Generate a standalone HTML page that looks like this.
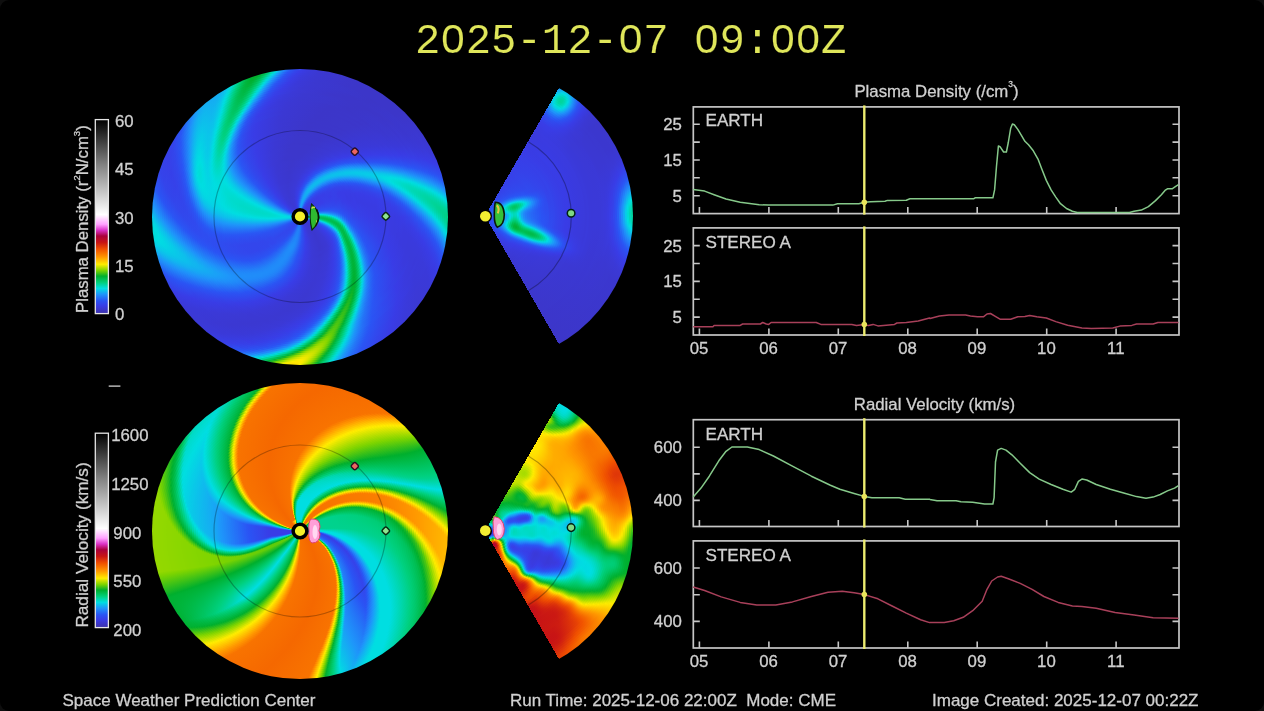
<!DOCTYPE html>
<html lang="en"><head><meta charset="utf-8"><title>WSA-Enlil Solar Wind Prediction</title>
<style>
html{margin:0;padding:0;background:#0e0e0e}
body{margin:0;padding:0;background:#000;border-radius:9px}
body{width:1264px;height:711px;overflow:hidden;position:relative;font-family:"Liberation Sans","DejaVu Sans",sans-serif}
.d{position:absolute;filter:blur(.7px)}
.d i{position:absolute;border-radius:50%;display:block}
.ov{position:absolute;left:0;top:0;filter:blur(.45px)}
.t{font-family:"Liberation Sans","DejaVu Sans",sans-serif;font-size:16.8px;fill:#d0d0d0;stroke:#d0d0d0;stroke-width:.3px}
</style></head><body>
<div class="d" style="left:151.5px;top:68.0px;width:297.0px;height:297.0px">
<i style="inset:0.5px;background:conic-gradient(from 90deg,#00d186 0deg,#00d288 1deg,#00d49b 3deg,#00d6ab 4deg,#00dcd6 6deg,#04d4e4 7deg,#1c9af9 10deg,#266cf6 13deg,#2a54f4 15deg,#3542ea 19deg,#393ce4 22deg,#3a39d8 28deg,#3b39d5 37deg,#3a3ada 45deg,#393ce6 53deg,#3345eb 59deg,#2a54f4 66deg,#2570f7 70deg,#1f8ff9 73deg,#13aff1 75deg,#03d7e3 77deg,#00dbcb 78deg,#00d186 80deg,#00b132 83deg,#28bb1f 84deg,#83d500 86deg,#cbe200 88deg,#e8e800 89deg,#feec00 90deg,#ffe400 91deg,#ffdf00 93deg,#ffec00 95deg,#e9e800 96deg,#cce300 97deg,#a9dc00 98deg,#80d500 99deg,#1fb822 101deg,#00b439 102deg,#00cd75 104deg,#00d49b 105deg,#00dac2 106deg,#02d9e3 107deg,#1f93fa 110deg,#2767f6 113deg,#2b52f3 115deg,#373fe8 121deg,#3a3ada 129deg,#3b39d6 136deg,#3a39d9 143deg,#393ce5 149deg,#3445eb 153deg,#2b53f3 157deg,#2764f5 159deg,#1d98f9 164deg,#0ac6e9 168deg,#00dde1 171deg,#00ddd7 174deg,#01dde1 177deg,#0ac6e9 180deg,#1d99f9 184deg,#2957f4 191deg,#3445eb 197deg,#373fe7 205deg,#3345eb 211deg,#2a54f4 216deg,#1e96fa 224deg,#16a9f4 227deg,#14aef2 229deg,#15abf3 235deg,#13b0f1 237deg,#0ebdec 239deg,#04d5e4 241deg,#00ddd8 242deg,#00d187 245deg,#00cb70 246deg,#00bb4b 248deg,#00b132 250deg,#02b02c 251deg,#03b02c 252deg,#00b030 253deg,#00b439 254deg,#00c25b 256deg,#00cc72 257deg,#00d392 258deg,#00dee0 260deg,#17a6f4 262deg,#208df9 263deg,#2a56f4 266deg,#3148ed 268deg,#393ce5 271deg,#3a3ada 274deg,#3b38d2 278deg,#3c36c9 293deg,#3c36c8 314deg,#3b38d3 331deg,#3a3ada 335deg,#393ce6 339deg,#2e4ef0 344deg,#2b53f3 345deg,#285ef5 346deg,#1d99f9 350deg,#04d4e5 353deg,#00dcd6 354deg,#00d7ac 356deg,#00d49c 357deg,#00d288 359deg,#00d186 360deg)"></i>
<i style="inset:2.5px;background:conic-gradient(from 90deg,#00d28b 0deg,#00d59e 2deg,#00d7ae 3deg,#00ddd8 5deg,#05d2e5 6deg,#1d98f9 9deg,#266bf6 12deg,#2b53f3 14deg,#3542ea 18deg,#393be3 21deg,#3a39d8 27deg,#3b39d5 36deg,#3a3ada 44deg,#393ce5 51deg,#3345eb 58deg,#2a54f4 65deg,#2570f7 69deg,#1f8ff9 72deg,#14aef2 74deg,#03d6e4 76deg,#00dbcc 77deg,#00d187 79deg,#00b132 82deg,#27bb1f 83deg,#82d500 85deg,#c8e200 87deg,#e3e700 88deg,#f7eb00 89deg,#ffe900 90deg,#ffe600 91deg,#fdec00 93deg,#ebe800 94deg,#d1e400 95deg,#b1de00 96deg,#8bd700 97deg,#5fcb0b 98deg,#00b030 100deg,#00c96c 102deg,#00d38f 103deg,#00dede 105deg,#1e97fa 108deg,#2477f7 110deg,#2a54f4 113deg,#3740e8 119deg,#3a3ada 127deg,#3b39d5 135deg,#3a39d9 142deg,#393ce5 148deg,#2b53f3 156deg,#1d97fa 163deg,#0fbaed 166deg,#04d5e4 169deg,#00dee0 171deg,#00dddb 173deg,#00dee1 175deg,#05d3e5 177deg,#0bc2eb 179deg,#1e96fa 183deg,#2a56f4 190deg,#3543ea 197deg,#373fe8 204deg,#3444eb 209deg,#2b52f3 214deg,#2957f4 215deg,#1f93fa 222deg,#15acf2 226deg,#13b1f1 228deg,#14aef2 234deg,#12b2f0 236deg,#0dbfec 238deg,#03d7e3 240deg,#00dcd4 241deg,#00d185 244deg,#00c35c 246deg,#00b63e 248deg,#00b030 250deg,#00b030 251deg,#00b336 252deg,#00bd50 254deg,#00cf7b 256deg,#00dac3 258deg,#03d7e3 259deg,#1a9ff7 261deg,#2475f7 263deg,#2a54f4 265deg,#3543ea 268deg,#393ce5 270deg,#3a3ada 273deg,#3b38d2 277deg,#3c36c9 292deg,#3c36c8 313deg,#3b38d2 329deg,#3a39d9 334deg,#393ce5 338deg,#2e4df0 343deg,#295cf5 345deg,#1e96fa 349deg,#05d1e6 352deg,#00ddda 353deg,#00d7af 355deg,#00d393 357deg,#00d289 359deg,#00d28b 360deg)"></i>
<i style="inset:4.5px;background:conic-gradient(from 90deg,#00d394 0deg,#00d7b0 2deg,#00ddda 4deg,#05d2e5 5deg,#1d97fa 8deg,#266bf6 11deg,#2b53f3 13deg,#3542e9 17deg,#393be3 20deg,#3a39d8 26deg,#3b39d5 35deg,#3a3adb 43deg,#393ce5 50deg,#3345eb 57deg,#2a54f4 64deg,#256ff6 68deg,#1f8ef9 71deg,#14adf2 73deg,#04d6e4 75deg,#00dbcd 76deg,#00d188 78deg,#00b132 81deg,#27ba1f 82deg,#80d500 84deg,#a5db00 85deg,#c4e100 86deg,#dde600 87deg,#f0e900 88deg,#faeb00 89deg,#fdec00 90deg,#f7eb00 91deg,#eae800 92deg,#d4e400 93deg,#b8df00 94deg,#95d800 95deg,#6ccf06 96deg,#0ab22a 98deg,#00b945 99deg,#00d184 101deg,#00dcd4 103deg,#07cde7 104deg,#1b9df8 106deg,#208af9 107deg,#266df6 109deg,#2a55f4 111deg,#3148ed 114deg,#383ee7 118deg,#3a39d9 126deg,#3b39d5 133deg,#3a39d9 141deg,#393ce5 147deg,#2a53f4 155deg,#1e97fa 162deg,#0fb9ee 165deg,#08cbe7 167deg,#01dce2 170deg,#00dee1 173deg,#03d6e4 175deg,#09c8e9 177deg,#1e94fa 182deg,#2a55f4 189deg,#3543ea 196deg,#373fe8 203deg,#3345eb 208deg,#2b53f3 213deg,#1e96fa 221deg,#17a6f4 223deg,#13b0f1 225deg,#11b5ef 228deg,#13b0f1 233deg,#11b4ef 235deg,#0cc2eb 237deg,#02d9e3 239deg,#00dcd2 240deg,#00d59f 242deg,#00d184 243deg,#00c35d 245deg,#00b741 247deg,#00b234 249deg,#00b235 250deg,#00b53c 251deg,#00c057 253deg,#00c86b 254deg,#00d184 255deg,#00dbcd 257deg,#06d0e6 258deg,#1d9af9 260deg,#2571f7 262deg,#2b53f3 264deg,#3542ea 267deg,#393ce4 269deg,#3a3ada 272deg,#3b38d2 277deg,#3c36c8 294deg,#3c36c9 315deg,#3b39d6 331deg,#383de7 338deg,#2c51f2 343deg,#2767f6 345deg,#1f93fa 348deg,#00dedf 352deg,#00d8b4 354deg,#00d497 356deg,#00d28c 358deg,#00d394 360deg)"></i>
<i style="inset:6.5px;background:conic-gradient(from 90deg,#00d5a1 0deg,#00d7b1 1deg,#00ddda 3deg,#05d1e5 4deg,#1d97fa 7deg,#266af6 10deg,#2b53f3 12deg,#3542e9 16deg,#393ce4 19deg,#3a39d8 25deg,#3b39d6 34deg,#3a3adb 42deg,#393ce6 49deg,#3149ee 58deg,#2a54f4 63deg,#2959f4 64deg,#2478f7 68deg,#1c9bf8 71deg,#04d4e4 74deg,#00dbce 75deg,#00d288 77deg,#00b133 80deg,#26ba1f 81deg,#7ed400 83deg,#a2db00 84deg,#c0e000 85deg,#d7e500 86deg,#e7e800 87deg,#efe900 88deg,#efe900 89deg,#e6e700 90deg,#d5e400 91deg,#bce000 92deg,#9dda00 93deg,#77d202 94deg,#18b624 96deg,#00b53d 97deg,#00ce79 99deg,#00dbc9 101deg,#04d4e5 102deg,#19a2f6 104deg,#1f8ef9 105deg,#2570f7 107deg,#2958f4 109deg,#3149ee 112deg,#373fe8 116deg,#3a39d9 124deg,#3b39d5 132deg,#3a39d9 140deg,#393ce6 146deg,#2a53f4 154deg,#1e96fa 161deg,#10b8ee 164deg,#09c9e8 166deg,#02d9e3 169deg,#01dce2 171deg,#03d7e3 173deg,#0ac5ea 176deg,#1f92fa 181deg,#2a54f4 188deg,#3443ea 195deg,#3740e8 202deg,#3346ec 207deg,#2a54f4 212deg,#1f92fa 219deg,#16aaf3 222deg,#12b4f0 224deg,#10b8ee 227deg,#12b2f0 232deg,#11b6ef 234deg,#0bc3ea 236deg,#01dbe2 238deg,#00dcd0 239deg,#00d185 242deg,#00c35f 244deg,#00b844 246deg,#00b439 248deg,#00b53b 249deg,#00b741 250deg,#00c35d 252deg,#00cb71 253deg,#00d28d 254deg,#00dcd6 256deg,#08cbe8 257deg,#1e95fa 259deg,#256ff6 261deg,#2b52f3 263deg,#3542e9 266deg,#393ce4 268deg,#3a3ada 271deg,#3b38d2 276deg,#3c36c9 292deg,#3c36c9 313deg,#3b38d4 329deg,#383de6 337deg,#304bef 341deg,#2957f4 343deg,#1f8ff9 347deg,#01dbe2 351deg,#00d6a8 354deg,#00d392 356deg,#00d28f 357deg,#00d390 358deg,#00d5a1 360deg)"></i>
<i style="inset:8.5px;background:conic-gradient(from 90deg,#00d7b2 0deg,#00ddda 2deg,#05d1e5 3deg,#1d97f9 6deg,#266bf6 9deg,#2b53f3 11deg,#3542e9 15deg,#393ce4 18deg,#3a39d9 24deg,#3b39d6 33deg,#3a3adb 40deg,#393ce6 48deg,#3149ee 57deg,#2a54f4 62deg,#2959f4 63deg,#2477f7 67deg,#1d99f9 70deg,#04d3e5 73deg,#00dcd0 74deg,#00d28a 76deg,#00b233 79deg,#25ba20 80deg,#7cd400 82deg,#9eda00 83deg,#badf00 84deg,#d0e300 85deg,#dde600 86deg,#e2e700 87deg,#dfe600 88deg,#d3e400 89deg,#bfe000 90deg,#a3db00 91deg,#81d500 92deg,#56c90e 93deg,#27ba1f 94deg,#00b234 95deg,#00cb71 97deg,#00d9be 99deg,#01dbe2 100deg,#17a8f4 102deg,#1f92fa 103deg,#2766f6 106deg,#2b52f3 108deg,#373fe8 114deg,#3a39d8 123deg,#3b38d4 131deg,#3a39d9 139deg,#393ce6 145deg,#2a54f4 153deg,#1e95fa 160deg,#11b6ef 163deg,#09c7e9 165deg,#03d7e4 168deg,#02d9e3 170deg,#04d4e4 172deg,#0cc2eb 175deg,#1f90f9 180deg,#2a54f4 187deg,#3445eb 193deg,#3740e8 200deg,#3346ec 206deg,#2a56f4 211deg,#1e95fa 218deg,#14adf2 221deg,#10b7ef 223deg,#0fbaed 226deg,#11b4f0 231deg,#10b8ee 233deg,#0bc5ea 235deg,#01dce2 237deg,#00dccf 238deg,#00d186 241deg,#00c461 243deg,#00ba47 245deg,#00b63e 247deg,#00ba47 249deg,#00c563 251deg,#00ce77 252deg,#00d395 253deg,#00dddd 255deg,#0ac6e9 256deg,#1f92fa 258deg,#285cf5 261deg,#2c51f2 262deg,#3542e9 265deg,#393ce4 267deg,#3a3ada 270deg,#3b38d2 275deg,#3c36c9 292deg,#3c36c9 312deg,#3b38d4 328deg,#3a3ada 332deg,#393ce6 336deg,#304aee 340deg,#2a54f4 342deg,#208bf9 346deg,#1b9df8 347deg,#03d6e4 350deg,#00dcd4 351deg,#00d7ad 353deg,#00d59f 354deg,#00d392 356deg,#00d393 357deg,#00d498 358deg,#00d7b2 360deg)"></i>
<i style="inset:10.5px;background:conic-gradient(from 90deg,#00dac4 0deg,#00ddda 1deg,#05d2e5 2deg,#1d98f9 5deg,#266bf6 8deg,#2b53f3 10deg,#3542ea 14deg,#393ce4 17deg,#3a39d9 23deg,#3b39d7 32deg,#3a3adb 39deg,#393ce6 47deg,#3149ee 56deg,#2a54f4 61deg,#2959f4 62deg,#2476f7 66deg,#1d98f9 69deg,#05d2e5 72deg,#00dcd2 73deg,#00d28b 75deg,#00b234 78deg,#23b920 79deg,#78d302 81deg,#9ad900 82deg,#b4de00 83deg,#c8e200 84deg,#d3e400 85deg,#d5e400 86deg,#cee300 87deg,#bfe000 88deg,#a8dc00 89deg,#89d600 90deg,#62cc0a 91deg,#03b02c 93deg,#00c767 95deg,#00d289 96deg,#00dddb 98deg,#09c8e9 99deg,#1e97fa 101deg,#2669f6 104deg,#2b53f3 106deg,#3740e8 112deg,#3a39d9 121deg,#3b38d4 129deg,#3a39d8 137deg,#393ce6 144deg,#2a54f4 152deg,#1e95fa 159deg,#11b4ef 162deg,#0ac5ea 164deg,#04d4e4 167deg,#03d6e4 169deg,#05d1e5 171deg,#0dbfec 174deg,#1d98f9 178deg,#266af6 183deg,#2a54f4 186deg,#3345eb 192deg,#3640e8 199deg,#3345eb 204deg,#2b52f3 209deg,#2861f5 211deg,#1d98f9 217deg,#13b1f1 220deg,#0fbaed 222deg,#0ebdec 225deg,#11b6ef 230deg,#0fbaee 232deg,#0ac6e9 234deg,#01dce2 236deg,#00dbcf 237deg,#00d187 240deg,#00c563 242deg,#00bb4b 244deg,#00b842 246deg,#00bc4c 248deg,#00c869 250deg,#00d07d 251deg,#01dce2 254deg,#17a7f4 256deg,#1f8ff9 257deg,#295bf5 260deg,#2c51f2 261deg,#393ce5 266deg,#3a39d9 270deg,#3b38d0 277deg,#3c36c7 302deg,#3b38d0 324deg,#3a39d8 330deg,#393ce5 335deg,#2e4df0 340deg,#2b52f3 341deg,#285df5 342deg,#1e97fa 346deg,#05d1e6 349deg,#00dddb 350deg,#00d8b3 352deg,#00d5a4 353deg,#00d395 355deg,#00d395 356deg,#00d49a 357deg,#00d5a4 358deg,#00dac4 360deg)"></i>
<i style="inset:12.5px;background:conic-gradient(from 90deg,#00ddd9 0deg,#05d2e5 1deg,#1d99f9 4deg,#266cf6 7deg,#2a53f4 9deg,#3542ea 13deg,#393ce4 16deg,#3a3ada 22deg,#3a39d7 31deg,#3a3adc 38deg,#393ce5 45deg,#304aee 55deg,#2a54f4 60deg,#2959f4 61deg,#2476f7 65deg,#1e97fa 68deg,#06d0e6 71deg,#00dcd4 72deg,#00d28d 74deg,#00c96d 75deg,#00b235 77deg,#20b921 78deg,#74d103 80deg,#95d800 81deg,#aedd00 82deg,#bee000 83deg,#c7e200 84deg,#c6e200 85deg,#bce000 86deg,#aadc00 87deg,#8fd700 88deg,#6ccf06 89deg,#42c215 90deg,#12b427 91deg,#00b740 92deg,#00d07d 94deg,#00dccf 96deg,#06cfe6 97deg,#1b9df8 99deg,#208af9 100deg,#266cf6 102deg,#2a54f4 104deg,#3345eb 108deg,#393ce6 112deg,#3a39d8 120deg,#3b38d3 128deg,#3a39d8 136deg,#393ce6 143deg,#2a54f4 151deg,#1e94fa 158deg,#12b3f0 161deg,#0bc3ea 163deg,#05d1e5 166deg,#05d3e5 168deg,#07cee7 170deg,#0ebced 173deg,#1e95fa 177deg,#2669f6 182deg,#2a53f4 185deg,#3345eb 191deg,#3640e9 198deg,#3346ec 203deg,#2a53f4 208deg,#1f92fa 215deg,#14aef2 218deg,#0dbeec 221deg,#0cc0eb 224deg,#10b8ee 229deg,#0ebced 231deg,#09c7e9 233deg,#00dde1 235deg,#00dbce 236deg,#00cc74 240deg,#00c158 242deg,#00bd4e 243deg,#00ba47 245deg,#00be52 247deg,#00ca6f 249deg,#00d186 250deg,#00dac7 252deg,#03d7e4 253deg,#19a3f6 255deg,#208cf9 256deg,#2959f4 259deg,#2d50f2 260deg,#393ce5 265deg,#3a39d9 269deg,#3b38d0 276deg,#3c36c8 301deg,#3b37cf 322deg,#3a39d7 329deg,#393ce4 334deg,#3247ed 338deg,#2959f4 341deg,#1f92fa 345deg,#00dde1 349deg,#00d8b9 351deg,#00d6a9 352deg,#00d499 354deg,#00d498 355deg,#00d6a5 357deg,#00d8b3 358deg,#00ddd9 360deg)"></i>
<i style="inset:14.5px;background:conic-gradient(from 90deg,#05d3e5 0deg,#1c9af9 3deg,#266df6 6deg,#2a54f4 8deg,#3346ec 11deg,#393ce5 15deg,#3a3ada 21deg,#3a39d8 30deg,#3a3adc 37deg,#393ce6 44deg,#304aee 54deg,#2a54f4 59deg,#285ff5 61deg,#2475f7 64deg,#1e95fa 67deg,#06cee6 70deg,#00ddd6 71deg,#00ca6f 74deg,#00b337 76deg,#1eb822 77deg,#49c513 78deg,#70d005 79deg,#8fd700 80deg,#a6dc00 81deg,#b5de00 82deg,#badf00 83deg,#b7df00 84deg,#aadc00 85deg,#94d800 86deg,#75d203 87deg,#4ec611 88deg,#21b921 89deg,#00b337 90deg,#00cc73 92deg,#00d49a 93deg,#00dac3 94deg,#03d7e3 95deg,#18a3f5 97deg,#1f8ef9 98deg,#256ff6 100deg,#2957f4 102deg,#3149ee 105deg,#383de6 110deg,#3a39d8 118deg,#3b38d3 127deg,#3a39d8 135deg,#393ce6 142deg,#2a54f4 150deg,#1f93fa 157deg,#13b1f1 160deg,#0cc1eb 162deg,#06cee6 165deg,#06d0e6 167deg,#08cbe8 169deg,#10b8ee 172deg,#1f93fa 176deg,#2668f6 181deg,#2b53f3 184deg,#3345eb 190deg,#3641e9 197deg,#3346ec 202deg,#2a55f4 207deg,#1e95fa 214deg,#13b2f0 217deg,#0dbeec 219deg,#0bc4ea 222deg,#0fbaed 228deg,#0ebdec 230deg,#09c9e8 232deg,#00dee1 234deg,#00cd76 239deg,#00c25b 241deg,#00be52 242deg,#00bc4c 244deg,#00c158 246deg,#00cd75 248deg,#00d28e 249deg,#00dcd0 251deg,#05d1e6 252deg,#1b9ef7 254deg,#2089f9 255deg,#2957f4 258deg,#3345eb 261deg,#393ce5 264deg,#3a39d9 268deg,#3b38d1 275deg,#3c36c8 300deg,#3b37cf 321deg,#3a39d7 328deg,#393be3 333deg,#3346ec 337deg,#2a55f4 340deg,#227ef8 343deg,#1a9ff7 345deg,#03d8e3 348deg,#00dcd3 349deg,#00d7af 351deg,#00d49c 353deg,#00d49a 354deg,#00d6a6 356deg,#00d8b3 357deg,#00ddd9 359deg,#05d3e5 360deg)"></i>
<i style="inset:16.5px;background:conic-gradient(from 90deg,#0cc2eb 0deg,#1c9cf8 2deg,#256ef6 5deg,#2a54f4 7deg,#3346ec 10deg,#393ce5 14deg,#3a3ada 20deg,#3a39d8 29deg,#393ce6 43deg,#304aee 53deg,#2a54f4 58deg,#285ff5 60deg,#2474f7 63deg,#1e94fa 66deg,#07cce7 69deg,#00ddda 70deg,#00cb71 73deg,#00b439 75deg,#1ab724 76deg,#45c314 77deg,#6bcf07 78deg,#88d600 79deg,#9eda00 80deg,#aadc00 81deg,#addd00 82deg,#a6dc00 83deg,#96d900 84deg,#7dd400 85deg,#5aca0d 86deg,#30bd1c 87deg,#00af2d 88deg,#00c869 90deg,#00d28c 91deg,#00dede 93deg,#0bc4ea 94deg,#1e94fa 96deg,#2766f6 99deg,#2b52f3 101deg,#373fe8 107deg,#3a39d8 116deg,#3b38d3 124deg,#3b39d7 133deg,#393ce4 140deg,#3443ea 144deg,#2a54f4 149deg,#1f93fa 156deg,#10b8ee 160deg,#09c9e8 163deg,#07cde7 166deg,#09c8e9 168deg,#0ebded 170deg,#1f91fa 175deg,#2767f6 180deg,#2b53f3 183deg,#3345eb 189deg,#3641e9 196deg,#3149ee 202deg,#2958f4 206deg,#1d99f9 213deg,#11b6ef 216deg,#0cc1eb 218deg,#0ac7e9 221deg,#0ebced 227deg,#0dbfec 229deg,#08cbe8 231deg,#00dedf 233deg,#00cd77 238deg,#00c35d 240deg,#00be51 242deg,#00c055 244deg,#00c96b 246deg,#00d07d 247deg,#00d498 248deg,#00ddd9 250deg,#08cbe8 251deg,#1d99f9 253deg,#2474f7 255deg,#2a55f4 257deg,#3445eb 260deg,#393ce5 263deg,#3a3ada 267deg,#3b38d2 273deg,#3c36c8 294deg,#3c37cb 314deg,#3b38d2 323deg,#3a3ada 329deg,#383ee7 334deg,#2b53f3 339deg,#266bf6 341deg,#1d99f9 344deg,#05d2e5 347deg,#00ddda 348deg,#00d8b5 350deg,#00d6a8 351deg,#00d5a0 352deg,#00d59d 353deg,#00d5a0 354deg,#00d6a7 355deg,#00d8b3 356deg,#00ddd8 358deg,#04d4e4 359deg,#0cc2eb 360deg)"></i>
<i style="inset:18.5px;background:conic-gradient(from 90deg,#13b0f1 0deg,#1b9df8 1deg,#208cf9 2deg,#2a55f4 6deg,#3543ea 10deg,#393be3 14deg,#3a3ada 20deg,#3a39d9 28deg,#393ce5 41deg,#304aee 52deg,#2a54f4 57deg,#285ef5 59deg,#2473f7 62deg,#1f92fa 65deg,#11b5ef 67deg,#00dddd 69deg,#00cc73 72deg,#00b53b 74deg,#16b525 75deg,#40c216 76deg,#65cd09 77deg,#81d500 78deg,#94d800 79deg,#9eda00 80deg,#9eda00 81deg,#95d800 82deg,#81d500 83deg,#64cc09 84deg,#3dc117 85deg,#11b427 86deg,#00b740 87deg,#00d07d 89deg,#00dcd1 91deg,#07cde7 92deg,#1c9af9 94deg,#2478f7 96deg,#2a53f4 99deg,#3640e8 105deg,#3a39d7 115deg,#3b38d2 123deg,#3b39d7 132deg,#393ce4 139deg,#3444ea 143deg,#2a54f4 148deg,#1f92fa 155deg,#11b6ef 159deg,#0ac6e9 162deg,#08cae8 165deg,#0bc4ea 167deg,#0fb9ee 169deg,#1d97fa 173deg,#2766f6 179deg,#2b52f3 182deg,#3345eb 188deg,#3641e9 194deg,#3346ec 199deg,#2a53f4 204deg,#1e94fa 211deg,#12b2f0 214deg,#0ac5ea 217deg,#08cae8 220deg,#0dbfec 225deg,#0cc1eb 228deg,#03d6e4 231deg,#00dddc 232deg,#00ce77 237deg,#00c45f 239deg,#00c055 241deg,#00c25b 243deg,#00cc73 245deg,#00d187 246deg,#01dce2 249deg,#1f93fa 252deg,#256ff6 254deg,#2b53f3 256deg,#3444eb 259deg,#393ce4 262deg,#3a3ada 266deg,#3b38d3 271deg,#3c36c9 290deg,#3c36c9 309deg,#3b39d5 325deg,#383ee7 333deg,#2c51f2 338deg,#2767f6 340deg,#1e94fa 343deg,#00dee1 347deg,#00d9bb 349deg,#00d7ad 350deg,#00d5a4 351deg,#00d5a0 352deg,#00d5a2 353deg,#00d6a8 354deg,#00d8b4 355deg,#00ddd7 357deg,#04d5e4 358deg,#13b0f1 360deg)"></i>
<i style="inset:20.5px;background:conic-gradient(from 90deg,#1b9ef7 0deg,#227ef8 2deg,#2a56f4 5deg,#3247ec 8deg,#393ce6 12deg,#3a3adc 17deg,#3a39d9 25deg,#3a3add 33deg,#393ce6 40deg,#2a54f4 56deg,#2572f7 61deg,#2184f8 63deg,#1a9ff7 65deg,#00dde1 68deg,#00cd76 71deg,#00b63e 73deg,#10b427 74deg,#3ac018 75deg,#5dcb0b 76deg,#79d301 77deg,#8bd600 78deg,#92d800 79deg,#8fd700 80deg,#83d500 81deg,#6bcf06 82deg,#4ac512 83deg,#21b921 84deg,#00b235 85deg,#00cb71 87deg,#00d497 88deg,#00dac1 89deg,#03d8e3 90deg,#19a2f6 92deg,#208df9 93deg,#256ef6 95deg,#2a56f4 97deg,#3149ee 100deg,#383de7 105deg,#3a39d8 113deg,#3b38d2 122deg,#3b39d7 131deg,#393ce4 138deg,#3444eb 142deg,#2a55f4 147deg,#1f91fa 154deg,#11b4f0 158deg,#0bc4ea 161deg,#0ac7e9 164deg,#0cc1eb 166deg,#11b6ef 168deg,#1e95fa 172deg,#2a56f4 180deg,#3345eb 187deg,#3542ea 194deg,#3149ee 199deg,#2a56f4 203deg,#1d99f9 210deg,#10b8ee 213deg,#08cae8 216deg,#07cde7 219deg,#0cc1eb 224deg,#0bc3ea 227deg,#02d9e3 230deg,#00ddd8 231deg,#00d188 235deg,#00cd77 236deg,#00c561 238deg,#00c15a 240deg,#00c562 242deg,#00d07c 244deg,#00d394 245deg,#00dcd1 247deg,#05d2e5 248deg,#19a2f6 250deg,#208df9 251deg,#295cf5 254deg,#2c51f2 255deg,#3543ea 258deg,#393ce4 261deg,#3b39d5 269deg,#3c36ca 285deg,#3c36c8 303deg,#3b37cf 319deg,#3a39d9 327deg,#393de6 332deg,#2d50f1 337deg,#2a56f4 338deg,#1f8ff9 342deg,#1aa1f6 343deg,#02d8e3 346deg,#00dcd3 347deg,#00d7b2 349deg,#00d6a8 350deg,#00d5a4 351deg,#00d5a4 352deg,#00d8b4 354deg,#00dcd6 356deg,#03d6e4 357deg,#1b9ef7 360deg)"></i>
<i style="inset:22.5px;background:conic-gradient(from 90deg,#1f8ef9 0deg,#2a57f4 4deg,#2f4bef 6deg,#3641e9 9deg,#393ce6 11deg,#3a3ade 15deg,#3a3ada 20deg,#3a3ade 33deg,#383ee7 41deg,#2a54f4 55deg,#2570f7 60deg,#2282f8 62deg,#1c9bf8 64deg,#02d9e3 67deg,#00dac5 68deg,#00cf7a 70deg,#00b842 72deg,#09b22a 73deg,#32be1b 74deg,#55c80e 75deg,#6fd005 76deg,#80d500 77deg,#85d600 78deg,#80d500 79deg,#70d005 80deg,#55c80e 81deg,#31bd1b 82deg,#05b12b 83deg,#00b946 84deg,#00d185 86deg,#00ddda 88deg,#0ac7e9 89deg,#1e94fa 91deg,#2766f6 94deg,#2b52f3 96deg,#3740e8 102deg,#3a39d7 112deg,#3b38d2 120deg,#3b39d6 129deg,#393ce5 137deg,#3247ec 142deg,#2a55f4 146deg,#1f91fa 153deg,#12b3f0 157deg,#0cc1eb 160deg,#0bc3ea 163deg,#0dbeec 165deg,#12b3f0 167deg,#1f92fa 171deg,#2a55f4 179deg,#3247ec 185deg,#3543ea 192deg,#3148ed 197deg,#2a53f4 201deg,#266df6 204deg,#1e94fa 208deg,#11b5ef 211deg,#08cae8 214deg,#06d0e6 217deg,#0cc2eb 223deg,#0ac5ea 226deg,#01dce2 229deg,#00dcd3 230deg,#00d185 234deg,#00cd76 235deg,#00c563 237deg,#00c35f 239deg,#00c562 240deg,#00cd77 242deg,#00d28a 243deg,#00d5a4 244deg,#00dee1 246deg,#1d97fa 249deg,#2474f7 251deg,#2a57f4 253deg,#304aee 255deg,#373fe8 258deg,#3b39d6 267deg,#3c37cb 282deg,#3c36c8 298deg,#3c37cc 313deg,#3b39d6 324deg,#373fe7 332deg,#2a53f4 337deg,#266cf6 339deg,#1c9bf8 342deg,#05d3e5 345deg,#00ddda 346deg,#00d8b8 348deg,#00d7ad 349deg,#00d6a7 350deg,#00d6a7 351deg,#00d6ab 352deg,#00d8b5 353deg,#00dcd5 355deg,#03d7e4 356deg,#1aa0f7 359deg,#1f8ef9 360deg)"></i>
<i style="inset:24.5px;background:conic-gradient(from 90deg,#2280f8 0deg,#2957f4 3deg,#2c50f2 4deg,#393ce6 10deg,#3a3add 15deg,#3a39d9 22deg,#3a3adc 30deg,#393ce6 38deg,#2a53f4 54deg,#256ef6 59deg,#2280f8 61deg,#1d98f9 63deg,#04d5e4 66deg,#00dbcb 67deg,#00d07f 69deg,#01af2d 72deg,#2abb1e 73deg,#4cc612 74deg,#65cd09 75deg,#74d103 76deg,#77d202 77deg,#6fd005 78deg,#5cca0c 79deg,#3ec117 80deg,#18b624 81deg,#00b43a 82deg,#00cd75 84deg,#00dbc8 86deg,#05d2e5 87deg,#1b9df7 89deg,#2089f9 90deg,#266bf6 92deg,#2a54f4 94deg,#3148ed 97deg,#383de7 102deg,#3a39d8 110deg,#3b38d2 119deg,#3b39d6 128deg,#393ce5 136deg,#3247ed 141deg,#2a56f4 145deg,#1f91fa 152deg,#13b1f1 156deg,#0dbfec 159deg,#0cc1eb 161deg,#0dbeec 163deg,#14aff1 166deg,#1d97fa 169deg,#2a54f4 178deg,#3247ec 184deg,#3443ea 191deg,#304aee 196deg,#2958f4 200deg,#1f91fa 206deg,#0ebced 210deg,#06cfe6 213deg,#05d3e5 216deg,#0ac5ea 221deg,#0bc4ea 224deg,#03d6e4 227deg,#00dede 228deg,#00d181 233deg,#00c96b 235deg,#00c563 237deg,#00c86a 239deg,#00cc74 240deg,#00d184 241deg,#00d49b 242deg,#00dcd4 244deg,#06d0e6 245deg,#19a2f6 247deg,#208df9 248deg,#266cf6 250deg,#2b52f3 252deg,#3444eb 255deg,#393ce5 258deg,#3a3ada 263deg,#3b38d0 272deg,#3c36c8 297deg,#3b38d0 318deg,#3a39d8 325deg,#393ce5 330deg,#3248ed 334deg,#2b52f3 336deg,#295bf5 337deg,#1e95fa 341deg,#00dee1 345deg,#00d9bd 347deg,#00d7b1 348deg,#00d6ab 349deg,#00d6a9 350deg,#00d7ad 351deg,#00d8b6 352deg,#00dcd5 354deg,#03d7e3 355deg,#1aa1f6 358deg,#2280f8 360deg)"></i>
<i style="inset:26.5px;background:conic-gradient(from 90deg,#2572f7 0deg,#2958f4 2deg,#2c50f2 3deg,#393ce6 9deg,#3a3add 14deg,#3a3ada 21deg,#3a3add 29deg,#393ce6 37deg,#3149ee 47deg,#2a57f4 54deg,#2474f7 59deg,#1e94fa 62deg,#18a5f5 63deg,#06d0e6 65deg,#00dcd2 66deg,#00d186 68deg,#00c767 69deg,#00b131 71deg,#43c315 73deg,#5aca0c 74deg,#67ce08 75deg,#69ce07 76deg,#5ecb0b 77deg,#48c413 78deg,#28bb1f 79deg,#00af2e 80deg,#00c767 82deg,#00d28a 83deg,#00dedf 85deg,#17a8f4 87deg,#1f91fa 88deg,#2570f7 90deg,#2958f4 92deg,#304aee 95deg,#383ee7 100deg,#3b39d7 109deg,#3b38d1 118deg,#3b39d6 127deg,#393ce6 135deg,#3248ed 140deg,#2957f4 144deg,#1f91fa 151deg,#13b0f1 155deg,#0ebded 158deg,#0dbeec 160deg,#0fbbed 162deg,#15abf3 165deg,#1e94fa 168deg,#2a54f4 177deg,#3247ec 183deg,#3444eb 189deg,#314aee 194deg,#2a56f4 198deg,#2571f7 201deg,#1c9af9 205deg,#0ebced 208deg,#05d1e6 211deg,#03d6e4 214deg,#0ac6e9 220deg,#0ac7e9 223deg,#01dbe2 226deg,#00dcd6 227deg,#00d07d 232deg,#00c96c 234deg,#00c768 235deg,#00c96c 237deg,#00d181 239deg,#00d496 240deg,#00dbcc 242deg,#03d7e3 243deg,#1e94fa 246deg,#2572f7 248deg,#2a56f4 250deg,#3346ec 253deg,#393ce4 257deg,#3a3ada 262deg,#3b38d1 271deg,#3c36c8 296deg,#3b38d0 317deg,#3a39d8 324deg,#393ce4 329deg,#3247ec 333deg,#2958f4 336deg,#1f91fa 340deg,#02d9e3 344deg,#00dcd3 345deg,#00d8b6 347deg,#00d7ae 348deg,#00d7ac 349deg,#00d7af 350deg,#00d8b7 351deg,#00dcd5 353deg,#03d8e3 354deg,#19a1f6 357deg,#1f90f9 358deg,#2572f7 360deg)"></i>
<i style="inset:28.5px;background:conic-gradient(from 90deg,#2764f5 0deg,#2958f4 1deg,#2c51f2 2deg,#393de6 8deg,#3a3add 13deg,#3a3ada 20deg,#3a3add 28deg,#393ce6 36deg,#3149ee 46deg,#2a56f4 53deg,#2474f7 58deg,#1f93fa 61deg,#18a4f5 62deg,#07cee6 64deg,#00dcd4 65deg,#00d288 67deg,#00c869 68deg,#00b233 70deg,#1db822 71deg,#3dc117 72deg,#54c80f 73deg,#5fcb0b 74deg,#5ecb0b 75deg,#51c710 76deg,#38c019 77deg,#15b525 78deg,#00b43a 79deg,#00cc74 81deg,#00dac7 83deg,#05d3e5 84deg,#1b9df8 86deg,#2089f9 87deg,#266af6 89deg,#2a53f4 91deg,#3148ed 94deg,#383de7 99deg,#3b39d6 108deg,#3b38d1 116deg,#3b39d5 125deg,#393ce4 133deg,#3543ea 137deg,#2b52f3 142deg,#1f91fa 150deg,#14aef2 154deg,#0fbaed 157deg,#0ebbed 159deg,#14aef2 163deg,#1f91fa 167deg,#2765f6 173deg,#2b53f3 176deg,#3247ec 182deg,#3345eb 188deg,#314aee 192deg,#2a55f4 196deg,#256ff6 199deg,#1d98f9 203deg,#0bc5ea 207deg,#03d6e4 210deg,#02d8e3 213deg,#09c8e9 218deg,#0ac6e9 221deg,#03d7e3 224deg,#00dedd 225deg,#00d187 230deg,#00cf7a 231deg,#00ca6d 233deg,#00c96c 234deg,#00cd75 236deg,#00d181 237deg,#00d6ab 239deg,#01dce2 241deg,#1d9af9 244deg,#2668f6 247deg,#2c51f2 249deg,#3444eb 252deg,#393ce6 255deg,#3a3adb 260deg,#3b38d1 269deg,#3c36c8 294deg,#3b37cf 315deg,#3a39d8 323deg,#393be3 328deg,#3542ea 331deg,#2a54f4 335deg,#227df8 338deg,#1b9ef7 340deg,#04d5e4 343deg,#00ddd9 344deg,#00d9ba 346deg,#00d7b2 347deg,#00d7af 348deg,#00d7b1 349deg,#00d8b9 350deg,#00dcd6 352deg,#03d8e3 353deg,#19a2f6 356deg,#1f90f9 357deg,#2764f5 360deg)"></i>
<i style="inset:30.5px;background:conic-gradient(from 90deg,#2958f4 0deg,#3248ed 3deg,#393ce4 8deg,#3a3add 13deg,#3a3ada 20deg,#383de7 36deg,#2a56f4 52deg,#2474f7 57deg,#1e94fa 60deg,#18a5f5 61deg,#06d0e6 63deg,#00dcd2 64deg,#00d185 66deg,#00c767 67deg,#00b132 69deg,#3dc117 71deg,#51c710 72deg,#5aca0d 73deg,#56c80e 74deg,#47c414 75deg,#2cbc1d 76deg,#07b12b 77deg,#00b843 78deg,#00d07e 80deg,#00dcd4 82deg,#09cae8 83deg,#1e95fa 85deg,#2765f6 88deg,#2b52f3 90deg,#3640e8 96deg,#3b39d7 106deg,#3b38d1 114deg,#3b39d5 123deg,#393be2 131deg,#3641e9 135deg,#2b53f3 141deg,#1f91fa 149deg,#17a7f4 152deg,#11b5ef 155deg,#10b8ee 158deg,#16aaf3 162deg,#1e95fa 165deg,#2a56f4 174deg,#3148ed 180deg,#3345eb 186deg,#304aee 190deg,#2a54f4 194deg,#256ef6 197deg,#1d97fa 201deg,#0ac5ea 205deg,#02d8e3 208deg,#01dce2 211deg,#0ac7e9 218deg,#09c9e8 220deg,#04d4e5 222deg,#01dce2 223deg,#00dcd5 224deg,#00d183 229deg,#00ce79 230deg,#00cb71 232deg,#00ce78 234deg,#00d182 235deg,#00d6a9 237deg,#00dede 239deg,#1a9ff7 242deg,#208cf9 243deg,#266cf6 245deg,#2b53f3 247deg,#3345eb 250deg,#393ce5 254deg,#3a39d9 260deg,#3b38d0 270deg,#3c36c8 295deg,#3b38d0 316deg,#3a39d9 323deg,#393ce6 328deg,#3345eb 331deg,#2b53f3 334deg,#266bf6 336deg,#1d99f9 339deg,#06d1e6 342deg,#00dede 343deg,#00d9bf 345deg,#00d8b6 346deg,#00d7b2 347deg,#00d8b4 348deg,#00d9ba 349deg,#00ddd7 351deg,#03d7e3 352deg,#1f90f9 356deg,#2958f4 360deg)"></i>
<i style="inset:32.5px;background:conic-gradient(from 90deg,#2c50f2 0deg,#393de6 6deg,#3a3ade 11deg,#3a3adb 16deg,#3a3add 25deg,#3641e9 38deg,#2a56f4 51deg,#2474f7 56deg,#1e94fa 59deg,#17a6f4 60deg,#05d2e5 62deg,#00dbcf 63deg,#00d182 65deg,#00c664 66deg,#00b030 68deg,#3cc117 70deg,#4ec611 71deg,#54c80f 72deg,#4ec611 73deg,#3cc117 74deg,#1fb822 75deg,#00b132 76deg,#00c869 78deg,#00d28c 79deg,#00dde1 81deg,#18a6f5 83deg,#1f8ff9 84deg,#256ef6 86deg,#2a56f4 88deg,#3149ee 91deg,#383de7 96deg,#3b39d6 105deg,#3b38d1 113deg,#3b39d5 122deg,#393be2 130deg,#3542e9 134deg,#2a54f4 140deg,#1f91fa 148deg,#17a6f4 151deg,#12b3f0 154deg,#11b6ef 156deg,#12b3f0 158deg,#17a6f4 161deg,#1f92fa 164deg,#2a55f4 173deg,#3149ed 179deg,#3246ec 185deg,#2a54f4 192deg,#256df6 195deg,#1e96fa 199deg,#0ac5ea 203deg,#04d5e4 205deg,#00dee1 207deg,#00dde1 210deg,#08cae8 215deg,#09c8e9 217deg,#08cce7 219deg,#02d9e3 221deg,#00dddb 222deg,#00d28b 227deg,#00d07f 228deg,#00cd76 230deg,#00cf7a 232deg,#00d184 233deg,#00d6a8 235deg,#00dddb 237deg,#07cee7 238deg,#1f8ff9 241deg,#2570f7 243deg,#2a55f4 245deg,#3247ec 248deg,#393ce6 252deg,#3a3adc 257deg,#3b38d4 264deg,#3c36c9 285deg,#3c36ca 305deg,#3a39d7 321deg,#383ee7 328deg,#2c52f3 333deg,#2668f6 335deg,#1e95fa 338deg,#01dce2 342deg,#00dac3 344deg,#00d8b9 345deg,#00d8b5 346deg,#00d8b6 347deg,#00d9bd 348deg,#00ddd8 350deg,#03d6e4 351deg,#1f90f9 355deg,#2764f5 358deg,#2958f4 359deg,#2c50f2 360deg)"></i>
<i style="inset:34.5px;background:conic-gradient(from 90deg,#2f4bef 0deg,#393de6 5deg,#3a3ade 10deg,#3a3adb 16deg,#3a3add 24deg,#393ce6 32deg,#3443ea 39deg,#2a56f4 50deg,#2766f6 53deg,#2475f7 55deg,#1e96fa 58deg,#17a8f4 59deg,#04d4e4 61deg,#00dbcb 62deg,#00d07e 64deg,#00b02f 67deg,#21b921 68deg,#3bc018 69deg,#4ac512 70deg,#4ec611 71deg,#45c314 72deg,#30bd1c 73deg,#10b427 74deg,#00b53b 75deg,#00cc74 77deg,#00dac6 79deg,#05d3e5 80deg,#1b9df8 82deg,#2088f9 83deg,#2669f6 85deg,#2b53f3 87deg,#3248ed 90deg,#393de6 95deg,#3b39d7 103deg,#3b38d1 112deg,#3b39d5 121deg,#393be3 129deg,#3345eb 134deg,#2a55f4 139deg,#1f91fa 147deg,#18a5f5 150deg,#13b1f1 153deg,#12b3f0 155deg,#13b0f1 157deg,#19a2f6 160deg,#1e95fa 162deg,#2a54f4 172deg,#3149ed 178deg,#3247ec 183deg,#2e4ef0 188deg,#2a54f4 190deg,#295bf5 191deg,#1e95fa 197deg,#0ac6e9 201deg,#01dce2 204deg,#00dddb 207deg,#00dee1 209deg,#07cde7 213deg,#09c9e8 215deg,#08cbe7 217deg,#00dee0 220deg,#00d394 225deg,#00d07f 227deg,#00cf7b 228deg,#00d07e 230deg,#00d187 231deg,#00d6a8 233deg,#00ddd9 235deg,#06d0e6 236deg,#1f92fa 239deg,#2958f4 243deg,#3248ed 246deg,#383de7 250deg,#3a3add 255deg,#3b38d4 263deg,#3c36c9 285deg,#3c37cb 305deg,#3a39d8 321deg,#383de7 327deg,#2f4bef 331deg,#2958f4 333deg,#1f92fa 337deg,#02d8e3 341deg,#00ddd7 342deg,#00dbc8 343deg,#00d9be 344deg,#00d8ba 345deg,#00d9ba 346deg,#00d9c0 347deg,#00dddb 349deg,#04d4e4 350deg,#1a9ff7 353deg,#1f8ef9 354deg,#2a57f4 358deg,#2f4bef 360deg)"></i>
<i style="inset:36.5px;background:conic-gradient(from 90deg,#3247ec 0deg,#393ce4 5deg,#3a3add 10deg,#3a3adb 16deg,#3a3ade 23deg,#393ce6 31deg,#3248ed 41deg,#2b53f3 48deg,#295bf5 50deg,#2475f7 54deg,#1d98f9 57deg,#16aaf3 58deg,#03d8e3 60deg,#00dac6 61deg,#00cf7a 63deg,#00b844 65deg,#01af2d 66deg,#22b921 67deg,#3ac018 68deg,#46c414 69deg,#47c414 70deg,#3bc018 71deg,#23b920 72deg,#00af2d 73deg,#00b945 74deg,#00d080 76deg,#00dcd6 78deg,#09c8e9 79deg,#1e94fa 81deg,#2572f7 83deg,#2958f4 85deg,#2e4df0 87deg,#373fe8 92deg,#3a39d7 101deg,#3b38d2 108deg,#3b38d3 117deg,#3a3add 125deg,#373fe8 130deg,#2b52f3 137deg,#1f92fa 146deg,#18a4f5 149deg,#14aff1 152deg,#13b0f1 154deg,#18a3f5 158deg,#1f91fa 161deg,#2763f5 168deg,#2b53f3 171deg,#304aee 176deg,#3248ed 181deg,#2e4ef0 186deg,#295af5 189deg,#2474f7 192deg,#1e94fa 195deg,#0ac5ea 199deg,#00dee1 202deg,#00ddd8 204deg,#00ddd7 205deg,#00dee1 208deg,#07cde7 212deg,#08cae8 214deg,#06cfe6 216deg,#01dce2 218deg,#00ddd8 219deg,#00d390 224deg,#00d181 226deg,#00d07f 227deg,#00d182 228deg,#00d497 230deg,#00d6a9 231deg,#00dcd6 233deg,#05d3e5 234deg,#1e95fa 237deg,#295cf5 241deg,#2e4df0 243deg,#383ee7 248deg,#3b38d4 262deg,#3c36c9 283deg,#3c36ca 303deg,#3b39d7 319deg,#393de6 326deg,#2d4ff1 331deg,#2a56f4 332deg,#1f8ef9 336deg,#1aa0f7 337deg,#04d4e5 340deg,#00dddc 341deg,#00dac3 343deg,#00d9be 344deg,#00d9bf 345deg,#00dac5 346deg,#00dedf 348deg,#0cc1eb 350deg,#1b9df8 352deg,#2862f5 356deg,#2a55f4 357deg,#3247ec 360deg)"></i>
<i style="inset:38.5px;background:conic-gradient(from 90deg,#3443ea 0deg,#393ce4 4deg,#3a3ade 9deg,#3a3adc 16deg,#393ce6 30deg,#304bef 42deg,#2b53f4 47deg,#2861f5 50deg,#2476f7 53deg,#1c9af9 56deg,#14aef2 57deg,#01dce2 59deg,#00cd75 62deg,#00b740 64deg,#06b12b 65deg,#24ba20 66deg,#39c018 67deg,#42c315 68deg,#3fc216 69deg,#2fbd1c 70deg,#14b526 71deg,#00b337 72deg,#00ca6d 74deg,#00d392 75deg,#00d9bd 76deg,#02dae3 77deg,#19a2f6 79deg,#208cf9 80deg,#266cf6 82deg,#2a54f4 84deg,#3148ed 87deg,#393de6 92deg,#3b39d7 100deg,#3b38d1 108deg,#3b38d4 117deg,#3a3be0 125deg,#373fe8 129deg,#2b53f3 136deg,#1f92fa 145deg,#1b9ef7 147deg,#15abf3 150deg,#15adf2 153deg,#1a9ff7 157deg,#1e93fa 159deg,#2a55f4 169deg,#304bef 174deg,#3148ed 180deg,#2e4ef0 184deg,#2959f4 187deg,#2572f7 190deg,#1f91fa 193deg,#0cc2eb 197deg,#01dce2 200deg,#00ddd6 203deg,#01dce2 207deg,#06d0e6 210deg,#08cce7 212deg,#06cfe6 214deg,#02dae2 216deg,#00dddc 217deg,#00d499 222deg,#00d289 224deg,#00d186 225deg,#00d288 226deg,#00d49a 228deg,#00d6aa 229deg,#00dcd4 231deg,#03d6e4 232deg,#1c9bf8 235deg,#237bf8 237deg,#2a55f4 240deg,#3248ed 243deg,#383de7 247deg,#3b38d3 262deg,#3c36c9 283deg,#3c37cb 303deg,#3a39d8 319deg,#393ce6 325deg,#3345eb 328deg,#2a54f4 331deg,#256df6 333deg,#1c9bf8 336deg,#0dc0ec 338deg,#00dee1 340deg,#00dbc8 342deg,#00dac3 343deg,#00dac3 344deg,#00dbc9 345deg,#01dde1 347deg,#0dbfec 349deg,#1c9bf8 351deg,#256ef6 354deg,#2a54f4 356deg,#3443ea 360deg)"></i>
<i style="inset:40.5px;background:conic-gradient(from 90deg,#3640e9 0deg,#3a3ade 8deg,#3a3adc 16deg,#393de6 29deg,#2e4ef0 43deg,#2a53f4 46deg,#2668f6 50deg,#2282f8 53deg,#1b9ef7 55deg,#09c9e8 57deg,#00dddc 58deg,#00d390 60deg,#00ca6f 61deg,#00b53b 63deg,#0bb229 64deg,#27ba1f 65deg,#38bf19 66deg,#3cc117 67deg,#35bf1a 68deg,#21b921 69deg,#02af2c 70deg,#00b843 71deg,#00cf7b 73deg,#00dcd0 75deg,#07cce7 76deg,#1e96fa 78deg,#2765f6 81deg,#2c52f3 83deg,#3444eb 87deg,#393ce5 91deg,#3b39d6 99deg,#3b38d1 108deg,#3b39d7 118deg,#393ce6 126deg,#2a54f4 135deg,#2186f9 142deg,#1b9ef7 146deg,#16a9f3 149deg,#16aaf3 151deg,#1aa0f7 155deg,#1e95fa 157deg,#2a54f4 168deg,#304bef 173deg,#3149ee 178deg,#2e4ef0 182deg,#2957f4 185deg,#2570f7 188deg,#1d99f9 192deg,#09c7e9 196deg,#00dde1 199deg,#00ddd9 202deg,#00dde1 205deg,#07cee6 210deg,#06d0e6 212deg,#02d9e3 214deg,#00dede 215deg,#00d5a1 220deg,#00d392 222deg,#00d38f 223deg,#00d396 225deg,#00d59f 226deg,#00d7ad 227deg,#00dcd3 229deg,#03d8e3 230deg,#1aa0f6 233deg,#2281f8 235deg,#295af5 238deg,#2e4ef0 240deg,#373fe8 245deg,#3b38d4 260deg,#3c36c9 281deg,#3c36ca 301deg,#3b39d6 317deg,#393ce6 324deg,#3445eb 327deg,#2b52f3 330deg,#266af6 332deg,#1d97f9 335deg,#0ebced 337deg,#02dae2 339deg,#00dbcd 341deg,#00dac8 342deg,#00dac8 343deg,#00dbcd 344deg,#00ddd7 345deg,#02dae2 346deg,#0ebced 348deg,#1d98f9 350deg,#266cf6 353deg,#2a53f4 355deg,#3640e9 360deg)"></i>
<i style="inset:42.5px;background:conic-gradient(from 90deg,#383ee7 0deg,#3a3ade 7deg,#3a3add 15deg,#393ce6 27deg,#2f4df0 41deg,#2a54f4 45deg,#2763f5 48deg,#237af7 51deg,#1f92fa 53deg,#19a3f6 54deg,#06cfe6 56deg,#00dcd2 57deg,#00d186 59deg,#00c768 60deg,#00b336 62deg,#11b427 63deg,#29bb1e 64deg,#35bf1a 65deg,#35bf1a 66deg,#28bb1e 67deg,#10b427 68deg,#00b338 69deg,#00c96d 71deg,#00d390 72deg,#00d9bb 73deg,#01dbe2 74deg,#19a3f6 76deg,#208df9 77deg,#266cf6 79deg,#2a54f4 81deg,#3248ed 84deg,#383ee7 88deg,#3a39d8 96deg,#3b38d1 103deg,#3b38d3 112deg,#3a3adc 120deg,#383de6 125deg,#2c51f2 133deg,#2a55f4 134deg,#1f92fa 143deg,#1b9df8 145deg,#17a7f4 148deg,#17a7f4 150deg,#1c9cf8 154deg,#2b53f3 167deg,#304bef 172deg,#304aee 177deg,#2b53f3 182deg,#285ef5 184deg,#1e95fa 190deg,#0bc3ea 194deg,#04d4e5 196deg,#00dee1 198deg,#00dddc 200deg,#00dde1 203deg,#06d0e6 208deg,#05d2e5 210deg,#02dae3 212deg,#00dedf 213deg,#00d5a0 219deg,#00d498 221deg,#00d49d 223deg,#00d6a5 224deg,#00d7b2 225deg,#00dcd4 227deg,#03d8e3 228deg,#1f93fa 232deg,#266af6 235deg,#2a54f4 237deg,#3148ed 240deg,#373fe8 244deg,#3b38d3 261deg,#3c36c9 282deg,#3c37cb 302deg,#3a39d9 318deg,#383ee7 324deg,#2c51f3 329deg,#2668f6 331deg,#1e94fa 334deg,#10b8ee 336deg,#03d6e4 338deg,#00dddc 339deg,#00dcd2 340deg,#00dbcc 341deg,#00dbcc 342deg,#00dcd1 343deg,#00dddc 344deg,#03d7e3 345deg,#09c9e8 346deg,#1e96fa 349deg,#266af6 352deg,#2b53f3 354deg,#3346ec 357deg,#383ee7 360deg)"></i>
<i style="inset:44.5px;background:conic-gradient(from 90deg,#393ce6 0deg,#3a3bdf 6deg,#3a3add 14deg,#393ce6 26deg,#2d4ff1 41deg,#2a54f4 44deg,#2764f5 47deg,#237df8 50deg,#1e96fa 52deg,#16a9f4 53deg,#03d7e4 55deg,#00dac7 56deg,#00cf7b 58deg,#00b946 60deg,#00b131 61deg,#17b625 62deg,#2abb1e 63deg,#31bd1b 64deg,#2bbc1d 65deg,#19b624 66deg,#00b02f 67deg,#00b946 68deg,#00d07d 70deg,#00dcd2 72deg,#08cbe8 73deg,#1e95fa 75deg,#2764f5 78deg,#2958f4 79deg,#2c51f2 80deg,#3443ea 84deg,#393ce5 88deg,#3b39d5 96deg,#3b38d1 105deg,#3b39d7 115deg,#383ee7 124deg,#2b52f3 132deg,#1f92fa 142deg,#1aa0f7 145deg,#18a5f5 148deg,#19a3f6 150deg,#1d98f9 153deg,#2a55f4 165deg,#2f4cf0 170deg,#304bef 175deg,#2b53f3 180deg,#285df5 182deg,#1f92fa 188deg,#09c8e9 193deg,#03d6e4 195deg,#00dee1 197deg,#01dde1 201deg,#05d2e5 206deg,#05d3e5 208deg,#02dae2 210deg,#00dedf 211deg,#00d6a8 217deg,#00d5a0 219deg,#00d6a5 221deg,#00d7ac 222deg,#00d8b7 223deg,#00ddd7 225deg,#03d7e3 226deg,#1e95fa 230deg,#2958f4 235deg,#304aee 238deg,#3740e8 242deg,#393ce5 245deg,#3b38d4 259deg,#3c36c9 280deg,#3c37cb 300deg,#3a39d8 316deg,#383de7 323deg,#2c51f2 328deg,#2959f4 329deg,#1f92fa 333deg,#0bc5ea 336deg,#00dee1 338deg,#00ddd6 339deg,#00dcd1 340deg,#00dcd0 341deg,#00dcd6 342deg,#00dee0 343deg,#0ac6e9 345deg,#1e93fa 348deg,#295bf5 352deg,#2b52f3 353deg,#3149ee 355deg,#393ce6 360deg)"></i>
<i style="inset:46.5px;background:conic-gradient(from 90deg,#393ce4 0deg,#3a3ade 11deg,#393ce6 24deg,#2c51f2 41deg,#2a55f4 43deg,#256df6 47deg,#2280f8 49deg,#1c9bf8 51deg,#00dedf 54deg,#00d393 56deg,#00cb71 57deg,#00b73f 59deg,#02b02c 60deg,#1bb723 61deg,#29bb1e 62deg,#2abb1e 63deg,#1eb822 64deg,#07b12b 65deg,#00b53d 66deg,#00bf55 67deg,#00cb71 68deg,#00d396 69deg,#00d9c1 70deg,#03d7e3 71deg,#1a9ff7 73deg,#208af9 74deg,#2669f6 76deg,#2b53f3 78deg,#3444eb 82deg,#393ce5 86deg,#3b39d6 94deg,#3b38d1 103deg,#3b39d6 113deg,#393ce6 122deg,#2b53f3 131deg,#208df9 140deg,#1c9bf8 143deg,#19a2f6 146deg,#1a9ff7 149deg,#1e94fa 152deg,#2a54f4 164deg,#2f4cf0 169deg,#2f4cef 173deg,#2b53f3 178deg,#285df5 180deg,#2474f7 183deg,#1c9af9 187deg,#0bc3ea 191deg,#05d2e5 193deg,#01dbe2 195deg,#00dee1 198deg,#05d3e5 205deg,#00dee0 209deg,#00d8b6 214deg,#00d6a8 217deg,#00d7ac 219deg,#00d8b3 220deg,#00d9bd 221deg,#00dddb 223deg,#04d6e4 224deg,#1d97fa 228deg,#295cf5 233deg,#2a53f4 234deg,#2f4cef 236deg,#3740e8 241deg,#393ce5 244deg,#3b38d3 259deg,#3c36c9 280deg,#3c37cb 300deg,#3a39d9 316deg,#383de7 322deg,#2d50f1 327deg,#2a57f4 328deg,#1f8ff9 332deg,#0cc2eb 335deg,#01dbe2 337deg,#00dcd5 339deg,#00dcd5 340deg,#00ddda 341deg,#01dbe2 342deg,#06d1e6 343deg,#1f91fa 347deg,#295af5 351deg,#2c51f2 352deg,#3345eb 355deg,#393ce4 360deg)"></i>
<i style="inset:48.5px;background:conic-gradient(from 90deg,#393be3 0deg,#3a3ade 11deg,#393ce6 23deg,#2d4ff1 39deg,#2a57f4 42deg,#2861f5 44deg,#2379f7 47deg,#1f91fa 49deg,#19a2f6 50deg,#06cfe6 52deg,#00dcd2 53deg,#00d185 55deg,#00bd4e 57deg,#00b438 58deg,#0ab229 59deg,#1db822 60deg,#25ba20 61deg,#20b822 62deg,#0eb328 63deg,#00b335 64deg,#00bc4c 65deg,#00c666 66deg,#00d185 67deg,#00ddda 69deg,#0ac5ea 70deg,#1f91fa 72deg,#256ff6 74deg,#2a55f4 76deg,#3148ed 79deg,#393ce6 84deg,#3b39d6 92deg,#3b38d1 101deg,#3b39d6 112deg,#383de7 121deg,#2a54f4 130deg,#208ef9 139deg,#1c9af9 142deg,#1aa0f7 145deg,#1c9cf8 148deg,#1f91fa 151deg,#2a53f4 163deg,#2f4df0 168deg,#2f4df0 172deg,#2b52f3 176deg,#2762f5 179deg,#1e95fa 185deg,#0dbeec 189deg,#07cee7 191deg,#03d8e3 193deg,#01dce2 196deg,#04d4e4 203deg,#00dee1 207deg,#00d9bd 212deg,#00d7b0 215deg,#00d8b4 217deg,#00d9ba 218deg,#00dac3 219deg,#00dddd 221deg,#0ac7e9 223deg,#1c9af8 226deg,#2475f7 229deg,#2957f4 232deg,#304aee 235deg,#3641e9 239deg,#393ce5 243deg,#3b38d3 258deg,#3c36c9 279deg,#3c37cb 298deg,#3a39d9 315deg,#393de6 321deg,#3346ec 324deg,#2a55f4 327deg,#1b9df8 332deg,#0dbfec 334deg,#03d8e3 336deg,#00dedf 337deg,#00ddda 338deg,#00ddd9 339deg,#00dedf 340deg,#03d8e3 341deg,#07cde7 342deg,#1b9ef7 345deg,#1f8ef9 346deg,#2958f4 350deg,#3445eb 354deg,#393be3 360deg)"></i>
<i style="inset:50.5px;background:conic-gradient(from 90deg,#393be2 0deg,#3a3bdf 10deg,#393ce6 21deg,#2b52f3 39deg,#2958f4 41deg,#266af6 44deg,#237df8 46deg,#1e96fa 48deg,#16aaf3 49deg,#02d9e3 51deg,#00dac3 52deg,#00ce78 54deg,#00b946 56deg,#00b133 57deg,#0fb427 58deg,#1db823 59deg,#1eb822 60deg,#13b526 61deg,#00b030 62deg,#00b843 63deg,#00ce78 65deg,#00dbca 67deg,#06d0e6 68deg,#1d99f9 70deg,#2185f8 71deg,#2766f6 73deg,#2c51f2 75deg,#3443ea 79deg,#393ce4 83deg,#3b39d5 91deg,#3b38d1 100deg,#3b39d7 111deg,#393ce6 119deg,#2b52f3 128deg,#208df9 138deg,#1d98f9 141deg,#1b9df8 144deg,#1c9af8 146deg,#208df9 150deg,#2a55f4 161deg,#2e4ef1 165deg,#2e4df0 170deg,#2a54f4 175deg,#285ff5 177deg,#2476f7 180deg,#1d9af9 184deg,#0cc1eb 188deg,#06cee6 190deg,#03d7e3 192deg,#01dbe2 195deg,#03d6e4 202deg,#01dde1 205deg,#00d9be 211deg,#00d8b8 213deg,#00d9bb 215deg,#00d9c0 216deg,#00dac8 217deg,#00dedf 219deg,#09c8e9 221deg,#1f91fa 225deg,#295cf5 230deg,#2d50f2 232deg,#3641e9 238deg,#393ce5 242deg,#3b38d4 257deg,#3c36ca 277deg,#3c36ca 296deg,#3a39d8 313deg,#393de6 320deg,#3345ec 323deg,#2a54f4 326deg,#1c9af8 331deg,#08cae8 334deg,#01dce2 336deg,#00dede 338deg,#01dce2 339deg,#09c9e8 341deg,#1c9af8 344deg,#2a55f4 349deg,#3641e9 354deg,#393be2 360deg)"></i>
<i style="inset:52.5px;background:conic-gradient(from 90deg,#393be1 0deg,#3a3bdf 9deg,#393ce6 20deg,#3346ec 30deg,#2b52f3 38deg,#2959f4 40deg,#256df6 43deg,#2280f8 45deg,#1b9df8 47deg,#09c9e8 49deg,#00ddda 50deg,#00d28e 52deg,#00ca6e 53deg,#00bf55 54deg,#00af2e 56deg,#12b427 57deg,#19b724 58deg,#14b526 59deg,#02b02c 60deg,#00b53d 61deg,#00bf53 62deg,#00ca6d 63deg,#00d390 64deg,#01dce2 66deg,#19a3f6 68deg,#208cf9 69deg,#266bf6 71deg,#2b53f3 73deg,#3444eb 77deg,#393ce5 81deg,#3b39d5 89deg,#3b38d0 98deg,#3b39d6 109deg,#393de6 118deg,#2b53f3 127deg,#2089f9 136deg,#1e94fa 139deg,#1c9af9 142deg,#1e97fa 145deg,#208ef9 148deg,#2a54f4 160deg,#2e4df0 165deg,#2e4df0 169deg,#2b53f3 173deg,#295bf5 175deg,#2570f7 178deg,#1f92fa 182deg,#0cc1eb 187deg,#03d6e4 191deg,#02dae2 194deg,#03d7e3 200deg,#01dce2 203deg,#00dee0 204deg,#00dac6 209deg,#00d9c0 212deg,#00dac5 214deg,#00dee0 217deg,#08cae8 219deg,#1e96fa 223deg,#2959f4 229deg,#2f4cef 232deg,#3641e9 237deg,#393ce6 241deg,#3b38d3 257deg,#3c36c9 277deg,#3c37cb 296deg,#3a39d9 313deg,#393ce6 319deg,#3345eb 322deg,#2b53f3 325deg,#266cf6 327deg,#1d98f9 330deg,#0ac7e9 333deg,#02d9e3 335deg,#00dde1 336deg,#02d9e3 338deg,#0ac5ea 340deg,#1e96fa 343deg,#266cf6 346deg,#2a54f4 348deg,#3247ec 351deg,#373fe8 354deg,#393be1 360deg)"></i>
<i style="inset:54.5px;background:conic-gradient(from 90deg,#3a3be1 0deg,#3a3be0 9deg,#393ce6 18deg,#3345eb 28deg,#2b53f3 37deg,#2668f6 41deg,#2379f7 43deg,#1f92fa 45deg,#18a4f5 46deg,#05d3e5 48deg,#00dbcc 49deg,#00d080 51deg,#00bc4d 53deg,#00b439 54deg,#04b02c 55deg,#12b427 56deg,#13b426 57deg,#07b12b 58deg,#00b337 59deg,#00c563 61deg,#00d080 62deg,#00dcd4 64deg,#09c9e8 65deg,#1e93fa 67deg,#2570f7 69deg,#2a56f4 71deg,#3148ed 74deg,#393ce6 79deg,#3b39d6 87deg,#3b38d0 96deg,#3b39d6 107deg,#393ce5 116deg,#2a53f4 126deg,#2088f9 135deg,#1f93fa 138deg,#1e97fa 141deg,#1e94fa 144deg,#208af9 147deg,#2a55f4 158deg,#2d4ff1 162deg,#2f4df0 167deg,#2b53f3 172deg,#285cf5 174deg,#1f92fa 181deg,#0dc0eb 186deg,#04d5e4 190deg,#00dde1 202deg,#00dbca 208deg,#00dac6 210deg,#00dcd0 213deg,#00dee0 215deg,#0cc2eb 218deg,#1f91fa 222deg,#2958f4 228deg,#2d4ff1 230deg,#3543ea 235deg,#393ce6 240deg,#3b38d4 256deg,#3c36ca 275deg,#3c36ca 294deg,#3a39d8 311deg,#393ce6 318deg,#3345eb 321deg,#2b53f3 324deg,#266bf6 326deg,#1e96fa 329deg,#0ac5ea 332deg,#03d7e4 334deg,#02dae2 335deg,#02d9e3 336deg,#07cde7 338deg,#12b3f0 340deg,#1f93fa 342deg,#2669f6 345deg,#2b52f3 347deg,#3346ec 350deg,#373fe8 353deg,#3a3be1 360deg)"></i>
<i style="inset:56.5px;background:conic-gradient(from 90deg,#3a3be1 0deg,#3a3be1 8deg,#383de7 18deg,#3247ec 28deg,#2b53f4 36deg,#266af6 40deg,#237df8 42deg,#1d97fa 44deg,#15acf2 45deg,#01dce2 47deg,#00cd75 50deg,#00c25c 51deg,#00b235 53deg,#06b12b 54deg,#0eb328 55deg,#08b12a 56deg,#00b132 57deg,#00b843 58deg,#00cc74 60deg,#00d49a 61deg,#00dac4 62deg,#04d5e4 63deg,#1b9df8 65deg,#2188f9 66deg,#2767f6 68deg,#2c52f3 70deg,#3543ea 74deg,#393ce4 78deg,#3b39d5 86deg,#3b38d0 95deg,#3b39d6 106deg,#393ce6 115deg,#2a54f4 125deg,#2188f9 134deg,#1f91fa 137deg,#1e94fa 140deg,#1f90f9 143deg,#2187f9 146deg,#2a54f4 157deg,#2e4df0 162deg,#2f4df0 166deg,#2a53f4 171deg,#285df5 173deg,#1f92fa 180deg,#0dbeec 185deg,#05d3e5 189deg,#02d9e3 192deg,#00dee1 201deg,#00dbcd 208deg,#00dcd4 211deg,#00dee1 213deg,#0ac5ea 216deg,#1e97fa 220deg,#2570f7 224deg,#2957f4 227deg,#2f4cef 230deg,#3443ea 234deg,#393ce5 240deg,#3b38d2 257deg,#3c36c9 276deg,#3c37cb 295deg,#3a3ada 312deg,#393ce6 317deg,#3445eb 320deg,#2b52f3 323deg,#266af6 325deg,#1e95fa 328deg,#0bc3ea 331deg,#04d4e4 333deg,#03d7e3 334deg,#03d6e4 335deg,#09c8e9 337deg,#14aef2 339deg,#1f8ff9 341deg,#2765f6 344deg,#2c51f2 346deg,#3345eb 349deg,#383ee7 352deg,#3a3be1 360deg)"></i>
<i style="inset:58.5px;background:conic-gradient(from 90deg,#3a3be1 0deg,#383ee7 17deg,#3247ec 27deg,#2a54f4 35deg,#2764f5 38deg,#2475f7 40deg,#208df9 42deg,#1b9ef7 43deg,#08cbe8 45deg,#00ddd7 46deg,#00d28b 48deg,#00c96d 49deg,#00bf54 50deg,#00b740 51deg,#00b132 52deg,#06b12b 53deg,#07b12a 54deg,#00b02f 55deg,#00b63d 56deg,#00c869 58deg,#00d288 59deg,#00dddc 61deg,#17a8f4 63deg,#1f8ff9 64deg,#266df6 66deg,#2a53f4 68deg,#3444eb 72deg,#393ce5 76deg,#3b39d5 84deg,#3b38d0 94deg,#3b39d7 105deg,#383de7 114deg,#2b52f3 123deg,#2183f8 132deg,#208df9 135deg,#1f92fa 138deg,#1f8ff9 141deg,#2187f9 144deg,#2a55f4 155deg,#2e4df0 160deg,#2f4df0 165deg,#2a53f4 170deg,#285df5 172deg,#2571f7 175deg,#1d99f9 180deg,#0ebced 184deg,#05d2e5 188deg,#02d8e3 191deg,#00dee0 200deg,#00dcd4 206deg,#00dcd5 208deg,#00dddd 210deg,#01dde2 211deg,#09c7e9 214deg,#1f93fa 219deg,#2a57f4 226deg,#3444eb 233deg,#393ce5 240deg,#3b38d3 256deg,#3c36ca 274deg,#3c37cb 292deg,#3a39d8 309deg,#393ce6 316deg,#3444eb 319deg,#2b52f3 322deg,#295cf5 323deg,#1e94fa 327deg,#0cc1eb 330deg,#05d1e5 332deg,#04d4e5 333deg,#05d2e5 334deg,#0bc4ea 336deg,#1d99f9 339deg,#2862f5 343deg,#2a56f4 344deg,#2d50f2 345deg,#383ee7 351deg,#3a3be1 360deg)"></i>
<i style="inset:60.5px;background:conic-gradient(from 90deg,#3a3be1 0deg,#383ee7 16deg,#2b52f3 33deg,#2a54f4 34deg,#2766f6 37deg,#2378f7 39deg,#1f91fa 41deg,#18a4f5 42deg,#05d3e5 44deg,#00dbcc 45deg,#00d080 47deg,#00c665 48deg,#00b53d 50deg,#00b131 51deg,#02b02c 52deg,#00af2e 53deg,#00b338 54deg,#00ba48 55deg,#00c35e 56deg,#00ce79 57deg,#00dbc9 59deg,#05d1e6 60deg,#1d99f9 62deg,#2474f7 64deg,#2958f4 66deg,#3148ed 69deg,#393ce6 74deg,#3b39d5 82deg,#3b38d0 91deg,#3b39d6 103deg,#393ce6 112deg,#2b52f3 122deg,#2282f8 131deg,#208cf9 134deg,#1f8ff9 137deg,#208cf9 140deg,#2184f8 143deg,#2a53f4 154deg,#2e4df0 159deg,#2f4cf0 164deg,#2b53f3 169deg,#285cf5 171deg,#1e97fa 179deg,#0fbaee 183deg,#06d0e6 187deg,#02d9e3 192deg,#00dee1 199deg,#00ddd9 204deg,#00dee0 208deg,#09c9e8 212deg,#1d99f9 217deg,#256df6 222deg,#2a57f4 225deg,#3444eb 232deg,#393ce5 239deg,#3b38d4 254deg,#3c36ca 271deg,#3c36ca 289deg,#3b39d5 305deg,#3a3adc 311deg,#393ce6 315deg,#3444eb 318deg,#2b52f3 321deg,#295cf5 322deg,#1e94fa 326deg,#0dbfec 329deg,#06cfe6 331deg,#06d1e6 332deg,#06cfe6 333deg,#0dbfec 335deg,#1e94fa 338deg,#266bf6 341deg,#2a53f4 343deg,#3247ec 346deg,#383ee7 350deg,#3a3be1 360deg)"></i>
<i style="inset:62.5px;background:conic-gradient(from 90deg,#3a3be1 0deg,#373fe8 16deg,#2b53f3 32deg,#295bf5 34deg,#2669f6 36deg,#237cf8 38deg,#1e97fa 40deg,#01dce2 43deg,#00cd76 46deg,#00c35e 47deg,#00ba49 48deg,#00b439 49deg,#00b030 50deg,#00af2e 51deg,#00b233 52deg,#00b740 53deg,#00be52 54deg,#00c86a 55deg,#00d289 56deg,#00dddb 58deg,#0bc4ea 59deg,#1f90f9 61deg,#256df6 63deg,#2a53f4 65deg,#3444eb 69deg,#393ce4 73deg,#3b39d5 81deg,#3b38d0 91deg,#3b39d7 102deg,#393ce6 111deg,#2a53f4 121deg,#227ff8 129deg,#2089f9 132deg,#1f8ef9 135deg,#208cf9 138deg,#2184f8 141deg,#2a54f4 152deg,#2f4cf0 158deg,#2f4cef 163deg,#2b53f3 168deg,#295bf5 170deg,#1e95fa 178deg,#0dbfec 183deg,#05d2e5 187deg,#01dbe2 192deg,#00dddb 202deg,#00dee0 206deg,#03d8e3 208deg,#0ac5ea 211deg,#1e96fa 216deg,#2957f4 224deg,#3345eb 231deg,#393ce6 238deg,#3b38d4 254deg,#3c36ca 271deg,#3c36ca 289deg,#3b39d7 306deg,#393ce6 314deg,#3345eb 317deg,#2b53f3 320deg,#1e95fa 325deg,#0dbfec 328deg,#07cde7 330deg,#06cfe6 331deg,#08cce7 332deg,#0ebbed 334deg,#1f91fa 337deg,#2668f6 340deg,#2b52f3 342deg,#3346ec 345deg,#383ee7 349deg,#3a3be1 360deg)"></i>
<i style="inset:64.5px;background:conic-gradient(from 90deg,#393be1 0deg,#3640e8 16deg,#2a53f4 31deg,#2764f5 34deg,#2476f7 36deg,#1f8ef9 38deg,#1a9ff7 39deg,#07cde7 41deg,#00dcd5 42deg,#00d28a 44deg,#00c96d 45deg,#00b843 47deg,#00b336 48deg,#00b030 49deg,#00b030 50deg,#00b338 51deg,#00b946 52deg,#00c25a 53deg,#00cc73 54deg,#00d496 55deg,#00d9bf 56deg,#02d9e3 57deg,#1aa0f6 59deg,#208af9 60deg,#2669f6 62deg,#2b52f3 64deg,#3443ea 68deg,#393ce4 72deg,#3b39d5 80deg,#3b38d1 89deg,#3b39d6 100deg,#393ce5 109deg,#2b52f3 119deg,#2280f8 128deg,#208af9 131deg,#1f8ef9 134deg,#208bf9 137deg,#2183f8 140deg,#2a53f4 151deg,#2f4cef 157deg,#2f4cef 162deg,#2b52f3 167deg,#295af5 169deg,#1f93fa 177deg,#0ebded 182deg,#05d2e5 186deg,#02d9e3 189deg,#00dee1 193deg,#00ddd9 201deg,#00dedf 205deg,#02d8e3 207deg,#07cde7 209deg,#11b4ef 212deg,#1e97fa 215deg,#2957f4 223deg,#3345eb 230deg,#393ce5 238deg,#3b38d3 254deg,#3c36ca 271deg,#3c37cb 289deg,#3a39d7 305deg,#383de7 313deg,#3346ec 316deg,#2a55f4 319deg,#1d98f9 324deg,#0cc1eb 327deg,#07cde7 329deg,#07cde7 330deg,#08cae8 331deg,#10b9ee 333deg,#1f8ef9 336deg,#2766f6 339deg,#2b52f3 341deg,#3346ec 344deg,#383ee7 348deg,#393be1 360deg)"></i>
<i style="inset:66.5px;background:conic-gradient(from 90deg,#393be2 0deg,#3640e9 15deg,#2b52f3 29deg,#295af5 31deg,#2667f6 33deg,#237af7 35deg,#1e94fa 37deg,#17a8f4 38deg,#03d7e4 40deg,#00dac7 41deg,#00d07d 43deg,#00c665 44deg,#00b63f 46deg,#00b234 47deg,#00b030 48deg,#00b133 49deg,#00b63d 50deg,#00bc4d 51deg,#00c563 52deg,#00d07c 53deg,#00dbcc 55deg,#06d0e6 56deg,#1d99f9 58deg,#2474f7 60deg,#2958f4 62deg,#3149ed 65deg,#393ce6 70deg,#3b39d6 78deg,#3b38d1 88deg,#3b39d7 99deg,#393ce6 108deg,#2b53f3 118deg,#2282f8 127deg,#208bf9 130deg,#208ef9 133deg,#208af9 136deg,#2281f8 139deg,#2a54f4 149deg,#2f4cef 155deg,#304bef 161deg,#2c51f2 166deg,#2958f4 168deg,#2571f7 172deg,#1d98f9 177deg,#0cc1eb 182deg,#04d5e4 186deg,#00dde1 190deg,#00ddd6 199deg,#00ddd8 202deg,#00dede 204deg,#00dde1 205deg,#07cde7 208deg,#11b5ef 211deg,#1d97fa 214deg,#2958f4 222deg,#2c50f2 224deg,#3346ec 229deg,#393ce6 237deg,#3b39d5 251deg,#3c37cb 267deg,#3c36ca 284deg,#3b38d3 300deg,#3a3adc 307deg,#393ce6 311deg,#3444eb 314deg,#2c51f2 317deg,#2959f4 318deg,#1f8ef9 322deg,#10b8ee 325deg,#09c9e8 327deg,#07cde7 328deg,#07cce7 329deg,#0cc0eb 331deg,#1d99f9 334deg,#2764f5 338deg,#2c51f2 340deg,#3346ec 343deg,#383ee7 347deg,#393be2 360deg)"></i>
<i style="inset:68.5px;background:conic-gradient(from 90deg,#393be2 0deg,#3641e9 14deg,#2b53f3 28deg,#266bf6 32deg,#227ff8 34deg,#1c9bf8 36deg,#00dede 39deg,#00d395 41deg,#00cd75 42deg,#00c35e 43deg,#00bb4a 44deg,#00b53c 45deg,#00b233 46deg,#00b131 47deg,#00b336 48deg,#00b842 49deg,#00c86a 51deg,#00d188 52deg,#00ddd7 54deg,#09c8e9 55deg,#1e94fa 57deg,#2570f7 59deg,#2a56f4 61deg,#3248ed 64deg,#393ce6 69deg,#3b39d6 77deg,#3b38d1 86deg,#3b39d6 97deg,#393ce6 106deg,#2b52f3 116deg,#2280f8 125deg,#208af9 128deg,#208df9 131deg,#208bf9 134deg,#2183f8 137deg,#2a53f4 148deg,#304bef 154deg,#304aee 160deg,#2a56f4 167deg,#256ff6 171deg,#1e95fa 176deg,#0dbfec 181deg,#03d8e3 186deg,#00dee0 189deg,#00dcd4 198deg,#00dcd6 201deg,#00dee1 204deg,#0ac7e9 208deg,#1d99f9 213deg,#295af5 221deg,#2a54f4 222deg,#3346ec 228deg,#393ce6 236deg,#3b38d4 251deg,#3c37cb 267deg,#3c36ca 284deg,#3b39d5 300deg,#3a3add 306deg,#393de6 310deg,#2b53f3 316deg,#1f92fa 321deg,#0fbbed 324deg,#08cae8 326deg,#07cce7 327deg,#08cbe8 328deg,#0ebdec 330deg,#1e95fa 333deg,#2862f5 337deg,#2a56f4 338deg,#2c50f2 339deg,#3543ea 343deg,#393ce6 347deg,#393be2 360deg)"></i>
<i style="inset:70.5px;background:conic-gradient(from 90deg,#393be3 0deg,#3542e9 14deg,#2a54f4 27deg,#256ef6 31deg,#1f91fa 34deg,#19a3f6 35deg,#06d0e6 37deg,#00dcd1 38deg,#00d289 40deg,#00c96d 41deg,#00b946 43deg,#00b439 44deg,#00b133 45deg,#00b233 46deg,#00b53b 47deg,#00ba48 48deg,#00c25b 49deg,#00cc73 50deg,#00d393 51deg,#01dde1 53deg,#17a6f5 55deg,#1f8ff9 56deg,#256df6 58deg,#2a54f4 60deg,#3444eb 64deg,#393ce5 68deg,#3b39d6 76deg,#3b38d1 85deg,#3a39d7 96deg,#393de6 105deg,#2b53f3 115deg,#2282f8 124deg,#208af9 127deg,#208df9 130deg,#208af9 133deg,#2281f8 136deg,#2a54f4 146deg,#304aee 153deg,#314aee 159deg,#2d4ff1 164deg,#2959f4 167deg,#1f92fa 175deg,#0ebced 180deg,#03d7e3 185deg,#00dedf 188deg,#00dcd2 197deg,#00dcd4 200deg,#00dedf 203deg,#03d6e4 205deg,#09c9e8 207deg,#1f92fa 213deg,#2a56f4 221deg,#3247ec 227deg,#393ce5 236deg,#3b38d4 251deg,#3c37cb 267deg,#3c37cb 284deg,#3b39d6 300deg,#393ce5 308deg,#2d50f1 314deg,#2a56f4 315deg,#1e96fa 320deg,#0dbeec 323deg,#08cae8 325deg,#08cbe8 326deg,#09c9e8 327deg,#0fb9ee 329deg,#1f92fa 332deg,#285ff5 336deg,#2a54f4 337deg,#2d4ff1 338deg,#3542ea 342deg,#393ce6 346deg,#393be2 352deg,#393be3 360deg)"></i>
<i style="inset:72.5px;background:conic-gradient(from 90deg,#393be3 0deg,#3542ea 13deg,#2b53f3 25deg,#295bf5 27deg,#2669f6 29deg,#237cf8 31deg,#1e97fa 33deg,#02dae3 36deg,#00dac4 37deg,#00d07d 39deg,#00c665 40deg,#00b742 42deg,#00b337 43deg,#00b233 44deg,#00b336 45deg,#00b73f 46deg,#00bd4e 47deg,#00c563 48deg,#00cf7b 49deg,#00dac7 51deg,#04d5e4 52deg,#1a9ff7 54deg,#208af9 55deg,#2669f6 57deg,#2b52f3 59deg,#3444ea 63deg,#393ce5 67deg,#3b39d6 75deg,#3b38d2 84deg,#3b39d7 94deg,#393ce6 103deg,#2a55f4 114deg,#227ff8 122deg,#2089f9 125deg,#208df9 128deg,#208bf9 131deg,#2283f8 134deg,#2b53f3 145deg,#314aee 152deg,#3149ed 158deg,#2f4df0 162deg,#2a56f4 166deg,#256ff6 170deg,#1e95fa 175deg,#0dc0ec 180deg,#02dae3 185deg,#00dedf 187deg,#00dcd5 191deg,#00dcd0 196deg,#00dcd2 199deg,#00dddd 202deg,#00dde1 203deg,#08cbe8 206deg,#1e94fa 212deg,#2958f4 220deg,#3346ec 227deg,#393ce6 235deg,#3b38d4 250deg,#3c37cb 266deg,#3c37cb 283deg,#3b39d7 299deg,#393ce6 307deg,#2b52f3 313deg,#295af5 314deg,#1f8ef9 318deg,#11b6ef 321deg,#0ac7e9 323deg,#08cae8 325deg,#0ac6e9 326deg,#11b5ef 328deg,#208ef9 331deg,#295cf5 335deg,#2e4ef1 337deg,#3542e9 341deg,#393ce6 345deg,#393be2 352deg,#393be3 360deg)"></i>
<i style="inset:74.5px;background:conic-gradient(from 90deg,#393ce4 0deg,#3444ea 13deg,#2a53f4 24deg,#266df6 28deg,#2281f8 30deg,#1a9ff7 32deg,#08cbe8 34deg,#00ddd9 35deg,#00d393 37deg,#00cc74 38deg,#00c35e 39deg,#00b63e 41deg,#00b336 42deg,#00b235 43deg,#00b43a 44deg,#00b945 45deg,#00c86b 47deg,#00d186 48deg,#00dcd3 50deg,#07cce7 51deg,#1d98f9 53deg,#2766f6 56deg,#2c51f2 58deg,#3543ea 62deg,#393ce4 66deg,#3b39d6 74deg,#3b38d2 83deg,#3a39d7 93deg,#393de6 102deg,#2b53f3 112deg,#2281f8 121deg,#208af9 124deg,#208df9 127deg,#208af9 130deg,#2281f8 133deg,#2a54f4 143deg,#304aee 150deg,#3148ed 157deg,#2d4ff1 163deg,#2958f4 166deg,#2472f7 170deg,#1d99f9 175deg,#0bc3ea 180deg,#01dce2 185deg,#00dcd4 190deg,#00dbce 195deg,#00dcd3 199deg,#00dee0 202deg,#0ac6e9 206deg,#1d98f9 211deg,#295bf5 219deg,#2c52f3 221deg,#3247ec 226deg,#393ce5 235deg,#3b38d4 249deg,#3c37cb 263deg,#3c36ca 279deg,#3b38d3 294deg,#3a3adc 301deg,#393ce5 305deg,#2d4ff1 311deg,#2a54f4 312deg,#1f93fa 317deg,#0fbaee 320deg,#09c8e9 322deg,#08cae8 323deg,#09c8e9 324deg,#0ebced 326deg,#1e96fa 329deg,#2959f4 334deg,#2e4df0 336deg,#3641e9 340deg,#393ce6 344deg,#393be2 351deg,#393ce4 360deg)"></i>
<i style="inset:76.5px;background:conic-gradient(from 90deg,#393ce5 0deg,#3345eb 13deg,#2a55f4 23deg,#2571f7 27deg,#1e95fa 30deg,#04d5e4 33deg,#00dbcb 34deg,#00d185 36deg,#00c96c 37deg,#00ba47 39deg,#00b53b 40deg,#00b336 41deg,#00b337 42deg,#00b63e 43deg,#00bb4b 44deg,#00c35d 45deg,#00cc74 46deg,#00d394 47deg,#00dee0 49deg,#1f91fa 52deg,#2570f7 54deg,#2a56f4 56deg,#3148ed 59deg,#393ce6 64deg,#3b39d7 72deg,#3b38d2 81deg,#3b39d7 91deg,#393ce6 100deg,#2a54f4 111deg,#227ff8 119deg,#2089f9 122deg,#208df9 125deg,#208af9 128deg,#2183f8 131deg,#2b53f3 142deg,#3149ee 149deg,#3248ed 156deg,#2f4cf0 161deg,#2a55f4 165deg,#256ef6 169deg,#1e94fa 174deg,#0dbfec 179deg,#01dbe2 184deg,#00dee1 185deg,#00dcd4 189deg,#00dbcd 194deg,#00dcd1 198deg,#00dddd 201deg,#01dce2 202deg,#09c9e8 205deg,#1f93fa 211deg,#2958f4 219deg,#3248ed 225deg,#393ce6 234deg,#3b39d5 247deg,#3c37cc 262deg,#3c37cb 279deg,#3b39d5 294deg,#3a3add 300deg,#393ce6 304deg,#2c51f2 310deg,#2959f4 311deg,#1d98f9 316deg,#0ebded 319deg,#09c8e9 321deg,#09c9e8 322deg,#0ac6e9 323deg,#10b7ee 325deg,#1f91fa 328deg,#2a56f4 333deg,#2f4cef 335deg,#3641e9 339deg,#393ce6 343deg,#393be2 351deg,#393ce5 360deg)"></i>
<i style="inset:78.5px;background:conic-gradient(from 90deg,#393ce6 0deg,#3346ec 12deg,#2a53f4 21deg,#266cf6 25deg,#2281f8 27deg,#1b9ef7 29deg,#00dddd 32deg,#00ce79 35deg,#00c563 36deg,#00b842 38deg,#00b439 39deg,#00b337 40deg,#00b43a 41deg,#00b844 42deg,#00c767 44deg,#00d07f 45deg,#00dbc9 47deg,#04d4e5 48deg,#1aa0f7 50deg,#208bf9 51deg,#266bf6 53deg,#2b53f3 55deg,#3444eb 59deg,#393ce5 63deg,#3b39d7 71deg,#3b38d2 80deg,#3a39d7 90deg,#393de6 99deg,#2b53f3 109deg,#2280f8 118deg,#2089f9 121deg,#208df9 124deg,#208af9 127deg,#2281f8 130deg,#2b52f3 141deg,#3248ed 149deg,#3247ed 156deg,#2e4df0 161deg,#2957f4 165deg,#2571f7 169deg,#1d97fa 174deg,#0cc2eb 179deg,#00dde1 184deg,#00dcd1 189deg,#00dbcc 194deg,#00dcd2 198deg,#00dee0 201deg,#0ac5ea 205deg,#1d97fa 210deg,#295bf5 218deg,#2b52f3 220deg,#3247ec 225deg,#393ce6 233deg,#3b39d5 247deg,#3c37cb 262deg,#3c37cb 278deg,#3b39d6 294deg,#383ee7 303deg,#2a54f4 309deg,#1f91fa 314deg,#10b7ef 317deg,#0ac5ea 319deg,#09c8e9 320deg,#0ac7e9 321deg,#0ebced 323deg,#1d99f9 326deg,#285df5 331deg,#2a53f4 332deg,#304bef 334deg,#3640e9 338deg,#393ce6 342deg,#393be2 350deg,#393ce6 360deg)"></i>
<i style="inset:80.5px;background:conic-gradient(from 90deg,#383de7 0deg,#3247ed 12deg,#2a55f4 20deg,#2571f7 24deg,#1e95fa 27deg,#04d5e4 30deg,#00dbcc 31deg,#00d187 33deg,#00ca6e 34deg,#00bb49 36deg,#00b63e 37deg,#00b438 38deg,#00b439 39deg,#00b63f 40deg,#00bb4b 41deg,#00c25c 42deg,#00cb72 43deg,#00d38f 44deg,#00ddda 46deg,#09c8e9 47deg,#1e96fa 49deg,#2765f6 52deg,#2c51f2 54deg,#3543ea 58deg,#393ce4 62deg,#3b39d6 70deg,#3b38d2 79deg,#3a39d8 89deg,#383de7 98deg,#2a54f4 108deg,#2281f8 117deg,#208af9 120deg,#208cf9 123deg,#2089f9 126deg,#2280f8 129deg,#2a53f4 139deg,#3248ed 147deg,#3247ec 155deg,#2a54f4 164deg,#266cf6 168deg,#1f92fa 173deg,#0bc5ea 179deg,#01dbe2 183deg,#00dee0 184deg,#00dcd1 188deg,#00dbcb 193deg,#00dcd0 197deg,#00dddd 200deg,#01dce2 201deg,#09c9e8 204deg,#1f93fa 210deg,#2958f4 218deg,#3248ed 224deg,#393ce5 233deg,#3b39d6 245deg,#3c37cc 259deg,#3c37cb 274deg,#3b38d3 289deg,#3a3adb 296deg,#393de6 301deg,#2c51f2 307deg,#2959f4 308deg,#1e96fa 313deg,#0fbaed 316deg,#0ac6e9 318deg,#0ac7e9 319deg,#0ac5ea 320deg,#10b8ee 322deg,#1e94fa 325deg,#2959f4 330deg,#304aee 333deg,#3740e8 337deg,#393ce5 341deg,#393be2 349deg,#383de7 360deg)"></i>
<i style="inset:82.5px;background:conic-gradient(from 90deg,#383ee7 0deg,#3247ec 10deg,#2a53f4 18deg,#256df6 22deg,#2282f8 24deg,#1aa0f6 26deg,#08cbe8 28deg,#00dddb 29deg,#00ce78 32deg,#00c563 33deg,#00b844 35deg,#00b53b 36deg,#00b439 37deg,#00b53c 38deg,#00b945 39deg,#00c767 41deg,#00d07e 42deg,#00dac6 44deg,#03d6e4 45deg,#19a3f6 47deg,#208df9 48deg,#256df6 50deg,#2a54f4 52deg,#3248ed 55deg,#393ce6 60deg,#3a39d7 68deg,#3b38d3 77deg,#3a39d7 87deg,#393ce6 96deg,#2a55f4 107deg,#227ff8 115deg,#2088f9 118deg,#208cf9 121deg,#208af9 124deg,#2282f8 127deg,#2b53f3 138deg,#3248ed 146deg,#3346ec 154deg,#2f4df0 160deg,#2a56f4 164deg,#256ff6 168deg,#1e95fa 173deg,#0cc0eb 178deg,#00dde1 183deg,#00dcd2 187deg,#00dbca 192deg,#00dbce 196deg,#00dee0 200deg,#0ac5ea 204deg,#1d98f9 209deg,#295cf5 217deg,#2b52f3 219deg,#3247ec 224deg,#393ce6 232deg,#3b39d5 245deg,#3c37cc 260deg,#3c37cb 275deg,#3b39d5 290deg,#393ce6 299deg,#3247ec 303deg,#2a54f4 306deg,#1f90f9 311deg,#11b5ef 314deg,#0bc3ea 316deg,#0ac6e9 317deg,#0ac6e9 318deg,#0ebced 320deg,#17a8f4 322deg,#1f8ff9 324deg,#2a55f4 329deg,#3149ed 332deg,#393ce6 339deg,#393be2 348deg,#383ee7 360deg)"></i>
<i style="inset:84.5px;background:conic-gradient(from 90deg,#373fe8 0deg,#304aee 11deg,#2a56f4 17deg,#2473f7 21deg,#1d99f9 24deg,#02d9e3 27deg,#00dac7 28deg,#00d184 30deg,#00c96c 31deg,#00bb4a 33deg,#00b63f 34deg,#00b43a 35deg,#00b53b 36deg,#00b741 37deg,#00c35e 39deg,#00cc73 40deg,#00d390 41deg,#00ddd9 43deg,#09c9e8 44deg,#1d97fa 46deg,#2767f6 49deg,#2b52f3 51deg,#3444ea 55deg,#393ce5 59deg,#3b39d7 67deg,#3b38d3 76deg,#3a39d8 86deg,#393de6 95deg,#2b52f3 105deg,#2280f8 114deg,#2089f9 117deg,#208cf9 120deg,#208af9 123deg,#2282f8 126deg,#2b52f3 137deg,#3247ed 145deg,#3346ec 153deg,#2e4df0 160deg,#2958f4 164deg,#2572f7 168deg,#1d98f9 173deg,#0bc3ea 178deg,#01dbe2 182deg,#00dee0 183deg,#00dccf 187deg,#00dbc9 191deg,#00dbcc 195deg,#00dddc 199deg,#01dde1 200deg,#08cae8 203deg,#1e94fa 209deg,#256df6 214deg,#2a54f4 218deg,#3148ed 223deg,#393ce5 232deg,#3b39d6 244deg,#3c37cd 257deg,#3c37cb 271deg,#3b38d2 285deg,#3a3ada 292deg,#393ce4 297deg,#2e4df0 303deg,#295af5 305deg,#1e95fa 310deg,#10b8ee 313deg,#0bc4ea 315deg,#0ac5ea 316deg,#0bc4ea 317deg,#10b8ee 319deg,#1e95fa 322deg,#2766f6 326deg,#2b53f3 328deg,#3248ed 331deg,#393ce6 338deg,#393be2 347deg,#373fe8 360deg)"></i>
<i style="inset:86.5px;background:conic-gradient(from 90deg,#3740e8 0deg,#3149ee 9deg,#2a54f4 15deg,#2767f6 18deg,#237af7 20deg,#1e93fa 22deg,#18a5f5 23deg,#06d0e6 25deg,#00dcd3 26deg,#00d391 28deg,#00cd75 29deg,#00c461 30deg,#00b843 32deg,#00b53c 33deg,#00b53b 34deg,#00b63f 35deg,#00ba48 36deg,#00c86a 38deg,#00d182 39deg,#00dbc9 41deg,#04d5e4 42deg,#19a3f6 44deg,#208ef9 45deg,#256ef6 47deg,#2a55f4 49deg,#3345eb 53deg,#393ce4 58deg,#3b39d7 66deg,#3b38d3 75deg,#3a39d8 85deg,#383de7 94deg,#2b53f3 104deg,#2280f8 113deg,#2089f9 116deg,#208cf9 119deg,#2089f9 122deg,#2281f8 125deg,#2b52f3 136deg,#3247ec 144deg,#3346ec 153deg,#304bef 158deg,#2a55f4 163deg,#256df6 167deg,#1f92fa 172deg,#0ac5ea 178deg,#01dce2 182deg,#00dbce 187deg,#00dac8 191deg,#00dbcc 195deg,#00dedf 199deg,#02dae2 200deg,#0ac6e9 203deg,#1d9af9 208deg,#285df5 216deg,#2b53f3 218deg,#3247ed 223deg,#393ce6 231deg,#3b39d6 243deg,#3c37cc 257deg,#3c37cc 272deg,#3b39d5 286deg,#3a3adc 292deg,#393ce6 296deg,#2d50f1 302deg,#2a55f4 303deg,#1f90f9 308deg,#12b3f0 311deg,#0cc1eb 313deg,#0bc4ea 315deg,#0cc1eb 316deg,#12b3f0 318deg,#1f90f9 321deg,#2958f4 326deg,#3247ec 330deg,#393ce6 337deg,#393be3 346deg,#3740e8 360deg)"></i>
<i style="inset:88.5px;background:conic-gradient(from 90deg,#3641e9 0deg,#2f4cef 9deg,#2958f4 14deg,#2477f7 18deg,#1f8ff9 20deg,#1a9ff7 21deg,#00dede 24deg,#00d07d 27deg,#00c768 28deg,#00ba48 30deg,#00b63f 31deg,#00b53b 32deg,#00b63d 33deg,#00b945 34deg,#00c563 36deg,#00ce78 37deg,#00d497 38deg,#00dede 40deg,#1e96fa 43deg,#2766f6 46deg,#2b52f3 48deg,#3444eb 52deg,#393ce5 56deg,#3a39d7 64deg,#3b38d3 73deg,#3a39d7 83deg,#393ce6 92deg,#2a53f4 103deg,#2281f8 112deg,#2089f9 115deg,#208cf9 118deg,#2089f9 121deg,#2281f8 124deg,#2a54f4 134deg,#3247ec 143deg,#3346ec 152deg,#2f4cef 158deg,#2957f4 163deg,#2570f7 167deg,#1e95fa 172deg,#09c8e9 178deg,#00dee1 182deg,#00dbcf 186deg,#00dac7 191deg,#00dbcd 195deg,#00dde1 199deg,#0bc3ea 203deg,#1e96fa 208deg,#2861f5 215deg,#2a54f4 217deg,#3148ed 222deg,#393ce5 231deg,#3b39d6 242deg,#3b37cd 255deg,#3c37cc 269deg,#3b38d2 282deg,#3a3ada 289deg,#393ce5 294deg,#2e4ef0 300deg,#295bf5 302deg,#1e95fa 307deg,#10b7ee 310deg,#0bc2eb 312deg,#0bc4ea 313deg,#0cc2eb 314deg,#10b7ef 316deg,#1e95fa 319deg,#2a54f4 325deg,#3345ec 329deg,#393ce4 337deg,#393be3 345deg,#3641e9 360deg)"></i>
<i style="inset:90.5px;background:conic-gradient(from 90deg,#3543ea 0deg,#2f4df0 8deg,#2a56f4 12deg,#2474f7 16deg,#1c9af8 19deg,#02dae2 22deg,#00dac6 23deg,#00d186 25deg,#00ca6e 26deg,#00bc4d 28deg,#00b842 29deg,#00b63d 30deg,#00b63d 31deg,#00b843 32deg,#00c35d 34deg,#00cb71 35deg,#00d28b 36deg,#00dcd1 38deg,#06d0e6 39deg,#1a9ef7 41deg,#208bf9 42deg,#266cf6 44deg,#2a54f4 46deg,#3345eb 50deg,#393ce4 55deg,#3b39d7 63deg,#3b38d2 72deg,#3a39d7 82deg,#393ce6 91deg,#2a53f4 102deg,#2281f8 111deg,#2089f9 114deg,#208cf9 117deg,#2089f9 120deg,#2281f8 123deg,#2b52f3 134deg,#3346ec 143deg,#3346ec 152deg,#2a54f4 162deg,#266bf6 166deg,#1d98f9 172deg,#0bc3ea 177deg,#01dce2 181deg,#00dbcd 186deg,#00dac7 190deg,#00dbcc 194deg,#00dede 198deg,#01dbe2 199deg,#09c7e9 202deg,#1f92fa 208deg,#2958f4 216deg,#314aee 221deg,#393ce6 230deg,#3b38d2 246deg,#3c37cb 263deg,#3b38d3 281deg,#3a3adb 288deg,#383de6 293deg,#3148ed 297deg,#2957f4 300deg,#1f91fa 305deg,#12b3f0 308deg,#0cc0eb 310deg,#0bc3ea 311deg,#0cc2eb 312deg,#0fb9ee 314deg,#1f8ff9 318deg,#2958f4 323deg,#3247ec 327deg,#373fe8 331deg,#393ce4 336deg,#393ce6 351deg,#3543ea 360deg)"></i>
<i style="inset:92.5px;background:conic-gradient(from 90deg,#3444eb 0deg,#2a55f4 10deg,#2572f7 14deg,#1e97fa 17deg,#04d5e4 20deg,#00dbce 21deg,#00d28e 23deg,#00cc74 24deg,#00c461 25deg,#00b945 27deg,#00b63f 28deg,#00b63d 29deg,#00b741 30deg,#00bb4b 31deg,#00c96b 33deg,#00d182 34deg,#00dac6 36deg,#03d8e3 37deg,#1f91fa 40deg,#2764f5 43deg,#2c51f2 45deg,#3443ea 49deg,#393ce5 53deg,#3a39d7 61deg,#3b38d2 71deg,#3a39d7 81deg,#393ce6 90deg,#2a53f4 101deg,#2281f8 110deg,#2089f9 113deg,#208cf9 116deg,#2089f9 119deg,#2281f8 122deg,#2b52f3 133deg,#3346ec 142deg,#3346ec 151deg,#2f4cef 157deg,#2a56f4 162deg,#256ef6 166deg,#1f92fa 171deg,#0ac5ea 177deg,#00dde1 181deg,#00dbce 185deg,#00dac6 190deg,#00dbcd 194deg,#00dee1 198deg,#0bc4ea 202deg,#1d97fa 207deg,#2a56f4 216deg,#3149ed 221deg,#393ce6 229deg,#3b38d3 245deg,#3c37cc 262deg,#3b38d4 280deg,#3a3adb 286deg,#393ce6 291deg,#3247ed 295deg,#2a54f4 298deg,#1d98f9 304deg,#14aff1 306deg,#0ebeec 308deg,#0cc2eb 310deg,#0cc0eb 311deg,#11b4f0 313deg,#1e93fa 316deg,#2a54f4 322deg,#3346ec 326deg,#393ce6 332deg,#393be3 338deg,#393ce6 349deg,#3444eb 360deg)"></i>
<i style="inset:94.5px;background:conic-gradient(from 90deg,#3246ec 0deg,#2c52f3 7deg,#295af5 9deg,#237bf8 13deg,#1e94fa 15deg,#17a7f4 16deg,#06d1e6 18deg,#00dcd4 19deg,#00d394 21deg,#00ce78 22deg,#00c665 23deg,#00ba48 25deg,#00b741 26deg,#00b63e 27deg,#00b741 28deg,#00bb49 29deg,#00c767 31deg,#00d07c 32deg,#00dee1 35deg,#1e96fa 38deg,#2667f6 41deg,#2b52f3 43deg,#3444eb 47deg,#393ce6 51deg,#3a39d7 59deg,#3b38d2 69deg,#3a39d7 80deg,#393ce6 89deg,#2a53f4 100deg,#2280f8 109deg,#2089f9 112deg,#208cf9 115deg,#2089f9 118deg,#2281f8 121deg,#2b52f3 132deg,#3246ec 141deg,#3346ec 150deg,#2e4ef1 158deg,#2959f4 162deg,#2571f7 166deg,#1e95fa 171deg,#09c8e9 177deg,#00dedf 181deg,#00dbcd 185deg,#00dac6 189deg,#00dbcb 193deg,#00dddd 197deg,#01dce2 198deg,#09c8e9 201deg,#1e94fa 207deg,#256ef6 212deg,#2a54f4 216deg,#3346ec 222deg,#393ce6 229deg,#3b38d3 244deg,#3c37cc 261deg,#3b38d4 278deg,#3a3adb 284deg,#393ce6 289deg,#3346ec 293deg,#2b53f3 296deg,#1e93fa 302deg,#12b4f0 305deg,#0dbfec 307deg,#0cc1eb 308deg,#0ebded 310deg,#14aef2 312deg,#1d98f9 314deg,#2957f4 320deg,#3444eb 325deg,#393ce6 331deg,#393be3 342deg,#383ee7 350deg,#3246ec 360deg)"></i>
<i style="inset:96.5px;background:conic-gradient(from 90deg,#3149ee 0deg,#2a54f4 6deg,#2860f5 8deg,#237af7 11deg,#1e93fa 13deg,#18a5f5 14deg,#06cfe6 16deg,#00ddd7 17deg,#00cf7b 20deg,#00c767 21deg,#00bb4a 23deg,#00b73f 25deg,#00b741 26deg,#00ba49 27deg,#00c665 29deg,#00ce79 30deg,#00d497 31deg,#00dddb 33deg,#09c9e8 34deg,#1c9af9 36deg,#2378f7 38deg,#2a53f4 41deg,#3345eb 45deg,#393ce4 50deg,#3b39d7 58deg,#3b38d2 68deg,#3a39d7 79deg,#393ce6 88deg,#2a53f4 99deg,#2280f8 108deg,#2089f9 111deg,#208cf9 114deg,#2089f9 117deg,#2281f8 120deg,#2b53f3 131deg,#3247ec 140deg,#3346ec 149deg,#2f4cef 156deg,#2a56f4 161deg,#266df6 165deg,#1d98f9 171deg,#0bc3ea 176deg,#01dce2 180deg,#00dbcb 185deg,#00dac6 189deg,#00dbcc 193deg,#00dee1 197deg,#0bc5ea 201deg,#1d99f9 206deg,#2957f4 215deg,#3149ee 220deg,#393ce6 228deg,#3b38d2 244deg,#3c37cc 260deg,#3b38d4 277deg,#3a3adc 283deg,#383de7 288deg,#3149ee 292deg,#2958f4 295deg,#1f90f9 300deg,#13b0f1 303deg,#0ebdec 305deg,#0cc0eb 306deg,#0ebdec 308deg,#13b1f1 310deg,#1f91fa 313deg,#2b53f4 319deg,#3443ea 324deg,#393ce6 330deg,#393be3 337deg,#393ce6 345deg,#3149ee 360deg)"></i>
<i style="inset:98.5px;background:conic-gradient(from 90deg,#2f4cef 0deg,#2a54f4 4deg,#2572f7 8deg,#1e96fa 11deg,#05d2e5 14deg,#00dcd3 15deg,#00d394 17deg,#00ce79 18deg,#00c666 19deg,#00bb4a 21deg,#00b740 23deg,#00b843 24deg,#00bb4b 25deg,#00c768 27deg,#00d07c 28deg,#00dede 31deg,#1d99f9 34deg,#266af6 37deg,#2a53f4 39deg,#3445eb 43deg,#393ce6 47deg,#3b39d6 56deg,#3b38d1 66deg,#3b39d7 78deg,#393ce6 87deg,#2b53f3 98deg,#2280f8 107deg,#2089f9 110deg,#208cf9 113deg,#208af9 116deg,#2282f8 119deg,#2b53f3 130deg,#3247ec 139deg,#3346ec 148deg,#2e4df0 156deg,#2959f4 161deg,#2570f7 165deg,#1f93fa 170deg,#0ac5ea 176deg,#00dee1 180deg,#00dbcd 184deg,#00dac6 188deg,#00dbcb 192deg,#00dddd 196deg,#01dce2 197deg,#09c9e8 200deg,#1e95fa 206deg,#2a54f4 215deg,#3346ec 221deg,#393ce6 228deg,#3b38d4 242deg,#3c37cd 258deg,#3b38d4 275deg,#3a3adc 281deg,#383de7 286deg,#3148ed 290deg,#2a56f4 293deg,#1e97fa 299deg,#14adf2 301deg,#0fbbed 303deg,#0dc0ec 305deg,#0fbaee 307deg,#15aaf3 309deg,#1e94fa 311deg,#2a56f4 317deg,#3445eb 322deg,#393ce6 329deg,#393ce6 342deg,#3641e9 351deg,#2f4cef 360deg)"></i>
<i style="inset:100.5px;background:conic-gradient(from 90deg,#2c50f2 0deg,#285df5 3deg,#266cf6 5deg,#2280f8 7deg,#1c9cf8 9deg,#02d9e3 12deg,#00dbc8 13deg,#00d28b 15deg,#00cc73 16deg,#00bf53 18deg,#00ba49 19deg,#00b842 21deg,#00bd4f 23deg,#00ca6e 25deg,#00d185 26deg,#00dac5 28deg,#02d9e3 29deg,#1e94fa 32deg,#2766f6 35deg,#2b52f3 37deg,#3444eb 41deg,#393ce6 45deg,#3b39d6 54deg,#3b38d1 64deg,#3b39d6 76deg,#393ce5 86deg,#2b53f3 97deg,#227ff8 106deg,#2088f9 109deg,#208cf9 112deg,#208af9 115deg,#2283f8 118deg,#2a54f4 129deg,#3247ed 138deg,#3346ec 148deg,#2f4cf0 155deg,#2a56f4 160deg,#266cf6 164deg,#1e96fa 170deg,#0cc1eb 175deg,#01dbe2 179deg,#00dede 180deg,#00dbcc 184deg,#00dac6 188deg,#00dbcc 192deg,#00dee1 196deg,#0ac5ea 200deg,#1d9af9 205deg,#2958f4 214deg,#3149ee 219deg,#393ce6 227deg,#3b38d3 242deg,#3b37cd 257deg,#3b39d5 274deg,#393de6 284deg,#2a53f4 291deg,#1e93fa 297deg,#16a9f3 299deg,#0fb9ee 301deg,#0dbfec 303deg,#0fbbed 305deg,#14adf2 307deg,#1f8ef9 310deg,#2b53f3 316deg,#3444ea 321deg,#393ce6 328deg,#393ce6 339deg,#3444eb 351deg,#2c50f2 360deg)"></i>
<i style="inset:102.5px;background:conic-gradient(from 90deg,#2959f4 0deg,#2570f7 3deg,#1f93fa 6deg,#07cce7 9deg,#00dddb 10deg,#00d181 13deg,#00c96d 14deg,#00bd50 16deg,#00b843 18deg,#00bb4a 20deg,#00c563 22deg,#00cd76 23deg,#00d390 24deg,#00dcd1 26deg,#06d1e6 27deg,#19a2f6 29deg,#1f8ef9 30deg,#2763f5 33deg,#2957f4 34deg,#2c51f2 35deg,#3443ea 39deg,#393ce5 43deg,#3b39d5 52deg,#3b38d0 63deg,#3b39d5 75deg,#383de7 86deg,#2b52f3 96deg,#227ff8 105deg,#2188f9 108deg,#208cf9 111deg,#208af9 114deg,#2183f8 117deg,#2b52f3 129deg,#3247ec 138deg,#3346ec 147deg,#2e4df0 155deg,#2959f4 160deg,#2475f7 165deg,#1d99f9 170deg,#0bc3ea 175deg,#01dde1 179deg,#00dbcd 183deg,#00dac6 187deg,#00dbcb 191deg,#00dddd 195deg,#01dce2 196deg,#09c9e8 199deg,#1e95fa 205deg,#2a55f4 214deg,#3346ec 220deg,#393ce6 227deg,#3b38d4 241deg,#3b37cd 256deg,#3b39d5 272deg,#3a3add 278deg,#393ce6 282deg,#2b52f3 289deg,#1f90f9 295deg,#14aff1 298deg,#0dbeec 301deg,#0ebced 303deg,#13b0f1 305deg,#1f92fa 308deg,#2a56f4 314deg,#3543ea 320deg,#393ce6 328deg,#373ee7 341deg,#304aee 354deg,#2a54f4 359deg,#2959f4 360deg)"></i>
<i style="inset:104.5px;background:conic-gradient(from 90deg,#266bf6 0deg,#227ef8 2deg,#1d98f9 4deg,#04d4e5 7deg,#00dcd1 8deg,#00cf7a 11deg,#00c768 12deg,#00bc4e 14deg,#00b944 16deg,#00bd4e 18deg,#00c86a 20deg,#00d07d 21deg,#00dddc 24deg,#08cae8 25deg,#1c9cf8 27deg,#208af9 28deg,#266cf6 30deg,#2a54f4 32deg,#3345eb 36deg,#393ce4 41deg,#3b38d4 51deg,#3b37cf 62deg,#3b39d6 75deg,#393de6 85deg,#2b52f3 95deg,#2282f8 105deg,#208af9 108deg,#208cf9 111deg,#2281f8 117deg,#2b53f3 128deg,#3247ec 137deg,#3247ec 147deg,#2d50f2 156deg,#295bf5 160deg,#2571f7 164deg,#1e94fa 169deg,#0ac6e9 175deg,#00dee0 179deg,#00dbcc 183deg,#00dac6 187deg,#00dbcc 191deg,#00dee1 195deg,#0ac5ea 199deg,#1f92fa 205deg,#266df6 210deg,#2a53f4 214deg,#393ce6 226deg,#3b38d4 240deg,#3b37ce 255deg,#3b39d6 271deg,#383ee7 281deg,#3149ee 285deg,#2957f4 288deg,#1e96fa 294deg,#15abf3 296deg,#0fb9ee 298deg,#0dbeec 300deg,#0fb9ee 302deg,#15abf3 304deg,#1e96fa 306deg,#2b53f3 313deg,#3641e9 320deg,#393de6 332deg,#3345eb 347deg,#2b52f3 356deg,#295cf5 358deg,#266bf6 360deg)"></i>
<i style="inset:106.5px;background:conic-gradient(from 90deg,#2281f8 0deg,#1c9cf8 2deg,#03d8e3 5deg,#00dbcc 6deg,#00d391 8deg,#00ce78 9deg,#00c158 11deg,#00bc4e 12deg,#00b946 14deg,#00be51 16deg,#00c96d 18deg,#00d181 19deg,#00dee0 22deg,#1d99f9 25deg,#2379f7 27deg,#2a54f4 30deg,#3248ed 33deg,#393ce6 38deg,#3b39d7 46deg,#3b38d0 55deg,#3b38d3 71deg,#393de6 84deg,#2a55f4 95deg,#2281f8 104deg,#208af9 107deg,#208cf9 110deg,#2185f8 115deg,#2a56f4 126deg,#2f4df0 131deg,#3346ec 142deg,#2e4ef0 154deg,#2a55f4 158deg,#285ef5 160deg,#2474f7 164deg,#1e97fa 169deg,#09c8e9 175deg,#01dbe2 178deg,#00dede 179deg,#00dbcb 183deg,#00dac6 187deg,#00dbce 191deg,#01dbe2 195deg,#0cc1eb 199deg,#1e96fa 204deg,#2a56f4 213deg,#3246ec 219deg,#393ce5 226deg,#3b38d4 239deg,#3b37ce 254deg,#3b39d6 269deg,#383de7 279deg,#2a54f4 286deg,#1f92fa 292deg,#17a7f4 294deg,#10b6ef 296deg,#0ebdec 298deg,#0fbaed 300deg,#14aef2 302deg,#1f91fa 305deg,#2a57f4 311deg,#3148ed 315deg,#3740e8 320deg,#373fe7 335deg,#2e4df0 351deg,#2957f4 355deg,#266df6 358deg,#2281f8 360deg)"></i>
<i style="inset:108.5px;background:conic-gradient(from 90deg,#1c9af8 0deg,#04d5e4 3deg,#00dccf 4deg,#00cf7b 7deg,#00c869 8deg,#00bd50 10deg,#00ba47 12deg,#00be51 14deg,#00c96b 16deg,#00d07e 17deg,#00dddb 20deg,#08cbe8 21deg,#1b9df8 23deg,#208bf9 24deg,#256df6 26deg,#2a55f4 28deg,#3345eb 32deg,#393ce4 37deg,#3b38d3 47deg,#3b37cf 59deg,#3b39d5 72deg,#393ce6 83deg,#2a54f4 94deg,#2281f8 103deg,#2089f9 106deg,#208cf9 109deg,#208af9 112deg,#2282f8 115deg,#2b52f3 127deg,#3247ed 136deg,#3248ed 146deg,#2c50f2 155deg,#295cf5 159deg,#2477f7 164deg,#1c9af9 169deg,#0bc3ea 174deg,#01dde2 178deg,#00dbce 182deg,#00dac7 186deg,#00dbcd 190deg,#00dee1 194deg,#0ac5ea 198deg,#1f93fa 204deg,#2860f5 211deg,#2c51f2 214deg,#393ce6 225deg,#3b38d3 240deg,#3b37cf 256deg,#3b39d6 268deg,#393ce4 276deg,#3247ec 281deg,#2b52f3 284deg,#295af5 285deg,#1f8ef9 290deg,#15acf2 293deg,#0ebced 296deg,#0fbbed 298deg,#13b1f1 300deg,#1e95fa 303deg,#2a53f4 310deg,#3345eb 315deg,#383ee7 321deg,#3641e9 338deg,#3149ee 346deg,#2b53f3 352deg,#285df5 354deg,#266cf6 356deg,#2280f8 358deg,#1c9af8 360deg)"></i>
<i style="inset:110.5px;background:conic-gradient(from 90deg,#10b7ef 0deg,#00dede 2deg,#00d187 5deg,#00cc72 6deg,#00c056 8deg,#00ba49 10deg,#00bc4e 12deg,#00c664 14deg,#00cd75 15deg,#00d28c 16deg,#00dbca 18deg,#03d7e3 19deg,#1e94fa 22deg,#2668f6 25deg,#2b53f3 27deg,#3444eb 31deg,#393ce6 35deg,#3b38d4 45deg,#3b37ce 57deg,#3b39d5 71deg,#393ce6 82deg,#2a54f4 93deg,#2281f8 102deg,#2089f9 105deg,#208cf9 108deg,#208af9 111deg,#2183f8 114deg,#2b52f3 126deg,#3247ed 135deg,#3247ed 144deg,#2c51f2 155deg,#285ef5 159deg,#2473f7 163deg,#1e94fa 168deg,#0ac5ea 174deg,#00dee1 178deg,#00dcd1 181deg,#00dac7 185deg,#00dbcc 189deg,#00dede 193deg,#01dbe2 194deg,#09c8e8 197deg,#1e97fa 203deg,#2a57f4 212deg,#3149ed 217deg,#383de7 224deg,#3b39d5 237deg,#3b37cf 251deg,#3b39d6 266deg,#393ce6 275deg,#3149ee 280deg,#2957f4 283deg,#1e94fa 289deg,#16a8f4 291deg,#11b6ef 293deg,#0ebced 295deg,#10b8ee 297deg,#15acf2 299deg,#1f8ff9 302deg,#285ff5 307deg,#2c51f3 309deg,#3641e9 316deg,#383de7 326deg,#3345eb 341deg,#2a54f4 351deg,#2668f6 354deg,#237bf8 356deg,#1f93fa 358deg,#10b7ef 360deg)"></i>
<i style="inset:112.5px;background:conic-gradient(from 90deg,#05d2e5 0deg,#00dcd4 1deg,#00d07f 4deg,#00ca6d 5deg,#00bf54 7deg,#00bb49 9deg,#00be51 11deg,#00c86a 13deg,#00cf7b 14deg,#00d396 15deg,#00dcd4 17deg,#06d0e6 18deg,#18a3f5 20deg,#1f90f9 21deg,#2765f6 24deg,#2c52f3 26deg,#3444ea 30deg,#393ce5 34deg,#3b38d4 44deg,#3b37ce 56deg,#3b39d5 70deg,#393ce6 81deg,#2a54f4 92deg,#2280f8 101deg,#2089f9 104deg,#208df9 107deg,#208af9 110deg,#2183f8 113deg,#2b53f3 125deg,#3248ed 134deg,#3248ed 144deg,#2c51f2 154deg,#295cf5 158deg,#2476f7 163deg,#1e97fa 168deg,#09c8e9 174deg,#00dedf 178deg,#00dcd0 181deg,#00dac8 185deg,#00dbce 189deg,#00dde1 193deg,#0bc5ea 197deg,#1f93fa 203deg,#2a54f4 212deg,#393ce6 224deg,#3b39d6 236deg,#3b38d0 250deg,#3b39d6 264deg,#383de7 274deg,#2a54f4 281deg,#1f90f9 287deg,#15acf2 290deg,#10b8ee 292deg,#0fbbed 294deg,#11b5ef 296deg,#17a6f4 298deg,#1f93fa 300deg,#2a53f4 307deg,#3247ed 311deg,#3641e9 315deg,#383de7 326deg,#3246ec 341deg,#2a56f4 350deg,#266bf6 353deg,#208bf9 356deg,#1d99f9 357deg,#05d2e5 360deg)"></i>
<i style="inset:114.5px;background:conic-gradient(from 90deg,#00dbcd 0deg,#00cf7b 3deg,#00c86b 4deg,#00bf53 6deg,#00bb4b 8deg,#00bf54 10deg,#00ca6e 12deg,#00d080 13deg,#00ddda 16deg,#07cce7 17deg,#1a9ff7 19deg,#227ef8 21deg,#2957f4 24deg,#3346ec 28deg,#393ce5 33deg,#3b39d5 42deg,#3b37ce 55deg,#3b39d5 69deg,#383ee7 81deg,#2a53f4 91deg,#2280f8 100deg,#2089f9 103deg,#208df9 106deg,#208bf9 109deg,#2184f8 112deg,#2a56f4 123deg,#2f4df0 128deg,#3247ec 139deg,#2c51f2 153deg,#2a57f4 156deg,#2763f5 159deg,#1f93fa 167deg,#09cae8 174deg,#01dce2 177deg,#00dede 178deg,#00dccf 181deg,#00dbc9 185deg,#00dbcd 188deg,#00dee0 192deg,#02dae2 193deg,#0cc1eb 197deg,#1e97fa 202deg,#2957f4 211deg,#3149ed 216deg,#383de7 223deg,#3b39d5 236deg,#3b38d0 249deg,#3b39d7 263deg,#383de6 272deg,#2b52f3 279deg,#1e95fa 286deg,#16a8f4 288deg,#11b5ef 290deg,#0fbaee 292deg,#11b6ef 294deg,#16a9f3 296deg,#1e97fa 298deg,#2a56f4 305deg,#2e4ef0 307deg,#3444eb 311deg,#373ee7 316deg,#3740e8 331deg,#304aee 343deg,#2958f4 349deg,#2477f7 353deg,#1b9df7 356deg,#03d8e3 359deg,#00dbcd 360deg)"></i>
<i style="inset:116.5px;background:conic-gradient(from 90deg,#00d7ac 0deg,#00ce79 2deg,#00c869 3deg,#00bf53 5deg,#00bc4c 7deg,#00c056 9deg,#00cb70 11deg,#00d184 12deg,#00dddd 15deg,#1b9ef7 18deg,#237df8 20deg,#2957f4 23deg,#3346ec 27deg,#393ce4 32deg,#3b39d5 41deg,#3b37ce 54deg,#3b39d5 68deg,#373fe8 81deg,#2a53f4 90deg,#2280f8 99deg,#2089f9 102deg,#208df9 105deg,#208bf9 108deg,#2184f8 111deg,#2a57f4 122deg,#2f4cef 128deg,#3247ec 139deg,#2c52f3 153deg,#2a55f4 155deg,#2766f6 159deg,#1e95fa 167deg,#08cbe7 174deg,#01dde1 177deg,#00dddc 178deg,#00dbcf 181deg,#00dbca 185deg,#00dcd0 188deg,#01dce2 192deg,#0bc4ea 196deg,#1e93fa 202deg,#2a55f4 211deg,#3346ec 217deg,#393ce6 223deg,#3b39d7 234deg,#3b38d1 247deg,#3b39d7 261deg,#393ce6 270deg,#3346ec 274deg,#2a56f4 278deg,#1f91fa 284deg,#18a4f5 286deg,#12b2f0 288deg,#10b9ee 290deg,#10b6ef 292deg,#15acf2 294deg,#1f91fa 297deg,#295af5 303deg,#2f4cf0 306deg,#3443ea 310deg,#383ee7 315deg,#3740e8 330deg,#3248ed 340deg,#2a54f4 347deg,#256ff6 351deg,#2184f8 353deg,#1aa0f6 355deg,#01dbe2 358deg,#00d7ac 360deg)"></i>
<i style="inset:118.5px;background:conic-gradient(from 90deg,#00d390 0deg,#00ce79 1deg,#00c869 2deg,#00bf54 4deg,#00bc4d 6deg,#00be50 7deg,#00c563 9deg,#00cb72 10deg,#00d186 11deg,#00dddd 14deg,#1a9ff7 17deg,#208df9 18deg,#256ff6 20deg,#2958f4 22deg,#2e4df0 24deg,#3443ea 27deg,#393ce5 31deg,#3b39d5 40deg,#3b37ce 53deg,#3b39d5 67deg,#373fe8 80deg,#2b53f3 89deg,#227ff8 98deg,#2188f9 101deg,#208cf9 104deg,#208af9 107deg,#2184f8 110deg,#2a53f4 122deg,#2f4cef 127deg,#3247ec 138deg,#2c51f2 152deg,#295bf5 156deg,#2378f7 162deg,#1d98f9 167deg,#0ac6e9 173deg,#00dee1 177deg,#00dcd0 181deg,#00dbcc 184deg,#00dcd0 187deg,#00dde1 191deg,#0dc0eb 196deg,#1e97fa 201deg,#2958f4 210deg,#3149ee 215deg,#383de6 222deg,#3b39d6 234deg,#3b38d1 246deg,#3b39d7 259deg,#383ee7 269deg,#2a53f4 276deg,#1e95fa 283deg,#17a8f4 285deg,#12b3f0 287deg,#10b7ee 289deg,#14adf2 292deg,#1e94fa 295deg,#2a55f4 302deg,#2e4ef0 304deg,#3444eb 308deg,#383ee7 313deg,#373fe8 328deg,#3248ed 339deg,#2a54f4 346deg,#2571f7 350deg,#1f92fa 353deg,#11b5ef 355deg,#01dde2 357deg,#00d390 360deg)"></i>
<i style="inset:120.5px;background:conic-gradient(from 90deg,#00cf7a 0deg,#00c35e 2deg,#00bd50 4deg,#00bd4f 5deg,#00c159 7deg,#00cb71 9deg,#00d184 10deg,#00ddda 13deg,#07cde7 14deg,#19a2f6 16deg,#1f8ff9 17deg,#2572f7 19deg,#295af5 21deg,#2e4ef0 23deg,#3641e9 27deg,#393ce5 30deg,#3b39d5 39deg,#3b37ce 52deg,#3b39d5 66deg,#383de7 78deg,#2b53f3 88deg,#227ef8 97deg,#2187f9 100deg,#208bf9 103deg,#2183f8 109deg,#2a56f4 120deg,#2f4cef 126deg,#3247ec 138deg,#2b52f3 152deg,#2a56f4 154deg,#2765f6 158deg,#1f93fa 166deg,#09c8e9 173deg,#00dee1 177deg,#00dcd4 180deg,#00dbce 183deg,#00dcd1 186deg,#00dee1 190deg,#0cc2eb 195deg,#1f92fa 201deg,#2a54f4 210deg,#393ce6 222deg,#3b39d7 233deg,#3b38d1 245deg,#3a39d7 258deg,#393de6 267deg,#304aee 272deg,#2957f4 275deg,#1f90f9 281deg,#19a2f6 283deg,#14aff1 285deg,#11b5ef 287deg,#12b2f0 289deg,#17a7f4 291deg,#1e96fa 293deg,#2958f4 300deg,#2f4cef 303deg,#3542ea 307deg,#383de7 312deg,#383ee7 327deg,#3247ed 338deg,#2a54f4 345deg,#2571f7 349deg,#1f93fa 352deg,#00dde1 356deg,#00d390 359deg,#00cf7a 360deg)"></i>
<i style="inset:122.5px;background:conic-gradient(from 90deg,#00c96d 0deg,#00c057 2deg,#00be52 3deg,#00be50 4deg,#00c159 6deg,#00cb70 8deg,#00d182 9deg,#00dcd5 12deg,#05d1e5 13deg,#1f93fa 16deg,#2668f6 19deg,#2b53f3 21deg,#3542e9 26deg,#393ce5 29deg,#3b39d5 38deg,#3b37ce 51deg,#3b39d5 65deg,#383de7 77deg,#2b52f3 87deg,#237cf8 96deg,#2089f9 102deg,#2282f8 108deg,#2a56f4 119deg,#304bee 126deg,#3247ed 138deg,#2b53f3 152deg,#2767f6 158deg,#1e95fa 166deg,#0cc2eb 172deg,#00dee1 177deg,#00dcd5 180deg,#00dcd1 183deg,#00dcd5 186deg,#00dee1 189deg,#0bc4ea 194deg,#1e95fa 200deg,#2957f4 209deg,#3246ec 215deg,#393ce5 222deg,#3b39d6 233deg,#3b38d2 245deg,#3a39d8 257deg,#383ee7 266deg,#2a53f4 273deg,#1f93fa 280deg,#18a4f5 282deg,#13b1f0 285deg,#13b1f1 287deg,#17a8f4 289deg,#1f90f9 292deg,#2a54f4 299deg,#3543ea 305deg,#393ce6 311deg,#383ee7 327deg,#2d4ff1 342deg,#2a54f4 344deg,#2860f5 346deg,#237bf8 349deg,#1f93fa 351deg,#01dce2 355deg,#00d393 358deg,#00cf7c 359deg,#00c96d 360deg)"></i>
<i style="inset:124.5px;background:conic-gradient(from 90deg,#00c563 0deg,#00bf54 2deg,#00be52 3deg,#00bf53 4deg,#00c562 6deg,#00d07e 8deg,#00dbce 11deg,#03d7e4 12deg,#1d98f9 15deg,#2379f7 17deg,#2a55f4 20deg,#3345eb 24deg,#393ce6 28deg,#3b39d5 37deg,#3b37ce 49deg,#3b39d5 64deg,#383de7 76deg,#2a55f4 87deg,#237bf8 95deg,#2188f9 101deg,#2281f8 107deg,#2a56f4 118deg,#304aee 125deg,#3247ec 137deg,#2b52f3 151deg,#2a56f4 153deg,#2669f6 158deg,#1e97fa 166deg,#0bc3ea 172deg,#00dee1 177deg,#00ddd6 180deg,#00dcd4 182deg,#00ddd6 185deg,#00dee1 188deg,#0ac5ea 193deg,#1d98f9 199deg,#2a54f4 209deg,#3345eb 215deg,#393ce5 221deg,#3a39d7 231deg,#3b38d2 243deg,#3a39d7 255deg,#393de6 264deg,#304aee 269deg,#2a57f4 272deg,#1e96fa 279deg,#18a5f5 281deg,#14aef2 283deg,#15acf2 286deg,#19a2f6 288deg,#1f93fa 290deg,#2a56f4 297deg,#2c51f2 298deg,#3640e8 305deg,#393ce4 313deg,#3740e8 329deg,#2c51f2 342deg,#2958f4 344deg,#2667f6 346deg,#1f92fa 350deg,#02dae2 354deg,#00dbcb 355deg,#00d080 358deg,#00c563 360deg)"></i>
<i style="inset:126.5px;background:conic-gradient(from 90deg,#00c35d 0deg,#00bf53 2deg,#00bf54 3deg,#00c158 4deg,#00c96c 6deg,#00cf7a 7deg,#00d390 8deg,#00dde1 11deg,#1b9ef7 14deg,#208df9 15deg,#2764f5 18deg,#2c52f3 20deg,#3443ea 24deg,#393ce4 28deg,#3b38d4 37deg,#3b37cf 49deg,#3b39d5 63deg,#393ce5 74deg,#2a54f4 86deg,#237df8 95deg,#2184f8 98deg,#2187f9 101deg,#237df8 107deg,#2a55f4 117deg,#2c51f2 119deg,#3247ed 128deg,#3248ed 138deg,#2b53f3 151deg,#285ef5 155deg,#2475f7 160deg,#1d99f9 166deg,#0bc5ea 172deg,#00dde1 177deg,#00ddd8 180deg,#00ddd6 182deg,#00dde1 187deg,#0ac6e9 192deg,#1f93fa 199deg,#2762f5 206deg,#2b52f3 209deg,#393ce6 220deg,#3b39d7 231deg,#3b38d2 244deg,#3a39d8 255deg,#393ce5 262deg,#3345eb 266deg,#2b53f3 270deg,#1f90f9 277deg,#1a9ff7 279deg,#15acf2 282deg,#16a8f4 285deg,#1e95fa 288deg,#2b53f3 296deg,#3640e9 303deg,#393be3 311deg,#383ee7 326deg,#2e4ef0 340deg,#2b53f3 342deg,#285ef5 344deg,#2379f7 347deg,#1f90f9 349deg,#1aa0f7 350deg,#03d7e4 353deg,#00dcd0 354deg,#00d185 357deg,#00cc74 358deg,#00c35d 360deg)"></i>
<i style="inset:128.5px;background:conic-gradient(from 90deg,#00c159 0deg,#00c055 2deg,#00c159 3deg,#00c86a 5deg,#00ce78 6deg,#00d28c 7deg,#00dddc 10deg,#07cde7 11deg,#1f92fa 14deg,#2668f6 17deg,#2b53f3 19deg,#3641e9 24deg,#393ce4 27deg,#3b38d4 36deg,#3b37cf 50deg,#3b39d5 63deg,#383ee7 75deg,#2a53f4 85deg,#2378f7 93deg,#2185f8 99deg,#227ff8 105deg,#2a55f4 116deg,#304aee 123deg,#3247ec 135deg,#2b52f3 150deg,#2959f4 153deg,#2668f6 157deg,#1e94fa 165deg,#08cbe7 173deg,#02d9e3 176deg,#00dedf 178deg,#00ddda 182deg,#00dedf 185deg,#02dae3 187deg,#0cc1eb 192deg,#1e95fa 198deg,#2958f4 207deg,#2f4bef 211deg,#393ce5 220deg,#3a39d9 228deg,#3b38d3 238deg,#3b39d7 252deg,#393ce4 260deg,#3443ea 264deg,#2a55f4 269deg,#1d99f9 277deg,#18a5f5 279deg,#16aaf3 281deg,#17a8f4 283deg,#1b9ef7 285deg,#1f90f9 287deg,#2a55f4 294deg,#3345eb 299deg,#393ce6 305deg,#393be1 313deg,#393ce6 323deg,#2f4bef 338deg,#2a56f4 342deg,#256ef6 345deg,#1f8ff9 348deg,#1b9ef7 349deg,#04d4e4 352deg,#00dcd4 353deg,#00d289 356deg,#00cd77 357deg,#00c460 359deg,#00c159 360deg)"></i>
<i style="inset:130.5px;background:conic-gradient(from 90deg,#00c057 0deg,#00c159 2deg,#00c45f 3deg,#00cd75 5deg,#00d187 6deg,#00d59e 7deg,#00dcd4 9deg,#05d3e5 10deg,#1e97fa 13deg,#266cf6 16deg,#2a55f4 18deg,#3542ea 23deg,#393ce5 26deg,#3b39d5 35deg,#3b37cf 47deg,#3b38d4 61deg,#393de6 73deg,#2b53f3 84deg,#237af7 93deg,#2184f8 99deg,#227ef8 104deg,#2a54f4 115deg,#2f4cf0 120deg,#3346ec 130deg,#2f4cef 143deg,#2b53f3 150deg,#295bf5 153deg,#2474f7 159deg,#1e96fa 165deg,#0cc1eb 171deg,#04d5e4 175deg,#00dee1 178deg,#00dddc 181deg,#00dee1 184deg,#03d6e4 187deg,#09c8e9 190deg,#1d97fa 197deg,#2861f5 205deg,#2c52f3 208deg,#393ce6 219deg,#3a39d9 227deg,#3b38d3 237deg,#3a39d7 251deg,#393ce5 259deg,#3542e9 262deg,#2b52f3 267deg,#208df9 274deg,#1aa0f6 277deg,#17a7f4 279deg,#17a7f4 281deg,#1a9ff7 283deg,#1f92fa 285deg,#2b52f3 293deg,#3444eb 298deg,#393ce6 303deg,#3a3be1 312deg,#393ce6 323deg,#304bef 337deg,#2a55f4 341deg,#256df6 344deg,#1f8ef9 347deg,#1c9cf8 348deg,#05d1e5 351deg,#00ddd8 352deg,#00d6a6 354deg,#00cf7b 356deg,#00c563 358deg,#00c057 360deg)"></i>
<i style="inset:132.5px;background:conic-gradient(from 90deg,#00c158 0deg,#00c35e 2deg,#00cb71 4deg,#00d07f 5deg,#00d7ae 7deg,#01dce2 9deg,#1aa0f7 12deg,#1f8ff9 13deg,#2766f6 16deg,#2b52f3 18deg,#3444ea 22deg,#393ce4 26deg,#3b38d4 35deg,#3b37cf 47deg,#3b39d5 61deg,#393ce6 72deg,#2b53f3 83deg,#2379f7 92deg,#2183f8 98deg,#237af7 104deg,#2a54f4 114deg,#2c51f2 116deg,#3247ec 125deg,#3248ed 136deg,#2c50f2 147deg,#2959f4 152deg,#2571f7 158deg,#1d98f9 165deg,#0ebbed 170deg,#05d1e6 174deg,#00dde1 178deg,#00dee1 182deg,#04d5e4 186deg,#0bc3ea 190deg,#1f92fa 197deg,#2b53f3 207deg,#393ce6 218deg,#3a39d7 229deg,#3b38d3 241deg,#3a39d9 251deg,#393ce6 258deg,#3543ea 261deg,#2a54f4 266deg,#227ff8 271deg,#1e95fa 274deg,#18a3f5 277deg,#19a3f6 280deg,#208df9 284deg,#2a54f4 291deg,#3445eb 296deg,#393ce6 301deg,#3a3be1 306deg,#3a3be0 313deg,#373fe8 327deg,#3247ec 334deg,#2c51f2 339deg,#2a54f4 340deg,#266af6 343deg,#1d97fa 347deg,#00dee1 351deg,#00d7af 353deg,#00d182 355deg,#00cc73 356deg,#00c45f 358deg,#00c158 360deg)"></i>
<i style="inset:134.5px;background:conic-gradient(from 90deg,#00c159 0deg,#00c562 2deg,#00cd76 4deg,#00d188 5deg,#00d59e 6deg,#00dcd1 8deg,#03d6e4 9deg,#1c9bf8 12deg,#208bf9 13deg,#2763f5 16deg,#2c51f2 18deg,#3543ea 22deg,#393be3 26deg,#3b38d4 35deg,#3b37cf 47deg,#3b39d5 60deg,#393ce6 71deg,#2b52f3 82deg,#2378f7 91deg,#2282f8 97deg,#2379f7 103deg,#2a54f4 113deg,#2d4ff1 116deg,#3247ec 125deg,#3248ed 135deg,#2b52f3 148deg,#295bf5 152deg,#2473f7 158deg,#1e93fa 164deg,#11b6ef 169deg,#07cce7 173deg,#02dae2 177deg,#01dce2 181deg,#04d5e4 185deg,#0bc3ea 189deg,#1e94fa 196deg,#2a54f4 206deg,#3345eb 212deg,#393ce5 218deg,#3b39d7 229deg,#3b38d4 241deg,#3a39d9 250deg,#393ce5 256deg,#3444eb 260deg,#2a57f4 265deg,#2281f8 270deg,#1e95fa 273deg,#19a2f6 276deg,#1a9ff7 279deg,#2089f9 283deg,#2b52f3 290deg,#383ee7 298deg,#3a3bdf 306deg,#3a3bdf 314deg,#393ce6 324deg,#304bef 336deg,#2a56f4 340deg,#256ff6 343deg,#1f90f9 346deg,#1a9ff7 347deg,#04d3e5 350deg,#00ddd6 351deg,#00d6a6 353deg,#00d07c 355deg,#00c665 357deg,#00c35e 358deg,#00c159 360deg)"></i>
<i style="inset:136.5px;background:conic-gradient(from 90deg,#00c25b 0deg,#00c564 2deg,#00ce78 4deg,#00d59f 6deg,#00dcd1 8deg,#03d6e4 9deg,#1c9cf8 12deg,#208cf9 13deg,#2764f5 16deg,#2b52f3 18deg,#3543ea 22deg,#393be3 26deg,#3b38d4 35deg,#3b37cf 46deg,#3b39d5 59deg,#393ce6 70deg,#2a54f4 82deg,#2477f7 90deg,#2281f8 96deg,#2378f7 102deg,#2a54f4 112deg,#2d4ff1 115deg,#3246ec 124deg,#3247ed 134deg,#2b53f3 148deg,#285df5 152deg,#2475f7 158deg,#1e95fa 164deg,#10b7ee 169deg,#07cce7 173deg,#02d8e3 177deg,#02dae2 180deg,#04d4e5 184deg,#0bc4ea 188deg,#1e96fa 195deg,#295cf5 204deg,#2b52f3 206deg,#393ce6 217deg,#3a39d7 228deg,#3b38d4 240deg,#3a3ada 249deg,#3640e8 257deg,#2b53f3 263deg,#2183f8 269deg,#1c9af8 273deg,#1aa0f7 276deg,#1e96fa 279deg,#2184f8 282deg,#2a54f4 288deg,#2c50f2 289deg,#393de6 297deg,#3a3add 306deg,#3a3ade 315deg,#393ce6 324deg,#304bef 336deg,#2957f4 340deg,#2570f7 343deg,#1f92fa 346deg,#04d5e4 350deg,#00dcd4 351deg,#00d5a4 353deg,#00cf7c 355deg,#00c766 357deg,#00c45f 358deg,#00c25b 360deg)"></i>
<i style="inset:138.5px;background:conic-gradient(from 90deg,#00c35d 0deg,#00c665 2deg,#00ce79 4deg,#00d59f 6deg,#00dcd0 8deg,#03d7e3 9deg,#1b9df7 12deg,#208df9 13deg,#2766f6 16deg,#2b52f3 18deg,#3443ea 22deg,#393be3 26deg,#3b38d4 35deg,#3b38d0 46deg,#3b39d6 59deg,#393ce6 69deg,#2a54f4 81deg,#2475f7 89deg,#227ff8 95deg,#2477f7 101deg,#2a56f4 110deg,#2d4ef1 114deg,#3346ec 123deg,#3247ed 133deg,#2b52f3 147deg,#295bf5 151deg,#2572f7 157deg,#1e97fa 164deg,#10b8ee 169deg,#09c8e9 172deg,#04d5e4 176deg,#03d7e3 180deg,#06d0e6 184deg,#0dbfec 188deg,#1d98f9 194deg,#2b53f3 205deg,#3345eb 211deg,#393ce5 217deg,#3a39d7 227deg,#3b38d4 238deg,#3a39d9 247deg,#393ce4 253deg,#3443ea 257deg,#2a54f4 262deg,#2184f8 268deg,#1e95fa 271deg,#1b9df7 274deg,#1e97fa 277deg,#2186f9 280deg,#2957f4 286deg,#3345eb 291deg,#393ce5 296deg,#3a3adc 306deg,#3a3add 315deg,#393ce6 325deg,#304bef 336deg,#2958f4 340deg,#2571f7 343deg,#1f93fa 346deg,#03d6e4 350deg,#00dcd3 351deg,#00d5a4 353deg,#00d07c 355deg,#00c767 357deg,#00c461 358deg,#00c35d 360deg)"></i>
<i style="inset:140.5px;background:conic-gradient(from 90deg,#00c35e 0deg,#00c766 2deg,#00cf7a 4deg,#00d5a0 6deg,#00dcd0 8deg,#03d8e3 9deg,#1a9ff7 12deg,#1f8ff9 13deg,#2767f6 16deg,#2b53f3 18deg,#3444eb 22deg,#393be3 26deg,#3b39d5 34deg,#3b38d0 45deg,#3b39d7 58deg,#393ce6 68deg,#2a53f4 80deg,#2474f7 88deg,#227ef8 94deg,#2476f7 100deg,#2a56f4 109deg,#2d50f2 112deg,#3247ec 121deg,#3247ec 131deg,#2c51f2 145deg,#295af5 150deg,#2570f7 156deg,#1f93fa 163deg,#12b3f0 168deg,#09c8e9 172deg,#05d3e5 176deg,#04d5e4 179deg,#06cfe6 183deg,#0dbfec 187deg,#1f93fa 194deg,#295af5 203deg,#2c51f2 205deg,#393ce6 216deg,#3a39d8 226deg,#3b38d4 237deg,#3a3ada 246deg,#393ce5 252deg,#3444eb 256deg,#2a57f4 261deg,#227ff8 266deg,#1e95fa 270deg,#1c9bf8 273deg,#1f93fa 276deg,#2282f8 279deg,#2a54f4 285deg,#3444eb 290deg,#393ce6 294deg,#3a3add 300deg,#3a3ada 307deg,#3a3add 316deg,#393ce6 325deg,#304bef 336deg,#2958f4 340deg,#2572f7 343deg,#1e94fa 346deg,#03d7e3 350deg,#00dcd2 351deg,#00d5a4 353deg,#00d07d 355deg,#00c869 357deg,#00c562 358deg,#00c35e 360deg)"></i>
<i style="inset:142.5px;background:conic-gradient(from 90deg,#00c460 0deg,#00c767 2deg,#00cf7a 4deg,#00d5a0 6deg,#00dbcf 8deg,#02d9e3 9deg,#1aa1f6 12deg,#1f90f9 13deg,#2669f6 16deg,#2a53f4 18deg,#3444eb 22deg,#393ce4 26deg,#3b39d5 34deg,#3b38d1 45deg,#3b39d7 57deg,#393ce6 67deg,#2b53f3 79deg,#2473f7 87deg,#237df8 93deg,#2477f7 98deg,#2a55f4 108deg,#2e4ef1 112deg,#3247ec 120deg,#3247ec 130deg,#2c52f3 145deg,#295cf5 150deg,#2571f7 156deg,#1e94fa 163deg,#0bc3ea 171deg,#06d0e6 175deg,#05d2e5 178deg,#07cde7 182deg,#0fbaed 187deg,#1e95fa 193deg,#2a56f4 203deg,#3149ed 208deg,#393ce6 215deg,#3a39d9 224deg,#3b39d5 234deg,#3a39d9 244deg,#393ce6 251deg,#2b53f3 259deg,#2186f9 266deg,#1e94fa 269deg,#1d98f9 271deg,#1f90f9 275deg,#227ef8 278deg,#2958f4 283deg,#3345eb 288deg,#393ce5 293deg,#3a3adc 299deg,#3a39d9 307deg,#3a3adc 316deg,#393ce6 326deg,#304bef 336deg,#2959f4 340deg,#2473f7 343deg,#1e95fa 346deg,#02d8e3 350deg,#00dcd1 351deg,#00d5a4 353deg,#00d07e 355deg,#00c86a 357deg,#00c664 358deg,#00c460 360deg)"></i>
<i style="inset:144.5px;background:conic-gradient(from 90deg,#00c561 0deg,#00c869 2deg,#00cf7b 4deg,#00d5a0 6deg,#00dbce 8deg,#02d9e3 9deg,#1f91fa 13deg,#266af6 16deg,#2a54f4 18deg,#3445eb 22deg,#393ce4 26deg,#3b39d5 34deg,#3b38d1 44deg,#3b39d7 56deg,#393ce6 66deg,#2b53f3 78deg,#2572f7 86deg,#237bf8 92deg,#2476f7 97deg,#2a54f4 107deg,#2e4ef0 111deg,#3246ec 119deg,#3247ec 129deg,#2c51f2 144deg,#295af5 149deg,#2473f7 156deg,#1e96fa 163deg,#11b4ef 168deg,#0bc3ea 171deg,#07cee7 175deg,#06d0e6 178deg,#09c9e8 182deg,#0fbaed 186deg,#1e96fa 192deg,#2a53f4 203deg,#393ce5 215deg,#3a39d9 224deg,#3b39d5 235deg,#3a39d9 243deg,#393ce4 249deg,#3444ea 253deg,#2a54f4 258deg,#237af7 263deg,#208cf9 266deg,#1e96fa 270deg,#208cf9 274deg,#237af7 277deg,#2a54f4 282deg,#3444eb 287deg,#393ce6 291deg,#3a3adb 297deg,#3a39d8 306deg,#3a3adb 316deg,#393ce6 326deg,#304bef 336deg,#2b53f3 339deg,#2959f4 340deg,#2474f7 343deg,#1e96fa 346deg,#02d9e3 350deg,#00dcd1 351deg,#00d6a4 353deg,#00d07f 355deg,#00cc74 356deg,#00c665 358deg,#00c561 360deg)"></i>
<i style="inset:146.5px;background:conic-gradient(from 90deg,#00c563 0deg,#00c86a 2deg,#00d07c 4deg,#00d5a0 6deg,#00dbce 8deg,#02dae2 9deg,#1f93fa 13deg,#266bf6 16deg,#2a56f4 18deg,#3345eb 22deg,#393ce5 26deg,#3b39d6 34deg,#3b38d1 44deg,#3b39d7 55deg,#393ce6 65deg,#2b52f3 77deg,#2571f7 85deg,#237af7 91deg,#2475f7 96deg,#2a54f4 106deg,#2e4ef0 110deg,#3346ec 118deg,#3246ec 128deg,#2d50f2 142deg,#2959f4 148deg,#2571f7 155deg,#1d97fa 163deg,#13b0f1 167deg,#0cc2eb 171deg,#08cce7 175deg,#07cde7 178deg,#0ac5ea 182deg,#11b5ef 186deg,#1e97fa 191deg,#2a55f4 202deg,#2b52f3 203deg,#393ce6 214deg,#3a39d9 223deg,#3b39d5 233deg,#3a3ada 242deg,#393ce5 248deg,#3542e9 251deg,#2a55f4 257deg,#237bf8 262deg,#208cf9 265deg,#1e94fa 269deg,#1f91fa 271deg,#2183f8 274deg,#2b52f3 281deg,#3641e9 287deg,#393ce4 290deg,#3a39d9 297deg,#3a39d7 309deg,#393ce6 326deg,#2e4df0 337deg,#2a53f4 339deg,#2762f5 341deg,#2280f8 344deg,#1d98f9 346deg,#02dae3 350deg,#00dcd0 351deg,#00d6a5 353deg,#00d080 355deg,#00cd75 356deg,#00c766 358deg,#00c563 360deg)"></i>
</div>
<div class="d" style="left:151.5px;top:382.5px;width:297.0px;height:297.0px">
<i style="inset:0.5px;background:conic-gradient(from 90deg,#ffe400 0deg,#ffb900 2.4deg,#ffb900 13.2deg,#ffec00 18deg,#7dd400 24.8deg,#7ad301 25deg,#00af2d 31.2deg,#00b336 32deg,#00c666 39deg,#00d07d 43.4deg,#00dee1 57.1deg,#00dee1 63.2deg,#13aff1 69.4deg,#01dce2 73.9deg,#00dee1 74deg,#00d07d 76.9deg,#00b234 79.8deg,#00af2d 80deg,#7dd400 81.6deg,#ffec00 83.4deg,#ff9600 85.6deg,#f87300 86.7deg,#f56800 104.6deg,#f87300 120.6deg,#ff9600 123.7deg,#ffec00 129.6deg,#7dd400 134.5deg,#00af2d 139deg,#00b234 139.5deg,#00b338 142.6deg,#00b234 152.9deg,#00af2d 153.8deg,#7dd400 162.2deg,#95d800 163.9deg,#95d800 194.9deg,#7dd400 197.8deg,#00af2d 212.2deg,#00b338 214.4deg,#00d07d 219.5deg,#00dac2 223.3deg,#00dcd3 236.6deg,#00d07d 244.1deg,#00b234 252.9deg,#00af2d 253.1deg,#7dd400 254.5deg,#ffec00 256.1deg,#ff9600 258deg,#f87300 259deg,#f56800 279.2deg,#f87300 307.1deg,#ff9600 309.6deg,#ffec00 314.3deg,#7dd400 320.6deg,#00af2d 326.3deg,#00b234 326.8deg,#00d07d 337.2deg,#00d28e 338.9deg,#00dee1 343.8deg,#00d07d 347.7deg,#00b234 351.6deg,#00af2d 352deg,#7dd400 355.6deg,#ffec00 359.5deg,#ffe400 360deg)"></i>
<i style="inset:2.5px;background:conic-gradient(from 90deg,#ffd300 0deg,#ffb700 1.5deg,#ffb700 12.1deg,#ffec00 16.8deg,#7dd400 23.3deg,#75d203 23.6deg,#00af2d 29.7deg,#00b338 30.7deg,#00c767 37.7deg,#00d07d 42deg,#00dee1 55.8deg,#00dee1 62deg,#15aaf3 68.6deg,#02d9e3 73.7deg,#00dee1 73.9deg,#00d07d 76.7deg,#00b234 79.5deg,#00af2d 79.7deg,#7dd400 81.3deg,#ffec00 83.1deg,#ff9600 85.2deg,#f87300 86.3deg,#f56800 104.1deg,#f87300 120.1deg,#ff9600 123.1deg,#ffec00 129deg,#7dd400 133.9deg,#00af2d 138.3deg,#00b234 138.8deg,#00b53c 142.1deg,#00b234 152.8deg,#00af2d 153.7deg,#7dd400 162.1deg,#94d800 163.7deg,#94d800 193.5deg,#7dd400 196.1deg,#00af2d 209.3deg,#00b53c 212.2deg,#00d07d 217.1deg,#00dac5 221deg,#00dcd6 234.8deg,#00d07d 242.7deg,#00b234 251.5deg,#00af2d 251.7deg,#7dd400 253.1deg,#ffec00 254.8deg,#ff9600 256.7deg,#f87300 257.7deg,#f56800 278.1deg,#f87300 305.8deg,#ff9600 308.4deg,#ffec00 313.4deg,#7dd400 320deg,#00af2d 326deg,#00b133 326.6deg,#00d07d 337deg,#00d28e 338.7deg,#00dee1 343.4deg,#00d07d 347.2deg,#00b234 351deg,#00af2d 351.4deg,#7dd400 354.9deg,#ffec00 358.7deg,#ffd300 360deg)"></i>
<i style="inset:4.5px;background:conic-gradient(from 90deg,#ffc100 0deg,#ffb400 0.6deg,#ffb400 11deg,#ffec00 15.7deg,#7dd400 21.8deg,#71d004 22.3deg,#00af2d 28.2deg,#00b43a 29.4deg,#00c768 36.4deg,#00d07d 40.5deg,#00dee1 54.6deg,#00dee1 60.9deg,#17a6f5 67.8deg,#04d6e4 73.4deg,#00dee1 73.7deg,#00d07d 76.5deg,#00b234 79.2deg,#00af2d 79.3deg,#7dd400 80.9deg,#ffec00 82.7deg,#ff9600 84.8deg,#f87300 86deg,#f56800 103.6deg,#f87300 119.5deg,#ff9600 122.6deg,#ffec00 128.4deg,#7dd400 133.3deg,#00af2d 137.7deg,#00b234 138.1deg,#00b741 141.5deg,#00b234 152.7deg,#00af2d 153.6deg,#7dd400 162deg,#93d800 163.6deg,#93d800 192.1deg,#7dd400 194.4deg,#00af2d 206.7deg,#00b741 210.2deg,#00d07d 214.6deg,#00dbc8 218.7deg,#00ddd9 233deg,#00d07d 241.2deg,#00b234 250.1deg,#00af2d 250.3deg,#7dd400 251.8deg,#ffec00 253.4deg,#ff9600 255.4deg,#f87300 256.4deg,#f56800 277deg,#f87300 304.6deg,#ff9600 307.3deg,#ffec00 312.5deg,#7dd400 319.5deg,#00af2d 325.8deg,#00b132 326.3deg,#00d07d 336.8deg,#00d28e 338.5deg,#00dee1 343.1deg,#00d07d 346.8deg,#00b234 350.5deg,#00af2d 350.8deg,#7dd400 354.1deg,#ffec00 357.8deg,#ffc100 360deg)"></i>
<i style="inset:6.5px;background:conic-gradient(from 90deg,#ffb200 0deg,#ffb200 9.9deg,#ffec00 14.5deg,#7dd400 20.3deg,#6ccf06 21deg,#00af2d 26.7deg,#00b53c 28.1deg,#00c869 35.2deg,#00d07d 39.1deg,#00dee1 53.4deg,#00dee1 59.8deg,#19a1f6 66.9deg,#05d2e5 73.2deg,#00dee1 73.6deg,#00d07d 76.2deg,#00b234 78.8deg,#00af2d 79deg,#7dd400 80.6deg,#ffec00 82.3deg,#ff9600 84.4deg,#f87300 85.5deg,#f56800 103deg,#f87300 119deg,#ff9600 122deg,#ffec00 127.8deg,#7dd400 132.6deg,#00af2d 137deg,#00b234 137.5deg,#00b946 141deg,#00b234 152.6deg,#00af2d 153.5deg,#7dd400 161.9deg,#92d800 163.4deg,#92d800 190.8deg,#7dd400 192.8deg,#00af2d 204.1deg,#00b946 208.1deg,#00d07d 212.2deg,#00dbcc 216.5deg,#00dddc 231.2deg,#00d07d 239.8deg,#00b234 248.7deg,#00af2d 248.9deg,#7dd400 250.4deg,#ffec00 252.1deg,#ff9600 254.1deg,#f87300 255.2deg,#f56800 276deg,#f87300 303.4deg,#ff9600 306.2deg,#ffec00 311.5deg,#7dd400 318.9deg,#00af2d 325.5deg,#00b131 325.9deg,#00d07d 336.6deg,#00d28e 338.3deg,#00dee1 342.7deg,#00d07d 346.3deg,#00b234 349.9deg,#00af2d 350.2deg,#7dd400 353.4deg,#ffec00 356.9deg,#ffb200 359.8deg,#ffb200 360deg)"></i>
<i style="inset:8.5px;background:conic-gradient(from 90deg,#ffb000 0deg,#ffb000 8.9deg,#ffec00 13.4deg,#7dd400 18.8deg,#68ce08 19.7deg,#00af2d 25.3deg,#00b63d 26.8deg,#00c86a 33.9deg,#00d07d 37.7deg,#00dee1 52.2deg,#00dee1 58.7deg,#1b9cf8 66.1deg,#06cfe6 72.9deg,#00dee1 73.4deg,#00d07d 75.9deg,#00b234 78.5deg,#00af2d 78.6deg,#7dd400 80.2deg,#ffec00 81.9deg,#ff9600 84deg,#f87300 85.1deg,#f56800 102.5deg,#f87300 118.5deg,#ff9600 121.5deg,#ffec00 127.2deg,#7dd400 132deg,#00af2d 136.4deg,#00b234 136.8deg,#00bb4a 140.5deg,#00b234 152.5deg,#00af2d 153.4deg,#7dd400 161.8deg,#92d800 163.3deg,#92d800 189.4deg,#7dd400 191.3deg,#00af2d 201.7deg,#00bb4a 206.1deg,#00d07d 209.9deg,#00dbcf 214.4deg,#00dee0 229.5deg,#00d07d 238.4deg,#00b234 247.4deg,#00af2d 247.5deg,#7dd400 249.1deg,#ffec00 250.8deg,#ff9600 252.8deg,#f87300 253.9deg,#f56800 274.9deg,#f87300 302.2deg,#ff9600 305.1deg,#ffec00 310.6deg,#7dd400 318.3deg,#00af2d 325.2deg,#00b031 325.6deg,#00d07d 336.3deg,#00d28e 338deg,#00dee1 342.3deg,#00d07d 345.8deg,#00b234 349.3deg,#00af2d 349.6deg,#7dd400 352.7deg,#ffec00 356.1deg,#ffb000 358.9deg,#ffb000 360deg)"></i>
<i style="inset:10.5px;background:conic-gradient(from 90deg,#ffae00 0deg,#ffae00 7.8deg,#ffec00 12.2deg,#7dd400 17.4deg,#64cc09 18.4deg,#00af2d 23.8deg,#00b73f 25.6deg,#00c96b 32.7deg,#00d07d 36.3deg,#00dee1 51deg,#00dee1 57.6deg,#1d97fa 65.3deg,#07cce7 72.6deg,#00dee1 73.2deg,#00d07d 75.7deg,#00b234 78.1deg,#00af2d 78.3deg,#7dd400 79.8deg,#ffec00 81.5deg,#ff9600 83.6deg,#f87300 84.7deg,#f56800 101.9deg,#f87300 117.9deg,#ff9600 121deg,#ffec00 126.7deg,#7dd400 131.4deg,#00af2d 135.7deg,#00b234 136.1deg,#00bd4f 140deg,#00b234 152.4deg,#00af2d 153.3deg,#7dd400 161.7deg,#91d800 163.1deg,#91d800 188.1deg,#7dd400 189.7deg,#00af2d 199.5deg,#00bd4f 204.2deg,#00d07d 207.6deg,#00dcd2 212.3deg,#00dee1 226.2deg,#01dde1 227.8deg,#00dee1 228deg,#00d07d 237deg,#00b234 246deg,#00af2d 246.2deg,#7dd400 247.8deg,#ffec00 249.5deg,#ff9600 251.6deg,#f87300 252.6deg,#f56800 273.9deg,#f87300 301deg,#ff9600 304deg,#ffec00 309.7deg,#7dd400 317.7deg,#00af2d 324.9deg,#00b030 325.2deg,#00d07d 336deg,#00d28e 337.7deg,#00dee1 341.9deg,#00d07d 345.3deg,#00b234 348.7deg,#00af2d 349deg,#7dd400 352deg,#ffec00 355.2deg,#ffae00 358deg,#ffae00 360deg)"></i>
<i style="inset:12.5px;background:conic-gradient(from 90deg,#ffac00 0deg,#ffac00 6.7deg,#ffec00 11.1deg,#7dd400 16deg,#5fcb0b 17.1deg,#00af2d 22.3deg,#00b741 24.3deg,#00c96d 31.5deg,#00d07d 34.9deg,#00dee1 49.8deg,#00dee1 56.5deg,#1e96fa 64.1deg,#1e93fa 64.4deg,#1e96fa 64.9deg,#09c9e8 72.3deg,#00dee1 73deg,#00d07d 75.3deg,#00b234 77.7deg,#00af2d 77.9deg,#7dd400 79.4deg,#ffec00 81.1deg,#ff9600 83.1deg,#f87300 84.2deg,#f56800 101.4deg,#f87300 117.4deg,#ff9600 120.4deg,#ffec00 126.1deg,#7dd400 130.8deg,#00af2d 135.1deg,#00b234 135.5deg,#00bf54 139.5deg,#00b234 152.3deg,#00af2d 153.1deg,#7dd400 161.6deg,#90d800 163deg,#90d800 186.8deg,#7dd400 188.3deg,#00af2d 197.3deg,#00bf54 202.2deg,#00d07d 205.4deg,#00dcd5 210.2deg,#00dee1 221.5deg,#01dae2 226.2deg,#00dee1 226.6deg,#00d07d 235.7deg,#00b234 244.7deg,#00af2d 244.9deg,#7dd400 246.5deg,#ffec00 248.2deg,#ff9600 250.3deg,#f87300 251.4deg,#f56800 272.8deg,#f87300 299.8deg,#ff9600 302.9deg,#ffec00 308.7deg,#7dd400 317deg,#00af2d 324.6deg,#00b02f 324.8deg,#00d07d 335.7deg,#00d28e 337.4deg,#00dee1 341.5deg,#00d07d 344.8deg,#00b234 348.1deg,#00af2d 348.4deg,#7dd400 351.2deg,#ffec00 354.4deg,#ffac00 357.1deg,#ffac00 360deg)"></i>
<i style="inset:14.5px;background:conic-gradient(from 90deg,#ffaa00 0deg,#ffaa00 5.7deg,#ffec00 10deg,#7dd400 14.7deg,#5bca0c 15.8deg,#00af2d 20.9deg,#00b843 23.1deg,#00ca6e 30.3deg,#00d07d 33.5deg,#00dee1 48.6deg,#00dee1 55.4deg,#1e96fa 62.8deg,#1f8ff9 63.6deg,#1e96fa 64.8deg,#0ac6e9 72deg,#00dee1 72.7deg,#00d07d 75deg,#00b234 77.3deg,#00af2d 77.4deg,#7dd400 79deg,#ffec00 80.6deg,#ff9600 82.6deg,#f87300 83.7deg,#f56800 100.8deg,#f87300 116.9deg,#ff9600 119.9deg,#ffec00 125.5deg,#7dd400 130.2deg,#00af2d 134.4deg,#00b234 134.8deg,#00c158 139deg,#00b234 152.1deg,#00af2d 153deg,#7dd400 161.5deg,#8fd700 162.8deg,#8fd700 185.6deg,#7dd400 186.9deg,#00af2d 195.2deg,#00c158 200.4deg,#00d07d 203.2deg,#00ddd8 208.2deg,#00dee1 216.6deg,#02d8e3 224.6deg,#00dee1 225.3deg,#00d07d 234.3deg,#00b234 243.4deg,#00af2d 243.5deg,#7dd400 245.2deg,#ffec00 246.9deg,#ff9600 249.1deg,#f87300 250.2deg,#f56800 271.8deg,#f87300 298.6deg,#ff9600 301.8deg,#ffec00 307.8deg,#7dd400 316.4deg,#00af2d 324.2deg,#00b02e 324.3deg,#00d07d 335.3deg,#00d28e 337deg,#00dee1 341deg,#00d07d 344.2deg,#00b234 347.4deg,#00af2d 347.7deg,#7dd400 350.5deg,#ffec00 353.5deg,#ffaa00 356.3deg,#ffaa00 360deg)"></i>
<i style="inset:16.5px;background:conic-gradient(from 90deg,#ffa800 0deg,#ffa800 4.6deg,#ffec00 8.8deg,#7dd400 13.3deg,#56c90e 14.6deg,#00af2d 19.4deg,#00b945 21.8deg,#00ca6f 29.2deg,#00d07d 32.1deg,#00dee1 47.5deg,#00dee1 54.3deg,#1e96fa 61.5deg,#208cf9 62.7deg,#1e96fa 64.7deg,#0bc3ea 71.6deg,#00dee1 72.4deg,#00d07d 74.6deg,#00b234 76.8deg,#00af2d 77deg,#7dd400 78.5deg,#ffec00 80.2deg,#ff9600 82.1deg,#f87300 83.2deg,#f56800 100.2deg,#f87300 116.4deg,#ff9600 119.3deg,#ffec00 125deg,#7dd400 129.6deg,#00af2d 133.8deg,#00b234 134.2deg,#00c35d 138.6deg,#00b234 152deg,#00af2d 152.9deg,#7dd400 161.4deg,#8fd700 162.6deg,#8fd700 184.3deg,#7dd400 185.5deg,#00af2d 193.2deg,#00c35d 198.6deg,#00d07d 201deg,#00dddc 206.3deg,#00dee1 211.6deg,#03d6e4 223deg,#00dee1 224deg,#00d07d 233deg,#00b234 242.1deg,#00af2d 242.2deg,#7dd400 243.9deg,#ffec00 245.7deg,#ff9600 247.8deg,#f87300 249deg,#f56800 270.8deg,#f87300 297.5deg,#ff9600 300.7deg,#ffec00 306.9deg,#7dd400 315.7deg,#00af2d 323.8deg,#00af2d 323.8deg,#00d07d 334.9deg,#00d28e 336.6deg,#00dee1 340.5deg,#00d07d 343.7deg,#00b234 346.8deg,#00af2d 347.1deg,#7dd400 349.7deg,#ffec00 352.6deg,#ffa800 355.4deg,#ffa800 360deg)"></i>
<i style="inset:18.5px;background:conic-gradient(from 90deg,#ffa600 0deg,#ffa600 3.6deg,#ffec00 7.7deg,#7dd400 12deg,#52c70f 13.3deg,#00af2d 18deg,#00ba47 20.6deg,#00cb70 28deg,#00d07d 30.8deg,#00dee1 46.3deg,#00dee1 53.3deg,#1e96fa 60.2deg,#2188f9 61.9deg,#1e96fa 64.6deg,#0cc0eb 71.2deg,#00dee1 72.1deg,#00d07d 74.3deg,#00b234 76.4deg,#00af2d 76.5deg,#7dd400 78deg,#ffec00 79.7deg,#ff9600 81.6deg,#f87300 82.7deg,#f56800 99.7deg,#f87300 115.8deg,#ff9600 118.8deg,#ffec00 124.4deg,#7dd400 129deg,#00af2d 133.1deg,#00b234 133.6deg,#00c562 138.1deg,#00b234 151.9deg,#00af2d 152.8deg,#7dd400 161.3deg,#8ed700 162.5deg,#8ed700 183.1deg,#7dd400 184.1deg,#00af2d 191.4deg,#00c562 196.8deg,#00d07d 198.9deg,#00dedf 204.4deg,#00dee1 206.6deg,#04d4e5 221.4deg,#00dee1 222.7deg,#00d07d 231.8deg,#00b234 240.8deg,#00af2d 241deg,#7dd400 242.6deg,#ffec00 244.5deg,#ff9600 246.6deg,#f87300 247.8deg,#f56800 269.8deg,#f87300 296.3deg,#ff9600 299.6deg,#ffec00 305.9deg,#7dd400 315.1deg,#01af2d 323.3deg,#00af2d 323.4deg,#00d07d 334.4deg,#00d28e 336.1deg,#00dee1 340deg,#00d07d 343.1deg,#00b234 346.1deg,#00af2d 346.4deg,#7dd400 349deg,#ffec00 351.8deg,#ffa600 354.5deg,#ffa600 360deg)"></i>
<i style="inset:20.5px;background:conic-gradient(from 90deg,#ffa400 0deg,#ffa400 2.5deg,#ffec00 6.6deg,#7dd400 10.7deg,#4ec611 12.1deg,#00af2d 16.5deg,#00bb49 19.4deg,#00cb71 26.9deg,#00d07d 29.4deg,#00dee1 45.2deg,#00dee1 52.2deg,#1e96fa 58.9deg,#2184f8 61deg,#1e96fa 64.6deg,#0ebdec 70.8deg,#00dee1 71.8deg,#00d07d 73.9deg,#00b234 75.9deg,#00af2d 76.1deg,#7dd400 77.5deg,#ffec00 79.2deg,#ff9600 81.1deg,#f87300 82.1deg,#f56800 99.1deg,#f87300 115.3deg,#ff9600 118.3deg,#ffec00 123.9deg,#7dd400 128.4deg,#00af2d 132.5deg,#00b234 132.9deg,#00c766 137.6deg,#00b234 151.7deg,#00af2d 152.6deg,#7dd400 161.1deg,#8dd700 162.3deg,#8dd700 181.9deg,#7dd400 182.8deg,#00af2d 189.6deg,#00c766 195deg,#00d07d 196.8deg,#00dee1 202.5deg,#00dde1 202.5deg,#05d1e5 219.9deg,#00dee1 221.5deg,#00d07d 230.5deg,#00b234 239.5deg,#00af2d 239.7deg,#7dd400 241.4deg,#ffec00 243.2deg,#ff9600 245.4deg,#f87300 246.6deg,#f56800 268.8deg,#f87300 295.2deg,#ff9600 298.6deg,#ffec00 305deg,#7dd400 314.4deg,#02b02c 322.8deg,#00af2d 322.9deg,#00d07d 333.9deg,#00d28e 335.6deg,#00dee1 339.5deg,#00d07d 342.5deg,#00b234 345.5deg,#00af2d 345.7deg,#7dd400 348.2deg,#ffec00 350.9deg,#ffa400 353.6deg,#ffa400 360deg)"></i>
<i style="inset:22.5px;background:conic-gradient(from 90deg,#ffa200 0deg,#ffa200 1.5deg,#ffec00 5.5deg,#7dd400 9.4deg,#49c513 10.8deg,#00af2d 15.1deg,#00bb4b 18.2deg,#00cc72 25.8deg,#00d07d 28.1deg,#00dee1 44deg,#00dee1 51.1deg,#1e96fa 57.7deg,#2280f8 60.2deg,#1e96fa 64.6deg,#0fbaee 70.4deg,#00dee1 71.4deg,#00d07d 73.4deg,#00b234 75.4deg,#00af2d 75.6deg,#7dd400 77deg,#ffec00 78.6deg,#ff9600 80.6deg,#f87300 81.6deg,#f56800 98.5deg,#f87300 114.8deg,#ff9600 117.7deg,#ffec00 123.3deg,#7dd400 127.8deg,#00af2d 131.9deg,#00b234 132.3deg,#00c96b 137.2deg,#00b234 151.6deg,#00af2d 152.5deg,#7dd400 161deg,#8cd700 162.1deg,#8cd700 180.8deg,#7dd400 181.6deg,#00af2d 187.8deg,#00c96b 193.3deg,#00d07d 194.8deg,#00dee1 200.5deg,#01dbe2 200.7deg,#06cfe6 218.4deg,#00dee1 220.3deg,#00d07d 229.3deg,#00b234 238.3deg,#00af2d 238.4deg,#7dd400 240.1deg,#ffec00 242deg,#ff9600 244.2deg,#f87300 245.4deg,#f56800 267.8deg,#f87300 294deg,#ff9600 297.5deg,#ffec00 304deg,#7dd400 313.7deg,#03b02c 322.2deg,#00af2d 322.5deg,#00d07d 333.4deg,#00d28e 335deg,#00dee1 339deg,#00d07d 341.9deg,#00b234 344.8deg,#00af2d 345deg,#7dd400 347.4deg,#ffec00 350deg,#ffa200 352.7deg,#ffa200 360deg)"></i>
<i style="inset:24.5px;background:conic-gradient(from 90deg,#ff9f00 0deg,#ff9f00 0.4deg,#ffec00 4.4deg,#7dd400 8.1deg,#45c314 9.6deg,#00af2d 13.6deg,#00bc4d 17deg,#00cc74 24.7deg,#00d07d 26.8deg,#00dee1 42.9deg,#00dee1 50deg,#1e96fa 56.4deg,#237cf8 59.3deg,#1e96fa 64.6deg,#10b7ef 70deg,#00dee1 71deg,#00d07d 73deg,#00b234 74.9deg,#00af2d 75.1deg,#7dd400 76.5deg,#ffec00 78.1deg,#ff9600 80deg,#f87300 81deg,#f56800 97.8deg,#f87300 114.3deg,#ff9600 117.2deg,#ffec00 122.7deg,#7dd400 127.2deg,#00af2d 131.3deg,#00b234 131.7deg,#00ca70 136.8deg,#00b234 151.5deg,#00af2d 152.3deg,#7dd400 160.9deg,#8bd700 161.9deg,#8bd700 179.6deg,#7dd400 180.3deg,#00af2d 186.2deg,#00ca70 191.7deg,#00d07d 192.7deg,#00dee1 198.5deg,#02d9e3 198.9deg,#07cde7 216.9deg,#00dee1 219.1deg,#00d07d 228.1deg,#00b234 237deg,#00af2d 237.2deg,#7dd400 238.9deg,#ffec00 240.8deg,#ff9600 243.1deg,#f87300 244.2deg,#f56800 266.8deg,#f87300 292.9deg,#ff9600 296.4deg,#ffec00 303.1deg,#7dd400 313deg,#05b02b 321.6deg,#00af2d 322deg,#00d07d 332.8deg,#00d28e 334.5deg,#00dee1 338.4deg,#00d07d 341.3deg,#00b234 344.1deg,#00af2d 344.3deg,#7dd400 346.6deg,#ffec00 349.2deg,#ff9f00 351.8deg,#ff9f00 360deg)"></i>
<i style="inset:26.5px;background:conic-gradient(from 90deg,#ffaa00 0deg,#ffec00 3.3deg,#7dd400 6.8deg,#40c216 8.4deg,#00af2d 12.2deg,#00bd4f 15.8deg,#00cd75 23.6deg,#00d07d 25.5deg,#00dee1 41.8deg,#00dee1 49deg,#1e96fa 55.2deg,#2378f7 58.4deg,#1e96fa 64.5deg,#12b4f0 69.5deg,#00dee1 70.6deg,#00d07d 72.5deg,#00b234 74.4deg,#00af2d 74.5deg,#7dd400 76deg,#ffec00 77.5deg,#ff9600 79.4deg,#f87300 80.4deg,#f56800 97.2deg,#f87300 113.8deg,#ff9600 116.7deg,#ffec00 122.2deg,#7dd400 126.6deg,#00af2d 130.6deg,#00b234 131.1deg,#00cc74 136.3deg,#00b234 151.3deg,#00af2d 152.2deg,#7dd400 160.7deg,#8bd700 161.7deg,#8bd700 178.5deg,#7dd400 179.1deg,#00af2d 184.6deg,#00cc74 190.1deg,#00d07d 190.8deg,#00dee1 196.6deg,#03d6e4 197.2deg,#08cae8 215.5deg,#00dee1 218deg,#00d07d 226.9deg,#00b234 235.8deg,#00af2d 236deg,#7dd400 237.7deg,#ffec00 239.6deg,#ff9600 241.9deg,#f87300 243.1deg,#f56800 265.8deg,#f87300 291.8deg,#ff9600 295.4deg,#ffec00 302.1deg,#7dd400 312.2deg,#06b12b 321deg,#00af2d 321.4deg,#00d07d 332.2deg,#00d28e 333.9deg,#00dee1 337.8deg,#00d07d 340.6deg,#00b234 343.4deg,#00af2d 343.6deg,#7dd400 345.8deg,#ffec00 348.3deg,#ff9d00 351deg,#ff9d00 359.4deg,#ffaa00 360deg)"></i>
<i style="inset:28.5px;background:conic-gradient(from 90deg,#ffbe00 0deg,#ffec00 2.2deg,#7dd400 5.6deg,#3cc117 7.2deg,#00af2d 10.8deg,#00be51 14.7deg,#00cd76 22.6deg,#00d07d 24.2deg,#00dee1 40.7deg,#00dee1 47.9deg,#1e96fa 54deg,#2474f7 57.5deg,#1e96fa 64.5deg,#13b1f1 69deg,#00dee1 70.2deg,#00d07d 72deg,#00b234 73.8deg,#00af2d 74deg,#7dd400 75.4deg,#ffec00 76.9deg,#ff9600 78.8deg,#f87300 79.8deg,#f56800 96.6deg,#f87300 113.3deg,#ff9600 116.1deg,#ffec00 121.6deg,#7dd400 126deg,#00af2d 130deg,#00b234 130.4deg,#00ce79 135.9deg,#00b234 151.2deg,#00af2d 152deg,#7dd400 160.6deg,#8ad600 161.6deg,#8ad600 177.4deg,#7dd400 178deg,#00af2d 183deg,#00ce79 188.5deg,#00d07d 188.8deg,#00dee1 194.7deg,#04d4e4 195.6deg,#09c8e9 214.1deg,#00dee1 216.8deg,#00d07d 225.7deg,#00b234 234.6deg,#00af2d 234.8deg,#7dd400 236.5deg,#ffec00 238.5deg,#ff9600 240.8deg,#f87300 242deg,#f56800 264.8deg,#f87300 290.7deg,#ff9600 294.3deg,#ffec00 301.2deg,#7dd400 311.5deg,#07b12a 320.3deg,#00af2d 320.9deg,#00d07d 331.6deg,#00d28e 333.2deg,#00dee1 337.2deg,#00d07d 339.9deg,#00b234 342.7deg,#00af2d 342.9deg,#7dd400 345deg,#ffec00 347.4deg,#ff9b00 350.1deg,#ff9b00 358.4deg,#ffbe00 360deg)"></i>
<i style="inset:30.5px;background:conic-gradient(from 90deg,#ffd400 0deg,#ffec00 1.1deg,#7dd400 4.4deg,#37bf19 6deg,#00af2d 9.4deg,#00bf53 13.5deg,#00ce77 21.6deg,#00d07d 22.9deg,#00dee1 39.6deg,#00dee1 46.8deg,#1e96fa 52.8deg,#2571f7 56.6deg,#1e96fa 64.5deg,#14aef2 68.5deg,#00dee1 69.7deg,#00d07d 71.5deg,#00b234 73.3deg,#00af2d 73.4deg,#7dd400 74.8deg,#ffec00 76.3deg,#ff9600 78.2deg,#f87300 79.1deg,#f56800 96deg,#f87300 112.7deg,#ff9600 115.6deg,#ffec00 121.1deg,#7dd400 125.5deg,#00af2d 129.4deg,#00b234 129.8deg,#00d07d 135.4deg,#00d07e 135.5deg,#00d07d 135.6deg,#00b234 151deg,#00af2d 151.9deg,#7dd400 160.5deg,#89d600 161.4deg,#89d600 176.3deg,#7dd400 176.8deg,#00af2d 181.6deg,#00d07d 187deg,#00d07e 187deg,#00dee1 192.9deg,#05d2e5 193.9deg,#0ac6e9 212.8deg,#00dee1 215.7deg,#00d07d 224.6deg,#00b234 233.4deg,#00af2d 233.6deg,#7dd400 235.4deg,#ffec00 237.3deg,#ff9600 239.6deg,#f87300 240.8deg,#f56800 263.9deg,#f87300 289.6deg,#ff9600 293.3deg,#ffec00 300.2deg,#7dd400 310.7deg,#09b22a 319.6deg,#00af2d 320.3deg,#00d07d 330.9deg,#00d28e 332.5deg,#00dee1 336.6deg,#00d07d 339.3deg,#00b234 341.9deg,#00af2d 342.2deg,#7dd400 344.2deg,#ffec00 346.5deg,#ff9900 349.2deg,#ff9900 357.3deg,#ffd400 360deg)"></i>
<i style="inset:32.5px;background:conic-gradient(from 90deg,#ffec00 0deg,#7dd400 3.1deg,#33be1b 4.8deg,#00af2d 8deg,#00bf55 12.3deg,#00ce78 20.6deg,#00d07d 21.7deg,#00dee1 38.5deg,#00dee1 45.8deg,#1e96fa 51.6deg,#256df6 55.7deg,#1e96fa 64.5deg,#15abf3 68deg,#00dee1 69.2deg,#00d07d 71deg,#00b234 72.7deg,#00af2d 72.8deg,#7dd400 74.2deg,#ffec00 75.7deg,#ff9600 77.5deg,#f87300 78.5deg,#f56800 95.3deg,#f87300 112.2deg,#ff9600 115.1deg,#ffec00 120.6deg,#7dd400 124.9deg,#00af2d 128.8deg,#00b234 129.2deg,#00d07d 134.7deg,#00d184 135.1deg,#00d07d 136.1deg,#00b234 150.8deg,#00af2d 151.7deg,#7dd400 160.3deg,#88d600 161.2deg,#88d600 175.3deg,#7dd400 175.7deg,#00af2d 180.2deg,#00d07d 185.2deg,#00d184 185.5deg,#00dee1 191.1deg,#06cfe6 192.4deg,#0bc3ea 211.4deg,#00dee1 214.7deg,#00d07d 223.5deg,#00b234 232.2deg,#00af2d 232.4deg,#7dd400 234.2deg,#ffec00 236.2deg,#ff9600 238.5deg,#f87300 239.7deg,#f56800 262.9deg,#f87300 288.5deg,#ff9600 292.2deg,#ffec00 299.2deg,#7dd400 310deg,#0ab229 318.9deg,#00af2d 319.7deg,#00d07d 330.2deg,#00d28e 331.8deg,#00dee1 335.9deg,#00d07d 338.6deg,#00b234 341.2deg,#00af2d 341.4deg,#7dd400 343.4deg,#ffec00 345.7deg,#ff9700 348.3deg,#ff9700 356.3deg,#ffec00 360deg,#ffec00 360deg)"></i>
<i style="inset:34.5px;background:conic-gradient(from 90deg,#d1e300 0deg,#7dd400 1.9deg,#2fbd1c 3.7deg,#00af2d 6.6deg,#00c057 11.2deg,#00cf79 19.6deg,#00d07d 20.4deg,#00dee1 37.5deg,#00dee1 44.7deg,#1e96fa 50.4deg,#2669f6 54.8deg,#1e96fa 64.4deg,#17a7f4 67.5deg,#00dee1 68.7deg,#00d07d 70.4deg,#00b234 72.1deg,#00af2d 72.2deg,#7dd400 73.6deg,#ffec00 75.1deg,#ff9600 76.9deg,#f87300 77.8deg,#f56800 94.7deg,#f87300 111.7deg,#ff9600 114.6deg,#ffec00 120deg,#7dd400 124.3deg,#00af2d 128.2deg,#00b234 128.6deg,#00d07d 133.9deg,#00d28b 134.7deg,#00d07d 136.6deg,#00b234 150.7deg,#00af2d 151.6deg,#7dd400 160.2deg,#88d600 161deg,#88d600 174.3deg,#7dd400 174.7deg,#00af2d 178.8deg,#00d07d 183.5deg,#00d28b 184.1deg,#00dee1 189.4deg,#07cde7 190.9deg,#0cc1eb 210.2deg,#00dee1 213.7deg,#00d07d 222.4deg,#00b234 231.1deg,#00af2d 231.3deg,#7dd400 233.1deg,#ffec00 235deg,#ff9600 237.4deg,#f87300 238.6deg,#f56800 262deg,#f87300 287.5deg,#ff9600 291.2deg,#ffec00 298.3deg,#7dd400 309.2deg,#0cb229 318.2deg,#00af2d 319deg,#00d07d 329.4deg,#00d28e 331deg,#00dee1 335.3deg,#00d07d 337.8deg,#00b234 340.4deg,#00af2d 340.6deg,#7dd400 342.6deg,#ffec00 344.8deg,#ff9600 347.3deg,#ff9500 347.4deg,#ff9500 355.3deg,#ff9600 355.3deg,#ffec00 358.9deg,#d1e300 360deg)"></i>
<i style="inset:36.5px;background:conic-gradient(from 90deg,#9fda00 0deg,#7dd400 0.8deg,#2abc1e 2.5deg,#00af2d 5.2deg,#00c159 10.1deg,#00cf7b 18.6deg,#00d07d 19.2deg,#00dee1 36.4deg,#00dee1 43.7deg,#1e96fa 49.2deg,#2765f6 53.9deg,#1e96fa 64.4deg,#18a4f5 66.9deg,#00dee1 68.2deg,#00d07d 69.8deg,#00b234 71.4deg,#00af2d 71.6deg,#7dd400 72.9deg,#ffec00 74.4deg,#ff9600 76.2deg,#f87300 77.1deg,#f56800 94deg,#f87300 111.2deg,#ff9600 114.1deg,#ffec00 119.5deg,#7dd400 123.8deg,#00af2d 127.6deg,#00b234 128deg,#00d07d 133.2deg,#00d391 134.3deg,#00d07d 137deg,#00b234 150.5deg,#00af2d 151.4deg,#7dd400 160.1deg,#87d600 160.8deg,#87d600 173.3deg,#7dd400 173.6deg,#00af2d 177.5deg,#00d07d 181.9deg,#00d391 182.7deg,#00dee1 187.7deg,#08cbe8 189.4deg,#0dbfec 208.9deg,#00dee1 212.6deg,#00d07d 221.3deg,#00b234 229.9deg,#00af2d 230.1deg,#7dd400 231.9deg,#ffec00 233.9deg,#ff9600 236.3deg,#f87300 237.5deg,#f56800 261deg,#f87300 286.4deg,#ff9600 290.2deg,#ffec00 297.3deg,#7dd400 308.4deg,#0db328 317.4deg,#00af2d 318.3deg,#00d07d 328.7deg,#00d28e 330.2deg,#00dee1 334.6deg,#00d07d 337.1deg,#00b234 339.7deg,#00af2d 339.9deg,#7dd400 341.8deg,#ffec00 343.9deg,#ff9600 346.4deg,#fe9400 346.5deg,#fe9400 354.3deg,#ff9600 354.4deg,#ffec00 357.9deg,#9fda00 360deg)"></i>
<i style="inset:38.5px;background:conic-gradient(from 90deg,#69ce07 0deg,#26ba1f 1.4deg,#00af2d 3.8deg,#00c25b 9deg,#00cf7c 17.6deg,#00d07d 17.9deg,#00dee1 35.4deg,#00dee1 42.7deg,#1e96fa 48.1deg,#2861f5 53deg,#1e96fa 64.3deg,#19a1f6 66.3deg,#00dee1 67.6deg,#00d07d 69.2deg,#00b234 70.8deg,#00af2d 70.9deg,#7dd400 72.3deg,#ffec00 73.7deg,#ff9600 75.5deg,#f87300 76.4deg,#f56800 93.3deg,#f87300 110.7deg,#ff9600 113.5deg,#ffec00 119deg,#7dd400 123.2deg,#00af2d 127deg,#00b234 127.4deg,#00d07d 132.5deg,#00d497 133.9deg,#00d07d 137.3deg,#00b234 150.3deg,#00af2d 151.2deg,#7dd400 159.9deg,#86d600 160.6deg,#86d600 172.3deg,#7dd400 172.6deg,#00af2d 176.2deg,#00d07d 180.4deg,#00d497 181.4deg,#00dee1 186deg,#09c8e8 188deg,#0ebced 207.7deg,#00dee1 211.7deg,#00d07d 220.2deg,#00b234 228.8deg,#00af2d 229deg,#7dd400 230.8deg,#ffec00 232.8deg,#ff9600 235.2deg,#f87300 236.5deg,#f56800 260.1deg,#f87300 285.4deg,#ff9600 289.1deg,#ffec00 296.3deg,#7dd400 307.6deg,#0eb328 316.6deg,#00af2d 317.6deg,#00d07d 327.8deg,#00d28e 329.4deg,#00dee1 333.8deg,#00d07d 336.4deg,#00b234 338.9deg,#00af2d 339.1deg,#7dd400 340.9deg,#ffec00 343deg,#ff9600 345.4deg,#fe9200 345.6deg,#fe9200 353.3deg,#ff9600 353.5deg,#ffec00 356.8deg,#7dd400 359.6deg,#69ce07 360deg)"></i>
<i style="inset:40.5px;background:conic-gradient(from 90deg,#2dbc1d 0deg,#21b921 0.2deg,#00af2d 2.4deg,#00c35d 7.9deg,#00d07d 16.7deg,#00d07d 16.7deg,#00dee1 34.3deg,#00dee1 41.6deg,#1e96fa 46.9deg,#285df5 52.1deg,#1e96fa 64.3deg,#1b9ef7 65.7deg,#00dee1 67.1deg,#00d07d 68.6deg,#00b234 70.1deg,#00af2d 70.3deg,#7dd400 71.6deg,#ffec00 73.1deg,#ff9600 74.8deg,#f87300 75.7deg,#f56800 92.6deg,#f87300 110.2deg,#ff9600 113deg,#ffec00 118.4deg,#7dd400 122.6deg,#00af2d 126.5deg,#00b234 126.9deg,#00d07d 131.9deg,#00d59e 133.5deg,#00d07d 137.6deg,#00b234 150.1deg,#00af2d 151deg,#7dd400 159.8deg,#85d600 160.4deg,#85d600 171.4deg,#7dd400 171.6deg,#00af2d 175deg,#00d07d 178.9deg,#00d59e 180deg,#00dee1 184.4deg,#0ac6e9 186.6deg,#0fbaed 206.5deg,#00dee1 210.7deg,#00d07d 219.2deg,#00b234 227.7deg,#00af2d 227.9deg,#7dd400 229.7deg,#ffec00 231.7deg,#ff9600 234.1deg,#f87300 235.4deg,#f56800 259.2deg,#f87300 284.3deg,#ff9600 288.1deg,#ffec00 295.4deg,#7dd400 306.7deg,#10b427 315.7deg,#00af2d 316.8deg,#00d07d 327deg,#00d28e 328.5deg,#00dee1 333.1deg,#00d07d 335.6deg,#00b234 338.1deg,#00af2d 338.3deg,#7dd400 340.1deg,#ffec00 342.1deg,#ff9600 344.5deg,#fe9000 344.7deg,#fe9000 352.3deg,#ff9600 352.5deg,#ffec00 355.7deg,#7dd400 358.4deg,#2dbc1d 360deg)"></i>
<i style="inset:42.5px;background:conic-gradient(from 90deg,#0fb427 0deg,#00af2d 1deg,#00c35e 6.8deg,#00d07d 15.5deg,#00d07e 15.8deg,#00dee1 33.3deg,#00dee1 40.6deg,#1e96fa 45.8deg,#295af5 51.1deg,#1e96fa 64.2deg,#1c9bf8 65.1deg,#00dee1 66.5deg,#00d07d 68deg,#00b234 69.4deg,#00af2d 69.6deg,#7dd400 70.9deg,#ffec00 72.3deg,#ff9600 74.1deg,#f87300 75deg,#f56800 92deg,#f87300 109.7deg,#ff9600 112.5deg,#ffec00 117.9deg,#7dd400 122.1deg,#00af2d 125.9deg,#00b234 126.3deg,#00d07d 131.2deg,#00d5a4 133.1deg,#00d07d 137.9deg,#00b234 150deg,#00af2d 150.9deg,#7dd400 159.6deg,#84d500 160.2deg,#84d500 170.5deg,#7dd400 170.7deg,#00af2d 173.9deg,#00d07d 177.5deg,#00d5a4 178.8deg,#00dee1 182.8deg,#0bc4ea 185.2deg,#10b8ee 205.3deg,#00dee1 209.8deg,#00d07d 218.2deg,#00b234 226.6deg,#00af2d 226.8deg,#7dd400 228.6deg,#ffec00 230.7deg,#ff9600 233.1deg,#f87300 234.3deg,#f56800 258.3deg,#f87300 283.3deg,#ff9600 287.1deg,#ffec00 294.4deg,#7dd400 305.9deg,#11b427 314.8deg,#00af2d 316deg,#00d07d 326.1deg,#00d28e 327.6deg,#00dee1 332.3deg,#00d07d 334.8deg,#00b234 337.3deg,#00af2d 337.5deg,#7dd400 339.2deg,#ffec00 341.2deg,#ff9600 343.5deg,#fd8f00 343.8deg,#fd8f00 351.3deg,#ff9600 351.6deg,#ffec00 354.7deg,#7dd400 357.3deg,#1db823 359.1deg,#0fb427 360deg)"></i>
<i style="inset:44.5px;background:conic-gradient(from 90deg,#00b030 0deg,#00c460 5.7deg,#00d07d 14.2deg,#00d080 14.9deg,#00dee1 32.3deg,#00dee1 39.6deg,#1e96fa 44.6deg,#2a56f4 50.2deg,#1e96fa 64deg,#1d98f9 64.4deg,#00dee1 65.8deg,#00d07d 67.3deg,#00b234 68.7deg,#00af2d 68.9deg,#7dd400 70.2deg,#ffec00 71.6deg,#ff9600 73.3deg,#f87300 74.2deg,#f56800 91.3deg,#f87300 109.2deg,#ff9600 112deg,#ffec00 117.4deg,#7dd400 121.5deg,#00af2d 125.3deg,#00b234 125.7deg,#00d07d 130.5deg,#00d6ab 132.8deg,#00d07d 138.1deg,#00b234 149.8deg,#00af2d 150.7deg,#7dd400 159.4deg,#84d500 159.9deg,#84d500 169.6deg,#7dd400 169.7deg,#00af2d 172.7deg,#00d07d 176.2deg,#00d6ab 177.6deg,#00dee1 181.3deg,#0cc2eb 184deg,#11b6ef 204.2deg,#00dee1 208.9deg,#00d07d 217.2deg,#00b234 225.5deg,#00af2d 225.7deg,#7dd400 227.6deg,#ffec00 229.6deg,#ff9600 232deg,#f87300 233.3deg,#f56800 257.4deg,#f87300 282.3deg,#ff9600 286.1deg,#ffec00 293.4deg,#7dd400 305deg,#12b426 313.9deg,#00af2d 315.2deg,#00d07d 325.1deg,#00d28e 326.6deg,#00dee1 331.5deg,#00d07d 334deg,#00b234 336.5deg,#00af2d 336.6deg,#7dd400 338.4deg,#ffec00 340.3deg,#ff9600 342.5deg,#fd8d00 342.8deg,#fd8d00 350.3deg,#ff9600 350.7deg,#ffec00 353.7deg,#7dd400 356.2deg,#19b624 358deg,#00af2d 359.6deg,#00b030 360deg)"></i>
<i style="inset:46.5px;background:conic-gradient(from 90deg,#00b53c 0deg,#00c562 4.6deg,#00d07d 12.9deg,#00d182 14deg,#00dee1 31.3deg,#00dee1 38.5deg,#1e96fa 43.5deg,#2a54f4 49.1deg,#2b53f3 49.2deg,#2a54f4 49.7deg,#1e95fa 63.7deg,#1e96fa 63.8deg,#00dee1 65.2deg,#00d07d 66.6deg,#00b234 68deg,#00af2d 68.2deg,#7dd400 69.4deg,#ffec00 70.9deg,#ff9600 72.5deg,#f87300 73.4deg,#f56800 90.6deg,#f87300 108.7deg,#ff9600 111.5deg,#ffec00 116.8deg,#7dd400 121deg,#00af2d 124.7deg,#00b234 125.1deg,#00d07d 129.9deg,#00d7b1 132.4deg,#00d07d 138.3deg,#00b234 149.6deg,#00af2d 150.5deg,#7dd400 159.3deg,#83d500 159.7deg,#83d500 168.7deg,#7dd400 168.9deg,#00af2d 171.7deg,#00d07d 174.9deg,#00d7b1 176.4deg,#00dee1 179.8deg,#0dbfec 182.7deg,#12b3f0 203.1deg,#00dee1 208deg,#00d07d 216.2deg,#00b234 224.5deg,#00af2d 224.7deg,#7dd400 226.5deg,#ffec00 228.6deg,#ff9600 231deg,#f87300 232.3deg,#f56800 256.5deg,#f87300 281.3deg,#ff9600 285.1deg,#ffec00 292.4deg,#7dd400 304.1deg,#14b526 313deg,#00af2d 314.4deg,#00d07d 324.2deg,#00d28e 325.6deg,#00dee1 330.7deg,#00d07d 333.2deg,#00b234 335.6deg,#00af2d 335.8deg,#7dd400 337.5deg,#ffec00 339.4deg,#ff9600 341.6deg,#fd8b00 341.9deg,#fd8b00 349.3deg,#ff9600 349.7deg,#ffec00 352.6deg,#7dd400 355.1deg,#14b526 356.9deg,#00af2d 358.3deg,#00b53c 360deg)"></i>
<i style="inset:48.5px;background:conic-gradient(from 90deg,#00ba47 0deg,#00c664 3.6deg,#00d07d 11.7deg,#00d183 13.1deg,#00dee1 30.3deg,#00dee1 37.5deg,#1e96fa 42.3deg,#2a54f4 47.8deg,#2c51f2 48.3deg,#2a54f4 49.6deg,#1f93fa 63deg,#1e96fa 63.1deg,#00dee1 64.5deg,#00d07d 65.9deg,#00b234 67.3deg,#00af2d 67.4deg,#7dd400 68.7deg,#ffec00 70.1deg,#ff9600 71.7deg,#f87300 72.6deg,#f56800 89.8deg,#f87300 108.2deg,#ff9600 111deg,#ffec00 116.3deg,#7dd400 120.4deg,#00af2d 124.2deg,#00b234 124.6deg,#00d07d 129.3deg,#00d8b7 132.1deg,#00d07d 138.4deg,#00b234 149.4deg,#00af2d 150.3deg,#7dd400 159.1deg,#82d500 159.5deg,#82d500 167.9deg,#7dd400 168deg,#00af2d 170.6deg,#00d07d 173.7deg,#00d8b7 175.3deg,#00dee1 178.3deg,#0ebdec 181.5deg,#13b1f1 202.1deg,#00dee1 207.1deg,#00d07d 215.3deg,#00b234 223.4deg,#00af2d 223.6deg,#7dd400 225.5deg,#ffec00 227.5deg,#ff9600 230deg,#f87300 231.3deg,#f56800 255.6deg,#f87300 280.3deg,#ff9600 284.1deg,#ffec00 291.4deg,#7dd400 303.2deg,#15b525 312deg,#00af2d 313.5deg,#00d07d 323.1deg,#00d28e 324.6deg,#00dee1 329.9deg,#00d07d 332.4deg,#00b234 334.8deg,#00af2d 335deg,#7dd400 336.6deg,#ffec00 338.4deg,#ff9600 340.6deg,#fc8a00 341deg,#fc8a00 348.3deg,#ff9600 348.8deg,#ffec00 351.6deg,#7dd400 353.9deg,#10b427 355.8deg,#00af2d 356.9deg,#00ba47 360deg)"></i>
<i style="inset:50.5px;background:conic-gradient(from 90deg,#00be51 0deg,#00c766 2.5deg,#00d07d 10.3deg,#00d185 12.3deg,#00dee1 29.3deg,#00dee1 36.5deg,#1e96fa 41.2deg,#2a54f4 46.5deg,#2d4ff1 47.3deg,#2a54f4 49.5deg,#1f90f9 62.3deg,#1e96fa 62.5deg,#00dee1 63.8deg,#00d07d 65.2deg,#00b234 66.5deg,#00af2d 66.7deg,#7dd400 67.9deg,#ffec00 69.3deg,#ff9600 70.9deg,#f87300 71.8deg,#f56800 89.1deg,#f87300 107.7deg,#ff9600 110.5deg,#ffec00 115.8deg,#7dd400 119.9deg,#00af2d 123.6deg,#00b234 124deg,#00d07d 128.7deg,#00d9be 131.7deg,#00d07d 138.6deg,#00b234 149.2deg,#00af2d 150.1deg,#7dd400 159deg,#81d500 159.3deg,#81d500 167.1deg,#7dd400 167.1deg,#00af2d 169.7deg,#00d07d 172.5deg,#00d9be 174.2deg,#00dee1 176.8deg,#0fbbed 180.4deg,#14aff1 201deg,#00dee1 206.3deg,#00d07d 214.4deg,#00b234 222.4deg,#00af2d 222.6deg,#7dd400 224.5deg,#ffec00 226.5deg,#ff9600 229deg,#f87300 230.3deg,#f56800 254.7deg,#f87300 279.3deg,#ff9600 283.1deg,#ffec00 290.5deg,#7dd400 302.3deg,#17b625 311deg,#00af2d 312.5deg,#00d07d 322.1deg,#00d28e 323.5deg,#00dee1 329.1deg,#00d07d 331.5deg,#00b234 333.9deg,#00af2d 334.1deg,#7dd400 335.7deg,#ffec00 337.5deg,#ff9600 339.6deg,#fc8800 340.1deg,#fc8800 347.3deg,#ff9600 347.9deg,#ffec00 350.6deg,#7dd400 352.9deg,#0bb229 354.7deg,#00af2d 355.5deg,#00be51 360deg)"></i>
<i style="inset:52.5px;background:conic-gradient(from 90deg,#00c25c 0deg,#00c768 1.5deg,#00d07d 9deg,#00d186 11.5deg,#00dee1 28.3deg,#00dee1 35.5deg,#1e96fa 40.1deg,#2a54f4 45.3deg,#2e4df0 46.4deg,#2a54f4 49.3deg,#1f8ef9 61.6deg,#1e96fa 61.8deg,#00dee1 63.1deg,#00d07d 64.4deg,#00b234 65.7deg,#00af2d 65.9deg,#7dd400 67.1deg,#ffec00 68.5deg,#ff9600 70.1deg,#f87300 71deg,#f56800 88.4deg,#f87300 107.2deg,#ff9600 110deg,#ffec00 115.3deg,#7dd400 119.4deg,#00af2d 123.1deg,#00b234 123.4deg,#00d07d 128.1deg,#00dac4 131.4deg,#00d07d 138.7deg,#00b234 149deg,#00af2d 149.9deg,#7dd400 158.8deg,#81d500 159.1deg,#81d500 166.3deg,#7dd400 166.3deg,#00af2d 168.7deg,#00d07d 171.4deg,#00dac4 173.1deg,#00dee1 175.3deg,#10b8ee 179.3deg,#15acf2 200deg,#00dee1 205.5deg,#00d07d 213.4deg,#00b234 221.4deg,#00af2d 221.6deg,#7dd400 223.4deg,#ffec00 225.5deg,#ff9600 228deg,#f87300 229.3deg,#f56800 253.8deg,#f87300 278.3deg,#ff9600 282.1deg,#ffec00 289.5deg,#7dd400 301.3deg,#18b624 310deg,#00af2d 311.6deg,#00d07d 321deg,#00d28e 322.4deg,#00dee1 328.2deg,#00d07d 330.6deg,#00b234 333.1deg,#00af2d 333.2deg,#7dd400 334.8deg,#ffec00 336.6deg,#ff9600 338.7deg,#fc8700 339.2deg,#fc8700 346.3deg,#ff9600 346.9deg,#ffec00 349.6deg,#7dd400 351.8deg,#07b12b 353.7deg,#00af2d 354.1deg,#00c25c 360deg)"></i>
<i style="inset:54.5px;background:conic-gradient(from 90deg,#00c766 0deg,#00c86a 0.5deg,#00d07d 7.6deg,#00d288 10.7deg,#00dee1 27.3deg,#00dee1 34.5deg,#1e96fa 39deg,#2a54f4 44.1deg,#2f4cef 45.4deg,#2a54f4 49.1deg,#208bf9 60.8deg,#1e96fa 61.1deg,#00dee1 62.4deg,#00d07d 63.7deg,#00b234 64.9deg,#00af2d 65.1deg,#7dd400 66.3deg,#ffec00 67.7deg,#ff9600 69.3deg,#f87300 70.1deg,#f56800 87.7deg,#f87300 106.7deg,#ff9600 109.5deg,#ffec00 114.8deg,#7dd400 118.8deg,#00af2d 122.5deg,#00b234 122.9deg,#00d07d 127.5deg,#00dbcb 131.1deg,#00d07d 138.8deg,#00b234 148.8deg,#00af2d 149.7deg,#7dd400 158.6deg,#80d500 158.8deg,#80d500 165.5deg,#7dd400 165.5deg,#00af2d 167.8deg,#00d07d 170.3deg,#00dbcb 172.1deg,#00dee1 173.9deg,#11b6ef 178.3deg,#16aaf3 199.1deg,#00dee1 204.7deg,#00d07d 212.6deg,#00b234 220.4deg,#00af2d 220.6deg,#7dd400 222.5deg,#ffec00 224.5deg,#ff9600 227deg,#f87300 228.3deg,#f56800 253deg,#f87300 277.3deg,#ff9600 281.2deg,#ffec00 288.5deg,#7dd400 300.4deg,#19b724 308.9deg,#00af2d 310.6deg,#00d07d 319.9deg,#00d28e 321.3deg,#00dee1 327.3deg,#00d07d 329.7deg,#00b234 332.2deg,#00af2d 332.3deg,#7dd400 333.9deg,#ffec00 335.7deg,#ff9600 337.7deg,#fb8500 338.2deg,#fb8500 345.4deg,#ff9600 346deg,#ffec00 348.6deg,#7dd400 350.7deg,#03b02c 352.6deg,#00af2d 352.8deg,#00c766 360deg)"></i>
<i style="inset:56.5px;background:conic-gradient(from 90deg,#00ca6d 0deg,#00d07d 6.2deg,#00d28a 9.9deg,#00dee1 26.4deg,#00dee1 33.5deg,#1e96fa 37.9deg,#2a54f4 42.8deg,#304aee 44.5deg,#2a54f4 49deg,#2089f9 60deg,#1e96fa 60.3deg,#00dee1 61.6deg,#00d07d 62.9deg,#00b234 64.1deg,#00af2d 64.3deg,#7dd400 65.5deg,#ffec00 66.8deg,#ff9600 68.4deg,#f87300 69.3deg,#f56800 86.9deg,#f87300 106.2deg,#ff9600 109deg,#ffec00 114.3deg,#7dd400 118.3deg,#00af2d 122deg,#00b234 122.3deg,#00d07d 126.9deg,#00dcd1 130.8deg,#00d07d 138.9deg,#00b234 148.6deg,#00af2d 149.5deg,#7dd400 158.4deg,#7fd400 158.6deg,#7fd400 164.7deg,#7dd400 164.8deg,#00af2d 166.9deg,#00d07d 169.3deg,#00dcd1 171.2deg,#00dee1 172.5deg,#12b4f0 177.3deg,#17a8f4 198.2deg,#00dee1 204deg,#00d07d 211.7deg,#00b234 219.4deg,#00af2d 219.6deg,#7dd400 221.5deg,#ffec00 223.6deg,#ff9600 226deg,#f87300 227.4deg,#f56800 252.1deg,#f87300 276.4deg,#ff9600 280.2deg,#ffec00 287.5deg,#7dd400 299.4deg,#1bb723 307.9deg,#00af2d 309.6deg,#00d07d 318.7deg,#00d28e 320.1deg,#00dee1 326.4deg,#00d07d 328.8deg,#00b234 331.3deg,#00af2d 331.5deg,#7dd400 333deg,#ffec00 334.7deg,#ff9600 336.8deg,#fb8300 337.3deg,#fb8300 344.4deg,#ff9600 345.1deg,#ffec00 347.6deg,#7dd400 349.6deg,#00af2d 351.5deg,#00af2e 351.6deg,#00c96c 359.5deg,#00ca6d 360deg)"></i>
<i style="inset:58.5px;background:conic-gradient(from 90deg,#00cb72 0deg,#00d07d 4.8deg,#00d28b 9.1deg,#00dee1 25.4deg,#00dee1 32.5deg,#1e96fa 36.8deg,#2a54f4 41.6deg,#3248ed 43.5deg,#2a54f4 48.7deg,#2186f9 59.2deg,#1e96fa 59.6deg,#00dee1 60.8deg,#00d07d 62.1deg,#00b234 63.3deg,#00af2d 63.4deg,#7dd400 64.6deg,#ffec00 66deg,#ff9600 67.5deg,#f87300 68.4deg,#f56800 86.2deg,#f87300 105.7deg,#ff9600 108.5deg,#ffec00 113.8deg,#7dd400 117.8deg,#00af2d 121.4deg,#00b234 121.8deg,#00d07d 126.3deg,#00ddd7 130.4deg,#00d07d 138.9deg,#00b234 148.3deg,#00af2d 149.3deg,#7dd400 158.3deg,#7ed400 158.4deg,#7ed400 164deg,#7dd400 164.1deg,#00af2d 166.1deg,#00d07d 168.4deg,#00ddd7 170.3deg,#00dee1 171.1deg,#13b1f0 176.3deg,#18a5f5 197.3deg,#00dee1 203.2deg,#00d07d 210.8deg,#00b234 218.4deg,#00af2d 218.6deg,#7dd400 220.5deg,#ffec00 222.6deg,#ff9600 225.1deg,#f87300 226.4deg,#f56800 251.3deg,#f87300 275.4deg,#ff9600 279.2deg,#ffec00 286.5deg,#7dd400 298.4deg,#1cb723 306.7deg,#00af2d 308.5deg,#00d07d 317.5deg,#00d28e 318.9deg,#00dee1 325.4deg,#00d07d 327.9deg,#00b234 330.4deg,#00af2d 330.5deg,#7dd400 332.1deg,#ffec00 333.8deg,#ff9600 335.8deg,#fb8200 336.4deg,#fb8200 343.4deg,#ff9600 344.2deg,#ffec00 346.6deg,#7dd400 348.6deg,#00af2d 350.4deg,#00b031 350.5deg,#00ca6e 358.5deg,#00cb72 360deg)"></i>
<i style="inset:60.5px;background:conic-gradient(from 90deg,#00cd76 0deg,#00d07d 3.3deg,#00d28d 8.4deg,#00dee1 24.5deg,#00dee1 31.5deg,#1e96fa 35.7deg,#2a54f4 40.4deg,#3346ec 42.5deg,#2a54f4 48.5deg,#2184f8 58.4deg,#1e96fa 58.8deg,#00dee1 60deg,#00d07d 61.2deg,#00b234 62.4deg,#00af2d 62.6deg,#7dd400 63.8deg,#ffec00 65.1deg,#ff9600 66.6deg,#f87300 67.5deg,#f56800 85.4deg,#f87300 105.2deg,#ff9600 108deg,#ffec00 113.3deg,#7dd400 117.3deg,#00af2d 120.9deg,#00b234 121.3deg,#00d07d 125.8deg,#00dede 130.1deg,#00d07d 139deg,#00b234 148.1deg,#00af2d 149deg,#7dd400 158.1deg,#7dd400 158.1deg,#7dd400 163.3deg,#7dd400 163.3deg,#00af2d 165.3deg,#00d07d 167.5deg,#00dede 169.4deg,#00dee1 169.7deg,#14aff1 175.4deg,#19a3f5 196.4deg,#00dee1 202.5deg,#00d07d 210deg,#00b234 217.5deg,#00af2d 217.7deg,#7dd400 219.6deg,#ffec00 221.7deg,#ff9600 224.2deg,#f87300 225.5deg,#f56800 250.4deg,#f87300 274.5deg,#ff9600 278.3deg,#ffec00 285.5deg,#7dd400 297.4deg,#1db822 305.6deg,#00af2d 307.4deg,#00d07d 316.3deg,#00d28e 317.6deg,#00dee1 324.5deg,#00d07d 327deg,#00b234 329.5deg,#00af2d 329.6deg,#7dd400 331.1deg,#ffec00 332.8deg,#ff9600 334.8deg,#fa8000 335.5deg,#fa8000 342.5deg,#ff9600 343.3deg,#ffec00 345.6deg,#7dd400 347.6deg,#00af2d 349.4deg,#00b133 349.5deg,#00cb70 357.5deg,#00cd76 360deg)"></i>
<i style="inset:62.5px;background:conic-gradient(from 90deg,#00ce79 0deg,#00d07d 2deg,#00d28e 7.6deg,#00dee1 23.5deg,#00dee1 30.5deg,#1e96fa 34.6deg,#2a54f4 39.3deg,#3345eb 41.5deg,#2a54f4 48deg,#2283f8 57.6deg,#1e96fa 58deg,#00dee1 59.2deg,#00d07d 60.4deg,#00b234 61.6deg,#00af2d 61.7deg,#7dd400 62.9deg,#ffec00 64.2deg,#ff9600 65.7deg,#f87300 66.5deg,#f56800 84.6deg,#f87300 104.8deg,#ff9600 107.5deg,#ffec00 112.7deg,#7dd400 116.7deg,#00af2d 120.4deg,#00b234 120.7deg,#00d07d 125.3deg,#00dee1 129.9deg,#00d07d 138.9deg,#00b234 147.9deg,#00af2d 148.8deg,#7cd400 157.9deg,#7cd400 162.7deg,#00af2d 164.5deg,#00d07d 166.7deg,#00dee1 168.6deg,#15abf3 174.6deg,#1a9ff7 195.6deg,#00dee1 202deg,#00d07d 209.2deg,#00b234 216.5deg,#00af2d 216.7deg,#7dd400 218.6deg,#ffec00 220.7deg,#ff9600 223.2deg,#f87300 224.5deg,#f56800 249.6deg,#f87300 273.5deg,#ff9600 277.3deg,#ffec00 284.5deg,#7dd400 296.3deg,#1db822 304.4deg,#00af2d 306.2deg,#00d07d 314.9deg,#00d38f 316.3deg,#00dee1 323.5deg,#00d07d 326deg,#00b234 328.5deg,#00af2d 328.7deg,#7dd400 330.2deg,#ffec00 331.9deg,#ff9600 333.8deg,#fa7f00 334.5deg,#fa7f00 341.5deg,#ff9600 342.3deg,#ffec00 344.6deg,#7dd400 346.6deg,#00af2d 348.3deg,#00b234 348.5deg,#00cb71 356.5deg,#00ce79 360deg)"></i>
<i style="inset:64.5px;background:conic-gradient(from 90deg,#00cf7b 0deg,#00d07d 0.9deg,#00d28e 6.9deg,#00dee1 22.6deg,#00dee1 29.5deg,#1e96fa 33.6deg,#2a54f4 38.3deg,#3445eb 40.5deg,#2a54f4 47.1deg,#2283f8 56.7deg,#1e96fa 57.1deg,#00dee1 58.3deg,#00d07d 59.5deg,#00b234 60.7deg,#00af2d 60.8deg,#7dd400 62deg,#ffec00 63.3deg,#ff9600 64.8deg,#f87300 65.6deg,#f56800 83.8deg,#f87300 104.3deg,#ff9600 107deg,#ffec00 112.3deg,#7dd400 116.2deg,#00af2d 119.8deg,#00b234 120.2deg,#00d07d 124.9deg,#00dee1 129.6deg,#00d07d 138.6deg,#00b234 147.7deg,#00af2d 148.6deg,#7bd401 157.6deg,#7bd401 162deg,#00af2d 163.8deg,#00d07d 165.9deg,#00dee1 167.8deg,#18a5f5 173.8deg,#1c9af9 194.8deg,#00dee1 201.5deg,#00d07d 208.6deg,#00b234 215.6deg,#00af2d 215.8deg,#7dd400 217.7deg,#ffec00 219.8deg,#ff9600 222.3deg,#f87300 223.6deg,#f56800 248.8deg,#f87300 272.6deg,#ff9600 276.4deg,#ffec00 283.5deg,#7dd400 295.1deg,#1cb723 303.2deg,#00af2d 304.9deg,#00d07d 313.4deg,#00d392 315deg,#00dee1 322.5deg,#00d07d 325deg,#00b234 327.6deg,#00af2d 327.7deg,#7dd400 329.3deg,#ffec00 330.9deg,#ff9600 332.9deg,#fa7f00 333.6deg,#fa7f00 340.6deg,#ff9600 341.4deg,#ffec00 343.7deg,#7dd400 345.6deg,#00af2d 347.3deg,#00b234 347.5deg,#00cc72 355.5deg,#00cf7b 360deg)"></i>
<i style="inset:66.5px;background:conic-gradient(from 90deg,#00d07d 0deg,#00d28e 6.2deg,#00dee1 21.7deg,#00dee1 28.5deg,#1e96fa 32.6deg,#2a54f4 37.2deg,#3444eb 39.5deg,#2a54f4 46.2deg,#2283f8 55.8deg,#1e96fa 56.2deg,#00dee1 57.4deg,#00d07d 58.6deg,#00b234 59.8deg,#00af2d 59.9deg,#7dd400 61deg,#ffec00 62.3deg,#ff9600 63.8deg,#f87300 64.6deg,#f56800 83deg,#f87300 103.8deg,#ff9600 106.5deg,#ffec00 111.8deg,#7dd400 115.7deg,#00af2d 119.3deg,#00b234 119.7deg,#00d07d 124.5deg,#00dee1 129.3deg,#00d07d 138.4deg,#00b234 147.4deg,#00af2d 148.4deg,#7ad301 157.4deg,#7ad301 161.4deg,#00af2d 163.2deg,#00d07d 165.2deg,#00dee1 167.1deg,#1a9ff7 173deg,#1e96fa 190.3deg,#1e94fa 194deg,#1e96fa 194.2deg,#00dee1 201.1deg,#00d07d 207.9deg,#00b234 214.7deg,#00af2d 214.9deg,#7dd400 216.8deg,#ffec00 218.9deg,#ff9600 221.4deg,#f87300 222.7deg,#f56800 247.9deg,#f87300 271.7deg,#ff9600 275.4deg,#ffec00 282.5deg,#7dd400 293.8deg,#1ab724 302deg,#00af2d 303.5deg,#00d07d 311.8deg,#00d395 313.6deg,#00dee1 321.5deg,#00d07d 324.1deg,#00b234 326.6deg,#00af2d 326.8deg,#7dd400 328.3deg,#ffec00 330deg,#ff9600 332deg,#fa7e00 332.7deg,#fa7e00 339.6deg,#ff9600 340.4deg,#ffec00 342.7deg,#7dd400 344.6deg,#00af2d 346.3deg,#00b234 346.5deg,#00cc73 354.6deg,#00d07d 359.8deg,#00d07d 360deg)"></i>
<i style="inset:68.5px;background:conic-gradient(from 90deg,#00d080 0deg,#00d28e 5.6deg,#00dee1 20.8deg,#00dee1 27.6deg,#1e96fa 31.6deg,#2a54f4 36.2deg,#3444eb 38.5deg,#2a54f4 45.4deg,#2283f8 54.9deg,#1e96fa 55.3deg,#00dee1 56.5deg,#00d07d 57.6deg,#00b234 58.8deg,#00af2d 58.9deg,#7dd400 60.1deg,#ffec00 61.4deg,#ff9600 62.9deg,#f87300 63.7deg,#f56800 82.2deg,#f87300 103.3deg,#ff9600 106deg,#ffec00 111.3deg,#7dd400 115.2deg,#00af2d 118.8deg,#00b234 119.2deg,#00d07d 124.1deg,#00dee1 129deg,#00d07d 138.1deg,#00b234 147.2deg,#00af2d 148.1deg,#79d301 157.1deg,#79d301 160.8deg,#00af2d 162.5deg,#00d07d 164.5deg,#00dee1 166.4deg,#1d99f9 172.3deg,#1e96fa 178.3deg,#1f90f9 193.3deg,#1e96fa 194deg,#00dee1 200.6deg,#00d07d 207.2deg,#00b234 213.8deg,#00af2d 214deg,#7dd400 215.9deg,#ffec00 218deg,#ff9600 220.5deg,#f87300 221.8deg,#f56800 247.1deg,#f87300 270.8deg,#ff9600 274.5deg,#ffec00 281.5deg,#7dd400 292.6deg,#19b624 300.7deg,#00af2d 302.1deg,#00d07d 310.2deg,#00d498 312.2deg,#00dee1 320.4deg,#00d07d 323deg,#00b234 325.7deg,#00af2d 325.8deg,#7dd400 327.3deg,#ffec00 329deg,#ff9600 331deg,#fa7e00 331.7deg,#fa7e00 338.7deg,#ff9600 339.5deg,#ffec00 341.7deg,#7dd400 343.6deg,#00af2d 345.3deg,#00b234 345.5deg,#00cc74 353.6deg,#00d07d 358.8deg,#00d080 360deg)"></i>
<i style="inset:70.5px;background:conic-gradient(from 90deg,#00d182 0deg,#00d28e 4.9deg,#00dee1 19.9deg,#00dee1 26.6deg,#1e96fa 30.6deg,#2a54f4 35.1deg,#3444eb 37.5deg,#2a54f4 44.5deg,#2283f8 54deg,#1e96fa 54.4deg,#00dee1 55.5deg,#00d07d 56.7deg,#00b234 57.9deg,#00af2d 58deg,#7dd400 59.1deg,#ffec00 60.4deg,#ff9600 61.9deg,#f87300 62.7deg,#f56800 81.4deg,#f87300 102.8deg,#ff9600 105.6deg,#ffec00 110.8deg,#7dd400 114.7deg,#00af2d 118.3deg,#00b234 118.7deg,#00d07d 123.7deg,#00dee1 128.8deg,#00d07d 137.9deg,#00b234 146.9deg,#00af2d 147.9deg,#78d302 156.9deg,#78d302 160.2deg,#00af2d 161.9deg,#00d07d 163.9deg,#00dee1 165.7deg,#1e96fa 171.4deg,#1e94fa 171.7deg,#208bf9 192.6deg,#1e96fa 193.8deg,#00dee1 200.2deg,#00d07d 206.6deg,#00b234 212.9deg,#00af2d 213.1deg,#7dd400 215.1deg,#ffec00 217.2deg,#ff9600 219.7deg,#f87300 221deg,#f56800 246.3deg,#f87300 269.9deg,#ff9600 273.6deg,#ffec00 280.5deg,#7dd400 291.4deg,#17b625 299.4deg,#00af2d 300.7deg,#00d07d 308.6deg,#00d49b 310.8deg,#00dee1 319.4deg,#00d07d 322deg,#00b234 324.7deg,#00af2d 324.8deg,#7dd400 326.4deg,#ffec00 328deg,#ff9600 330deg,#fa7d00 330.8deg,#fa7d00 337.7deg,#ff9600 338.6deg,#ffec00 340.8deg,#7dd400 342.7deg,#00af2d 344.4deg,#00b234 344.6deg,#00cd75 352.7deg,#00d07d 357.6deg,#00d182 360deg)"></i>
<i style="inset:72.5px;background:conic-gradient(from 90deg,#00d184 0deg,#00d28e 4.3deg,#00dee1 19deg,#00dee1 25.6deg,#1e96fa 29.6deg,#2a54f4 34.1deg,#3443ea 36.5deg,#2a54f4 43.6deg,#2283f8 53deg,#1e96fa 53.4deg,#00dee1 54.6deg,#00d07d 55.7deg,#00b234 56.9deg,#00af2d 57deg,#7dd400 58.1deg,#ffec00 59.4deg,#ff9600 60.9deg,#f87300 61.6deg,#f56800 80.6deg,#f87300 102.3deg,#ff9600 105.1deg,#ffec00 110.3deg,#7dd400 114.2deg,#00af2d 117.8deg,#00b234 118.1deg,#00d07d 123.3deg,#00dee1 128.5deg,#00d07d 137.6deg,#00b234 146.7deg,#00af2d 147.7deg,#77d202 156.6deg,#77d202 159.7deg,#00af2d 161.4deg,#00d07d 163.3deg,#00dee1 165.1deg,#1e96fa 170.4deg,#1f8ff9 171deg,#2187f9 192deg,#1e96fa 193.6deg,#00dee1 199.7deg,#00d07d 205.9deg,#00b234 212.1deg,#00af2d 212.3deg,#7dd400 214.2deg,#ffec00 216.3deg,#ff9600 218.8deg,#f87300 220.1deg,#f56800 245.6deg,#f87300 269deg,#ff9600 272.6deg,#ffec00 279.5deg,#7dd400 290.1deg,#16b525 298deg,#00af2d 299.2deg,#00d07d 307deg,#00d59e 309.3deg,#00dee1 318.3deg,#00d07d 321deg,#00b234 323.7deg,#00af2d 323.8deg,#7dd400 325.4deg,#ffec00 327.1deg,#ff9600 329.1deg,#fa7d00 329.8deg,#fa7d00 336.8deg,#ff9600 337.7deg,#ffec00 339.9deg,#7dd400 341.7deg,#00af2d 343.4deg,#00b234 343.6deg,#00cd76 351.8deg,#00d07d 356.5deg,#00d184 360deg)"></i>
<i style="inset:74.5px;background:conic-gradient(from 90deg,#00d186 0deg,#00d28e 3.7deg,#00dee1 18.2deg,#00dee1 24.7deg,#1e96fa 28.6deg,#2a54f4 33deg,#3543ea 35.4deg,#2a54f4 42.6deg,#2283f8 52.1deg,#1e96fa 52.4deg,#00dee1 53.6deg,#00d07d 54.8deg,#00b234 55.9deg,#00af2d 56deg,#7dd400 57.1deg,#ffec00 58.4deg,#ff9600 59.8deg,#f87300 60.6deg,#f56800 79.8deg,#f87300 101.9deg,#ff9600 104.6deg,#ffec00 109.8deg,#7dd400 113.7deg,#00af2d 117.3deg,#00b234 117.6deg,#00d07d 123deg,#00dee1 128.3deg,#00d07d 137.4deg,#00b234 146.4deg,#00af2d 147.4deg,#76d203 156.4deg,#76d203 159.2deg,#00af2d 160.8deg,#00d07d 162.8deg,#00dee1 164.6deg,#1e96fa 169.5deg,#208af9 170.5deg,#2282f8 191.4deg,#1e96fa 193.4deg,#00dee1 199.3deg,#00d07d 205.3deg,#00b234 211.2deg,#00af2d 211.4deg,#7dd400 213.3deg,#ffec00 215.4deg,#ff9600 217.9deg,#f87300 219.3deg,#f56800 244.8deg,#f87300 268.2deg,#ff9600 271.7deg,#ffec00 278.4deg,#7dd400 288.8deg,#14b526 296.7deg,#00af2d 297.8deg,#00d07d 305.3deg,#00d5a1 307.8deg,#00dee1 317.2deg,#00d07d 319.9deg,#00b234 322.7deg,#00af2d 322.8deg,#7dd400 324.4deg,#ffec00 326.1deg,#ff9600 328.1deg,#fa7c00 328.9deg,#fa7c00 335.9deg,#ff9600 336.7deg,#ffec00 338.9deg,#7dd400 340.8deg,#00af2d 342.5deg,#00b234 342.7deg,#00cd77 350.9deg,#00d07d 355.3deg,#00d186 360deg)"></i>
<i style="inset:76.5px;background:conic-gradient(from 90deg,#00d288 0deg,#00d28e 3.1deg,#00dee1 17.3deg,#00dee1 23.7deg,#1e96fa 27.6deg,#2a54f4 32deg,#3543ea 34.4deg,#2a54f4 41.7deg,#2283f8 51.1deg,#1e96fa 51.4deg,#00dee1 52.6deg,#00d07d 53.7deg,#00b234 54.9deg,#00af2d 55deg,#7dd400 56.1deg,#ffec00 57.3deg,#ff9600 58.8deg,#f87300 59.6deg,#f56800 79deg,#f87300 101.4deg,#ff9600 104.1deg,#ffec00 109.3deg,#7dd400 113.2deg,#00af2d 116.8deg,#00b234 117.1deg,#00d07d 122.6deg,#00dee1 128deg,#00d07d 137.1deg,#00b234 146.2deg,#00af2d 147.2deg,#75d203 156.1deg,#75d203 158.7deg,#00af2d 160.3deg,#00d07d 162.3deg,#00dee1 164deg,#1e96fa 168.6deg,#2185f8 170deg,#227ef8 190.8deg,#1e96fa 193.1deg,#00dee1 198.9deg,#00d07d 204.7deg,#00b234 210.4deg,#00af2d 210.6deg,#7dd400 212.5deg,#ffec00 214.6deg,#ff9600 217.1deg,#f87300 218.4deg,#f56800 244deg,#f87300 267.3deg,#ff9600 270.8deg,#ffec00 277.4deg,#7dd400 287.5deg,#13b526 295.3deg,#00af2d 296.3deg,#00d07d 303.6deg,#00d5a4 306.2deg,#00dee1 316deg,#00d07d 318.8deg,#00b234 321.7deg,#00af2d 321.8deg,#7dd400 323.4deg,#ffec00 325.1deg,#ff9600 327.1deg,#f97c00 327.9deg,#f97c00 335deg,#ff9600 335.8deg,#ffec00 338deg,#7dd400 339.9deg,#00af2d 341.5deg,#00b234 341.7deg,#00ce77 350deg,#00d07d 354.1deg,#00d288 360deg)"></i>
<i style="inset:78.5px;background:conic-gradient(from 90deg,#00d289 0deg,#00d28e 2.5deg,#00dee1 16.5deg,#00dee1 22.8deg,#1e96fa 26.6deg,#2a54f4 30.9deg,#3542ea 33.4deg,#2a54f4 40.8deg,#2283f8 50.1deg,#1e96fa 50.4deg,#00dee1 51.6deg,#00d07d 52.7deg,#00b234 53.9deg,#00af2d 54deg,#7dd400 55.1deg,#ffec00 56.3deg,#ff9600 57.7deg,#f87300 58.5deg,#f56800 78.1deg,#f87300 100.9deg,#ff9600 103.6deg,#ffec00 108.8deg,#7dd400 112.7deg,#00af2d 116.3deg,#00b234 116.7deg,#00d07d 122.2deg,#00dee1 127.8deg,#00d07d 136.9deg,#00b234 145.9deg,#00af2d 146.9deg,#74d103 155.8deg,#74d103 158.2deg,#00af2d 159.8deg,#00d07d 161.8deg,#00dee1 163.6deg,#1e96fa 167.9deg,#2280f8 169.5deg,#2379f7 190.2deg,#1e96fa 192.9deg,#00dee1 198.5deg,#00d07d 204.1deg,#00b234 209.6deg,#00af2d 209.8deg,#7dd400 211.7deg,#ffec00 213.8deg,#ff9600 216.3deg,#f87300 217.6deg,#f56800 243.2deg,#f87300 266.5deg,#ff9600 269.9deg,#ffec00 276.4deg,#7dd400 286.2deg,#11b427 293.9deg,#00af2d 294.7deg,#00d07d 301.9deg,#00d6a7 304.6deg,#00dee1 314.9deg,#00d07d 317.8deg,#00b234 320.6deg,#00af2d 320.8deg,#7dd400 322.4deg,#ffec00 324.1deg,#ff9600 326.2deg,#f97c00 327deg,#f97c00 334deg,#ff9600 334.9deg,#ffec00 337.1deg,#7dd400 339deg,#00af2d 340.6deg,#00b234 340.8deg,#00ce78 349.1deg,#00d07d 352.9deg,#00d289 360deg)"></i>
<i style="inset:80.5px;background:conic-gradient(from 90deg,#00d28b 0deg,#00d28e 1.9deg,#00dee1 15.6deg,#00dee1 21.8deg,#1e96fa 25.6deg,#2a54f4 29.9deg,#3542ea 32.3deg,#2a54f4 39.8deg,#2283f8 49deg,#1e96fa 49.4deg,#00dee1 50.5deg,#00d07d 51.7deg,#00b234 52.8deg,#00af2d 52.9deg,#7dd400 54deg,#ffec00 55.2deg,#ff9600 56.7deg,#f87300 57.4deg,#f56800 77.3deg,#f87300 100.4deg,#ff9600 103.2deg,#ffec00 108.4deg,#7dd400 112.3deg,#00af2d 115.8deg,#00b234 116.2deg,#00d07d 121.9deg,#00dee1 127.6deg,#00d07d 136.6deg,#00b234 145.7deg,#00af2d 146.7deg,#73d104 155.6deg,#73d104 157.8deg,#00af2d 159.4deg,#00d07d 161.3deg,#00dee1 163.1deg,#1e96fa 167.2deg,#237bf8 169.1deg,#2475f7 189.7deg,#1e96fa 192.7deg,#00dee1 198.1deg,#00d07d 203.5deg,#00b234 208.8deg,#00af2d 209deg,#7dd400 210.9deg,#ffec00 213deg,#ff9600 215.5deg,#f87300 216.8deg,#f56800 242.5deg,#f87300 265.6deg,#ff9600 269deg,#ffec00 275.4deg,#7dd400 284.9deg,#10b427 292.4deg,#00af2d 293.2deg,#00d07d 300.2deg,#00d6aa 303deg,#00dee1 313.7deg,#00d07d 316.6deg,#00b234 319.6deg,#00af2d 319.7deg,#7dd400 321.3deg,#ffec00 323.1deg,#ff9600 325.2deg,#f97b00 326deg,#f97b00 333.1deg,#ff9600 334deg,#ffec00 336.2deg,#7dd400 338deg,#00af2d 339.7deg,#00b234 339.9deg,#00ce79 348.2deg,#00d07d 351.6deg,#00d28b 360deg)"></i>
<i style="inset:82.5px;background:conic-gradient(from 90deg,#00d28c 0deg,#00d28e 1.4deg,#00dee1 14.8deg,#00dee1 20.9deg,#1e96fa 24.6deg,#2a54f4 28.8deg,#3542e9 31.3deg,#2a54f4 38.8deg,#2283f8 48deg,#1e96fa 48.3deg,#00dee1 49.5deg,#00d07d 50.6deg,#00b234 51.8deg,#00af2d 51.9deg,#7dd400 52.9deg,#ffec00 54.1deg,#ff9600 55.6deg,#f87300 56.3deg,#f56800 76.4deg,#f87300 100deg,#ff9600 102.7deg,#ffec00 107.9deg,#7dd400 111.8deg,#00af2d 115.3deg,#00b234 115.7deg,#00d07d 121.5deg,#00dee1 127.4deg,#00d07d 136.4deg,#00b234 145.4deg,#00af2d 146.4deg,#72d104 155.3deg,#72d104 157.3deg,#00af2d 158.9deg,#00d07d 160.9deg,#00dee1 162.8deg,#1e96fa 166.6deg,#2476f7 168.7deg,#2570f7 189.2deg,#1e96fa 192.5deg,#00dee1 197.7deg,#00d07d 202.9deg,#00b234 208deg,#00af2d 208.2deg,#7dd400 210.1deg,#ffec00 212.2deg,#ff9600 214.7deg,#f87300 216deg,#f56800 241.7deg,#f87300 264.8deg,#ff9600 268.1deg,#ffec00 274.4deg,#7dd400 283.5deg,#0eb328 290.9deg,#00af2d 291.6deg,#00d07d 298.4deg,#00d7ad 301.3deg,#00dee1 312.5deg,#00d07d 315.5deg,#00b234 318.5deg,#00af2d 318.7deg,#7dd400 320.3deg,#ffec00 322.1deg,#ff9600 324.2deg,#f97b00 325.1deg,#f97b00 332.2deg,#ff9600 333.1deg,#ffec00 335.3deg,#7dd400 337.1deg,#00af2d 338.8deg,#00b234 339deg,#00cf7a 347.3deg,#00d07d 350.2deg,#00d28c 360deg)"></i>
<i style="inset:84.5px;background:conic-gradient(from 90deg,#00d28c 0deg,#00d28e 0.9deg,#00dee1 14deg,#00dee1 19.9deg,#1e96fa 23.6deg,#2a54f4 27.8deg,#3641e9 30.2deg,#2a54f4 37.8deg,#2283f8 46.9deg,#1e96fa 47.3deg,#00dee1 48.4deg,#00d07d 49.5deg,#00b234 50.7deg,#00af2d 50.8deg,#7dd400 51.9deg,#ffec00 53deg,#ff9600 54.4deg,#f87300 55.2deg,#f56800 75.5deg,#f87300 99.5deg,#ff9600 102.2deg,#ffec00 107.4deg,#7dd400 111.3deg,#00af2d 114.8deg,#00b234 115.2deg,#00d07d 121.2deg,#00dee1 127.2deg,#00d07d 136.2deg,#00b234 145.1deg,#00af2d 146.1deg,#71d004 155deg,#71d004 157deg,#00af2d 158.5deg,#00d07d 160.6deg,#00dee1 162.4deg,#1e96fa 166.1deg,#2572f7 168.4deg,#266cf6 188.7deg,#1e96fa 192.3deg,#00dee1 197.3deg,#00d07d 202.3deg,#00b234 207.3deg,#00af2d 207.5deg,#7dd400 209.4deg,#ffec00 211.4deg,#ff9600 213.9deg,#f87300 215.2deg,#f56800 241deg,#f87300 264deg,#ff9600 267.2deg,#ffec00 273.3deg,#7dd400 282.2deg,#0cb329 289.4deg,#00af2d 290deg,#00d07d 296.6deg,#00d7b0 299.6deg,#00dee1 311.3deg,#00d07d 314.4deg,#00b234 317.5deg,#00af2d 317.6deg,#7dd400 319.3deg,#ffec00 321.1deg,#ff9600 323.2deg,#f97a00 324.1deg,#f97a00 331.3deg,#ff9600 332.2deg,#ffec00 334.4deg,#7dd400 336.3deg,#00af2d 337.9deg,#00b234 338.1deg,#00cf7b 346.5deg,#00d07d 348.7deg,#00d28c 360deg)"></i>
<i style="inset:86.5px;background:conic-gradient(from 90deg,#00d28d 0deg,#00d28e 0.4deg,#00dee1 13.2deg,#00dee1 19deg,#1e96fa 22.6deg,#2a54f4 26.7deg,#3641e9 29.2deg,#2a54f4 36.8deg,#2283f8 45.8deg,#1e96fa 46.2deg,#00dee1 47.3deg,#00d07d 48.4deg,#00b234 49.6deg,#00af2d 49.7deg,#7dd400 50.7deg,#ffec00 51.9deg,#ff9600 53.3deg,#f87300 54deg,#f56800 74.7deg,#f87300 99deg,#ff9600 101.8deg,#ffec00 106.9deg,#7dd400 110.8deg,#00af2d 114.4deg,#00b234 114.7deg,#00d07d 120.9deg,#00dee1 127deg,#00d07d 135.9deg,#00b234 144.8deg,#00af2d 145.9deg,#70d005 154.7deg,#70d005 156.6deg,#00af2d 158.2deg,#00d07d 160.2deg,#00dee1 162.1deg,#1e96fa 165.6deg,#266df6 168.1deg,#2667f6 188.3deg,#1e96fa 192.1deg,#00dee1 196.9deg,#00d07d 201.7deg,#00b234 206.5deg,#00af2d 206.7deg,#7dd400 208.6deg,#ffec00 210.7deg,#ff9600 213.1deg,#f87300 214.4deg,#f56800 240.3deg,#f87300 263.2deg,#ff9600 266.3deg,#ffec00 272.3deg,#7dd400 280.8deg,#0bb229 287.9deg,#00af2d 288.4deg,#00d07d 294.8deg,#00d8b3 297.9deg,#00dee1 310deg,#00d07d 313.2deg,#00b234 316.4deg,#00af2d 316.5deg,#7dd400 318.2deg,#ffec00 320.1deg,#ff9600 322.2deg,#f97a00 323.2deg,#f97a00 330.4deg,#ff9600 331.3deg,#ffec00 333.5deg,#7dd400 335.4deg,#00af2d 337deg,#00b234 337.2deg,#00cf7c 345.7deg,#00d07d 347.1deg,#00d28d 360deg)"></i>
<i style="inset:88.5px;background:conic-gradient(from 90deg,#00d28e 0deg,#00dee1 12.4deg,#00dee1 18deg,#1e96fa 21.6deg,#2a54f4 25.6deg,#3641e9 28.1deg,#2a54f4 35.8deg,#2283f8 44.7deg,#1e96fa 45deg,#00dee1 46.2deg,#00d07d 47.3deg,#00b234 48.4deg,#00af2d 48.6deg,#7dd400 49.6deg,#ffec00 50.8deg,#ff9600 52.1deg,#f87300 52.9deg,#f56800 73.8deg,#f87300 98.6deg,#ff9600 101.3deg,#ffec00 106.5deg,#7dd400 110.4deg,#00af2d 113.9deg,#00b234 114.3deg,#00d07d 120.5deg,#00dee1 126.8deg,#00d07d 135.7deg,#00b234 144.6deg,#00af2d 145.6deg,#6ed005 154.5deg,#6ed005 156.2deg,#00af2d 157.9deg,#00d07d 159.9deg,#00dee1 161.8deg,#1e96fa 165.2deg,#2668f6 167.9deg,#2763f5 187.9deg,#1e96fa 192deg,#00dee1 196.6deg,#00d07d 201.2deg,#00b234 205.8deg,#00af2d 206deg,#7dd400 207.9deg,#ffec00 209.9deg,#ff9600 212.4deg,#f87300 213.7deg,#f56800 239.5deg,#f87300 262.4deg,#ff9600 265.5deg,#ffec00 271.3deg,#7dd400 279.4deg,#09b22a 286.3deg,#00af2d 286.7deg,#00d07d 292.9deg,#00d8b6 296.1deg,#00dee1 308.8deg,#00d07d 312deg,#00b234 315.3deg,#00af2d 315.5deg,#7dd400 317.2deg,#ffec00 319deg,#ff9600 321.2deg,#f97900 322.2deg,#f97900 329.5deg,#ff9600 330.5deg,#ffec00 332.7deg,#7dd400 334.5deg,#00af2d 336.2deg,#00b234 336.3deg,#00d07d 344.8deg,#00d07d 345.3deg,#00d28e 359.9deg,#00d28e 360deg)"></i>
<i style="inset:90.5px;background:conic-gradient(from 90deg,#00d392 0deg,#00dee1 11.6deg,#00dee1 17.1deg,#1e96fa 20.6deg,#2a54f4 24.6deg,#3640e9 27deg,#2a54f4 34.8deg,#2283f8 43.5deg,#1e96fa 43.9deg,#00dee1 45deg,#00d07d 46.2deg,#00b234 47.3deg,#00af2d 47.4deg,#7dd400 48.5deg,#ffec00 49.6deg,#ff9600 51deg,#f87300 51.7deg,#f56800 72.9deg,#f87300 98.1deg,#ff9600 100.8deg,#ffec00 106deg,#7dd400 109.9deg,#00af2d 113.4deg,#00b234 113.8deg,#00d07d 120.2deg,#00dee1 126.6deg,#00d07d 135.4deg,#00b234 144.3deg,#00af2d 145.3deg,#6dcf06 154.2deg,#6dcf06 155.9deg,#00af2d 157.6deg,#00d07d 159.7deg,#00dee1 161.6deg,#1e96fa 164.9deg,#2763f5 167.7deg,#285ef5 187.6deg,#1e96fa 191.8deg,#00dee1 196.2deg,#00d07d 200.7deg,#00b234 205.1deg,#00af2d 205.3deg,#7dd400 207.1deg,#ffec00 209.2deg,#ff9600 211.6deg,#f87300 212.9deg,#f56800 238.8deg,#f87300 261.6deg,#ff9600 264.6deg,#ffec00 270.2deg,#7dd400 278deg,#08b12a 284.7deg,#00af2d 285deg,#00d07d 291deg,#00d8b9 294.3deg,#00dee1 307.5deg,#00d07d 310.8deg,#00b234 314.2deg,#00af2d 314.4deg,#7dd400 316.1deg,#ffec00 318deg,#ff9600 320.3deg,#f97900 321.2deg,#f97900 328.6deg,#ff9600 329.6deg,#ffec00 331.8deg,#7dd400 333.6deg,#00af2d 335.3deg,#00b234 335.5deg,#00d07d 343.9deg,#00d07e 344deg,#00d28e 359.4deg,#00d392 360deg)"></i>
<i style="inset:92.5px;background:conic-gradient(from 90deg,#00d395 0deg,#00dee1 10.8deg,#00dee1 16.2deg,#1e96fa 19.6deg,#2a54f4 23.5deg,#3640e8 26deg,#2a54f4 33.7deg,#2283f8 42.3deg,#1e96fa 42.7deg,#00dee1 43.9deg,#00d07d 45deg,#00b234 46.1deg,#00af2d 46.2deg,#7dd400 47.3deg,#ffec00 48.4deg,#ff9600 49.8deg,#f87300 50.5deg,#f56800 72deg,#f87300 97.6deg,#ff9600 100.4deg,#ffec00 105.5deg,#7dd400 109.4deg,#00af2d 113deg,#00b234 113.3deg,#00d07d 119.9deg,#00dee1 126.5deg,#00d07d 135.2deg,#00b234 144deg,#00af2d 145deg,#6ccf06 153.9deg,#6ccf06 155.6deg,#00af2d 157.3deg,#00d07d 159.5deg,#00dee1 161.5deg,#1e96fa 164.6deg,#285ef5 167.6deg,#295af5 187.2deg,#1e96fa 191.6deg,#00dee1 195.9deg,#00d07d 200.1deg,#00b234 204.4deg,#00af2d 204.6deg,#7dd400 206.4deg,#ffec00 208.5deg,#ff9600 210.9deg,#f87300 212.2deg,#f56800 238.1deg,#f87300 260.8deg,#ff9600 263.7deg,#ffec00 269.2deg,#7dd400 276.6deg,#06b12b 283deg,#00af2d 283.3deg,#00d07d 289.1deg,#00d9bc 292.4deg,#00dee1 306.2deg,#00d07d 309.6deg,#00b234 313.1deg,#00af2d 313.2deg,#7dd400 315deg,#ffec00 316.9deg,#ff9600 319.3deg,#f97800 320.3deg,#f97800 327.7deg,#ff9600 328.7deg,#ffec00 330.9deg,#7dd400 332.8deg,#00af2d 334.5deg,#00b234 334.6deg,#00d07d 343deg,#00d07f 343.2deg,#00d28e 359deg,#00d395 360deg)"></i>
<i style="inset:94.5px;background:conic-gradient(from 90deg,#00d498 0deg,#00dee1 10.1deg,#00dee1 15.3deg,#1e96fa 18.6deg,#2a54f4 22.4deg,#3740e8 24.9deg,#2a54f4 32.6deg,#2283f8 41.2deg,#1e96fa 41.5deg,#00dee1 42.7deg,#00d07d 43.8deg,#00b234 45deg,#00af2d 45.1deg,#7dd400 46.1deg,#ffec00 47.2deg,#ff9600 48.6deg,#f87300 49.3deg,#f56800 71.1deg,#f87300 97.2deg,#ff9600 99.9deg,#ffec00 105.1deg,#7dd400 109deg,#00af2d 112.5deg,#00b234 112.9deg,#00d07d 119.6deg,#00dee1 126.3deg,#00d07d 135deg,#00b234 143.7deg,#00af2d 144.8deg,#6bcf06 153.6deg,#6bcf06 155.3deg,#00af2d 157deg,#00d07d 159.3deg,#00dee1 161.3deg,#1e96fa 164.4deg,#2959f4 167.5deg,#2a55f4 186.9deg,#1e96fa 191.5deg,#00dee1 195.6deg,#00d07d 199.6deg,#00b234 203.7deg,#00af2d 203.9deg,#7dd400 205.7deg,#ffec00 207.8deg,#ff9600 210.2deg,#f87300 211.4deg,#f56800 237.4deg,#f87300 260.1deg,#ff9600 262.9deg,#ffec00 268.2deg,#7dd400 275.2deg,#05b02b 281.4deg,#00af2d 281.6deg,#00d07d 287.2deg,#00d9bf 290.5deg,#00dee1 304.9deg,#00d07d 308.4deg,#00b234 311.9deg,#00af2d 312.1deg,#7dd400 313.9deg,#ffec00 315.9deg,#ff9600 318.2deg,#f97800 319.3deg,#f97800 326.8deg,#ff9600 327.8deg,#ffec00 330.1deg,#7dd400 331.9deg,#00af2d 333.6deg,#00b234 333.8deg,#00d07d 342.1deg,#00d080 342.4deg,#00d28e 358.5deg,#00d498 360deg)"></i>
<i style="inset:96.5px;background:conic-gradient(from 90deg,#00d49c 0deg,#00dee1 9.3deg,#00dee1 14.4deg,#1e96fa 17.6deg,#2a54f4 21.4deg,#373fe8 23.8deg,#2a54f4 31.6deg,#2283f8 40deg,#1e96fa 40.3deg,#00dee1 41.5deg,#00d07d 42.6deg,#00b234 43.8deg,#00af2d 43.9deg,#7dd400 44.9deg,#ffec00 46deg,#ff9600 47.3deg,#f87300 48deg,#f56800 70.2deg,#f87300 96.7deg,#ff9600 99.5deg,#ffec00 104.6deg,#7dd400 108.5deg,#00af2d 112.1deg,#00b234 112.4deg,#00d07d 119.3deg,#00dee1 126.1deg,#00d07d 134.8deg,#00b234 143.4deg,#00af2d 144.5deg,#6ace07 153.3deg,#6ace07 155.1deg,#00af2d 156.8deg,#00d07d 159.1deg,#00dee1 161.3deg,#1e96fa 164.2deg,#2a54f4 167.5deg,#2a54f4 170deg,#2b52f3 186.7deg,#2a54f4 186.9deg,#1e96fa 191.3deg,#00dee1 195.2deg,#00d07d 199.1deg,#00b234 203deg,#00af2d 203.2deg,#7dd400 205.1deg,#ffec00 207.1deg,#ff9600 209.5deg,#f87300 210.7deg,#f56800 236.7deg,#f87300 259.3deg,#ff9600 262deg,#ffec00 267.1deg,#7dd400 273.8deg,#03b02c 279.7deg,#00af2d 279.8deg,#00d07d 285.2deg,#00dac2 288.6deg,#00dee1 303.5deg,#00d07d 307.1deg,#00b234 310.8deg,#00af2d 311deg,#7dd400 312.8deg,#ffec00 314.8deg,#ff9600 317.2deg,#f87800 318.3deg,#f87800 326deg,#ff9600 327deg,#ffec00 329.2deg,#7dd400 331.1deg,#00af2d 332.8deg,#00b234 333deg,#00d07d 341.3deg,#00d181 341.6deg,#00d28e 358.1deg,#00d49c 360deg)"></i>
<i style="inset:98.5px;background:conic-gradient(from 90deg,#00d59f 0deg,#00dee1 8.6deg,#00dee1 13.4deg,#1e96fa 16.6deg,#2a54f4 20.3deg,#373fe8 22.7deg,#2a54f4 30.5deg,#2283f8 38.7deg,#1e96fa 39.1deg,#00dee1 40.3deg,#00d07d 41.4deg,#00b234 42.5deg,#00af2d 42.6deg,#7dd400 43.7deg,#ffec00 44.8deg,#ff9600 46.1deg,#f87300 46.8deg,#f56800 69.2deg,#f87300 96.3deg,#ff9600 99deg,#ffec00 104.2deg,#7dd400 108.1deg,#00af2d 111.6deg,#00b234 112deg,#00d07d 119deg,#00dee1 126deg,#00d07d 134.5deg,#00b234 143.1deg,#00af2d 144.2deg,#69ce07 153deg,#69ce07 154.9deg,#00af2d 156.6deg,#00d07d 159deg,#00dee1 161.2deg,#1e96fa 164deg,#2a54f4 167.3deg,#2b52f3 167.5deg,#2c50f2 186.5deg,#2a54f4 187deg,#1e96fa 191.2deg,#00dee1 194.9deg,#00d07d 198.7deg,#00b234 202.4deg,#00af2d 202.6deg,#7dd400 204.4deg,#ffec00 206.4deg,#ff9600 208.8deg,#f87300 210deg,#f56800 236.1deg,#f87300 258.6deg,#ff9600 261.2deg,#ffec00 266.1deg,#7dd400 272.3deg,#02b02c 277.9deg,#00af2d 278deg,#00d07d 283.2deg,#00dac5 286.6deg,#00dee1 302.1deg,#00d07d 305.9deg,#00b234 309.6deg,#00af2d 309.8deg,#7dd400 311.7deg,#ffec00 313.8deg,#ff9600 316.2deg,#f87700 317.4deg,#f87700 325.1deg,#ff9600 326.1deg,#ffec00 328.4deg,#7dd400 330.3deg,#00af2d 332deg,#00b234 332.2deg,#00d07d 340.4deg,#00d182 340.8deg,#00d28e 357.8deg,#00d59f 360deg)"></i>
<i style="inset:100.5px;background:conic-gradient(from 90deg,#00d5a3 0deg,#00dee1 7.8deg,#00dee1 12.5deg,#1e96fa 15.7deg,#2a54f4 19.2deg,#373fe8 21.6deg,#2a54f4 29.4deg,#2283f8 37.5deg,#1e96fa 37.9deg,#00dee1 39deg,#00d07d 40.2deg,#00b234 41.3deg,#00af2d 41.4deg,#7dd400 42.4deg,#ffec00 43.5deg,#ff9600 44.8deg,#f87300 45.5deg,#f56800 68.3deg,#f87300 95.8deg,#ff9600 98.5deg,#ffec00 103.7deg,#7dd400 107.6deg,#00af2d 111.2deg,#00b234 111.5deg,#00d07d 118.7deg,#00dee1 125.9deg,#00d07d 134.3deg,#00b234 142.8deg,#00af2d 143.9deg,#68ce08 152.7deg,#68ce08 154.7deg,#00af2d 156.5deg,#00d07d 159deg,#00dee1 161.2deg,#1e96fa 164deg,#2a54f4 167.1deg,#2d50f1 167.5deg,#2e4ef1 186.3deg,#2a54f4 187deg,#1e96fa 191.1deg,#00dee1 194.6deg,#00d07d 198.2deg,#00b234 201.8deg,#00af2d 201.9deg,#7dd400 203.7deg,#ffec00 205.7deg,#ff9600 208.1deg,#f87300 209.3deg,#f56800 235.4deg,#f87300 257.8deg,#ff9600 260.3deg,#ffec00 265deg,#7dd400 270.9deg,#00af2d 276.2deg,#00af2d 276.2deg,#00d07d 281.2deg,#00dac8 284.6deg,#00dee1 300.7deg,#00d07d 304.6deg,#00b234 308.4deg,#00af2d 308.6deg,#7dd400 310.6deg,#ffec00 312.7deg,#ff9600 315.2deg,#f87700 316.4deg,#f87700 324.2deg,#ff9600 325.3deg,#ffec00 327.6deg,#7dd400 329.5deg,#00af2d 331.2deg,#00b234 331.4deg,#00d07d 339.5deg,#00d184 340.1deg,#00d28e 357.4deg,#00d5a3 360deg)"></i>
<i style="inset:102.5px;background:conic-gradient(from 90deg,#00d6a6 0deg,#00dee1 7.1deg,#00dee1 11.6deg,#1e96fa 14.7deg,#2a54f4 18.1deg,#373ee7 20.5deg,#2a54f4 28.2deg,#2283f8 36.2deg,#1e96fa 36.6deg,#00dee1 37.7deg,#00d07d 38.9deg,#00b234 40deg,#00af2d 40.1deg,#7dd400 41.1deg,#ffec00 42.2deg,#ff9600 43.5deg,#f87300 44.2deg,#f56800 67.4deg,#f87300 95.4deg,#ff9600 98.1deg,#ffec00 103.3deg,#7dd400 107.2deg,#00af2d 110.7deg,#00b234 111.1deg,#00d07d 118.4deg,#00dee1 125.7deg,#00d07d 134.1deg,#00b234 142.5deg,#00af2d 143.6deg,#67cd08 152.4deg,#67cd08 154.5deg,#00af2d 156.4deg,#00d07d 158.9deg,#00dee1 161.3deg,#1e96fa 164deg,#2a54f4 167deg,#2e4df0 167.7deg,#2f4cef 186.1deg,#2a54f4 187.1deg,#1e96fa 190.9deg,#00dee1 194.3deg,#00d07d 197.7deg,#00b234 201.1deg,#00af2d 201.3deg,#7dd400 203.1deg,#ffec00 205.1deg,#ff9600 207.4deg,#f87300 208.7deg,#f56800 234.7deg,#f87300 257.1deg,#ff9600 259.5deg,#ffec00 264deg,#7dd400 269.4deg,#00af2d 274.3deg,#00af2e 274.4deg,#00d07d 279.2deg,#00dbcb 282.6deg,#00dee1 299.3deg,#00d07d 303.3deg,#00b234 307.3deg,#00af2d 307.5deg,#7dd400 309.4deg,#ffec00 311.6deg,#ff9600 314.2deg,#f87600 315.4deg,#f87600 323.4deg,#ff9600 324.4deg,#ffec00 326.7deg,#7dd400 328.7deg,#00af2d 330.4deg,#00b234 330.6deg,#00d07d 338.7deg,#00d185 339.3deg,#00d28e 357deg,#00d6a6 360deg)"></i>
<i style="inset:104.5px;background:conic-gradient(from 90deg,#00d6aa 0deg,#00dee1 6.4deg,#00dee1 10.7deg,#1e96fa 13.7deg,#2a54f4 17deg,#383ee7 19.4deg,#2a54f4 27.1deg,#2283f8 34.9deg,#1e96fa 35.3deg,#00dee1 36.5deg,#00d07d 37.6deg,#00b234 38.8deg,#00af2d 38.9deg,#7dd400 39.9deg,#ffec00 41deg,#ff9600 42.2deg,#f87300 42.9deg,#f56800 66.4deg,#f87300 94.9deg,#ff9600 97.6deg,#ffec00 102.8deg,#7dd400 106.8deg,#00af2d 110.3deg,#00b234 110.7deg,#00d07d 118.1deg,#00dee1 125.6deg,#00d07d 133.9deg,#00b234 142.2deg,#00af2d 143.3deg,#66cd08 152.1deg,#66cd08 154.4deg,#00af2d 156.3deg,#00d07d 158.9deg,#00dee1 161.4deg,#1e96fa 164deg,#2a54f4 167deg,#304bef 167.8deg,#304aee 186deg,#2a54f4 187.2deg,#1e96fa 190.8deg,#00dee1 194.1deg,#00d07d 197.3deg,#00b234 200.5deg,#00af2d 200.7deg,#7dd400 202.5deg,#ffec00 204.5deg,#ff9600 206.8deg,#f87300 208deg,#f56800 234.1deg,#f87300 256.4deg,#ff9600 258.6deg,#ffec00 262.9deg,#7dd400 267.9deg,#00af2d 272.5deg,#00b02f 272.6deg,#00d07d 277.1deg,#00dbce 280.5deg,#00dee1 297.9deg,#00d07d 302deg,#00b234 306.1deg,#00af2d 306.3deg,#7dd400 308.3deg,#ffec00 310.5deg,#ff9600 313.2deg,#f87600 314.4deg,#f87600 322.5deg,#ff9600 323.6deg,#ffec00 325.9deg,#7dd400 327.9deg,#00af2d 329.6deg,#00b234 329.8deg,#00d07d 337.8deg,#00d186 338.6deg,#00d28e 356.7deg,#00d6aa 360deg)"></i>
<i style="inset:106.5px;background:conic-gradient(from 90deg,#00d7ae 0deg,#00dee1 5.7deg,#00dee1 9.8deg,#1e96fa 12.7deg,#2a54f4 16deg,#383ee7 18.3deg,#2a54f4 25.9deg,#2283f8 33.6deg,#1e96fa 34deg,#00dee1 35.1deg,#00d07d 36.3deg,#00b234 37.5deg,#00af2d 37.6deg,#7dd400 38.6deg,#ffec00 39.6deg,#ff9600 40.9deg,#f87300 41.6deg,#f56800 65.4deg,#f87300 94.5deg,#ff9600 97.2deg,#ffec00 102.4deg,#7dd400 106.3deg,#00af2d 109.9deg,#00b234 110.3deg,#00d07d 117.9deg,#00dee1 125.5deg,#00d07d 133.7deg,#00b234 141.8deg,#00af2d 143deg,#65cd09 151.8deg,#65cd09 154.2deg,#00af2d 156.2deg,#00d07d 159deg,#00dee1 161.5deg,#1e96fa 164.1deg,#2a54f4 167deg,#3149ed 168deg,#3248ed 185.9deg,#2a54f4 187.3deg,#1e96fa 190.7deg,#00dee1 193.8deg,#00d07d 196.9deg,#00b234 199.9deg,#00af2d 200.1deg,#7dd400 201.9deg,#ffec00 203.8deg,#ff9600 206.1deg,#f87300 207.4deg,#f56800 233.4deg,#f87300 255.7deg,#ff9600 257.8deg,#ffec00 261.9deg,#7dd400 266.4deg,#00af2d 270.6deg,#00b030 270.7deg,#00d07d 275deg,#00dcd1 278.4deg,#00dee1 296.4deg,#00d07d 300.6deg,#00b234 304.9deg,#00af2d 305.1deg,#7dd400 307.1deg,#ffec00 309.4deg,#ff9600 312.1deg,#f87500 313.4deg,#f87500 321.6deg,#ff9600 322.8deg,#ffec00 325.1deg,#7dd400 327.1deg,#00af2d 328.8deg,#00b234 329deg,#00d07d 337deg,#00d187 337.8deg,#00d28e 356.4deg,#00d7ae 360deg)"></i>
<i style="inset:108.5px;background:conic-gradient(from 90deg,#00d7b2 0deg,#00dee1 5deg,#00dee1 9deg,#1e96fa 11.7deg,#2a54f4 14.9deg,#383de7 17.1deg,#2a54f4 24.8deg,#2283f8 32.3deg,#1e96fa 32.7deg,#00dee1 33.8deg,#00d07d 35deg,#00b234 36.2deg,#00af2d 36.3deg,#7dd400 37.2deg,#ffec00 38.3deg,#ff9600 39.6deg,#f87300 40.3deg,#f56800 64.5deg,#f87300 94deg,#ff9600 96.7deg,#ffec00 101.9deg,#7dd400 105.9deg,#00af2d 109.5deg,#00b234 109.8deg,#00d07d 117.6deg,#00dee1 125.4deg,#00d07d 133.4deg,#00b234 141.5deg,#00af2d 142.7deg,#64cd09 151.5deg,#64cd09 154.1deg,#00af2d 156.2deg,#00d07d 159deg,#00dee1 161.7deg,#1e96fa 164.2deg,#2a54f4 167deg,#3346ec 168.3deg,#3346ec 185.8deg,#2a54f4 187.4deg,#1e96fa 190.7deg,#00dee1 193.6deg,#00d07d 196.5deg,#00b234 199.4deg,#00af2d 199.6deg,#7dd400 201.3deg,#ffec00 203.2deg,#ff9600 205.5deg,#f87300 206.7deg,#f56800 232.8deg,#f87300 255deg,#ff9600 257deg,#ffec00 260.8deg,#7dd400 264.9deg,#00af2d 268.7deg,#00b030 268.8deg,#00d07d 272.9deg,#00dcd4 276.2deg,#00dee1 294.9deg,#00d07d 299.3deg,#00b234 303.6deg,#00af2d 303.9deg,#7dd400 306deg,#ffec00 308.3deg,#ff9600 311.1deg,#f87500 312.5deg,#f87500 320.8deg,#ff9600 322deg,#ffec00 324.3deg,#7dd400 326.3deg,#00af2d 328.1deg,#00b234 328.3deg,#00d07d 336.2deg,#00d288 337.1deg,#00d28e 356.1deg,#00d7b2 360deg)"></i>
<i style="inset:110.5px;background:conic-gradient(from 90deg,#00d8b7 0deg,#00dee1 4.3deg,#00dee1 8.1deg,#1e96fa 10.7deg,#2a54f4 13.8deg,#383de7 16deg,#2a54f4 23.6deg,#2283f8 30.9deg,#1e96fa 31.3deg,#00dee1 32.5deg,#00d07d 33.6deg,#00b234 34.8deg,#00af2d 34.9deg,#7dd400 35.9deg,#ffec00 37deg,#ff9600 38.2deg,#f87300 38.9deg,#f56800 63.5deg,#f87300 93.6deg,#ff9600 96.3deg,#ffec00 101.5deg,#7dd400 105.5deg,#00af2d 109deg,#00b234 109.4deg,#00d07d 117.3deg,#00dee1 125.3deg,#00d07d 133.2deg,#00b234 141.2deg,#00af2d 142.3deg,#63cc0a 151.1deg,#63cc0a 154.1deg,#00af2d 156.1deg,#00d07d 159.2deg,#00dee1 161.9deg,#1e96fa 164.4deg,#2a54f4 167.1deg,#3444eb 168.6deg,#3444ea 185.8deg,#2a54f4 187.5deg,#1e96fa 190.6deg,#00dee1 193.3deg,#00d07d 196.1deg,#00b234 198.8deg,#00af2d 199deg,#7dd400 200.7deg,#ffec00 202.6deg,#ff9600 204.9deg,#f87300 206.1deg,#f56800 232.1deg,#f87300 254.3deg,#ff9600 256.2deg,#ffec00 259.7deg,#7dd400 263.4deg,#00af2d 266.7deg,#00b131 266.9deg,#00d07d 270.7deg,#00ddd7 274deg,#00dee1 293.4deg,#00d07d 297.9deg,#00b234 302.4deg,#00af2d 302.6deg,#7dd400 304.8deg,#ffec00 307.2deg,#ff9600 310deg,#f87500 311.5deg,#f87500 319.9deg,#ff9600 321.1deg,#ffec00 323.5deg,#7dd400 325.5deg,#00af2d 327.3deg,#00b234 327.5deg,#00d07d 335.4deg,#00d28a 336.4deg,#00d28e 355.8deg,#00d8b7 360deg)"></i>
<i style="inset:112.5px;background:conic-gradient(from 90deg,#00d9bb 0deg,#00dee1 3.6deg,#00dee1 7.2deg,#1e96fa 9.8deg,#2a54f4 12.7deg,#383de6 14.9deg,#2a54f4 22.4deg,#2283f8 29.5deg,#1e96fa 29.9deg,#00dee1 31.1deg,#00d07d 32.3deg,#00b234 33.5deg,#00af2d 33.6deg,#7dd400 34.5deg,#ffec00 35.6deg,#ff9600 36.9deg,#f87300 37.5deg,#f56800 62.5deg,#f87300 93.1deg,#ff9600 95.9deg,#ffec00 101.1deg,#7dd400 105deg,#00af2d 108.6deg,#00b234 109deg,#00d07d 117.1deg,#00dee1 125.2deg,#00d07d 133deg,#00b234 140.8deg,#00af2d 142deg,#62cc0a 150.8deg,#62cc0a 154deg,#00af2d 156.2deg,#00d07d 159.3deg,#00dee1 162.1deg,#1e96fa 164.6deg,#2a54f4 167.3deg,#3542e9 168.9deg,#3641e9 185.8deg,#2a54f4 187.6deg,#1e96fa 190.5deg,#00dee1 193.1deg,#00d07d 195.7deg,#00b234 198.3deg,#00af2d 198.5deg,#7dd400 200.2deg,#ffec00 202.1deg,#ff9600 204.3deg,#f87300 205.5deg,#f56800 231.5deg,#f87300 253.6deg,#ff9600 255.4deg,#ffec00 258.7deg,#7dd400 261.9deg,#00af2d 264.8deg,#00b132 265deg,#00d07d 268.6deg,#00ddda 271.8deg,#00dee1 291.9deg,#00d07d 296.5deg,#00b234 301.2deg,#00af2d 301.4deg,#7dd400 303.6deg,#ffec00 306.1deg,#ff9600 309deg,#f87400 310.5deg,#f87400 319.1deg,#ff9600 320.3deg,#ffec00 322.7deg,#7dd400 324.8deg,#00af2d 326.6deg,#00b234 326.8deg,#00d07d 334.6deg,#00d28b 335.7deg,#00d28e 355.6deg,#00d9bb 360deg)"></i>
<i style="inset:114.5px;background:conic-gradient(from 90deg,#00d9c1 0deg,#00dee1 3deg,#00dee1 6.3deg,#1e96fa 8.8deg,#2a54f4 11.6deg,#393ce6 13.7deg,#2a54f4 21.1deg,#2283f8 28.1deg,#1e96fa 28.5deg,#00dee1 29.7deg,#00d07d 30.9deg,#00b234 32.1deg,#00af2d 32.2deg,#7dd400 33.2deg,#ffec00 34.2deg,#ff9600 35.5deg,#f87300 36.1deg,#f56800 61.5deg,#f87300 92.7deg,#ff9600 95.4deg,#ffec00 100.6deg,#7dd400 104.6deg,#00af2d 108.2deg,#00b234 108.6deg,#00d07d 116.9deg,#00dee1 125.1deg,#00d07d 132.8deg,#00b234 140.5deg,#00af2d 141.7deg,#60cc0a 150.5deg,#60cc0a 154deg,#00af2d 156.2deg,#00d07d 159.5deg,#00dee1 162.5deg,#1e96fa 164.8deg,#2a54f4 167.5deg,#373fe8 169.3deg,#373fe8 185.9deg,#2a54f4 187.7deg,#1e96fa 190.5deg,#00dee1 192.9deg,#00d07d 195.3deg,#00b234 197.8deg,#00af2d 197.9deg,#7dd400 199.6deg,#ffec00 201.5deg,#ff9600 203.7deg,#f87300 204.9deg,#f56800 230.9deg,#f87300 253deg,#ff9600 254.6deg,#ffec00 257.6deg,#7dd400 260.3deg,#00af2d 262.8deg,#00b133 263deg,#00d07d 266.4deg,#00dddd 269.5deg,#00dee1 290.4deg,#00d07d 295.1deg,#00b234 299.9deg,#00af2d 300.1deg,#7dd400 302.4deg,#ffec00 305deg,#ff9600 307.9deg,#f87400 309.5deg,#f87400 318.3deg,#ff9600 319.5deg,#ffec00 322deg,#7dd400 324deg,#00af2d 325.9deg,#00b234 326.1deg,#00d07d 333.9deg,#00d28c 335deg,#00d28e 355.3deg,#00d9c1 360deg)"></i>
<i style="inset:116.5px;background:conic-gradient(from 90deg,#00dac6 0deg,#00dee1 2.3deg,#00dee1 5.4deg,#1e96fa 7.8deg,#2a54f4 10.5deg,#393ce6 12.6deg,#2a54f4 19.9deg,#2283f8 26.7deg,#1e96fa 27.1deg,#00dee1 28.3deg,#00d07d 29.5deg,#00b234 30.7deg,#00af2d 30.8deg,#7dd400 31.8deg,#ffec00 32.8deg,#ff9600 34.1deg,#f87300 34.7deg,#f56800 60.5deg,#f87300 92.2deg,#ff9600 95deg,#ffec00 100.2deg,#7dd400 104.2deg,#00af2d 107.8deg,#00b234 108.2deg,#00d07d 116.6deg,#00dee1 125deg,#00d07d 132.6deg,#00b234 140.2deg,#00af2d 141.4deg,#5fcb0b 150.2deg,#5fcb0b 154deg,#00af2d 156.3deg,#00d07d 159.7deg,#00dee1 162.8deg,#1e96fa 165.2deg,#2a54f4 167.8deg,#383de7 169.8deg,#383de7 185.9deg,#2a54f4 187.8deg,#1e96fa 190.4deg,#00dee1 192.7deg,#00d07d 195deg,#00b234 197.2deg,#00af2d 197.4deg,#7dd400 199.1deg,#ffec00 200.9deg,#ff9600 203.1deg,#f87300 204.3deg,#f56800 230.3deg,#f87300 252.3deg,#ff9600 253.8deg,#ffec00 256.5deg,#7dd400 258.8deg,#00af2d 260.8deg,#00b234 261deg,#00d07d 264.1deg,#00dee0 267.2deg,#00dee1 288.8deg,#00d07d 293.7deg,#00b234 298.6deg,#00af2d 298.9deg,#7dd400 301.2deg,#ffec00 303.8deg,#ff9600 306.9deg,#f87300 308.5deg,#f87300 317.4deg,#ff9600 318.7deg,#ffec00 321.2deg,#7dd400 323.3deg,#00af2d 325.2deg,#00b234 325.4deg,#00d07d 333.1deg,#00d28d 334.3deg,#00d28e 355.1deg,#00dac6 360deg)"></i>
<i style="inset:118.5px;background:conic-gradient(from 90deg,#00dbcd 0deg,#00dee1 1.7deg,#00dee1 4.6deg,#1e96fa 6.9deg,#2a54f4 9.4deg,#393ce6 11.4deg,#2a54f4 18.7deg,#2283f8 25.4deg,#1e96fa 25.8deg,#00dee1 27deg,#00d07d 28.2deg,#00b234 29.4deg,#00af2d 29.5deg,#7dd400 30.4deg,#ffec00 31.5deg,#ff9600 32.7deg,#f87300 33.4deg,#f56800 59.5deg,#f87300 91.8deg,#ff9600 94.5deg,#ffec00 99.8deg,#7dd400 103.8deg,#00af2d 107.4deg,#00b234 107.8deg,#00d07d 116.3deg,#00dee1 124.8deg,#00d07d 132.3deg,#00b234 139.8deg,#00af2d 141deg,#5fcb0b 149.8deg,#5fcb0b 153.8deg,#00af2d 156.2deg,#00d07d 159.7deg,#00dee1 162.8deg,#1e96fa 165.2deg,#2a54f4 167.8deg,#393ce6 169.8deg,#393ce6 185.8deg,#2a54f4 187.7deg,#1e96fa 190.2deg,#00dee1 192.4deg,#00d07d 194.6deg,#00b234 196.8deg,#00af2d 196.9deg,#7dd400 198.6deg,#ffec00 200.4deg,#ff9600 202.6deg,#f87300 203.7deg,#f56800 229.7deg,#f87300 251.7deg,#ff9600 253deg,#ffec00 255.5deg,#7dd400 257.4deg,#00af2d 259.2deg,#00b234 259.4deg,#00d07d 262.4deg,#00dee1 265.4deg,#00dee1 287.4deg,#00d07d 292.4deg,#00b234 297.4deg,#00af2d 297.6deg,#7dd400 300deg,#ffec00 302.7deg,#ff9600 305.8deg,#f87300 307.5deg,#f87300 316.6deg,#ff9600 317.9deg,#ffec00 320.4deg,#7dd400 322.5deg,#00af2d 324.4deg,#00b234 324.6deg,#00d07d 332.4deg,#00d28e 333.7deg,#00d28e 354.8deg,#00dbcd 360deg)"></i>
<i style="inset:120.5px;background:conic-gradient(from 90deg,#00dcd4 0deg,#00dee1 1deg,#00dee1 3.7deg,#1e96fa 5.9deg,#2a54f4 8.4deg,#393ce6 10.3deg,#2a54f4 17.5deg,#2283f8 24.2deg,#1e96fa 24.6deg,#00dee1 25.8deg,#00d07d 27deg,#00b234 28.2deg,#00af2d 28.3deg,#7dd400 29.2deg,#ffec00 30.3deg,#ff9600 31.5deg,#f87300 32.2deg,#f56800 58.5deg,#f87300 91.3deg,#ff9600 94.1deg,#ffec00 99.4deg,#7dd400 103.4deg,#00af2d 107deg,#00b234 107.4deg,#00d07d 116deg,#00dee1 124.6deg,#00d07d 132deg,#00b234 139.5deg,#00af2d 140.7deg,#5fcb0b 149.5deg,#5fcb0b 153.6deg,#00af2d 155.9deg,#00d07d 159.4deg,#00dee1 162.6deg,#1e96fa 164.9deg,#2a54f4 167.5deg,#393ce6 169.6deg,#393ce6 185.6deg,#2a54f4 187.4deg,#1e96fa 189.8deg,#00dee1 192deg,#00d07d 194.1deg,#00b234 196.3deg,#00af2d 196.4deg,#7dd400 198.1deg,#ffec00 199.9deg,#ff9600 202deg,#f87300 203.1deg,#f56800 229.1deg,#f87300 251deg,#ff9600 252.2deg,#ffec00 254.4deg,#7dd400 256.3deg,#00af2d 258deg,#00b234 258.2deg,#00d07d 261.2deg,#00dee1 264.2deg,#00dee1 286.2deg,#00d07d 291.2deg,#00b234 296.2deg,#00af2d 296.5deg,#7dd400 298.9deg,#ffec00 301.6deg,#ff9600 304.8deg,#f87300 306.5deg,#f87300 315.8deg,#ff9600 317.1deg,#ffec00 319.6deg,#7dd400 321.8deg,#00af2d 323.7deg,#00b234 323.9deg,#00d07d 331.7deg,#00d28e 333deg,#00d28e 354.6deg,#00dcd4 360deg)"></i>
<i style="inset:122.5px;background:conic-gradient(from 90deg,#00dddc 0deg,#00dee1 0.4deg,#00dee1 2.8deg,#1e96fa 4.9deg,#2a54f4 7.3deg,#393ce6 9.1deg,#2a54f4 16.3deg,#2283f8 23deg,#1e96fa 23.4deg,#00dee1 24.6deg,#00d07d 25.8deg,#00b234 27deg,#00af2d 27.1deg,#7dd400 28deg,#ffec00 29.1deg,#ff9600 30.3deg,#f87300 31deg,#f56800 57.5deg,#f87300 90.9deg,#ff9600 93.7deg,#ffec00 98.9deg,#7dd400 103deg,#00af2d 106.6deg,#00b234 107deg,#00d07d 115.6deg,#00dee1 124.2deg,#00d07d 131.7deg,#00b234 139.1deg,#00af2d 140.3deg,#5fcb0b 149.2deg,#5fcb0b 153.2deg,#00af2d 155.6deg,#00d07d 159.1deg,#00dee1 162.2deg,#1e96fa 164.6deg,#2a54f4 167.2deg,#393ce6 169.2deg,#393ce6 185.2deg,#2a54f4 187.1deg,#1e96fa 189.5deg,#00dee1 191.6deg,#00d07d 193.7deg,#00b234 195.8deg,#00af2d 195.9deg,#7dd400 197.5deg,#ffec00 199.3deg,#ff9600 201.4deg,#f87300 202.6deg,#f56800 228.5deg,#f87300 250.4deg,#ff9600 251.4deg,#ffec00 253.3deg,#7dd400 255.2deg,#00af2d 256.8deg,#00b234 257deg,#00d07d 260deg,#00dee1 263deg,#00dee1 285deg,#00d07d 290deg,#00b234 295deg,#00af2d 295.3deg,#7dd400 297.8deg,#ffec00 300.5deg,#ff9600 303.8deg,#f87300 305.5deg,#f87300 314.9deg,#ff9600 316.3deg,#ffec00 318.9deg,#7dd400 321.1deg,#00af2d 323deg,#00b234 323.2deg,#00d07d 331deg,#00d28e 332.3deg,#00d28e 354.2deg,#00dddc 360deg)"></i>
<i style="inset:124.5px;background:conic-gradient(from 90deg,#00dee1 0deg,#00dee1 2deg,#1e96fa 4deg,#2a54f4 6.2deg,#393ce6 8deg,#2a54f4 15.2deg,#2283f8 21.8deg,#1e96fa 22.2deg,#00dee1 23.4deg,#00d07d 24.6deg,#00b234 25.8deg,#00af2d 25.9deg,#7dd400 26.8deg,#ffec00 27.9deg,#ff9600 29.1deg,#f87300 29.8deg,#f56800 56.5deg,#f87300 90.5deg,#ff9600 93.2deg,#ffec00 98.5deg,#7dd400 102.6deg,#00af2d 106.2deg,#00b234 106.6deg,#00d07d 115.3deg,#00dee1 124deg,#00d07d 131.4deg,#00b234 138.8deg,#00af2d 140deg,#5fcb0b 148.8deg,#5fcb0b 153deg,#00af2d 155.3deg,#00d07d 158.8deg,#00dee1 162deg,#1e96fa 164.3deg,#2a54f4 166.9deg,#393ce6 169deg,#393ce6 185deg,#2a54f4 186.7deg,#1e96fa 189.1deg,#00dee1 191.1deg,#00d07d 193.2deg,#00b234 195.3deg,#00af2d 195.4deg,#7dd400 197deg,#ffec00 198.8deg,#ff9600 200.9deg,#f87300 202deg,#f56800 227.9deg,#f87300 249.7deg,#ff9600 250.6deg,#ffec00 252.3deg,#7dd400 254deg,#00af2d 255.6deg,#00b234 255.8deg,#00d07d 258.8deg,#00dee1 261.8deg,#00dee1 283.8deg,#00d07d 288.8deg,#00b234 293.8deg,#00af2d 294.1deg,#7dd400 296.6deg,#ffec00 299.4deg,#ff9600 302.8deg,#f87300 304.5deg,#f87300 314.1deg,#ff9600 315.5deg,#ffec00 318.1deg,#7dd400 320.3deg,#00af2d 322.3deg,#00b234 322.5deg,#00d07d 330.4deg,#00d28e 331.7deg,#00d28e 354deg,#00dee1 359.7deg,#00dee1 360deg)"></i>
<i style="inset:126.5px;background:conic-gradient(from 90deg,#00dee1 0deg,#00dee1 1.1deg,#1e96fa 3deg,#2a54f4 5.2deg,#393ce6 6.8deg,#2a54f4 14deg,#2283f8 20.6deg,#1e96fa 21deg,#00dee1 22.2deg,#00d07d 23.4deg,#00b234 24.6deg,#00af2d 24.7deg,#7dd400 25.6deg,#ffec00 26.7deg,#ff9600 27.9deg,#f87300 28.6deg,#f56800 55.4deg,#f87300 90deg,#ff9600 92.8deg,#ffec00 98.1deg,#7dd400 102.1deg,#00af2d 105.8deg,#00b234 106.2deg,#00d07d 114.9deg,#00dee1 123.6deg,#00d07d 131deg,#00b234 138.4deg,#00af2d 139.7deg,#5fcb0b 148.5deg,#5fcb0b 152.6deg,#00af2d 155deg,#00d07d 158.5deg,#00dee1 161.6deg,#1e96fa 164deg,#2a54f4 166.6deg,#393ce6 168.6deg,#393ce6 184.6deg,#2a54f4 186.4deg,#1e96fa 188.7deg,#00dee1 190.7deg,#00d07d 192.8deg,#00b234 194.8deg,#00af2d 194.9deg,#7dd400 196.5deg,#ffec00 198.3deg,#ff9600 200.3deg,#f87300 201.4deg,#f56800 227.3deg,#f87300 249.1deg,#ff9600 249.8deg,#ffec00 251.2deg,#7dd400 252.9deg,#00af2d 254.4deg,#00b234 254.6deg,#00d07d 257.6deg,#00dee1 260.6deg,#00dee1 282.6deg,#00d07d 287.6deg,#00b234 292.6deg,#00af2d 292.9deg,#7dd400 295.5deg,#ffec00 298.3deg,#ff9600 301.7deg,#f87300 303.5deg,#f87300 313.3deg,#ff9600 314.7deg,#ffec00 317.3deg,#7dd400 319.6deg,#00af2d 321.6deg,#00b234 321.8deg,#00d07d 329.7deg,#00d28e 331deg,#00d28e 353.6deg,#00dee1 359.1deg,#00dee1 360deg)"></i>
<i style="inset:128.5px;background:conic-gradient(from 90deg,#00dee1 0deg,#00dee1 0.2deg,#1e96fa 2deg,#2a54f4 4.1deg,#393ce6 5.7deg,#2a54f4 12.8deg,#2283f8 19.4deg,#1e96fa 19.8deg,#00dee1 21deg,#00d07d 22.2deg,#00b234 23.4deg,#00af2d 23.5deg,#7dd400 24.4deg,#ffec00 25.5deg,#ff9600 26.7deg,#f87300 27.4deg,#f56800 54.4deg,#f87300 89.6deg,#ff9600 92.4deg,#ffec00 97.7deg,#7dd400 101.7deg,#00af2d 105.4deg,#00b234 105.8deg,#00d07d 114.6deg,#00dee1 123.4deg,#00d07d 130.7deg,#00b234 138.1deg,#00af2d 139.3deg,#5fcb0b 148.2deg,#5fcb0b 152.4deg,#00af2d 154.7deg,#00d07d 158.2deg,#00dee1 161.4deg,#1e96fa 163.7deg,#2a54f4 166.3deg,#393ce6 168.4deg,#393ce6 184.4deg,#2a54f4 186.1deg,#1e96fa 188.3deg,#00dee1 190.3deg,#00d07d 192.3deg,#00b234 194.3deg,#00af2d 194.4deg,#7dd400 196deg,#ffec00 197.7deg,#ff9600 199.8deg,#f87300 200.8deg,#f56800 226.7deg,#f87300 248.5deg,#ff9600 249deg,#ffec00 250.1deg,#7dd400 251.8deg,#00af2d 253.2deg,#00b234 253.4deg,#00d07d 256.4deg,#00dee1 259.4deg,#00dee1 281.4deg,#00d07d 286.4deg,#00b234 291.4deg,#00af2d 291.7deg,#7dd400 294.3deg,#ffec00 297.2deg,#ff9600 300.7deg,#f87300 302.5deg,#f87300 312.4deg,#ff9600 313.9deg,#ffec00 316.6deg,#7dd400 318.8deg,#00af2d 320.9deg,#00b234 321.1deg,#00d07d 329deg,#00d28e 330.3deg,#00d28e 353.4deg,#00dee1 358.5deg,#00dee1 360deg)"></i>
<i style="inset:130.5px;background:conic-gradient(from 90deg,#0bc3ea 0deg,#1e96fa 1.1deg,#2a54f4 3deg,#393ce6 4.5deg,#2a54f4 11.6deg,#2283f8 18.2deg,#1e96fa 18.6deg,#00dee1 19.8deg,#00d07d 21deg,#00b234 22.2deg,#00af2d 22.3deg,#7dd400 23.2deg,#ffec00 24.3deg,#ff9600 25.5deg,#f87300 26.2deg,#f56800 53.4deg,#f87300 89.1deg,#ff9600 91.9deg,#ffec00 97.2deg,#7dd400 101.3deg,#00af2d 105deg,#00b234 105.4deg,#00d07d 114.2deg,#00dee1 123deg,#00d07d 130.4deg,#00b234 137.8deg,#00af2d 139deg,#5fcb0b 147.9deg,#5fcb0b 152deg,#00af2d 154.4deg,#00d07d 157.9deg,#00dee1 161deg,#1e96fa 163.4deg,#2a54f4 166deg,#393ce6 168deg,#393ce6 184deg,#2a54f4 185.7deg,#1e96fa 187.9deg,#00dee1 189.9deg,#00d07d 191.8deg,#00b234 193.8deg,#00af2d 193.9deg,#7dd400 195.5deg,#ffec00 197.2deg,#ff9600 199.2deg,#f87300 200.3deg,#f56800 226.1deg,#f87300 247.8deg,#ff9600 248.2deg,#ffec00 249deg,#7dd400 250.6deg,#00af2d 252.1deg,#00b234 252.2deg,#00d07d 255.2deg,#00dee1 258.2deg,#00dee1 280.2deg,#00d07d 285.2deg,#00b234 290.2deg,#00af2d 290.5deg,#7dd400 293.2deg,#ffec00 296.1deg,#ff9600 299.7deg,#f87300 301.5deg,#f87300 311.6deg,#ff9600 313deg,#ffec00 315.8deg,#7dd400 318.1deg,#00af2d 320.2deg,#00b234 320.4deg,#00d07d 328.3deg,#00d28e 329.7deg,#00d28e 353deg,#00dee1 357.8deg,#00dee1 359.4deg,#0bc3ea 360deg)"></i>
<i style="inset:132.5px;background:conic-gradient(from 90deg,#1c9bf8 0deg,#1e96fa 0.1deg,#2a54f4 1.9deg,#393ce6 3.3deg,#2a54f4 10.4deg,#2283f8 17deg,#1e96fa 17.4deg,#00dee1 18.6deg,#00d07d 19.8deg,#00b234 21deg,#00af2d 21.1deg,#7dd400 22deg,#ffec00 23.1deg,#ff9600 24.3deg,#f87300 25deg,#f56800 52.4deg,#f87300 88.7deg,#ff9600 91.5deg,#ffec00 96.8deg,#7dd400 100.9deg,#00af2d 104.6deg,#00b234 105deg,#00d07d 113.9deg,#00dee1 122.8deg,#00d07d 130.1deg,#00b234 137.4deg,#00af2d 138.6deg,#5fcb0b 147.5deg,#5fcb0b 151.8deg,#00af2d 154.1deg,#00d07d 157.6deg,#00dee1 160.8deg,#1e96fa 163.1deg,#2a54f4 165.7deg,#393ce6 167.8deg,#393ce6 183.8deg,#2a54f4 185.4deg,#1e96fa 187.6deg,#00dee1 189.5deg,#00d07d 191.4deg,#00b234 193.3deg,#00af2d 193.4deg,#7dd400 195deg,#ffec00 196.6deg,#ff9600 198.6deg,#f87300 199.7deg,#f56800 225.5deg,#f87300 247.2deg,#ff9600 247.4deg,#ffec00 248deg,#7dd400 249.5deg,#00af2d 250.9deg,#00b234 251deg,#00d07d 254deg,#00dee1 257deg,#00dee1 279deg,#00d07d 284deg,#00b234 289deg,#00af2d 289.3deg,#7dd400 292deg,#ffec00 295deg,#ff9600 298.6deg,#f87300 300.5deg,#f87300 310.8deg,#ff9600 312.2deg,#ffec00 315deg,#7dd400 317.4deg,#00af2d 319.5deg,#00b234 319.7deg,#00d07d 327.7deg,#00d28e 329deg,#00d28e 352.8deg,#00dee1 357.2deg,#00dee1 358.5deg,#1c9bf8 360deg)"></i>
<i style="inset:134.5px;background:conic-gradient(from 90deg,#2475f7 0deg,#2a54f4 0.9deg,#393ce6 2.2deg,#2a54f4 9.3deg,#2283f8 15.8deg,#1e96fa 16.2deg,#00dee1 17.4deg,#00d07d 18.6deg,#00b234 19.8deg,#00af2d 19.9deg,#7dd400 20.8deg,#ffec00 21.9deg,#ff9600 23.1deg,#f87300 23.8deg,#f56800 51.4deg,#f87300 88.2deg,#ff9600 91deg,#ffec00 96.4deg,#7dd400 100.5deg,#00af2d 104.2deg,#00b234 104.6deg,#00d07d 113.5deg,#00dee1 122.4deg,#00d07d 129.8deg,#00b234 137.1deg,#00af2d 138.3deg,#5fcb0b 147.2deg,#5fcb0b 151.4deg,#00af2d 153.8deg,#00d07d 157.3deg,#00dee1 160.4deg,#1e96fa 162.8deg,#2a54f4 165.4deg,#393ce6 167.4deg,#393ce6 183.4deg,#2a54f4 185.1deg,#1e96fa 187.2deg,#00dee1 189.1deg,#00d07d 190.9deg,#00b234 192.8deg,#00af2d 193deg,#7dd400 194.5deg,#ffec00 196.1deg,#ff9600 198.1deg,#f87300 199.1deg,#f56800 224.9deg,#f87300 246.5deg,#ff9600 246.7deg,#ffec00 246.9deg,#7dd400 248.3deg,#00af2d 249.7deg,#00b234 249.8deg,#00d07d 252.8deg,#00dee1 255.8deg,#00dee1 277.8deg,#00d07d 282.8deg,#00b234 287.8deg,#00af2d 288.1deg,#7dd400 290.9deg,#ffec00 294deg,#ff9600 297.6deg,#f87300 299.5deg,#f87300 309.9deg,#ff9600 311.4deg,#ffec00 314.3deg,#7dd400 316.6deg,#00af2d 318.8deg,#00b234 319deg,#00d07d 327deg,#00d28e 328.3deg,#00d28e 352.4deg,#00dee1 356.5deg,#00dee1 357.6deg,#1e96fa 359.1deg,#2475f7 360deg)"></i>
<i style="inset:136.5px;background:conic-gradient(from 90deg,#2c50f2 0deg,#393ce6 1deg,#2a54f4 8.1deg,#2283f8 14.6deg,#1e96fa 15deg,#00dee1 16.2deg,#00d07d 17.4deg,#00b234 18.6deg,#00af2d 18.7deg,#7dd400 19.6deg,#ffec00 20.7deg,#ff9600 21.9deg,#f87300 22.6deg,#f56800 50.4deg,#f87300 87.8deg,#ff9600 90.6deg,#ffec00 95.9deg,#7dd400 100.1deg,#00af2d 103.8deg,#00b234 104.2deg,#00d07d 113.2deg,#00dee1 122.2deg,#00d07d 129.4deg,#00b234 136.7deg,#00af2d 137.9deg,#5fcb0b 146.9deg,#5fcb0b 151.2deg,#00af2d 153.5deg,#00d07d 157deg,#00dee1 160.2deg,#1e96fa 162.5deg,#2a54f4 165.1deg,#393ce6 167.2deg,#393ce6 183.2deg,#2a54f4 184.7deg,#1e96fa 186.8deg,#00dee1 188.6deg,#00d07d 190.5deg,#00b234 192.3deg,#00af2d 192.5deg,#7dd400 193.9deg,#ffec00 195.6deg,#ff9600 197.5deg,#f87300 198.5deg,#f56800 224.3deg,#ff9600 233deg,#ffec00 245.8deg,#ff9600 245.9deg,#f87300 245.9deg,#ff9600 246.3deg,#ffec00 247.2deg,#7dd400 247.9deg,#00af2d 248.5deg,#00b234 248.6deg,#00d07d 251.6deg,#00dee1 254.6deg,#00dee1 276.6deg,#00d07d 281.6deg,#00b234 286.6deg,#00af2d 286.9deg,#7dd400 289.7deg,#ffec00 292.9deg,#ff9600 296.6deg,#f87300 298.5deg,#f87300 309.1deg,#ff9600 310.6deg,#ffec00 313.5deg,#7dd400 315.9deg,#00af2d 318.1deg,#00b234 318.3deg,#00d07d 326.3deg,#00d28e 327.7deg,#00d28e 352.2deg,#00dee1 355.9deg,#00dee1 356.7deg,#1e96fa 358.2deg,#2a54f4 359.8deg,#2c50f2 360deg)"></i>
<i style="inset:138.5px;background:conic-gradient(from 90deg,#393ce6 0deg,#2a54f4 6.9deg,#2283f8 13.4deg,#1e96fa 13.8deg,#00dee1 15deg,#00d07d 16.2deg,#00b234 17.4deg,#00af2d 17.5deg,#7dd400 18.4deg,#ffec00 19.5deg,#ff9600 20.7deg,#f87300 21.4deg,#f56800 49.4deg,#f87300 87.4deg,#ff9600 90.2deg,#ffec00 95.5deg,#7dd400 99.7deg,#00af2d 103.4deg,#00b234 103.8deg,#00d07d 112.8deg,#00dee1 121.8deg,#00d07d 129.1deg,#00b234 136.4deg,#00af2d 137.6deg,#5fcb0b 146.5deg,#5fcb0b 150.8deg,#00af2d 153.2deg,#00d07d 156.7deg,#00dee1 159.8deg,#1e96fa 162.2deg,#2a54f4 164.8deg,#393ce6 166.8deg,#393ce6 182.8deg,#2a54f4 184.4deg,#1e96fa 186.4deg,#00dee1 188.2deg,#00d07d 190deg,#00b234 191.8deg,#00af2d 192deg,#7dd400 193.4deg,#ffec00 195deg,#ff9600 196.9deg,#f87300 197.9deg,#f56800 223.7deg,#ff9600 232.3deg,#ffec00 244.8deg,#ff9600 245.1deg,#f87300 245.2deg,#ff9600 245.6deg,#ffec00 246.3deg,#7dd400 246.8deg,#00af2d 247.3deg,#00b234 247.4deg,#00d07d 250.4deg,#00dee1 253.4deg,#00dee1 275.4deg,#00d07d 280.4deg,#00b234 285.4deg,#00af2d 285.7deg,#7dd400 288.6deg,#ffec00 291.8deg,#ff9600 295.5deg,#f87300 297.5deg,#f87300 308.3deg,#ff9600 309.8deg,#ffec00 312.7deg,#7dd400 315.2deg,#00af2d 317.4deg,#00b234 317.6deg,#00d07d 325.7deg,#00d28e 327deg,#00d28e 351.8deg,#00dee1 355.2deg,#00dee1 355.9deg,#1e96fa 357.2deg,#2a54f4 358.7deg,#393ce6 359.9deg,#393ce6 360deg)"></i>
<i style="inset:140.5px;background:conic-gradient(from 90deg,#3640e9 0deg,#2a54f4 5.7deg,#2283f8 12.2deg,#1e96fa 12.6deg,#00dee1 13.8deg,#00d07d 15deg,#00b234 16.2deg,#00af2d 16.3deg,#7dd400 17.2deg,#ffec00 18.3deg,#ff9600 19.5deg,#f87300 20.2deg,#f56800 48.4deg,#f87300 86.9deg,#ff9600 89.7deg,#ffec00 95.1deg,#7dd400 99.3deg,#00af2d 103deg,#00b234 103.4deg,#00d07d 112.5deg,#00dee1 121.6deg,#00d07d 128.8deg,#00b234 136deg,#00af2d 137.3deg,#5fcb0b 146.2deg,#5fcb0b 150.6deg,#00af2d 152.9deg,#00d07d 156.4deg,#00dee1 159.6deg,#1e96fa 161.9deg,#2a54f4 164.5deg,#393ce6 166.6deg,#393ce6 182.6deg,#2a54f4 184.1deg,#1e96fa 186.1deg,#00dee1 187.8deg,#00d07d 189.6deg,#00b234 191.3deg,#00af2d 191.5deg,#7dd400 192.9deg,#ffec00 194.5deg,#ff9600 196.4deg,#f87300 197.4deg,#f56800 223.1deg,#ff9600 231.5deg,#ffec00 243.7deg,#ff9600 244.3deg,#f87300 244.6deg,#ff9600 244.9deg,#ffec00 245.4deg,#7dd400 245.8deg,#00af2d 246.2deg,#00b234 246.2deg,#00d07d 249.2deg,#00dee1 252.2deg,#00dee1 274.2deg,#00d07d 279.2deg,#00b234 284.2deg,#00af2d 284.5deg,#7dd400 287.4deg,#ffec00 290.7deg,#ff9600 294.5deg,#f87300 296.5deg,#f87300 307.4deg,#ff9600 309deg,#ffec00 311.9deg,#7dd400 314.4deg,#00af2d 316.7deg,#00b234 316.9deg,#00d07d 325deg,#00d28e 326.3deg,#00d28e 351.6deg,#00dee1 354.6deg,#00dee1 355deg,#1e96fa 356.2deg,#2a54f4 357.7deg,#393ce6 358.7deg,#3640e9 360deg)"></i>
<i style="inset:142.5px;background:conic-gradient(from 90deg,#3444eb 0deg,#2a54f4 4.6deg,#2283f8 11deg,#1e96fa 11.4deg,#00dee1 12.6deg,#00d07d 13.8deg,#00b234 15deg,#00af2d 15.1deg,#7dd400 16deg,#ffec00 17.1deg,#ff9600 18.3deg,#f87300 19deg,#f56800 47.4deg,#f87300 86.5deg,#ff9600 89.3deg,#ffec00 94.7deg,#7dd400 98.9deg,#00af2d 102.6deg,#00b234 103deg,#00d07d 112.1deg,#00dee1 121.2deg,#00d07d 128.5deg,#00b234 135.7deg,#00af2d 136.9deg,#5fcb0b 145.9deg,#5fcb0b 150.2deg,#00af2d 152.6deg,#00d07d 156.1deg,#00dee1 159.2deg,#1e96fa 161.6deg,#2a54f4 164.2deg,#393ce6 166.2deg,#393ce6 182.2deg,#2a54f4 183.7deg,#1e96fa 185.7deg,#00dee1 187.4deg,#00d07d 189.1deg,#00b234 190.8deg,#00af2d 191deg,#7dd400 192.4deg,#ffec00 194deg,#ff9600 195.8deg,#f87300 196.8deg,#f56800 222.5deg,#ff9600 230.7deg,#ffec00 242.6deg,#ff9600 243.5deg,#f87300 243.9deg,#ff9600 244.1deg,#ffec00 244.4deg,#7dd400 244.7deg,#00af2d 245deg,#00b234 245deg,#00d07d 248deg,#00dee1 251deg,#00dee1 273deg,#00d07d 278deg,#00b234 283deg,#00af2d 283.3deg,#7dd400 286.3deg,#ffec00 289.6deg,#ff9600 293.5deg,#f87300 295.5deg,#f87300 306.6deg,#ff9600 308.2deg,#ffec00 311.2deg,#7dd400 313.7deg,#00af2d 316deg,#00b234 316.2deg,#00d07d 324.3deg,#00d28e 325.7deg,#00d28e 351.2deg,#00dee1 353.9deg,#00dee1 354.1deg,#1e96fa 355.3deg,#2a54f4 356.6deg,#393ce6 357.6deg,#3444eb 360deg)"></i>
<i style="inset:144.5px;background:conic-gradient(from 90deg,#3148ed 0deg,#2a54f4 3.4deg,#2283f8 9.8deg,#1e96fa 10.2deg,#00dee1 11.4deg,#00d07d 12.6deg,#00b234 13.8deg,#00af2d 13.9deg,#7dd400 14.8deg,#ffec00 15.9deg,#ff9600 17.1deg,#f87300 17.8deg,#f56800 46.3deg,#f87300 86deg,#ff9600 88.9deg,#ffec00 94.2deg,#7dd400 98.4deg,#00af2d 102.2deg,#00b234 102.6deg,#00d07d 111.8deg,#00dee1 121deg,#00d07d 128.1deg,#00b234 135.3deg,#00af2d 136.6deg,#5fcb0b 145.6deg,#5fcb0b 150deg,#00af2d 152.3deg,#00d07d 155.8deg,#00dee1 159deg,#1e96fa 161.3deg,#2a54f4 163.9deg,#393ce6 166deg,#393ce6 182deg,#2a54f4 183.4deg,#1e96fa 185.3deg,#00dee1 187deg,#00d07d 188.7deg,#00b234 190.3deg,#00af2d 190.5deg,#7dd400 191.9deg,#ffec00 193.4deg,#ff9600 195.2deg,#f87300 196.2deg,#f56800 221.9deg,#ff9600 229.9deg,#ffec00 241.5deg,#ff9600 242.7deg,#f87300 243.3deg,#ff9600 243.4deg,#ffec00 243.5deg,#7dd400 243.7deg,#00af2d 243.8deg,#00b234 243.8deg,#00d07d 246.8deg,#00dee1 249.8deg,#00dee1 271.8deg,#00d07d 276.8deg,#00b234 281.8deg,#00af2d 282.1deg,#7dd400 285.1deg,#ffec00 288.5deg,#ff9600 292.5deg,#f87300 294.6deg,#f87300 305.8deg,#ff9600 307.4deg,#ffec00 310.4deg,#7dd400 312.9deg,#00af2d 315.3deg,#00b234 315.5deg,#00d07d 323.6deg,#00d28e 325deg,#00d28e 351deg,#00dee1 353.3deg,#00dee1 353.3deg,#1e96fa 354.3deg,#2a54f4 355.5deg,#393ce6 356.4deg,#3148ed 360deg)"></i>
<i style="inset:146.5px;background:conic-gradient(from 90deg,#2f4cf0 0deg,#2a54f4 2.2deg,#2283f8 8.6deg,#1e96fa 9deg,#00dee1 10.2deg,#00d07d 11.4deg,#00b234 12.6deg,#00af2d 12.7deg,#7dd400 13.6deg,#ffec00 14.7deg,#ff9600 15.9deg,#f87300 16.6deg,#f56800 45.3deg,#f87300 85.6deg,#ff9600 88.4deg,#ffec00 93.8deg,#7dd400 98deg,#00af2d 101.8deg,#00b234 102.2deg,#00d07d 111.4deg,#00dee1 120.6deg,#00d07d 127.8deg,#00b234 135deg,#00af2d 136.2deg,#5fcb0b 145.2deg,#5fcb0b 149.6deg,#00af2d 152deg,#00d07d 155.5deg,#00dee1 158.6deg,#1e96fa 161deg,#2a54f4 163.6deg,#393ce6 165.6deg,#393ce6 181.6deg,#2a54f4 183.1deg,#1e96fa 184.9deg,#00dee1 186.6deg,#00d07d 188.2deg,#00b234 189.8deg,#00af2d 190deg,#7dd400 191.4deg,#ffec00 192.9deg,#ff9600 194.7deg,#f87300 195.6deg,#f56800 221.3deg,#ff9600 229.1deg,#ffec00 240.5deg,#7dd400 241.5deg,#00af2d 242.5deg,#00b234 242.6deg,#00af2d 242.6deg,#7dd400 242.6deg,#ffec00 242.6deg,#ff9600 242.7deg,#f87300 242.7deg,#ff9600 243.3deg,#ffec00 244.6deg,#7dd400 245.6deg,#00af2d 246.5deg,#00d07d 247.6deg,#00dee1 248.6deg,#00dee1 270.6deg,#00d07d 275.6deg,#00b234 280.6deg,#00af2d 280.9deg,#7dd400 284deg,#ffec00 287.4deg,#ff9600 291.4deg,#f87300 293.6deg,#f87300 304.9deg,#ff9600 306.6deg,#ffec00 309.6deg,#7dd400 312.2deg,#00af2d 314.5deg,#00b234 314.8deg,#00d07d 323deg,#00d28e 324.3deg,#00d28e 350.6deg,#00dee1 352.4deg,#00dee1 352.7deg,#1e96fa 353.5deg,#2a54f4 354.5deg,#393ce6 355.3deg,#2f4cf0 360deg)"></i>
</div>
<div class="d" style="left:336.8px;top:67.8px;width:297.0px;height:297.0px">
<i style="inset:0.5px;background:conic-gradient(from 30deg,#1f90f9 0deg,#16aaf3 1deg,#0dbfec 2deg,#09c9e8 3deg,#09c9e8 4deg,#0ebded 5deg,#17a7f4 6deg,#208df9 7deg,#295cf5 9deg,#2e4df0 10deg,#383de7 12deg,#3a39d9 14deg,#3b38d2 16deg,#3c37cc 22deg,#3b38d1 34deg,#3a39d7 37deg,#393be3 40deg,#2b52f3 45deg,#256df6 47deg,#1b9df7 50deg,#04d4e4 53deg,#00ddd9 54deg,#00d8b7 56deg,#00d7ac 57deg,#00d5a1 59deg,#00d5a2 60deg,#00d7b0 62deg,#00d9bd 63deg,#00dde1 65deg,#1e96fa 69deg,#295bf5 73deg,#2c51f2 74deg,#383de7 78deg,#3b38d4 83deg,#3b37ce 88deg,#3c36c9 120deg,#0000 120deg)"></i>
<i style="inset:2.5px;background:conic-gradient(from 30deg,#19a2f6 0deg,#0cc0eb 1deg,#03d7e4 2deg,#00dddb 3deg,#00dddc 4deg,#04d4e4 5deg,#0ebced 6deg,#1b9ef7 7deg,#2766f6 9deg,#2c51f2 10deg,#373fe8 12deg,#3b38d2 16deg,#3c37cc 21deg,#3b38d1 34deg,#3b39d6 37deg,#393be1 40deg,#3445eb 43deg,#2957f4 46deg,#1f92fa 50deg,#03d6e4 54deg,#00ddda 55deg,#00d9bf 57deg,#00d8b4 59deg,#00d8ba 61deg,#00dac3 62deg,#00dee0 64deg,#0cc1eb 66deg,#1b9ef7 68deg,#208df9 69deg,#2a54f4 73deg,#393ce6 78deg,#3b39d6 82deg,#3b37cf 87deg,#3c36c9 120deg,#0000 120deg)"></i>
<i style="inset:4.5px;background:conic-gradient(from 30deg,#12b2f0 0deg,#05d3e5 1deg,#00dccf 2deg,#00d9be 3deg,#00d9bf 4deg,#00dcd3 5deg,#06cfe6 6deg,#208cf9 8deg,#2a54f4 10deg,#3641e9 12deg,#393ce4 13deg,#3b38d3 16deg,#3c37cd 21deg,#3b37cf 33deg,#3a3adb 39deg,#383ee7 42deg,#2c51f2 46deg,#295bf5 47deg,#1f93fa 51deg,#0cc1eb 54deg,#02d9e3 56deg,#00dddd 57deg,#00dcd2 59deg,#00dcd3 60deg,#00dee0 62deg,#08cbe8 64deg,#1f8ff9 68deg,#2958f4 72deg,#304bef 74deg,#383ee7 77deg,#3b39d5 82deg,#3b37cf 87deg,#3c36c9 120deg,#0000 120deg)"></i>
<i style="inset:6.5px;background:conic-gradient(from 30deg,#0dbfec 0deg,#00dede 1deg,#00d9bb 2deg,#00d6a9 3deg,#00d6aa 4deg,#00d9bf 5deg,#01dce2 6deg,#1e94fa 8deg,#295af5 10deg,#2f4cef 11deg,#393ce6 13deg,#3a39d8 15deg,#3b38d1 17deg,#3b37ce 20deg,#3b37cf 32deg,#3b39d6 38deg,#373fe8 43deg,#2b52f3 47deg,#295bf5 48deg,#1f8ef9 52deg,#0dbeec 56deg,#08cbe8 58deg,#07cde7 59deg,#08cae8 61deg,#0ebced 63deg,#1d98f9 66deg,#295af5 71deg,#2c51f2 72deg,#393ce5 77deg,#3b39d6 81deg,#3b37cf 87deg,#3c36c9 120deg,#0000 120deg)"></i>
<i style="inset:8.5px;background:conic-gradient(from 30deg,#0ac6e9 0deg,#00dcd3 1deg,#00d7b0 2deg,#00d59d 3deg,#00d59f 4deg,#00d8b4 5deg,#00ddd9 6deg,#0cc0eb 7deg,#1d9af9 8deg,#285ef5 10deg,#2e4df0 11deg,#3444eb 12deg,#383de7 13deg,#3a39d9 15deg,#3b38d2 17deg,#3b37ce 20deg,#3b37cf 32deg,#3b39d5 38deg,#393ce6 43deg,#2c51f2 48deg,#1f8ff9 54deg,#1aa0f6 56deg,#14aef2 59deg,#15abf3 61deg,#1a9ff7 63deg,#1e96fa 64deg,#2958f4 70deg,#2c51f2 71deg,#393ce6 76deg,#3a39d8 80deg,#3b37cf 86deg,#3c36c9 120deg,#0000 120deg)"></i>
<i style="inset:10.5px;background:conic-gradient(from 30deg,#09c8e9 0deg,#00dcd1 1deg,#00d7ae 2deg,#00d49c 3deg,#00d59e 4deg,#00d8b3 5deg,#00ddd8 6deg,#0cc2eb 7deg,#1c9bf8 8deg,#285ff5 10deg,#2e4ef0 11deg,#3445eb 12deg,#383ee7 13deg,#3a3ada 15deg,#3b38d3 17deg,#3b37ce 20deg,#3b37cf 32deg,#3b39d6 39deg,#393ce6 44deg,#2a54f4 50deg,#227ff8 55deg,#208af9 57deg,#1f8ff9 59deg,#208df9 61deg,#2185f8 63deg,#2477f7 65deg,#2a54f4 69deg,#393ce6 75deg,#3b39d6 80deg,#3b38d0 85deg,#3c36c9 120deg,#0000 120deg)"></i>
<i style="inset:12.5px;background:conic-gradient(from 30deg,#0bc4ea 0deg,#00ddd9 1deg,#00d8b8 2deg,#00d6a6 3deg,#00d6a8 4deg,#00d9bc 5deg,#00dedf 6deg,#0dbeec 7deg,#1d99f9 8deg,#285ff5 10deg,#2e4ef1 11deg,#3345eb 12deg,#383ee7 13deg,#3a3adb 15deg,#3b38d3 17deg,#3b37cf 20deg,#3b38d0 32deg,#3b39d5 39deg,#393ce6 45deg,#2a54f4 52deg,#256ef6 56deg,#2476f7 59deg,#2571f7 62deg,#2668f6 64deg,#2a54f4 67deg,#393ce6 74deg,#3b39d7 79deg,#3b38d0 85deg,#3c36c9 120deg,#0000 120deg)"></i>
<i style="inset:14.5px;background:conic-gradient(from 30deg,#0fbaed 0deg,#02d8e3 1deg,#00dbca 2deg,#00d9ba 3deg,#00d9bc 4deg,#00dbce 5deg,#04d4e5 6deg,#1f93fa 8deg,#285df5 10deg,#2e4ef0 11deg,#3345eb 12deg,#383ee7 13deg,#3a3adb 15deg,#3b38d4 17deg,#3b38d0 20deg,#3b38d0 32deg,#3b39d6 40deg,#393ce5 46deg,#2a54f4 55deg,#285df5 58deg,#285ff5 60deg,#2c52f3 65deg,#393be2 74deg,#3b39d6 79deg,#3b38d0 85deg,#3c36c9 120deg,#0000 120deg)"></i>
<i style="inset:16.5px;background:conic-gradient(from 30deg,#15acf2 0deg,#09c8e9 1deg,#01dce2 2deg,#00dcd6 3deg,#00ddd7 4deg,#02d9e3 5deg,#0bc3ea 6deg,#17a7f4 7deg,#208af9 8deg,#2959f4 10deg,#2f4cf0 11deg,#383ee7 13deg,#3a3adc 15deg,#3b38d2 18deg,#3b37cf 21deg,#3b38d2 36deg,#3a39d8 42deg,#393ce4 47deg,#2f4bef 55deg,#2d4ff1 60deg,#2f4cef 64deg,#393ce4 72deg,#3a39d8 77deg,#3b38d2 82deg,#3c36c9 120deg,#0000 120deg)"></i>
<i style="inset:18.5px;background:conic-gradient(from 30deg,#1c9bf8 0deg,#12b3f0 1deg,#0bc5ea 2deg,#07cee7 3deg,#07cde7 4deg,#0cc2eb 5deg,#14aff1 6deg,#1e96fa 7deg,#2a54f4 10deg,#383de7 13deg,#3a3adc 15deg,#3b38d3 18deg,#3b38d0 21deg,#3b38d2 35deg,#3a39d8 43deg,#393ce4 49deg,#3248ed 60deg,#393ce4 70deg,#3a39d8 76deg,#3b38d2 82deg,#3c36c9 120deg,#0000 120deg)"></i>
<i style="inset:20.5px;background:conic-gradient(from 30deg,#208af9 0deg,#15abf3 2deg,#12b3f0 3deg,#12b2f0 4deg,#16a9f3 5deg,#1d98f9 6deg,#285ff5 9deg,#2c50f2 10deg,#393de6 13deg,#3a39d8 16deg,#3b38d0 22deg,#3b38d3 37deg,#3a39d8 44deg,#393ce6 52deg,#3641e9 61deg,#393ce6 67deg,#3a39d9 74deg,#3b38d3 81deg,#3c36ca 120deg,#0000 120deg)"></i>
<i style="inset:22.5px;background:conic-gradient(from 30deg,#237af7 0deg,#1f92fa 2deg,#1d97fa 3deg,#1e97fa 4deg,#2185f8 6deg,#2a55f4 9deg,#2e4df0 10deg,#393ce6 13deg,#3a39d8 16deg,#3b38d1 22deg,#3b38d3 37deg,#3a39d8 45deg,#393ce6 56deg,#393de6 61deg,#3b38d3 81deg,#3c36ca 120deg,#0000 120deg)"></i>
<i style="inset:24.5px;background:conic-gradient(from 30deg,#266af6 0deg,#227df8 2deg,#2281f8 4deg,#2473f7 6deg,#2c50f2 9deg,#3444eb 11deg,#393ce4 13deg,#3b39d6 17deg,#3b38d1 23deg,#3b38d3 37deg,#393be2 60deg,#3b38d2 83deg,#3c36ca 120deg,#0000 120deg)"></i>
<i style="inset:26.5px;background:conic-gradient(from 30deg,#295af5 0deg,#266af6 2deg,#256df6 4deg,#2669f6 5deg,#2c51f2 8deg,#383ee7 12deg,#3a3adb 15deg,#3b39d5 18deg,#3b38d2 24deg,#3b38d4 36deg,#3a3ade 60deg,#3b38d1 86deg,#3c36ca 120deg,#0000 120deg)"></i>
<i style="inset:28.5px;background:conic-gradient(from 30deg,#2c51f2 0deg,#2959f4 2deg,#295cf5 4deg,#2a53f4 6deg,#393ce6 12deg,#3a39d8 16deg,#3b38d3 21deg,#3a3adc 60deg,#3b38d0 92deg,#3c36ca 120deg,#0000 120deg)"></i>
<i style="inset:30.5px;background:conic-gradient(from 30deg,#304bef 0deg,#2c50f2 4deg,#393ce4 12deg,#3a39d9 16deg,#3b38d4 21deg,#3a3ada 61deg,#3c36ca 120deg,#0000 120deg)"></i>
<i style="inset:32.5px;background:conic-gradient(from 30deg,#3346ec 0deg,#304bee 3deg,#3148ed 6deg,#393ce6 11deg,#3a39d9 16deg,#3b39d5 21deg,#3a39d9 62deg,#3c36ca 120deg,#0000 120deg)"></i>
<i style="inset:34.5px;background:conic-gradient(from 30deg,#3542ea 0deg,#3346ec 3deg,#3542ea 7deg,#393ce4 11deg,#3a39d9 16deg,#3b39d5 21deg,#3a39d9 62deg,#3c36ca 120deg,#0000 120deg)"></i>
<i style="inset:36.5px;background:conic-gradient(from 30deg,#373fe8 0deg,#3542e9 4deg,#383ee7 8deg,#3a3adb 15deg,#3b39d6 21deg,#3a39d9 63deg,#3c37cb 120deg,#0000 120deg)"></i>
<i style="inset:38.5px;background:conic-gradient(from 30deg,#393de6 0deg,#393ce6 8deg,#3a3adb 15deg,#3a39d7 21deg,#3a39d9 64deg,#3c37cb 120deg,#0000 120deg)"></i>
<i style="inset:40.5px;background:conic-gradient(from 30deg,#393ce4 0deg,#393ce6 6deg,#3a3adb 15deg,#3a39d8 21deg,#3a39d8 80deg,#3b38d1 92deg,#3c37cb 120deg,#0000 120deg)"></i>
<i style="inset:42.5px;background:conic-gradient(from 30deg,#393be2 0deg,#393ce4 5deg,#3a39d9 22deg,#3a39d9 80deg,#3b38d2 91deg,#3c37cb 120deg,#0000 120deg)"></i>
<i style="inset:44.5px;background:conic-gradient(from 30deg,#3a3be0 0deg,#393be2 6deg,#3a3ada 23deg,#3a3adb 80deg,#3b38d3 90deg,#3c37cb 120deg,#0000 120deg)"></i>
<i style="inset:46.5px;background:conic-gradient(from 30deg,#3a3bdf 0deg,#393be1 5deg,#3a3adc 21deg,#3a39d9 73deg,#3a3add 81deg,#3b38d3 90deg,#3c37cb 120deg,#0000 120deg)"></i>
<i style="inset:48.5px;background:conic-gradient(from 30deg,#3a3ade 0deg,#3a3be1 6deg,#3a3ada 73deg,#3a3bdf 81deg,#3b38d3 90deg,#3c37cc 120deg,#0000 120deg)"></i>
<i style="inset:50.5px;background:conic-gradient(from 30deg,#3a3ade 0deg,#3a3be0 7deg,#3a3adb 73deg,#393be2 81deg,#3b38d4 90deg,#3c37cc 120deg,#0000 120deg)"></i>
<i style="inset:52.5px;background:conic-gradient(from 30deg,#3a3ade 0deg,#3a3be1 9deg,#3a3adc 72deg,#393ce5 81deg,#3b38d4 90deg,#3c37cc 120deg,#0000 120deg)"></i>
<i style="inset:54.5px;background:conic-gradient(from 30deg,#3a3ade 0deg,#393be1 11deg,#3a3add 72deg,#383ee7 81deg,#393ce6 83deg,#3a39d7 88deg,#3b38d4 91deg,#3c37cc 120deg,#0000 120deg)"></i>
<i style="inset:56.5px;background:conic-gradient(from 30deg,#3a3bdf 0deg,#393be2 14deg,#3a3ade 72deg,#3641e9 81deg,#393ce6 84deg,#3a3adb 87deg,#3b39d5 91deg,#3c37cc 120deg,#0000 120deg)"></i>
<i style="inset:58.5px;background:conic-gradient(from 30deg,#3a3bdf 0deg,#393be3 16deg,#3a3bdf 71deg,#393ce6 76deg,#3345eb 81deg,#393ce6 85deg,#3a3ada 88deg,#3b39d5 91deg,#3c37cd 120deg,#0000 120deg)"></i>
<i style="inset:60.5px;background:conic-gradient(from 30deg,#3a3be0 0deg,#393ce5 17deg,#3a3be1 72deg,#393ce6 75deg,#3149ee 81deg,#393ce5 86deg,#3a39d9 89deg,#3b39d5 92deg,#3c37cd 120deg,#0000 120deg)"></i>
<i style="inset:62.5px;background:conic-gradient(from 30deg,#393be1 0deg,#393ce6 17deg,#393be3 72deg,#393ce6 74deg,#2f4bef 79deg,#2e4ef0 81deg,#393be3 87deg,#3a3adb 89deg,#3b39d6 92deg,#3b37cd 120deg,#0000 120deg)"></i>
<i style="inset:64.5px;background:conic-gradient(from 30deg,#393be2 0deg,#393de6 14deg,#393ce5 72deg,#373ee7 74deg,#2c50f2 79deg,#2a53f4 81deg,#2d4ff1 83deg,#393ce6 87deg,#3a3add 89deg,#3b38d4 95deg,#3b37cd 120deg,#0000 120deg)"></i>
<i style="inset:66.5px;background:conic-gradient(from 30deg,#393be3 0deg,#383de7 14deg,#393ce6 71deg,#3444eb 75deg,#285ef5 80deg,#285ff5 81deg,#2a55f4 83deg,#373fe8 87deg,#3a3bdf 89deg,#3a39d9 91deg,#3b39d5 95deg,#3b37cd 120deg,#0000 120deg)"></i>
<i style="inset:68.5px;background:conic-gradient(from 30deg,#393ce4 0deg,#383ee7 71deg,#3248ed 75deg,#2b52f3 77deg,#266cf6 80deg,#256ef6 81deg,#266af6 82deg,#2957f4 84deg,#3148ed 86deg,#393be2 89deg,#3a3adb 91deg,#3b39d5 95deg,#3b37ce 120deg,#0000 120deg)"></i>
<i style="inset:70.5px;background:conic-gradient(from 30deg,#393ce5 0deg,#3740e8 71deg,#3247ec 74deg,#2c51f2 76deg,#2473f7 79deg,#237bf8 80deg,#237df8 81deg,#2379f7 82deg,#2571f7 83deg,#2a55f4 85deg,#393ce6 89deg,#3a3ada 92deg,#3b39d6 95deg,#3b37ce 120deg,#0000 120deg)"></i>
<i style="inset:72.5px;background:conic-gradient(from 30deg,#393ce6 0deg,#3641e9 70deg,#3246ec 73deg,#2d50f2 75deg,#2959f4 76deg,#2282f8 79deg,#208bf9 80deg,#208df9 81deg,#208af9 82deg,#2280f8 83deg,#2b52f3 86deg,#3444eb 88deg,#393ce4 90deg,#3a3adc 92deg,#3b39d6 96deg,#3b37ce 120deg,#0000 120deg)"></i>
<i style="inset:74.5px;background:conic-gradient(from 30deg,#393de6 0deg,#3543ea 70deg,#304aee 73deg,#2a55f4 75deg,#1f92fa 79deg,#1b9df8 80deg,#1aa0f6 81deg,#1c9cf8 82deg,#1f91fa 83deg,#285df5 86deg,#2d50f1 87deg,#383de7 90deg,#3a3adb 93deg,#3b39d7 96deg,#3b37ce 120deg,#0000 120deg)"></i>
<i style="inset:76.5px;background:conic-gradient(from 30deg,#383de7 0deg,#3345eb 70deg,#304aee 72deg,#2b53f3 74deg,#2861f5 75deg,#1e95fa 78deg,#17a6f4 79deg,#12b2f0 80deg,#11b6ef 81deg,#12b2f0 82deg,#18a5f5 83deg,#1f92fa 84deg,#2a56f4 87deg,#3345eb 89deg,#393ce5 91deg,#3a3add 93deg,#3b39d7 97deg,#3b37cf 120deg,#0000 120deg)"></i>
<i style="inset:78.5px;background:conic-gradient(from 30deg,#383ee7 0deg,#3248ed 70deg,#2b52f3 73deg,#285cf5 74deg,#1f92fa 77deg,#0ebbed 79deg,#09c8e9 80deg,#07cde7 81deg,#09c8e9 82deg,#0fbbed 83deg,#1f8ff9 85deg,#2763f5 87deg,#2c52f3 88deg,#383ee7 91deg,#3a3adc 94deg,#3b39d7 98deg,#3b37cf 120deg,#0000 120deg)"></i>
<i style="inset:80.5px;background:conic-gradient(from 30deg,#383ee7 0deg,#3542e9 36deg,#304bef 70deg,#2c51f2 72deg,#2959f4 73deg,#2668f6 74deg,#208df9 76deg,#0ebced 78deg,#06d0e6 79deg,#00dee1 80deg,#00ddda 81deg,#00dee0 82deg,#05d1e6 83deg,#0ebced 84deg,#19a1f6 85deg,#2188f9 86deg,#295af5 88deg,#2e4ef1 89deg,#3641e9 91deg,#393be2 93deg,#3a39d8 98deg,#3b37cf 120deg,#0000 120deg)"></i>
<i style="inset:82.5px;background:conic-gradient(from 30deg,#373fe8 0deg,#3543ea 35deg,#304aee 66deg,#2e4ef1 70deg,#2957f4 72deg,#2473f7 74deg,#1b9cf8 76deg,#06d0e6 78deg,#00ddd7 79deg,#00dac4 80deg,#00d9bc 81deg,#00dac2 82deg,#00dcd5 83deg,#05d1e6 84deg,#1d97fa 86deg,#2767f6 88deg,#2b53f3 89deg,#373fe8 92deg,#3a3ade 95deg,#3a39d8 99deg,#3b37cf 120deg,#0000 120deg)"></i>
<i style="inset:84.5px;background:conic-gradient(from 30deg,#373fe8 0deg,#3444eb 34deg,#304aee 44deg,#2d4ff1 69deg,#2a56f4 71deg,#256ef6 73deg,#1e93fa 75deg,#08cae8 77deg,#00ddd9 78deg,#00d9bc 79deg,#00d6a8 80deg,#00d5a0 81deg,#00d6a5 82deg,#00d8b8 83deg,#00ddd6 84deg,#08cae8 85deg,#208df9 87deg,#285ef5 89deg,#2d4ff1 90deg,#383ee7 93deg,#3a3ade 96deg,#3a39d8 100deg,#3b38d0 120deg,#0000 120deg)"></i>
<i style="inset:86.5px;background:conic-gradient(from 30deg,#373fe8 0deg,#3445eb 33deg,#2e4df0 44deg,#2f4cef 53deg,#2b52f3 69deg,#2a57f4 70deg,#266bf6 72deg,#208cf9 74deg,#19a3f5 75deg,#01dce2 77deg,#00d5a2 79deg,#00d28d 80deg,#00d185 81deg,#00d28b 82deg,#00d59d 83deg,#00d9bb 84deg,#00dde1 85deg,#1b9cf8 87deg,#2281f8 88deg,#2a55f4 90deg,#3641e9 93deg,#393be3 95deg,#3a39d9 100deg,#3b38d0 120deg,#0000 120deg)"></i>
<i style="inset:88.5px;background:conic-gradient(from 30deg,#373fe8 0deg,#3346ec 33deg,#2c51f3 44deg,#2e4ef1 53deg,#2a54f4 68deg,#285ff5 70deg,#2668f6 71deg,#2185f8 73deg,#1d98f9 74deg,#06d0e6 76deg,#00dbcd 77deg,#00d6a8 78deg,#00d28b 79deg,#00ce78 80deg,#00cb72 81deg,#00cd76 82deg,#00d185 83deg,#00d5a2 84deg,#00dbc9 85deg,#06d0e6 86deg,#1f8ff9 88deg,#2860f5 90deg,#2c51f2 91deg,#3444eb 93deg,#393ce6 95deg,#3a3add 98deg,#3a39d8 102deg,#3b38d0 120deg,#0000 120deg)"></i>
<i style="inset:90.5px;background:conic-gradient(from 30deg,#3740e8 0deg,#3247ec 33deg,#2959f4 44deg,#2c51f2 52deg,#2a54f4 66deg,#295af5 68deg,#2667f6 70deg,#227ff8 72deg,#1f90f9 73deg,#17a7f4 74deg,#00dedf 76deg,#00d394 78deg,#00ce78 79deg,#00c86a 80deg,#00c563 81deg,#00c767 82deg,#00cc73 83deg,#00d28c 84deg,#00d7b1 85deg,#00dddd 86deg,#1b9ef7 88deg,#2283f8 89deg,#2958f4 91deg,#2e4ef0 92deg,#3542ea 94deg,#393ce6 96deg,#3a3ada 102deg,#3b38d1 120deg,#0000 120deg)"></i>
<i style="inset:92.5px;background:conic-gradient(from 30deg,#3740e8 0deg,#3149ed 33deg,#2a54f4 39deg,#2861f5 42deg,#2765f6 44deg,#2a54f4 52deg,#2958f4 65deg,#285df5 67deg,#2668f6 69deg,#237cf8 71deg,#1b9cf8 73deg,#06d1e6 75deg,#00dbcc 76deg,#00d182 78deg,#00c96c 79deg,#00c35e 80deg,#00c158 81deg,#00c25b 82deg,#00c766 83deg,#00cf7a 84deg,#00d59d 85deg,#00dac8 86deg,#06cfe6 87deg,#1f8ff9 89deg,#2762f5 91deg,#2b52f3 92deg,#3346ec 94deg,#393be2 98deg,#3a39d8 105deg,#3b38d1 120deg,#0000 120deg)"></i>
<i style="inset:94.5px;background:conic-gradient(from 30deg,#3740e8 0deg,#304aee 33deg,#2b53f3 37deg,#266af6 41deg,#2572f7 44deg,#2958f4 53deg,#285cf5 64deg,#2669f6 68deg,#2379f7 70deg,#1e94fa 72deg,#16a9f3 73deg,#00dde1 75deg,#00d496 77deg,#00cd77 78deg,#00c563 79deg,#00c055 80deg,#00bd4f 81deg,#00be52 82deg,#00c35d 83deg,#00ca6f 84deg,#00d28c 85deg,#00dde1 87deg,#1b9cf8 89deg,#256df6 91deg,#295af5 92deg,#3149ee 94deg,#393ce5 98deg,#3a3ada 105deg,#3b38d2 120deg,#0000 120deg)"></i>
<i style="inset:96.5px;background:conic-gradient(from 30deg,#3740e8 0deg,#304bef 32deg,#2a54f4 36deg,#2379f7 41deg,#2281f8 44deg,#237cf8 46deg,#2668f6 50deg,#285ff5 53deg,#285df5 57deg,#2860f5 63deg,#2767f6 66deg,#2570f7 68deg,#1f8ef9 71deg,#1a9ff7 72deg,#07cee7 74deg,#00dcd3 75deg,#00d28a 77deg,#00ca6f 78deg,#00c35d 79deg,#00bd50 80deg,#00bb4a 81deg,#00bc4c 82deg,#00c056 83deg,#00c767 84deg,#00d080 85deg,#00dcd1 87deg,#09cae8 88deg,#1f8ef9 90deg,#2764f5 92deg,#2a54f4 93deg,#3248ed 95deg,#393ce5 99deg,#3a3ada 106deg,#3b38d2 120deg,#0000 120deg)"></i>
<i style="inset:98.5px;background:conic-gradient(from 30deg,#3740e8 0deg,#3248ed 25deg,#2e4df0 32deg,#2a56f4 35deg,#2282f8 40deg,#1f91fa 43deg,#208bf9 46deg,#2572f7 50deg,#2765f6 53deg,#2861f5 57deg,#2765f6 63deg,#2571f7 67deg,#2280f8 69deg,#1d97f9 71deg,#16aaf3 72deg,#03d8e3 74deg,#00dac7 75deg,#00d182 77deg,#00c96b 78deg,#00c159 79deg,#00bc4d 80deg,#00ba48 81deg,#00bb4a 82deg,#00bf53 83deg,#00c563 84deg,#00ce78 85deg,#00d49b 86deg,#00dac3 87deg,#04d5e4 88deg,#1d99f9 90deg,#2282f8 91deg,#285df5 93deg,#2c51f2 94deg,#2f4cef 95deg,#393ce5 100deg,#3a3adb 107deg,#3b38d3 120deg,#0000 120deg)"></i>
<i style="inset:100.5px;background:conic-gradient(from 30deg,#3740e8 0deg,#3148ed 25deg,#2c50f2 32deg,#2958f4 34deg,#1b9cf8 41deg,#17a7f4 43deg,#19a3f6 45deg,#1e94fa 47deg,#2571f7 52deg,#2767f6 56deg,#2668f6 61deg,#256ff6 65deg,#227ff8 68deg,#1f93fa 70deg,#11b4ef 72deg,#00dede 74deg,#00d07d 77deg,#00c159 79deg,#00bd4e 80deg,#00bb49 81deg,#00bb4a 82deg,#00be53 83deg,#00c461 84deg,#00cd75 85deg,#00d393 86deg,#00dee0 88deg,#18a5f5 90deg,#208cf9 91deg,#2958f4 94deg,#2d50f1 95deg,#3543ea 98deg,#393ce6 101deg,#3a3adb 108deg,#3b38d4 120deg,#0000 120deg)"></i>
<i style="inset:102.5px;background:conic-gradient(from 30deg,#3740e8 0deg,#3149ee 25deg,#2a54f4 32deg,#266cf6 35deg,#1f90f9 38deg,#12b4f0 41deg,#0dbeec 43deg,#10b8ee 45deg,#1f91fa 49deg,#237af7 52deg,#266cf6 56deg,#266df6 61deg,#2476f7 65deg,#2187f9 68deg,#1c9cf8 70deg,#05d2e5 73deg,#00dcd4 74deg,#00cf7b 77deg,#00c25b 79deg,#00be51 80deg,#00bc4c 81deg,#00bc4d 82deg,#00bf54 83deg,#00c461 84deg,#00cc73 85deg,#00d28d 86deg,#00dcd4 88deg,#08cce7 89deg,#1e96fa 91deg,#2861f5 94deg,#2a54f4 95deg,#2e4ef1 96deg,#3543ea 99deg,#393ce6 102deg,#3a3adc 109deg,#3b39d5 120deg,#0000 120deg)"></i>
<i style="inset:104.5px;background:conic-gradient(from 30deg,#3740e8 0deg,#304aee 24deg,#2a55f4 31deg,#256ff6 34deg,#1e94fa 37deg,#0cc1eb 40deg,#05d3e5 42deg,#04d5e4 43deg,#04d4e5 44deg,#0ac6e9 46deg,#1e95fa 50deg,#2184f8 52deg,#2379f7 54deg,#2473f7 56deg,#2572f7 60deg,#237af7 64deg,#2088f9 67deg,#1c9af9 69deg,#10b7ef 71deg,#01dbe2 73deg,#00dbca 74deg,#00cf79 77deg,#00c25c 79deg,#00bd4f 81deg,#00bd50 82deg,#00c056 83deg,#00cb71 85deg,#00d288 86deg,#00dbca 88deg,#04d5e4 89deg,#19a2f6 91deg,#208df9 92deg,#237bf8 93deg,#285df5 95deg,#2b53f3 96deg,#3543ea 100deg,#393ce5 104deg,#3a3add 110deg,#3b39d6 120deg,#0000 120deg)"></i>
<i style="inset:106.5px;background:conic-gradient(from 30deg,#3740e8 0deg,#3149ee 22deg,#2b52f3 29deg,#2a56f4 30deg,#2766f6 32deg,#237cf8 34deg,#1d98f9 36deg,#0ebbed 38deg,#02dae3 40deg,#00ddd9 41deg,#00dccf 42deg,#00dbcc 43deg,#00dbcf 44deg,#01dbe2 46deg,#17a7f4 50deg,#1f91fa 52deg,#2184f8 54deg,#237df8 56deg,#237bf8 59deg,#227ff8 62deg,#2089f9 65deg,#1e95fa 67deg,#16a9f3 69deg,#03d6e4 72deg,#00dcd4 73deg,#00d289 76deg,#00cd75 77deg,#00c25b 79deg,#00bd50 81deg,#00c056 83deg,#00ca6f 85deg,#00d182 86deg,#00dedf 89deg,#1d98f9 92deg,#2668f6 95deg,#2b52f3 97deg,#3443ea 101deg,#393ce6 105deg,#3b39d7 120deg,#0000 120deg)"></i>
<i style="inset:108.5px;background:conic-gradient(from 30deg,#3640e8 0deg,#304aee 21deg,#2b53f4 28deg,#2668f6 31deg,#227ef8 33deg,#1c9bf8 35deg,#04d3e5 38deg,#00ddd9 39deg,#00d8b7 41deg,#00d7af 42deg,#00d7ac 43deg,#00d7af 44deg,#00d8b8 45deg,#00ddd7 47deg,#03d8e3 48deg,#18a4f5 52deg,#1c9af9 53deg,#1f8ff9 55deg,#2089f9 58deg,#1f8ef9 62deg,#1c9bf8 65deg,#11b5ef 68deg,#01dae2 71deg,#00dcd1 72deg,#00cf79 76deg,#00c055 79deg,#00bc4c 81deg,#00bf53 83deg,#00c86a 85deg,#00cf7a 86deg,#00d394 87deg,#00dcd0 89deg,#05d3e5 90deg,#1f91fa 93deg,#2765f6 96deg,#2b52f3 98deg,#3444eb 102deg,#383de6 106deg,#3a39d8 120deg,#0000 120deg)"></i>
<i style="inset:110.5px;background:conic-gradient(from 30deg,#3640e8 0deg,#304aee 20deg,#2a54f4 27deg,#2861f5 29deg,#2474f7 31deg,#1b9df7 34deg,#02d8e3 37deg,#00dcd0 38deg,#00d6a6 40deg,#00d498 41deg,#00d390 42deg,#00d28d 43deg,#00d390 44deg,#00d499 45deg,#00d8b6 47deg,#00dddb 49deg,#04d4e4 50deg,#12b3f0 53deg,#19a2f6 56deg,#1aa0f7 58deg,#19a2f6 60deg,#12b3f0 64deg,#0cc1eb 66deg,#00dee0 69deg,#00d9be 71deg,#00d184 74deg,#00c767 76deg,#00bb4a 79deg,#00b944 81deg,#00bc4c 83deg,#00c055 84deg,#00cb72 86deg,#00d186 87deg,#00dede 90deg,#1a9ff7 93deg,#208df9 94deg,#2764f5 97deg,#2b52f3 99deg,#3445eb 103deg,#393ce6 108deg,#3a3ada 120deg,#0000 120deg)"></i>
<i style="inset:112.5px;background:conic-gradient(from 30deg,#3641e9 0deg,#314aee 18deg,#2b52f3 25deg,#295cf5 27deg,#266cf6 29deg,#2281f8 31deg,#1a9ff7 33deg,#02dae2 36deg,#00dbcc 37deg,#00d49c 39deg,#00d28a 40deg,#00d07d 41deg,#00cd75 43deg,#00d07c 45deg,#00d187 46deg,#00ddd9 51deg,#02d9e3 52deg,#08cae8 54deg,#0dc0eb 57deg,#0bc4ea 60deg,#03d7e3 64deg,#00dee1 65deg,#00dbca 67deg,#00d7af 69deg,#00d080 72deg,#00c25c 75deg,#00b741 78deg,#00b43a 80deg,#00b63e 82deg,#00b944 83deg,#00c25a 85deg,#00cf7b 87deg,#00dbce 90deg,#03d6e4 91deg,#1d98f9 94deg,#237af7 96deg,#2762f5 98deg,#2958f4 99deg,#2e4ef0 101deg,#383de7 109deg,#3a3adb 120deg,#0000 120deg)"></i>
<i style="inset:114.5px;background:conic-gradient(from 30deg,#3641e9 0deg,#304aee 17deg,#2b53f3 24deg,#285df5 26deg,#256df6 28deg,#2282f8 30deg,#1b9ef7 32deg,#02d8e3 35deg,#00dbcd 36deg,#00d49b 38deg,#00d186 39deg,#00cd77 40deg,#00ca6e 41deg,#00c666 43deg,#00c96c 45deg,#00cf7c 47deg,#00d8b5 51deg,#00dcd5 54deg,#00dede 56deg,#00dedf 58deg,#00ddd8 60deg,#00dac4 63deg,#00d6a6 66deg,#00d182 69deg,#00ba49 75deg,#00b336 78deg,#00b133 80deg,#00b43a 82deg,#00b741 83deg,#00c666 86deg,#00cd77 87deg,#00d28e 88deg,#00dee1 91deg,#19a2f6 94deg,#1f90f9 95deg,#266af6 98deg,#2a56f4 100deg,#2c51f2 101deg,#373fe8 109deg,#3a3add 120deg,#0000 120deg)"></i>
<i style="inset:116.5px;background:conic-gradient(from 30deg,#3641e9 0deg,#304aee 16deg,#2a54f4 23deg,#256ef6 27deg,#2282f8 29deg,#1b9cf8 31deg,#04d3e5 34deg,#00dcd5 35deg,#00d5a3 37deg,#00cf7b 39deg,#00c767 41deg,#00c562 42deg,#00c460 44deg,#00c869 46deg,#00cf79 48deg,#00d7b1 53deg,#00d9bd 55deg,#00d9c0 58deg,#00d8b9 60deg,#00d7ad 62deg,#00d080 67deg,#00bb4a 74deg,#00b53b 77deg,#00b337 79deg,#00b741 82deg,#00be52 84deg,#00c96c 86deg,#00cf7b 87deg,#00d392 88deg,#00dedf 91deg,#1e96fa 95deg,#2570f7 98deg,#2a54f4 101deg,#3641e9 109deg,#3a3bdf 120deg,#0000 120deg)"></i>
<i style="inset:118.5px;background:conic-gradient(from 30deg,#3542e9 0deg,#304aee 15deg,#2a54f4 22deg,#256ef6 26deg,#208cf9 29deg,#1d99f9 30deg,#01dde1 34deg,#00d59e 37deg,#00cf7b 39deg,#00c86a 41deg,#00c666 42deg,#00c664 44deg,#00c96c 46deg,#00cf7a 48deg,#00d5a2 52deg,#00d7b1 54deg,#00d8b9 56deg,#00d9ba 58deg,#00d6aa 62deg,#00d07c 68deg,#00c35d 73deg,#00bd50 76deg,#00bc4c 78deg,#00bc4e 80deg,#00c056 82deg,#00cb70 85deg,#00d07c 86deg,#00d38f 87deg,#00dcd0 90deg,#02dae3 91deg,#1d97fa 95deg,#266bf6 99deg,#2b53f3 102deg,#3641e9 110deg,#393be1 120deg,#0000 120deg)"></i>
<i style="inset:120.5px;background:conic-gradient(from 30deg,#3543ea 0deg,#304bef 14deg,#2a55f4 21deg,#256ef6 25deg,#1e94fa 29deg,#00dedf 34deg,#00d5a4 37deg,#00d187 39deg,#00ce77 41deg,#00cc73 43deg,#00cf7b 46deg,#00d7b2 52deg,#00d9c0 54deg,#00dbc9 56deg,#00dbcd 58deg,#00dbca 60deg,#00d9bf 63deg,#00d07d 73deg,#00cb70 77deg,#00cb71 80deg,#00ce77 82deg,#00d187 84deg,#00d5a0 86deg,#00dcd2 89deg,#01dbe2 90deg,#1e95fa 95deg,#256df6 99deg,#2a56f4 102deg,#3345eb 109deg,#393be3 120deg,#0000 120deg)"></i>
<i style="inset:122.5px;background:conic-gradient(from 30deg,#3443ea 0deg,#304bef 13deg,#2a56f4 20deg,#256ef6 24deg,#1f90f9 28deg,#1c9bf8 29deg,#01dce2 34deg,#00d6a8 38deg,#00d497 40deg,#00d38f 42deg,#00d391 44deg,#00d49c 46deg,#00ddd7 53deg,#01dce2 55deg,#04d5e4 57deg,#05d3e5 60deg,#00dde1 65deg,#00d7b1 74deg,#00d6a6 77deg,#00d6a5 79deg,#00d6a8 81deg,#00d7b2 83deg,#00dac1 85deg,#00ddd7 87deg,#01dce2 88deg,#1c9af9 94deg,#256ef6 99deg,#2a54f4 103deg,#3345eb 110deg,#393ce6 120deg,#0000 120deg)"></i>
<i style="inset:124.5px;background:conic-gradient(from 30deg,#3444eb 0deg,#2f4df0 13deg,#2958f4 19deg,#256df6 23deg,#1e94fa 28deg,#00dde1 35deg,#00dbcc 37deg,#00d9bc 39deg,#00d8b4 42deg,#00d9bc 45deg,#00dee1 50deg,#0dbeec 56deg,#10b7ef 59deg,#10b7ee 63deg,#0dc0eb 67deg,#01dce2 76deg,#00dee0 81deg,#03d7e4 84deg,#09c7e9 87deg,#1d98f9 93deg,#256df6 99deg,#2a56f4 103deg,#3247ed 110deg,#383ee7 120deg,#0000 120deg)"></i>
<i style="inset:126.5px;background:conic-gradient(from 30deg,#3445eb 0deg,#304bef 10deg,#2a55f4 17deg,#266cf6 22deg,#1e94fa 28deg,#0dbfec 33deg,#02d9e3 37deg,#00dde1 38deg,#00ddda 41deg,#00dedf 44deg,#04d4e4 47deg,#16a8f4 56deg,#1b9df7 61deg,#1aa0f6 66deg,#10b9ee 77deg,#0fbbed 80deg,#10b8ee 83deg,#15abf3 87deg,#1e96fa 91deg,#2a53f4 104deg,#3248ed 111deg,#373fe8 120deg,#0000 120deg)"></i>
<i style="inset:128.5px;background:conic-gradient(from 30deg,#3346ec 0deg,#2e4df0 10deg,#2a56f4 16deg,#2570f7 22deg,#1d98f9 29deg,#0ebced 35deg,#0ac6e9 38deg,#09c9e8 41deg,#0bc3eb 45deg,#1e97fa 56deg,#1f8ff9 60deg,#208ef9 66deg,#1b9cf8 79deg,#1d99f9 84deg,#2187f9 91deg,#2a54f4 104deg,#3641e9 120deg,#0000 120deg)"></i>
<i style="inset:130.5px;background:conic-gradient(from 30deg,#3247ec 0deg,#2a54f4 14deg,#2669f6 20deg,#1e94fa 30deg,#18a5f5 34deg,#13b0f1 40deg,#15abf3 45deg,#1e96fa 52deg,#2184f8 61deg,#2282f8 67deg,#2187f9 79deg,#2283f8 86deg,#2476f7 92deg,#2a53f4 104deg,#3543ea 120deg,#0000 120deg)"></i>
<i style="inset:132.5px;background:conic-gradient(from 30deg,#3148ed 0deg,#2a54f4 13deg,#208cf9 31deg,#1e94fa 35deg,#1d99f9 40deg,#1e94fa 46deg,#237bf8 62deg,#2473f7 86deg,#2a53f4 103deg,#3444eb 120deg,#0000 120deg)"></i>
<i style="inset:134.5px;background:conic-gradient(from 30deg,#304aee 0deg,#2a54f4 12deg,#227df8 30deg,#2187f9 40deg,#2184f8 46deg,#2571f7 64deg,#2766f6 86deg,#2a54f4 100deg,#3345ec 120deg,#0000 120deg)"></i>
<i style="inset:136.5px;background:conic-gradient(from 30deg,#2f4bef 0deg,#2a54f4 12deg,#2571f7 30deg,#2476f7 41deg,#2a54f4 95deg,#3346ec 120deg,#0000 120deg)"></i>
<i style="inset:138.5px;background:conic-gradient(from 30deg,#2f4cf0 0deg,#2a54f4 14deg,#2764f5 30deg,#2668f6 42deg,#2a54f4 85deg,#3247ec 120deg,#0000 120deg)"></i>
<i style="inset:140.5px;background:conic-gradient(from 30deg,#2f4df0 0deg,#295bf5 44deg,#3247ec 120deg,#0000 120deg)"></i>
<i style="inset:141.5px;background:#000"></i>
</div>
<div class="d" style="left:336.8px;top:382.1px;width:297.0px;height:297.0px">
<i style="inset:0.5px;background:conic-gradient(from 30deg,#00dddd 0deg,#02dae3 3deg,#00dee0 4deg,#00dbce 5deg,#00d7af 6deg,#00d181 7deg,#05b02b 9deg,#52c70f 10deg,#96d900 11deg,#cfe300 12deg,#ffeb00 13deg,#ffbc00 15deg,#ffaa00 16deg,#ff9a00 17deg,#fe9100 18deg,#fc8600 20deg,#fa7f00 25deg,#f87800 27deg,#f05000 32deg,#e64105 34deg,#e03808 37deg,#e43f06 39deg,#f05000 42deg,#f35f00 45deg,#f87600 48deg,#ff9500 51deg,#ffa300 52deg,#ffb600 53deg,#ffe800 55deg,#d4e400 56deg,#a5db00 57deg,#7ed400 58deg,#5fcb0b 59deg,#49c513 60deg,#39c018 61deg,#0fb328 64deg,#03b02c 65deg,#00b131 66deg,#00b234 68deg,#00af2e 71deg,#00af2d 75deg,#03b02c 76deg,#0db328 77deg,#1fb822 78deg,#39c018 79deg,#78d302 81deg,#93d800 82deg,#a7dc00 83deg,#b7df00 84deg,#d8e500 87deg,#f3ea00 89deg,#ffe900 90deg,#ff9d00 96deg,#fd8d00 98deg,#fa8100 101deg,#f97c00 106deg,#f87400 109deg,#f04f00 116deg,#e43e06 120deg,#0000 120deg)"></i>
<i style="inset:2.5px;background:conic-gradient(from 30deg,#00dcd4 0deg,#00dee1 2deg,#01dce2 3deg,#00dede 4deg,#00dbce 5deg,#00d7b2 6deg,#00d186 7deg,#00af2e 9deg,#51c710 10deg,#9dda00 11deg,#dde600 12deg,#ffe000 13deg,#ffc600 14deg,#ff9e00 16deg,#fc8900 18deg,#fb8100 20deg,#fa7e00 25deg,#f87700 27deg,#f66a00 29deg,#f05000 32deg,#e64105 34deg,#e03808 36deg,#df3708 37deg,#e43e06 39deg,#ef4f00 42deg,#f46100 46deg,#f97800 49deg,#ff9600 52deg,#ffa700 53deg,#ffd700 55deg,#f3ea00 56deg,#c5e100 57deg,#9fda00 58deg,#83d500 59deg,#6fd005 60deg,#12b426 66deg,#08b12a 67deg,#00af2d 69deg,#00b133 75deg,#02b02c 77deg,#14b526 78deg,#2ebd1c 79deg,#6ace07 81deg,#84d500 82deg,#97d900 83deg,#dae500 88deg,#feec00 90deg,#ff9d00 96deg,#fb8600 99deg,#f97a00 102deg,#f87700 106deg,#f76f00 109deg,#ef4f00 115deg,#e13a07 120deg,#0000 120deg)"></i>
<i style="inset:4.5px;background:conic-gradient(from 30deg,#00dac6 0deg,#00ddd9 2deg,#00dddd 3deg,#00ddda 4deg,#00dbcc 5deg,#00d7b2 6deg,#00d289 7deg,#00b02f 9deg,#53c80f 10deg,#a5db00 11deg,#ede900 12deg,#ffd400 13deg,#ffb800 14deg,#ffa200 15deg,#fe9200 16deg,#fb8100 18deg,#f97b00 20deg,#f97c00 25deg,#f87600 27deg,#f66a00 29deg,#f05000 32deg,#e64105 34deg,#e03808 36deg,#df3708 37deg,#e43d06 39deg,#ef4e01 42deg,#f35c00 46deg,#fa8000 51deg,#ff9600 53deg,#ffab00 54deg,#ffdd00 56deg,#eee900 57deg,#cbe200 58deg,#b1de00 59deg,#9fda00 60deg,#83d500 62deg,#24ba20 67deg,#0bb229 69deg,#02b02c 70deg,#00b030 71deg,#00b63d 75deg,#00b234 77deg,#06b12b 78deg,#56c90e 81deg,#6dcf06 82deg,#80d400 83deg,#b7df00 87deg,#c8e200 88deg,#f2ea00 90deg,#ffe500 91deg,#ff9d00 96deg,#fb8300 99deg,#f87500 102deg,#f66a00 108deg,#f05200 113deg,#e33d06 117deg,#dd330a 120deg,#0000 120deg)"></i>
<i style="inset:6.5px;background:conic-gradient(from 30deg,#00d7b2 0deg,#00dbce 2deg,#00dcd5 3deg,#00dcd3 4deg,#00dac6 5deg,#00d7ac 6deg,#00d183 7deg,#00c25a 8deg,#03b02c 9deg,#5cca0c 10deg,#b1de00 11deg,#fdec00 12deg,#ffc900 13deg,#ffad00 14deg,#ff9600 15deg,#fa8000 17deg,#f97800 19deg,#f97b00 25deg,#f87600 27deg,#f66b00 29deg,#f05200 32deg,#e74304 34deg,#e13908 36deg,#e03808 37deg,#e43e06 39deg,#ef4e01 42deg,#f25900 46deg,#fa8100 52deg,#ff9c00 54deg,#ffdf00 57deg,#f5ea00 58deg,#dee600 59deg,#9fda00 63deg,#73d103 65deg,#40c216 67deg,#15b525 69deg,#03b02c 70deg,#00b235 71deg,#00b844 73deg,#00bb49 75deg,#00b945 76deg,#00b132 78deg,#10b427 79deg,#41c215 81deg,#55c80e 82deg,#7fd400 85deg,#9eda00 87deg,#b2de00 88deg,#fdec00 91deg,#ffa000 96deg,#fc8900 98deg,#f97900 100deg,#f76e00 102deg,#f46100 108deg,#f15400 111deg,#e13908 116deg,#d82c0c 120deg,#0000 120deg)"></i>
<i style="inset:8.5px;background:conic-gradient(from 30deg,#00d395 0deg,#00d9bb 2deg,#00dac7 3deg,#00dac7 4deg,#00d9ba 5deg,#00d59e 6deg,#00ce77 7deg,#00bd4f 8deg,#16b525 9deg,#6fd005 10deg,#c3e100 11deg,#ffe400 12deg,#ffc000 13deg,#ffa400 14deg,#fe9000 15deg,#f97c00 17deg,#f87400 19deg,#f97900 25deg,#f87500 27deg,#f66b00 29deg,#f15500 32deg,#e94603 34deg,#e23b07 37deg,#e64005 39deg,#ef4e01 42deg,#f25a00 46deg,#fa7d00 52deg,#fe9300 54deg,#ffcd00 57deg,#ffe900 59deg,#d8e500 62deg,#b1de00 64deg,#79d301 66deg,#39c019 68deg,#00af2e 70deg,#00be51 73deg,#00c056 75deg,#00ba48 77deg,#00af2d 79deg,#2cbc1d 81deg,#3cc117 82deg,#61cc0a 85deg,#83d500 87deg,#b2de00 89deg,#ece900 91deg,#ffe500 92deg,#ff9500 97deg,#f76f00 101deg,#f46400 103deg,#f04f00 110deg,#db300b 116deg,#d4260e 120deg,#0000 120deg)"></i>
<i style="inset:10.5px;background:conic-gradient(from 30deg,#00ca6f 0deg,#00d49b 2deg,#00d7ac 3deg,#00d7b0 4deg,#00d5a4 5deg,#00d289 6deg,#00c767 7deg,#00b73f 8deg,#32be1b 9deg,#88d600 10deg,#d8e500 11deg,#ffda00 12deg,#ffb800 13deg,#ff9e00 14deg,#fd8d00 15deg,#f97a00 17deg,#f87300 19deg,#f97800 25deg,#f87500 27deg,#f66c00 29deg,#f05100 33deg,#e94504 35deg,#e54005 37deg,#f25700 45deg,#fa7d00 52deg,#fe9000 54deg,#ffcd00 58deg,#ffe700 61deg,#f9eb00 62deg,#cfe300 64deg,#b2de00 65deg,#91d800 66deg,#6ace07 67deg,#1bb723 69deg,#00b132 70deg,#00bf53 72deg,#00c35e 73deg,#00c563 74deg,#00c563 75deg,#00be52 77deg,#00b337 79deg,#05b02b 80deg,#24ba20 82deg,#42c315 85deg,#51c710 86deg,#7ed400 88deg,#99d900 89deg,#f8eb00 92deg,#ffde00 93deg,#ff9800 97deg,#f87400 100deg,#f46300 102deg,#f25900 104deg,#ef4f00 108deg,#d5280d 116deg,#d02010 120deg,#0000 120deg)"></i>
<i style="inset:12.5px;background:conic-gradient(from 30deg,#00b946 0deg,#00d183 3deg,#00d28c 4deg,#00d184 5deg,#00cb70 6deg,#00be52 7deg,#03b02c 8deg,#52c710 9deg,#a2db00 10deg,#ede900 11deg,#ffd100 12deg,#ffb300 13deg,#ff9b00 14deg,#fd8c00 15deg,#f97a00 17deg,#f87400 19deg,#f97800 25deg,#f87500 27deg,#f66d00 29deg,#ed4b02 35deg,#ea4703 38deg,#f25a00 45deg,#f87300 49deg,#fc8600 53deg,#ff9b00 55deg,#ffc000 58deg,#ffec00 63deg,#e6e700 64deg,#c6e200 65deg,#a1db00 66deg,#75d203 67deg,#17b625 69deg,#00b338 70deg,#00c35d 72deg,#00c768 73deg,#00ca6e 74deg,#00ca6e 75deg,#00c767 76deg,#00b741 79deg,#00af2e 81deg,#23b920 85deg,#31be1b 86deg,#46c414 87deg,#60cb0b 88deg,#7ed400 89deg,#e3e700 92deg,#ffe800 93deg,#fd8e00 98deg,#f87300 100deg,#f35f00 102deg,#f15300 104deg,#e74304 109deg,#d3240f 115deg,#cf1e11 117deg,#cc1b12 120deg,#0000 120deg)"></i>
<i style="inset:14.5px;background:conic-gradient(from 30deg,#27bb1f 0deg,#00b02f 1deg,#00c35d 3deg,#00c768 4deg,#00c666 5deg,#00c055 6deg,#00b43a 7deg,#2abb1e 8deg,#74d103 9deg,#ffec00 11deg,#ffca00 12deg,#ffaf00 13deg,#ff9a00 14deg,#fd8c00 15deg,#fa7c00 17deg,#f87500 20deg,#f97800 25deg,#f87500 27deg,#f05100 35deg,#ee4d01 37deg,#f25a00 44deg,#f87600 49deg,#fb8300 52deg,#fe9100 54deg,#ffaf00 57deg,#ffcc00 61deg,#ffe200 63deg,#f6ea00 64deg,#d5e400 65deg,#acdd00 66deg,#7dd400 67deg,#14b526 69deg,#00b53c 70deg,#00c563 72deg,#00ca6f 73deg,#00cd75 74deg,#00cd75 75deg,#00ca6f 76deg,#00b844 80deg,#00b030 84deg,#04b02c 85deg,#12b427 86deg,#27ba1f 87deg,#42c215 88deg,#86d600 90deg,#f1e900 93deg,#ffe100 94deg,#fe9200 98deg,#fb8200 99deg,#f56600 101deg,#f15300 103deg,#e03708 110deg,#cf1e11 115deg,#cb1912 117deg,#ca1713 120deg,#0000 120deg)"></i>
<i style="inset:16.5px;background:conic-gradient(from 30deg,#75d203 0deg,#14b526 2deg,#00b43a 3deg,#00ba48 4deg,#00ba47 5deg,#00b438 6deg,#19b724 7deg,#55c80e 8deg,#96d900 9deg,#d5e400 10deg,#ffe200 11deg,#ffc500 12deg,#ffad00 13deg,#ff9a00 14deg,#fd8e00 15deg,#fa7f00 17deg,#f97800 20deg,#f87700 27deg,#f25800 35deg,#f15400 38deg,#f46100 44deg,#fc8700 52deg,#ffc500 61deg,#ffdc00 63deg,#ffeb00 64deg,#dee600 65deg,#b4de00 66deg,#83d500 67deg,#14b526 69deg,#00b63d 70deg,#00bf54 71deg,#00c665 72deg,#00cb71 73deg,#00ce77 74deg,#00ce78 75deg,#00cc74 76deg,#00be52 80deg,#00b842 84deg,#00b234 86deg,#09b22a 87deg,#25ba20 88deg,#6dcf06 90deg,#92d800 91deg,#feec00 94deg,#ff9900 98deg,#fc8700 99deg,#f56700 101deg,#f05100 103deg,#e84404 105deg,#cc1a12 115deg,#c81414 120deg,#0000 120deg)"></i>
<i style="inset:18.5px;background:conic-gradient(from 30deg,#a6db00 0deg,#77d202 1deg,#43c315 2deg,#17b625 3deg,#01af2d 4deg,#04b02c 5deg,#1eb822 6deg,#4ac512 7deg,#80d500 8deg,#efe900 10deg,#ffd800 11deg,#ffc000 12deg,#ff9b00 14deg,#fe9000 15deg,#fb8300 17deg,#f97b00 20deg,#f97900 27deg,#f46100 34deg,#f35c00 37deg,#f66e00 45deg,#fb8600 51deg,#ffa700 56deg,#ffba00 60deg,#ffce00 62deg,#ffeb00 64deg,#dfe600 65deg,#b5de00 66deg,#85d500 67deg,#17b625 69deg,#00b53c 70deg,#00be52 71deg,#00c664 72deg,#00cb70 73deg,#00cf7a 75deg,#00cc73 77deg,#00c461 80deg,#00bf53 84deg,#00b843 86deg,#00b337 87deg,#0db328 88deg,#2fbd1c 89deg,#7dd400 91deg,#e7e800 94deg,#ffe600 95deg,#fd8d00 99deg,#f56900 101deg,#f05000 103deg,#e64105 105deg,#cd1b12 114deg,#c91514 116deg,#c71315 120deg,#0000 120deg)"></i>
<i style="inset:20.5px;background:conic-gradient(from 30deg,#a9dc00 0deg,#7cd400 1deg,#4dc611 2deg,#2abb1e 3deg,#1eb822 4deg,#2bbc1d 5deg,#4cc512 6deg,#79d302 7deg,#dae500 9deg,#ffe600 10deg,#ffba00 12deg,#ffaa00 13deg,#fe9200 15deg,#fc8600 17deg,#fa7f00 20deg,#f97b00 27deg,#f56800 34deg,#f46500 37deg,#fb8400 50deg,#ffa700 55deg,#ffbf00 60deg,#ffe300 63deg,#f3ea00 64deg,#d2e400 65deg,#acdd00 66deg,#80d400 67deg,#1ab724 69deg,#00b439 70deg,#00c461 72deg,#00ca6e 73deg,#00cd76 74deg,#00cf7b 76deg,#00c563 84deg,#00be52 86deg,#00b132 88deg,#1ab723 89deg,#68ce07 91deg,#8dd700 92deg,#f2ea00 95deg,#ffde00 96deg,#ff9400 99deg,#fa8000 100deg,#f35d00 102deg,#e94603 104deg,#e13a07 106deg,#cc1912 114deg,#c81414 116deg,#c71316 120deg,#0000 120deg)"></i>
<i style="inset:22.5px;background:conic-gradient(from 30deg,#86d600 0deg,#3dc117 2deg,#2cbc1d 3deg,#32be1b 4deg,#4dc611 5deg,#76d202 6deg,#fceb00 9deg,#ffc500 11deg,#ffa700 13deg,#ff9400 15deg,#fd8e00 16deg,#fb8400 19deg,#fa8000 26deg,#f77000 33deg,#f66d00 36deg,#f77200 39deg,#fc8600 44deg,#fb8300 48deg,#fc8800 50deg,#ffb100 55deg,#ffc300 59deg,#ffcb00 60deg,#ffe400 62deg,#f3ea00 63deg,#d6e400 64deg,#95d800 66deg,#6fd005 67deg,#17b625 69deg,#00b338 70deg,#00c45f 72deg,#00c96c 73deg,#00d07c 75deg,#00d182 77deg,#00cf7b 82deg,#00cc73 84deg,#00c460 86deg,#00b63e 88deg,#07b12b 89deg,#79d301 92deg,#dae500 95deg,#ffec00 96deg,#ffd400 97deg,#ff9d00 99deg,#fb8500 100deg,#f35e00 102deg,#e94504 104deg,#e03708 106deg,#cd1c11 113deg,#c81414 116deg,#c71315 120deg,#0000 120deg)"></i>
<i style="inset:24.5px;background:conic-gradient(from 30deg,#66cd08 0deg,#4bc512 1deg,#3ac018 2deg,#3bc018 3deg,#51c710 4deg,#77d202 5deg,#f7eb00 8deg,#ffdc00 9deg,#ffb000 12deg,#ff9d00 14deg,#fe9100 16deg,#fc8900 19deg,#fb8500 26deg,#f97900 32deg,#f87600 36deg,#f97c00 39deg,#ff9400 44deg,#ff9400 45deg,#fc8900 48deg,#fd8d00 50deg,#ffb800 54deg,#ffd400 59deg,#ffea00 61deg,#e9e800 62deg,#76d203 66deg,#0cb329 69deg,#00b53b 70deg,#00c45f 72deg,#00ca6d 73deg,#00d181 75deg,#00d391 78deg,#00d394 81deg,#00d28d 83deg,#00cf7a 85deg,#00c35e 87deg,#00b235 89deg,#1ab724 90deg,#63cc09 92deg,#83d500 93deg,#c1e100 95deg,#e6e700 96deg,#ffe100 97deg,#fc8900 100deg,#f77200 101deg,#ef4f00 103deg,#e84404 104deg,#db310a 107deg,#cc1b12 113deg,#c81514 116deg,#c71415 120deg,#0000 120deg)"></i>
<i style="inset:26.5px;background:conic-gradient(from 30deg,#6bcf07 0deg,#5dcb0c 1deg,#59c90d 2deg,#66cd08 3deg,#83d500 4deg,#faeb00 7deg,#ffdc00 8deg,#ffc000 10deg,#ffac00 12deg,#fe9400 16deg,#fd8d00 19deg,#fc8a00 26deg,#fa7e00 35deg,#fb8500 39deg,#ffa300 44deg,#ffa200 45deg,#fd8f00 48deg,#fd8f00 49deg,#ff9500 50deg,#ffbe00 53deg,#ffc900 54deg,#ffe800 59deg,#f4ea00 60deg,#dce600 61deg,#88d600 64deg,#6dcf06 65deg,#00b030 69deg,#00c563 72deg,#00d28a 75deg,#00d5a1 78deg,#00d6a9 81deg,#00d5a4 83deg,#00d49b 84deg,#00cf7c 86deg,#00b741 89deg,#04b02c 90deg,#4cc512 92deg,#6ccf06 93deg,#8ad600 94deg,#abdc00 95deg,#d1e400 96deg,#ffeb00 97deg,#fd8b00 100deg,#f77300 101deg,#f35e00 102deg,#e64105 104deg,#da2e0b 107deg,#ce1d11 112deg,#ca1713 115deg,#c81414 120deg,#0000 120deg)"></i>
<i style="inset:28.5px;background:conic-gradient(from 30deg,#8ed700 0deg,#8ad600 1deg,#8fd700 2deg,#a0da00 3deg,#bde000 4deg,#ffea00 6deg,#ffca00 8deg,#ffb700 10deg,#ffa400 13deg,#ff9600 16deg,#fe9100 19deg,#fe9000 26deg,#fb8500 35deg,#fd8c00 39deg,#ffad00 44deg,#ffad00 45deg,#ff9700 48deg,#ff9800 49deg,#ffa200 50deg,#ffd200 53deg,#ffdd00 54deg,#ffe900 56deg,#fbeb00 57deg,#f0e900 58deg,#cde300 60deg,#7ed400 63deg,#47c413 65deg,#00af2d 68deg,#00ce78 73deg,#00d5a0 76deg,#00d8b7 79deg,#00d9bd 81deg,#00d8b8 83deg,#00d7b0 84deg,#00d5a1 85deg,#00ce77 87deg,#00b338 90deg,#12b427 91deg,#75d203 94deg,#98d900 95deg,#c2e100 96deg,#f6ea00 97deg,#ffd000 98deg,#fd8a00 100deg,#f77100 101deg,#f25b00 102deg,#e43f06 104deg,#db300b 106deg,#cf1e11 111deg,#ca1713 115deg,#c91514 120deg,#0000 120deg)"></i>
<i style="inset:30.5px;background:conic-gradient(from 30deg,#bbdf00 0deg,#bde000 1deg,#c6e100 2deg,#d7e500 3deg,#f1e900 4deg,#ffe400 5deg,#ffc700 7deg,#ffb600 9deg,#ff9a00 16deg,#ff9500 19deg,#ff9500 26deg,#fd8c00 36deg,#ff9400 40deg,#ffb200 44deg,#ffb200 45deg,#ffa600 48deg,#ffaa00 49deg,#ffb700 50deg,#ffe800 53deg,#f4ea00 54deg,#d6e400 57deg,#badf00 59deg,#a6dc00 60deg,#76d203 62deg,#29bb1e 65deg,#00af2e 67deg,#00b946 69deg,#00d181 73deg,#00d7ad 76deg,#00dac6 79deg,#00dbce 81deg,#00dbca 83deg,#00dac1 84deg,#00d7b2 85deg,#00d185 87deg,#00b030 91deg,#1db723 92deg,#62cc0a 94deg,#8ad600 95deg,#b8df00 96deg,#f1e900 97deg,#ffd000 98deg,#fc8800 100deg,#f66e00 101deg,#f25800 102deg,#e23b07 104deg,#d6280d 107deg,#ce1c11 111deg,#c91613 120deg,#0000 120deg)"></i>
<i style="inset:32.5px;background:conic-gradient(from 30deg,#e3e700 0deg,#e8e800 1deg,#ffea00 3deg,#ffc500 6deg,#ffb500 8deg,#ff9d00 16deg,#ff9900 20deg,#ff9c00 27deg,#fe9000 37deg,#ff9400 40deg,#ffb200 44deg,#ffbb00 48deg,#ffc300 49deg,#ffe100 51deg,#f7ea00 52deg,#dfe600 53deg,#cfe300 54deg,#a4db00 58deg,#82d500 60deg,#29bb1e 64deg,#02b02c 66deg,#00b336 67deg,#00bd4e 69deg,#00cf7a 72deg,#00d59d 74deg,#00d8b9 76deg,#00dcd4 79deg,#00dddc 81deg,#00dddb 82deg,#00ddd7 83deg,#00dbce 84deg,#00d9bf 85deg,#00d6ab 86deg,#00ce78 88deg,#00b53c 91deg,#07b12a 92deg,#50c710 94deg,#7dd400 95deg,#b0dd00 96deg,#ece900 97deg,#ffd000 98deg,#ffa800 99deg,#fb8600 100deg,#f66b00 101deg,#f15500 102deg,#e84504 103deg,#db300b 105deg,#d4260e 107deg,#cc1b12 111deg,#ca1613 120deg,#0000 120deg)"></i>
<i style="inset:34.5px;background:conic-gradient(from 30deg,#ffec00 0deg,#ffe300 2deg,#ffb500 7deg,#ffad00 9deg,#ff9e00 18deg,#ffa300 28deg,#fd8e00 39deg,#fe9300 41deg,#ff9b00 42deg,#ffbb00 45deg,#ffd500 48deg,#feec00 50deg,#cde300 52deg,#b9df00 53deg,#abdc00 54deg,#7ed400 58deg,#19b624 64deg,#0ab229 65deg,#00b030 66deg,#00be52 69deg,#00d181 72deg,#00d6a7 74deg,#00dac3 76deg,#00dddd 79deg,#00dee1 80deg,#01dde1 82deg,#00dede 83deg,#00dcd4 84deg,#00dac5 85deg,#00d7b1 86deg,#00d080 88deg,#00b233 92deg,#17b625 93deg,#3ec117 94deg,#6dcf06 95deg,#a2db00 96deg,#e1e700 97deg,#ffd500 98deg,#ffab00 99deg,#fc8700 100deg,#f66b00 101deg,#f15500 102deg,#e84404 103deg,#da2f0b 105deg,#d2230f 107deg,#cc1b12 110deg,#c91613 120deg,#0000 120deg)"></i>
<i style="inset:36.5px;background:conic-gradient(from 30deg,#ffe300 0deg,#ffdb00 2deg,#ffb300 7deg,#ffac00 9deg,#ffa200 18deg,#ffa900 28deg,#ffa100 32deg,#fc8a00 38deg,#fc8800 40deg,#fe9200 42deg,#ff9e00 43deg,#ffe100 47deg,#faeb00 48deg,#b7df00 51deg,#95d800 53deg,#7dd400 55deg,#66cd08 57deg,#24ba20 62deg,#05b12b 65deg,#00b131 66deg,#00b945 68deg,#00bf53 69deg,#00d288 72deg,#00d7af 74deg,#00dbcc 76deg,#00dddd 78deg,#01dde1 79deg,#01dbe2 82deg,#00dedf 83deg,#00dac6 85deg,#00cb71 89deg,#00b53d 92deg,#05b12b 93deg,#2bbc1e 94deg,#58c90d 95deg,#8dd700 96deg,#cce300 97deg,#ffe100 98deg,#fe8f00 100deg,#f77200 101deg,#f25a00 102deg,#ea4703 103deg,#da2f0b 105deg,#d2220f 107deg,#cb1912 110deg,#c91613 120deg,#0000 120deg)"></i>
<i style="inset:38.5px;background:conic-gradient(from 30deg,#ffe000 0deg,#ffd800 2deg,#ffb300 7deg,#ffac00 9deg,#ffa400 18deg,#ffae00 26deg,#ffad00 29deg,#ffa500 32deg,#fb8300 38deg,#fa7d00 40deg,#fa8000 41deg,#fc8800 42deg,#ff9500 43deg,#ffe000 46deg,#ede900 47deg,#cde300 48deg,#b3de00 49deg,#9fda00 50deg,#73d104 53deg,#22b921 60deg,#13b526 62deg,#00b131 66deg,#00b43a 67deg,#00bf55 69deg,#00ce78 71deg,#00d8b6 74deg,#00dcd2 76deg,#00dee1 78deg,#02dae2 81deg,#00dddc 83deg,#00dac3 85deg,#00cc74 89deg,#00b234 93deg,#16b525 94deg,#3fc216 95deg,#72d104 96deg,#addd00 97deg,#f1e900 98deg,#ffca00 99deg,#ff9f00 100deg,#fa7e00 101deg,#f46400 102deg,#ef4e01 103deg,#e43e06 104deg,#d6290d 106deg,#ce1e11 108deg,#cb1813 110deg,#c91514 120deg,#0000 120deg)"></i>
<i style="inset:40.5px;background:conic-gradient(from 30deg,#ffe000 0deg,#ffd400 3deg,#ffb600 7deg,#ffac00 10deg,#ffa600 18deg,#ffb200 27deg,#ffb000 30deg,#ffa300 33deg,#fa7c00 38deg,#f77200 40deg,#f87400 41deg,#fa7d00 42deg,#fd8e00 43deg,#ffaa00 44deg,#fceb00 46deg,#cae200 47deg,#a5db00 48deg,#8bd700 49deg,#6ace07 51deg,#21b921 58deg,#10b427 60deg,#00b02f 65deg,#00b63d 67deg,#00c159 69deg,#00d07c 71deg,#00d6a9 73deg,#00dbcb 75deg,#00dede 77deg,#01dae2 80deg,#00dedf 82deg,#00dbcd 84deg,#00d7af 86deg,#00cd77 89deg,#00bc4d 92deg,#01af2d 94deg,#27bb1f 95deg,#56c80e 96deg,#8ed700 97deg,#cfe300 98deg,#ffde00 99deg,#fd8c00 101deg,#f76f00 102deg,#f15600 103deg,#e74304 104deg,#d72b0c 106deg,#cf1e11 108deg,#cb1912 110deg,#c81414 120deg,#0000 120deg)"></i>
<i style="inset:42.5px;background:conic-gradient(from 30deg,#ffe300 0deg,#ffd900 3deg,#ffb500 8deg,#ffac00 11deg,#ffa800 17deg,#ffb500 27deg,#ffb000 31deg,#ffa600 33deg,#f97800 38deg,#f66a00 40deg,#f66b00 41deg,#f87500 42deg,#fc8900 43deg,#ffa900 44deg,#ffd300 45deg,#e6e700 46deg,#aedd00 47deg,#86d600 48deg,#6bcf06 49deg,#5aca0d 50deg,#3bc018 53deg,#12b427 58deg,#07b12a 60deg,#00af2d 63deg,#00b53b 66deg,#00be51 68deg,#00d184 71deg,#00d7b0 73deg,#00dcd0 75deg,#00dee1 77deg,#01dbe2 80deg,#00dddc 82deg,#00dbcb 84deg,#00d7af 86deg,#00cf7a 89deg,#00bf55 92deg,#00b336 94deg,#13b526 95deg,#40c216 96deg,#77d202 97deg,#b6df00 98deg,#feec00 99deg,#ff9600 101deg,#f87800 102deg,#f35d00 103deg,#eb4803 104deg,#d92e0b 106deg,#d02010 108deg,#cc1a12 110deg,#c71415 120deg,#0000 120deg)"></i>
<i style="inset:44.5px;background:conic-gradient(from 30deg,#ffe600 0deg,#ffde00 3deg,#ffbb00 8deg,#ffac00 12deg,#ffa900 18deg,#ffb700 27deg,#ffb400 31deg,#ffa200 34deg,#f87700 38deg,#f56700 40deg,#f56800 41deg,#f77200 42deg,#fc8700 43deg,#ffaa00 44deg,#ffd600 45deg,#dce500 46deg,#a1db00 47deg,#78d202 48deg,#5bca0c 49deg,#48c413 50deg,#23b921 53deg,#12b427 55deg,#09b22a 57deg,#00af2d 62deg,#00b53b 65deg,#00bd4e 67deg,#00cf7a 70deg,#00d8b6 73deg,#00dcd4 75deg,#00dddd 76deg,#01dce2 77deg,#02dae2 79deg,#00dee1 81deg,#00dddd 82deg,#00dac2 85deg,#00cd76 90deg,#00bd50 93deg,#03b02c 95deg,#30bd1c 96deg,#67cd08 97deg,#a6dc00 98deg,#eee900 99deg,#ffcb00 100deg,#ff9f00 101deg,#fa7e00 102deg,#f46300 103deg,#ee4d01 104deg,#dc310a 106deg,#d2240f 108deg,#cc1a12 111deg,#c61316 120deg,#0000 120deg)"></i>
<i style="inset:46.5px;background:conic-gradient(from 30deg,#ffe800 0deg,#ffe200 3deg,#ffba00 9deg,#ffac00 13deg,#ffab00 19deg,#ffba00 29deg,#ffb500 32deg,#ffa900 34deg,#f97c00 38deg,#f66b00 40deg,#f66b00 41deg,#f87500 42deg,#fc8800 43deg,#ffa800 44deg,#ffd200 45deg,#e8e800 46deg,#afdd00 47deg,#82d500 48deg,#5fcb0b 49deg,#42c315 50deg,#16b625 52deg,#06b12b 53deg,#00b030 54deg,#00b234 56deg,#03b02c 61deg,#00af2e 62deg,#00b439 64deg,#00bc4d 66deg,#00cd75 69deg,#00d9bc 73deg,#00ddd7 75deg,#00dee0 76deg,#02d9e3 78deg,#02d9e3 80deg,#00dddd 83deg,#00dbcd 85deg,#00d8b3 87deg,#00cd75 91deg,#00c25a 93deg,#00b234 95deg,#20b921 96deg,#58c90d 97deg,#99d900 98deg,#e0e600 99deg,#ffd300 100deg,#ffa700 101deg,#fb8400 102deg,#f56900 103deg,#f15300 104deg,#df3708 106deg,#d6290d 108deg,#ce1e11 111deg,#c61217 120deg,#0000 120deg)"></i>
<i style="inset:48.5px;background:conic-gradient(from 30deg,#ffe900 0deg,#ffe300 3deg,#ffb800 10deg,#ffac00 14deg,#ffab00 19deg,#ffbc00 29deg,#ffbb00 32deg,#ffb200 34deg,#ffa900 35deg,#f97b00 39deg,#f87400 40deg,#f77300 41deg,#f97900 42deg,#fc8800 43deg,#ffa000 44deg,#ffe300 46deg,#d7e500 47deg,#70d005 49deg,#40c216 50deg,#16b625 51deg,#00b233 52deg,#00b741 53deg,#00ba48 54deg,#00bb49 55deg,#00b02e 60deg,#00b030 62deg,#00b63f 64deg,#00c057 66deg,#00d080 69deg,#00d8b3 72deg,#00ddda 75deg,#01dde1 76deg,#04d5e4 78deg,#04d4e5 81deg,#01dbe2 84deg,#00dede 85deg,#00dcd4 86deg,#00d8b9 88deg,#00d186 91deg,#00c766 93deg,#00b63f 95deg,#0fb328 96deg,#46c414 97deg,#86d600 98deg,#cce300 99deg,#ffde00 100deg,#fd8d00 102deg,#f77200 103deg,#f35c00 104deg,#e53f06 106deg,#db310a 108deg,#d01f10 112deg,#c91514 116deg,#c41219 120deg,#0000 120deg)"></i>
<i style="inset:50.5px;background:conic-gradient(from 30deg,#ffe900 0deg,#ffe400 3deg,#ffba00 10deg,#ffab00 15deg,#ffac00 20deg,#ffc100 31deg,#ffc000 33deg,#ffb600 35deg,#fc8700 39deg,#f97c00 41deg,#fa7e00 42deg,#fc8700 43deg,#ff9500 44deg,#ffac00 45deg,#ffe700 47deg,#c8e200 48deg,#82d500 49deg,#38bf19 50deg,#00b133 51deg,#00bd50 52deg,#00c561 53deg,#00c869 54deg,#00c768 55deg,#00c460 56deg,#00b63e 59deg,#00b337 60deg,#00b336 62deg,#00b63d 63deg,#00bf53 65deg,#00d07c 68deg,#00d6ab 71deg,#00dede 75deg,#02d9e3 76deg,#08cce7 79deg,#09c9e8 82deg,#06d0e6 85deg,#00dee0 87deg,#00dac1 89deg,#00d187 92deg,#00c461 94deg,#00b131 96deg,#2ebc1d 97deg,#6bcf06 98deg,#afdd00 99deg,#f7ea00 100deg,#ffc700 101deg,#ff9f00 102deg,#fb8100 103deg,#f66a00 104deg,#ed4b02 106deg,#e23a07 108deg,#d02010 113deg,#c91514 116deg,#c3111a 120deg,#0000 120deg)"></i>
<i style="inset:52.5px;background:conic-gradient(from 30deg,#ffe800 0deg,#ffdf00 4deg,#ffb200 12deg,#ffaa00 16deg,#ffb300 25deg,#ffc700 32deg,#ffc800 34deg,#ffbc00 36deg,#ff9500 39deg,#fd8c00 40deg,#fc8600 42deg,#fe9000 44deg,#ff9d00 45deg,#ffb300 46deg,#ffd200 47deg,#e0e600 48deg,#84d500 49deg,#1eb822 50deg,#00bd4f 51deg,#00cc74 52deg,#00d28e 53deg,#00d497 54deg,#00d391 55deg,#00d181 56deg,#00be51 59deg,#00b946 60deg,#00b842 61deg,#00b843 62deg,#00ba48 63deg,#00c35d 65deg,#00d186 68deg,#00d7b2 71deg,#01dce2 75deg,#0ac6e9 78deg,#0ebced 80deg,#10b8ee 82deg,#0fbaed 84deg,#0bc4ea 86deg,#03d6e4 88deg,#00dddb 89deg,#00d7b2 91deg,#00d184 93deg,#00b740 96deg,#10b427 97deg,#4ac513 98deg,#89d600 99deg,#cce300 100deg,#ffe100 101deg,#ff9500 103deg,#fa7d00 104deg,#f56900 105deg,#ef4e01 107deg,#e03808 110deg,#cc1a12 115deg,#c71316 117deg,#c3101b 120deg,#0000 120deg)"></i>
<i style="inset:54.5px;background:conic-gradient(from 30deg,#ffe700 0deg,#ffde00 4deg,#ffb300 12deg,#ffa900 16deg,#ffb500 27deg,#ffcf00 33deg,#ffd000 35deg,#ffc000 37deg,#ff9b00 40deg,#fe9300 42deg,#ff9700 44deg,#ffa100 45deg,#ffb300 46deg,#ffd300 47deg,#d7e500 48deg,#6ace07 49deg,#00b235 50deg,#00cb71 51deg,#00d6a6 52deg,#00dac5 53deg,#00dbcd 54deg,#00dac3 55deg,#00d7ae 56deg,#00cf7b 58deg,#00c86a 59deg,#00c35e 60deg,#00c057 61deg,#00c055 62deg,#00c45f 64deg,#00cc74 66deg,#00dee0 74deg,#13b1f1 79deg,#17a7f4 81deg,#18a4f5 83deg,#14aff1 86deg,#0cc2eb 88deg,#00dee1 90deg,#00d7b2 92deg,#00d07d 94deg,#00bd4f 96deg,#00b234 97deg,#29bb1e 98deg,#64cd09 99deg,#a4db00 100deg,#e7e800 101deg,#ffd300 102deg,#ffae00 103deg,#fd8f00 104deg,#f97900 105deg,#f25b00 107deg,#eb4803 109deg,#cd1c11 115deg,#c71315 117deg,#c2101b 120deg,#0000 120deg)"></i>
<i style="inset:56.5px;background:conic-gradient(from 30deg,#ffe500 0deg,#ffdd00 4deg,#ffb300 12deg,#ffa900 16deg,#ffb400 28deg,#ffbd00 30deg,#ffd600 34deg,#ffd800 35deg,#ffcd00 37deg,#ffae00 40deg,#ffac00 42deg,#ffb500 44deg,#ffbe00 45deg,#ffce00 46deg,#fdec00 47deg,#a7dc00 48deg,#36bf1a 49deg,#00bf53 50deg,#00d396 51deg,#00dcd0 52deg,#04d4e4 53deg,#06cfe6 54deg,#03d7e4 55deg,#00ddd6 56deg,#00d28a 59deg,#00ce79 60deg,#00ca6f 61deg,#00c96c 63deg,#00ca6f 64deg,#00d07f 66deg,#00dddd 73deg,#03d6e4 74deg,#16a8f4 78deg,#1e96fa 80deg,#208df9 83deg,#1e96fa 86deg,#15abf3 88deg,#01dbe2 91deg,#00dbcb 92deg,#00d392 94deg,#00cd76 95deg,#00b842 97deg,#0eb328 98deg,#49c513 99deg,#88d600 100deg,#cae200 101deg,#ffe400 102deg,#ff9d00 104deg,#fb8500 105deg,#f46500 107deg,#f05100 109deg,#cf1f10 115deg,#c81414 117deg,#c3111a 120deg,#0000 120deg)"></i>
<i style="inset:58.5px;background:conic-gradient(from 30deg,#ffe300 0deg,#ffd800 5deg,#ffaf00 13deg,#ffa700 17deg,#ffb400 29deg,#ffd900 35deg,#ffd800 36deg,#ffc400 39deg,#ffc200 40deg,#ffc600 41deg,#fdec00 45deg,#e1e600 46deg,#afdd00 47deg,#62cc0a 48deg,#00b02f 49deg,#00c96b 50deg,#00d7ae 51deg,#01dce2 52deg,#0ac6e9 53deg,#0dc0ec 54deg,#0bc4ea 55deg,#00dddd 57deg,#00d7ae 59deg,#00d49b 60deg,#00d28d 61deg,#00d184 62deg,#00d181 63deg,#00d187 65deg,#00d499 67deg,#00d7b1 69deg,#00dddc 72deg,#03d6e4 73deg,#1e95fa 78deg,#2282f8 80deg,#2477f7 82deg,#2475f7 84deg,#2378f7 85deg,#1f92fa 88deg,#12b3f0 90deg,#01dbe2 92deg,#00dac8 93deg,#00d288 95deg,#00b030 98deg,#36bf1a 99deg,#78d202 100deg,#ffec00 102deg,#ffa400 104deg,#fc8a00 105deg,#f56a00 107deg,#ee4d01 110deg,#d1220f 115deg,#c81414 118deg,#c51218 120deg,#0000 120deg)"></i>
<i style="inset:60.5px;background:conic-gradient(from 30deg,#ffe300 0deg,#ffd900 5deg,#ffaf00 13deg,#ffa700 17deg,#ffb100 29deg,#ffba00 31deg,#ffd700 35deg,#ffd300 39deg,#ffd900 40deg,#ffe700 41deg,#eae800 42deg,#cde300 43deg,#a5db00 45deg,#8dd700 46deg,#63cc09 47deg,#23b920 48deg,#00ba47 49deg,#00ce79 50deg,#00d8b5 51deg,#01dbe2 52deg,#0ac5ea 53deg,#0ebced 54deg,#0ebced 55deg,#05d1e6 57deg,#00dedf 58deg,#00d8b9 60deg,#00d6ab 61deg,#00d5a1 62deg,#00d499 64deg,#00d49b 65deg,#00d6a8 67deg,#00d9bf 69deg,#00dddd 71deg,#09c8e9 73deg,#1f90f9 77deg,#256ef6 80deg,#285ef5 82deg,#295bf5 84deg,#285ef5 85deg,#256ff6 87deg,#2089f9 89deg,#1c9af9 90deg,#01dce2 93deg,#00dac2 94deg,#00cf7a 96deg,#00b53b 98deg,#25ba20 99deg,#6ace07 100deg,#b0dd00 101deg,#f6ea00 102deg,#ffca00 103deg,#ffa700 104deg,#fd8b00 105deg,#f66a00 107deg,#ef4e01 110deg,#d92d0c 114deg,#d01f10 117deg,#ca1713 120deg,#0000 120deg)"></i>
<i style="inset:62.5px;background:conic-gradient(from 30deg,#ffe500 0deg,#ffd800 6deg,#ffb000 13deg,#ffa600 17deg,#ffb500 30deg,#ffd500 35deg,#ffdf00 38deg,#ffe600 39deg,#f3ea00 40deg,#addd00 42deg,#8ed700 43deg,#78d202 44deg,#52c710 46deg,#30bd1c 47deg,#00b02f 48deg,#00d07d 50deg,#00d8b3 51deg,#00dede 52deg,#08cae8 53deg,#0dbeec 54deg,#0ebbed 55deg,#09c8e9 57deg,#00dee0 59deg,#00dac4 61deg,#00d8b9 62deg,#00d7b2 63deg,#00d7af 65deg,#00d9ba 67deg,#00dac4 68deg,#00dee0 70deg,#1d99f9 75deg,#208cf9 76deg,#295af5 80deg,#2e4ef0 82deg,#2f4bef 84deg,#2c51f2 86deg,#2958f4 87deg,#2474f7 89deg,#1e97fa 91deg,#00dede 94deg,#00d390 96deg,#00bb49 98deg,#10b427 99deg,#57c90e 100deg,#a0da00 101deg,#e9e800 102deg,#ffd000 103deg,#ffab00 104deg,#fd8e00 105deg,#f97a00 106deg,#f36000 108deg,#ef4e01 110deg,#e03808 113deg,#d2230f 120deg,#0000 120deg)"></i>
<i style="inset:64.5px;background:conic-gradient(from 30deg,#ffe900 0deg,#ffdf00 6deg,#ffad00 14deg,#ffa500 18deg,#ffbd00 30deg,#ffc600 32deg,#feec00 38deg,#eae800 39deg,#cee300 40deg,#8bd700 42deg,#6fd005 43deg,#39c019 46deg,#1ab724 47deg,#00b438 48deg,#00d07d 50deg,#00d7ac 51deg,#00dcd4 52deg,#05d2e5 53deg,#0ac5ea 54deg,#0dbfec 55deg,#0dc0eb 56deg,#0bc5ea 57deg,#00dee1 60deg,#00dbcc 62deg,#00dac3 64deg,#00dac6 66deg,#00ddd9 68deg,#02dae3 69deg,#1e94fa 74deg,#2a55f4 79deg,#3345ec 82deg,#3542ea 84deg,#3247ed 86deg,#2b52f3 88deg,#2571f7 90deg,#1e96fa 92deg,#08cae8 94deg,#00dcd5 95deg,#00d07f 97deg,#00b336 99deg,#37bf19 100deg,#82d500 101deg,#cce300 102deg,#ffe000 103deg,#ff9800 105deg,#fb8200 106deg,#f56600 108deg,#e94603 112deg,#da300b 120deg,#0000 120deg)"></i>
<i style="inset:66.5px;background:conic-gradient(from 30deg,#f7ea00 0deg,#f9eb00 3deg,#ffec00 5deg,#ffe800 6deg,#ffde00 8deg,#ffb100 14deg,#ffa500 17deg,#ffa300 19deg,#ffac00 23deg,#ffc400 28deg,#ffd300 32deg,#ffe800 36deg,#faeb00 37deg,#eae800 38deg,#d5e400 39deg,#83d500 42deg,#6ccf06 43deg,#4bc512 45deg,#37bf19 46deg,#18b624 47deg,#00b438 48deg,#00ce78 50deg,#00dac8 52deg,#01dbe2 53deg,#07cee7 54deg,#0ac6e9 55deg,#0bc4ea 56deg,#08cbe8 58deg,#00dee1 61deg,#00dcd4 63deg,#00dcd2 64deg,#00dcd3 65deg,#00dde1 67deg,#09c8e9 69deg,#1c9bf8 72deg,#208ef9 73deg,#2a54f4 78deg,#3740e8 82deg,#393ce6 84deg,#3640e8 86deg,#2c51f2 89deg,#285ef5 90deg,#1d97fa 93deg,#07cee6 95deg,#00dbcd 96deg,#00cc74 98deg,#00bd4f 99deg,#09b22a 100deg,#52c70f 101deg,#9dda00 102deg,#e5e700 103deg,#ffd400 104deg,#ffb200 105deg,#ff9400 106deg,#fb8200 107deg,#f56700 109deg,#f05000 112deg,#e94603 117deg,#e13908 120deg,#0000 120deg)"></i>
<i style="inset:68.5px;background:conic-gradient(from 30deg,#e6e700 0deg,#e7e800 4deg,#f1e900 6deg,#faeb00 7deg,#ffe800 8deg,#ffb000 15deg,#ffa200 18deg,#ff9f00 20deg,#ffa900 23deg,#ffd600 29deg,#ffe900 34deg,#fcec00 35deg,#f4ea00 36deg,#dce600 38deg,#cbe200 39deg,#79d302 43deg,#57c90e 45deg,#41c215 46deg,#22b921 47deg,#00b132 48deg,#00ca6f 50deg,#00d8b8 52deg,#00dcd5 53deg,#03d8e3 54deg,#06cfe6 55deg,#08cbe8 57deg,#00dee1 62deg,#00dddd 64deg,#00dee0 65deg,#02d9e3 66deg,#0ac5ea 68deg,#1e97fa 71deg,#2571f7 74deg,#2b53f3 77deg,#393ce6 82deg,#3a3be0 84deg,#373fe8 87deg,#2c51f2 90deg,#285ef5 91deg,#1d98f9 94deg,#06d1e6 96deg,#00dbc8 97deg,#00ca6e 99deg,#00ba48 100deg,#17b625 101deg,#61cc0a 102deg,#a9dc00 103deg,#ede900 104deg,#ffd200 105deg,#ff9700 107deg,#fb8500 108deg,#f66b00 110deg,#f15500 113deg,#ee4d01 116deg,#e33d06 120deg,#0000 120deg)"></i>
<i style="inset:70.5px;background:conic-gradient(from 30deg,#d5e400 0deg,#d1e400 3deg,#d6e400 5deg,#e5e700 7deg,#ffec00 9deg,#ffaf00 16deg,#ffa200 18deg,#ff9c00 20deg,#ff9c00 21deg,#ffa500 23deg,#ffd700 28deg,#ffec00 31deg,#d3e400 38deg,#bce000 40deg,#7cd400 44deg,#69ce07 45deg,#51c710 46deg,#31bd1b 47deg,#07b12a 48deg,#00b945 49deg,#00d184 51deg,#00d6a9 52deg,#00dac7 53deg,#00dddc 54deg,#03d7e3 55deg,#05d1e6 57deg,#00dde1 62deg,#02d9e3 65deg,#09c9e8 67deg,#1c9bf8 70deg,#208bf9 71deg,#2764f5 74deg,#2c51f2 76deg,#393ce4 82deg,#3a3add 84deg,#3a3bdf 86deg,#373fe8 88deg,#2c50f2 91deg,#295cf5 92deg,#1e96fa 95deg,#05d1e6 97deg,#00dac6 98deg,#00d395 99deg,#00b742 101deg,#25ba20 102deg,#6fd005 103deg,#b5de00 104deg,#f8eb00 105deg,#ffcd00 106deg,#ff9400 108deg,#fb8300 109deg,#f56800 111deg,#f05100 114deg,#e03808 120deg,#0000 120deg)"></i>
<i style="inset:72.5px;background:conic-gradient(from 30deg,#c5e100 0deg,#c0e000 3deg,#c3e100 5deg,#d2e400 7deg,#fdec00 10deg,#ffac00 17deg,#ff9f00 19deg,#ff9b00 21deg,#ff9e00 22deg,#ffac00 24deg,#ffe600 29deg,#fbeb00 30deg,#e3e700 32deg,#d4e400 34deg,#bce000 40deg,#b4de00 41deg,#9ad900 43deg,#74d103 45deg,#59c90d 46deg,#35bf1a 47deg,#09b22a 48deg,#00b944 49deg,#00d182 51deg,#00d6a6 52deg,#00dac3 53deg,#00ddd7 54deg,#01dce2 55deg,#03d6e4 57deg,#00dee0 63deg,#03d8e3 65deg,#0ac6e9 67deg,#1e97fa 70deg,#295bf5 74deg,#2c52f3 75deg,#393ce6 81deg,#3a3adb 85deg,#383ee7 89deg,#2d4ff1 92deg,#295af5 93deg,#1e95fa 96deg,#05d2e5 98deg,#00dac2 99deg,#00d28d 100deg,#00b336 102deg,#3fc216 103deg,#8cd700 104deg,#d3e400 105deg,#ffdf00 106deg,#ff9f00 108deg,#fc8800 109deg,#f87700 110deg,#f25b00 112deg,#e74304 115deg,#da2f0b 120deg,#0000 120deg)"></i>
<i style="inset:74.5px;background:conic-gradient(from 30deg,#badf00 0deg,#b1de00 4deg,#b9df00 6deg,#cee300 8deg,#ffeb00 11deg,#ffb100 17deg,#ffa300 19deg,#ff9d00 21deg,#ff9f00 22deg,#ffae00 24deg,#ffeb00 29deg,#dee600 31deg,#bbdf00 34deg,#a9dc00 37deg,#a3db00 41deg,#91d800 43deg,#81d500 44deg,#69ce07 45deg,#4ac512 46deg,#21b921 47deg,#00b336 48deg,#00cc73 50deg,#00d8b6 52deg,#00dbce 53deg,#00dddd 54deg,#01dbe2 55deg,#02dae2 57deg,#00dee0 59deg,#00dddb 62deg,#00dee1 64deg,#02d9e3 65deg,#09c8e9 67deg,#0ebced 68deg,#1c9bf8 70deg,#208bf9 71deg,#2959f4 74deg,#3149ee 76deg,#393ce5 80deg,#3a3ada 84deg,#3a3adb 87deg,#383de7 90deg,#2e4ef0 93deg,#2957f4 94deg,#1e94fa 97deg,#03d7e3 99deg,#00d8b5 100deg,#00cf7b 101deg,#00bc4d 102deg,#1bb723 103deg,#70d005 104deg,#bfe000 105deg,#ffe600 106deg,#ff9e00 108deg,#fb8500 109deg,#f77000 110deg,#f05000 112deg,#de3509 115deg,#d3240f 120deg,#0000 120deg)"></i>
<i style="inset:76.5px;background:conic-gradient(from 30deg,#b3de00 0deg,#a8dc00 4deg,#aedd00 6deg,#c3e100 8deg,#f9eb00 11deg,#ffe400 12deg,#ffc600 15deg,#ffad00 18deg,#ffa200 20deg,#ffa100 21deg,#ffa300 22deg,#ffb300 24deg,#ffe700 28deg,#f1e900 29deg,#dde600 30deg,#bce000 32deg,#80d400 37deg,#73d104 39deg,#6fd005 42deg,#68ce08 43deg,#5bca0c 44deg,#44c315 45deg,#22b921 46deg,#00b133 47deg,#00cb71 49deg,#00d8b9 51deg,#00dcd3 52deg,#01dce2 53deg,#04d5e4 55deg,#00dee1 58deg,#00ddd7 61deg,#00ddd9 63deg,#01dce2 65deg,#0bc4ea 68deg,#10b7ef 69deg,#1e94fa 71deg,#285df5 74deg,#2d50f1 75deg,#3542e9 77deg,#393be3 79deg,#3a3ada 83deg,#3a39d8 87deg,#393de6 91deg,#2e4df0 94deg,#2a57f4 95deg,#227ff8 97deg,#1d99f9 98deg,#0ebded 99deg,#00ddd8 100deg,#00d499 101deg,#00c461 102deg,#00af2d 103deg,#5dcb0b 104deg,#b6de00 105deg,#ffe700 106deg,#ff9600 108deg,#f46400 110deg,#f05100 111deg,#e64105 112deg,#de3509 113deg,#d4260e 115deg,#cb1912 120deg,#0000 120deg)"></i>
<i style="inset:78.5px;background:conic-gradient(from 30deg,#b1de00 0deg,#a6dc00 4deg,#acdd00 6deg,#c2e100 8deg,#f7eb00 11deg,#ffe500 12deg,#ffc800 15deg,#ffb000 18deg,#ffa700 20deg,#ffa700 21deg,#ffaa00 22deg,#ffbc00 24deg,#ffe500 27deg,#f2ea00 28deg,#c6e100 30deg,#b5de00 31deg,#81d500 35deg,#48c413 38deg,#3bc018 39deg,#33be1b 40deg,#2abb1e 43deg,#1eb822 44deg,#09b22a 45deg,#00b53b 46deg,#00cb72 48deg,#00d9be 50deg,#00dddb 51deg,#04d4e4 52deg,#07cde7 53deg,#08cce7 54deg,#00dde1 58deg,#00dcd5 61deg,#00ddd7 63deg,#01dbe2 66deg,#06cfe6 68deg,#0bc4ea 69deg,#11b6ef 70deg,#1f8ff9 72deg,#2b53f3 75deg,#383de7 78deg,#3a3adc 81deg,#3a39d8 84deg,#3a39d8 87deg,#3a3ade 90deg,#3542e9 93deg,#2e4ef1 95deg,#2959f4 96deg,#2186f9 98deg,#18a5f5 99deg,#07cee6 100deg,#00d8b6 101deg,#00cc73 102deg,#00b53b 103deg,#4bc512 104deg,#acdd00 105deg,#ffe800 106deg,#ffb800 107deg,#fe8f00 108deg,#f25900 110deg,#dd3409 112deg,#d5280d 113deg,#cc1a12 115deg,#c81414 117deg,#c61316 120deg,#0000 120deg)"></i>
<i style="inset:80.5px;background:conic-gradient(from 30deg,#b4de00 0deg,#acdd00 4deg,#b4de00 6deg,#cae200 8deg,#fdec00 11deg,#ffc400 16deg,#ffb800 18deg,#ffb200 20deg,#ffb300 21deg,#ffbf00 23deg,#ffe500 26deg,#f0e900 27deg,#bde000 29deg,#aadc00 30deg,#9dda00 31deg,#86d600 34deg,#7ad301 35deg,#66cd08 36deg,#1db822 39deg,#0cb329 40deg,#01af2d 41deg,#00b438 43deg,#00bd4f 45deg,#00cf7a 47deg,#00d9c0 49deg,#00dede 50deg,#06d0e6 51deg,#0ac7e9 52deg,#0bc4ea 53deg,#0ac6e9 54deg,#01dbe2 58deg,#00dede 59deg,#00ddd7 62deg,#00dee1 67deg,#05d1e6 69deg,#0bc4ea 70deg,#1c9cf8 72deg,#2186f9 73deg,#295bf5 75deg,#2e4ef1 76deg,#3640e9 78deg,#393ce6 79deg,#3a3adb 83deg,#3a3adc 89deg,#393ce6 92deg,#2c50f2 96deg,#285ef5 97deg,#1f8ff9 99deg,#11b5ef 100deg,#00ddd9 101deg,#00d391 102deg,#00be52 103deg,#28bb1f 104deg,#91d800 105deg,#f2ea00 106deg,#ffc000 107deg,#fe9200 108deg,#f77100 109deg,#f15500 110deg,#e43e06 111deg,#d92d0c 112deg,#d12110 113deg,#c81414 115deg,#c41219 120deg,#0000 120deg)"></i>
<i style="inset:82.5px;background:conic-gradient(from 30deg,#bbe000 0deg,#b6df00 3deg,#badf00 5deg,#cae200 7deg,#f5ea00 10deg,#ffe900 11deg,#ffd200 15deg,#ffc500 20deg,#ffcb00 22deg,#ffd200 23deg,#ffe800 25deg,#eee900 26deg,#b9df00 28deg,#a2db00 29deg,#91d800 30deg,#86d600 31deg,#7ed400 34deg,#76d203 35deg,#65cd09 36deg,#00b02e 40deg,#00c055 43deg,#00cd77 45deg,#00d390 46deg,#00dbcb 48deg,#01dbe2 49deg,#07cde7 50deg,#0bc4ea 51deg,#0cc0eb 52deg,#0ac5ea 54deg,#03d7e3 57deg,#00dee0 59deg,#00ddd8 65deg,#00dddb 67deg,#00dee0 68deg,#03d7e3 69deg,#08cae8 70deg,#0fb9ee 71deg,#208df9 73deg,#2763f5 75deg,#2b52f3 76deg,#3444ea 78deg,#393ce5 80deg,#3a3add 83deg,#3a3add 88deg,#373fe8 93deg,#2c51f2 97deg,#2860f5 98deg,#2477f7 99deg,#1f93fa 100deg,#0ebded 101deg,#00dbcb 102deg,#00d07e 103deg,#00b842 104deg,#49c513 105deg,#b3de00 106deg,#ffdf00 107deg,#ffab00 108deg,#fb8100 109deg,#f46100 110deg,#ea4703 111deg,#dd3409 112deg,#d4260e 113deg,#cb1813 115deg,#c51219 120deg,#0000 120deg)"></i>
<i style="inset:84.5px;background:conic-gradient(from 30deg,#c4e100 0deg,#c0e000 3deg,#c5e100 5deg,#d5e400 7deg,#fbeb00 10deg,#ffe800 11deg,#ffdf00 13deg,#ffdc00 15deg,#ffdf00 21deg,#ffe700 23deg,#fbeb00 24deg,#e9e800 25deg,#a4db00 28deg,#7fd400 30deg,#74d103 31deg,#6ed005 34deg,#68ce07 35deg,#5cca0c 36deg,#47c413 37deg,#10b427 39deg,#00b235 40deg,#00ca70 43deg,#00d289 44deg,#00dac7 46deg,#01dce2 47deg,#0cc1eb 49deg,#0fb9ee 51deg,#0cc1eb 53deg,#01dce2 57deg,#00ddda 60deg,#00dcd6 65deg,#00dddb 67deg,#00dde1 68deg,#09c8e9 70deg,#10b7ef 71deg,#208cf9 73deg,#2a53f4 76deg,#2f4cef 77deg,#393de6 80deg,#3a3ade 84deg,#3a3ade 87deg,#383de7 92deg,#3149ed 97deg,#2958f4 99deg,#256ef6 100deg,#208af9 101deg,#13b1f1 102deg,#00dddc 103deg,#00d28e 104deg,#00bc4c 105deg,#3bc018 106deg,#abdc00 107deg,#ffe000 108deg,#ffaa00 109deg,#fa8100 110deg,#f46200 111deg,#ec4a02 112deg,#e13908 113deg,#d92d0c 114deg,#d01f10 116deg,#c61316 120deg,#0000 120deg)"></i>
<i style="inset:86.5px;background:conic-gradient(from 30deg,#cae200 0deg,#c6e100 3deg,#c8e200 5deg,#d4e400 7deg,#faeb00 11deg,#ffec00 12deg,#ffeb00 14deg,#f0e900 18deg,#ece900 22deg,#e6e700 23deg,#cee300 25deg,#80d500 29deg,#6fd005 30deg,#64cd09 31deg,#51c710 35deg,#47c414 36deg,#35bf1a 37deg,#1eb822 38deg,#00af2d 39deg,#00b741 40deg,#00cb70 42deg,#00d390 43deg,#00ddda 45deg,#08cbe7 46deg,#0fb9ee 47deg,#14aef2 48deg,#16a9f3 49deg,#16aaf3 50deg,#13b0f1 51deg,#03d8e3 55deg,#00dee0 56deg,#00dcd6 58deg,#00dcd4 60deg,#00dcd6 65deg,#00dedf 67deg,#02d8e3 68deg,#0dc0eb 70deg,#1c9af8 72deg,#2188f9 73deg,#2b52f3 76deg,#393ce6 80deg,#3a3be0 82deg,#3a3add 85deg,#393ce6 94deg,#3740e8 97deg,#2d4ff1 100deg,#285df5 101deg,#2477f7 102deg,#1d98f9 103deg,#08cbe8 104deg,#00d6aa 105deg,#00c35c 106deg,#26ba1f 107deg,#9eda00 108deg,#ffe600 109deg,#ffb000 110deg,#fc8600 111deg,#f56900 112deg,#f15200 113deg,#e74205 114deg,#d82c0c 116deg,#ce1d11 118deg,#c81414 120deg,#0000 120deg)"></i>
<i style="inset:88.5px;background:conic-gradient(from 30deg,#cde300 0deg,#c2e100 4deg,#c0e000 6deg,#d8e500 12deg,#d4e400 14deg,#c4e100 18deg,#c8e200 21deg,#c5e100 23deg,#b1de00 25deg,#7cd400 28deg,#59c90d 30deg,#4cc612 31deg,#44c315 32deg,#36bf1a 35deg,#2dbc1d 36deg,#1eb822 37deg,#08b12a 38deg,#00b43a 39deg,#00bd4f 40deg,#00c768 41deg,#00d186 42deg,#00ddd9 44deg,#09c8e8 45deg,#12b2f0 46deg,#19a3f6 47deg,#1c9bf8 48deg,#1c9cf8 49deg,#19a2f6 50deg,#01dde1 55deg,#00dcd3 57deg,#00dccf 59deg,#00dcd5 64deg,#00dede 66deg,#02dae2 67deg,#0ac6e9 69deg,#1f93fa 72deg,#285ef5 75deg,#2c51f2 76deg,#3444ea 78deg,#393ce5 80deg,#3a3ade 82deg,#3a3adb 85deg,#393be3 97deg,#3444eb 100deg,#2957f4 102deg,#2474f7 103deg,#1d99f9 104deg,#06d1e6 105deg,#00d49b 106deg,#00bc4e 107deg,#42c315 108deg,#b6df00 109deg,#ffdb00 110deg,#ffa900 111deg,#fb8300 112deg,#f56800 113deg,#f15300 114deg,#e74205 115deg,#d6290d 117deg,#c81414 120deg,#0000 120deg)"></i>
<i style="inset:90.5px;background:conic-gradient(from 30deg,#cbe200 0deg,#c2e100 2deg,#a8dc00 6deg,#a0da00 8deg,#9cda00 12deg,#8dd700 17deg,#98d900 22deg,#92d800 24deg,#7cd400 26deg,#49c513 29deg,#2dbc1d 31deg,#25ba20 32deg,#1ab723 35deg,#13b526 36deg,#06b12b 37deg,#00b336 38deg,#00ba47 39deg,#00cd75 41deg,#00d9bf 43deg,#01dbe2 44deg,#0bc3ea 45deg,#13b0f1 46deg,#18a3f5 47deg,#1b9ef7 48deg,#1aa0f6 49deg,#17a8f4 50deg,#00dee1 55deg,#00dcd4 57deg,#00dcd1 60deg,#00dcd4 63deg,#00dde1 66deg,#07cce7 68deg,#0cc0eb 69deg,#208ef9 72deg,#295bf5 75deg,#2d50f1 76deg,#383ee7 79deg,#3a3adc 82deg,#3a39d9 84deg,#3a3bdf 95deg,#373fe8 99deg,#2f4cef 101deg,#2957f4 102deg,#2473f7 103deg,#1e96fa 104deg,#08cbe8 105deg,#00d6a8 106deg,#00c25b 107deg,#24ba20 108deg,#96d900 109deg,#fceb00 110deg,#ffbb00 111deg,#fe9000 112deg,#f25b00 114deg,#ea4803 115deg,#d72b0c 117deg,#d12110 118deg,#c81414 120deg,#0000 120deg)"></i>
<i style="inset:92.5px;background:conic-gradient(from 30deg,#c3e100 0deg,#addd00 3deg,#74d103 8deg,#65cd09 10deg,#51c710 14deg,#49c513 17deg,#4cc512 19deg,#59c90d 23deg,#55c80e 25deg,#43c315 27deg,#13b526 31deg,#00af2e 35deg,#00b53b 37deg,#00c057 39deg,#00d182 41deg,#00dddd 44deg,#06cfe6 45deg,#10b8ee 47deg,#12b4f0 48deg,#0fbaee 50deg,#05d2e5 53deg,#00dee0 55deg,#00ddd8 57deg,#00dcd4 62deg,#00ddd8 64deg,#01dde2 66deg,#08cbe7 68deg,#0dbfec 69deg,#208df9 72deg,#295bf5 75deg,#314aee 77deg,#393ce4 80deg,#3a3adc 82deg,#3a39d8 85deg,#3a3add 92deg,#393ce5 96deg,#3641e9 98deg,#2e4df0 100deg,#2957f4 101deg,#256ff6 102deg,#208cf9 103deg,#11b5ef 104deg,#00dcd3 105deg,#00d185 106deg,#00b946 107deg,#40c216 108deg,#a9dc00 109deg,#ffe700 110deg,#ffb700 111deg,#fe8f00 112deg,#f35c00 114deg,#eb4902 115deg,#d92e0b 117deg,#cb1912 120deg,#0000 120deg)"></i>
<i style="inset:94.5px;background:conic-gradient(from 30deg,#b5de00 0deg,#a6dc00 2deg,#7ed400 5deg,#4fc611 8deg,#37bf19 10deg,#1eb822 13deg,#11b427 16deg,#0eb328 18deg,#12b427 20deg,#25ba20 24deg,#29bb1e 26deg,#21b921 28deg,#00af2e 32deg,#00b439 34deg,#00bb4a 36deg,#00c664 38deg,#00cd75 39deg,#00dbcb 43deg,#00dddb 44deg,#02d9e3 45deg,#07cde7 47deg,#08cae8 48deg,#07cee7 50deg,#00dede 54deg,#00ddd9 56deg,#00dcd3 62deg,#00dcd5 64deg,#00dedf 66deg,#02d9e3 67deg,#0bc4ea 69deg,#1f91fa 72deg,#2b53f3 76deg,#383de7 80deg,#3a3add 83deg,#3a3adc 85deg,#3a3bdf 90deg,#393ce6 94deg,#3346ec 97deg,#2c51f3 99deg,#2860f5 100deg,#1f90f9 102deg,#11b5ef 103deg,#00dddc 104deg,#00d497 105deg,#00c159 106deg,#17b625 107deg,#7dd400 108deg,#dae500 109deg,#ffd000 110deg,#ffa500 111deg,#fb8500 112deg,#f25900 114deg,#ec4902 115deg,#dd3409 117deg,#d2240f 120deg,#0000 120deg)"></i>
<i style="inset:96.5px;background:conic-gradient(from 30deg,#a3db00 0deg,#92d800 2deg,#78d302 4deg,#28bb1e 9deg,#10b427 11deg,#00af2e 13deg,#00b234 15deg,#00b337 18deg,#00b030 22deg,#03b02c 23deg,#12b426 25deg,#1bb723 27deg,#17b625 29deg,#04b02c 31deg,#00b63e 33deg,#00c25b 35deg,#00d080 37deg,#00d8b5 39deg,#00dee1 41deg,#04d4e5 42deg,#07cde7 43deg,#08cae8 45deg,#06cfe6 48deg,#00dedf 52deg,#00dcd2 55deg,#00dbcd 62deg,#00dcd0 65deg,#00dddd 67deg,#02d9e3 68deg,#07cee7 69deg,#0dbfec 70deg,#1c9bf8 72deg,#208af9 73deg,#2959f4 76deg,#2d50f2 77deg,#3345eb 79deg,#393ce6 82deg,#393be2 86deg,#393ce6 91deg,#3345eb 95deg,#2957f4 98deg,#237cf8 100deg,#1e94fa 101deg,#00dee0 103deg,#00d5a1 104deg,#00c666 105deg,#00b030 106deg,#5cca0c 107deg,#b9df00 108deg,#ffe200 109deg,#ffb600 110deg,#fe9200 111deg,#f97900 112deg,#f56600 113deg,#f15700 114deg,#e84404 116deg,#dd330a 120deg,#0000 120deg)"></i>
<i style="inset:98.5px;background:conic-gradient(from 30deg,#90d800 0deg,#80d400 2deg,#74d103 3deg,#1db823 9deg,#06b12b 11deg,#00b02f 12deg,#00b336 14deg,#00b53b 17deg,#00b338 20deg,#00af2d 23deg,#0eb328 25deg,#17b625 27deg,#12b427 29deg,#07b12a 30deg,#00b133 31deg,#00b740 32deg,#00c767 34deg,#00d080 35deg,#00dac7 37deg,#03d7e4 38deg,#16aaf3 40deg,#1c9bf8 41deg,#1f92fa 42deg,#1f90f9 43deg,#1d99f9 45deg,#07cde7 50deg,#00dee1 52deg,#00dbcd 55deg,#00dac6 62deg,#00dac8 65deg,#00dcd2 67deg,#00dddc 68deg,#03d8e3 69deg,#08cae8 70deg,#1e93fa 73deg,#2a54f4 77deg,#3642e9 81deg,#383de6 87deg,#3642e9 92deg,#2c51f2 96deg,#295bf5 97deg,#266bf6 98deg,#1e94fa 100deg,#03d7e4 102deg,#00d8b3 103deg,#00ce78 104deg,#00ba48 105deg,#2cbc1d 106deg,#88d600 107deg,#dfe600 108deg,#ffd100 109deg,#ffa900 110deg,#fd8a00 111deg,#f87600 112deg,#f56600 113deg,#f25b00 114deg,#ef4f00 116deg,#e84404 120deg,#0000 120deg)"></i>
<i style="inset:100.5px;background:conic-gradient(from 30deg,#7fd400 0deg,#64cd09 3deg,#1bb723 9deg,#00af2d 12deg,#00b235 17deg,#01af2d 22deg,#0db328 26deg,#05b02b 28deg,#00b030 29deg,#00ba48 31deg,#00cc73 33deg,#00d394 34deg,#00d9bd 35deg,#02d9e3 36deg,#0fb9ee 37deg,#1c9bf8 38deg,#2570f7 40deg,#2862f5 41deg,#2959f4 42deg,#2958f4 43deg,#285df5 44deg,#2475f7 46deg,#1e95fa 48deg,#09c9e8 51deg,#00dede 53deg,#00dcd4 54deg,#00dbc8 56deg,#00dac1 63deg,#00dac7 66deg,#00dbcd 67deg,#01dce2 69deg,#0cc1eb 71deg,#1c9cf8 73deg,#266af6 76deg,#2c51f2 78deg,#3444ea 81deg,#373ee7 86deg,#3543ea 91deg,#2c51f2 95deg,#295bf5 96deg,#2669f6 97deg,#1f8ff9 99deg,#16a9f3 100deg,#09c8e9 101deg,#00dbcf 102deg,#00d499 103deg,#00c767 104deg,#00b43a 105deg,#3dc117 106deg,#91d800 107deg,#dfe600 108deg,#ffd500 109deg,#ffb100 110deg,#fe9300 111deg,#f87300 113deg,#f56900 114deg,#f35e00 116deg,#f15300 120deg,#0000 120deg)"></i>
<i style="inset:102.5px;background:conic-gradient(from 30deg,#70d005 0deg,#61cc0a 2deg,#1db823 9deg,#04b02b 13deg,#00af2d 15deg,#00af2d 18deg,#06b12b 22deg,#04b02c 24deg,#00af2d 25deg,#00b337 27deg,#00bb4b 29deg,#00c96c 31deg,#00d185 32deg,#00dcd2 34deg,#09c9e8 35deg,#16a8f4 36deg,#208bf9 37deg,#295bf5 39deg,#2d4ef1 40deg,#3444eb 42deg,#3444ea 43deg,#3247ec 44deg,#2a55f4 46deg,#1f93fa 49deg,#0dbfec 51deg,#00dee1 53deg,#00dcd4 54deg,#00dac7 56deg,#00dac2 63deg,#00dac8 66deg,#00dbce 67deg,#01dce2 69deg,#0bc3ea 71deg,#1f90f9 74deg,#2a55f4 78deg,#3543ea 82deg,#373fe8 87deg,#3444eb 91deg,#2a55f4 95deg,#2572f7 97deg,#1d99f9 99deg,#05d3e5 101deg,#00dac2 102deg,#00d390 103deg,#00b53b 105deg,#32be1b 106deg,#7dd400 107deg,#c2e100 108deg,#ffea00 109deg,#ffae00 111deg,#ff9700 112deg,#fc8900 113deg,#f76f00 116deg,#f35f00 120deg,#0000 120deg)"></i>
<i style="inset:104.5px;background:conic-gradient(from 30deg,#62cc0a 0deg,#55c80e 2deg,#25ba20 8deg,#0fb427 12deg,#08b12a 15deg,#06b12b 20deg,#00af2d 22deg,#00b53c 25deg,#00c35d 28deg,#00d181 30deg,#00dac1 32deg,#02dae2 33deg,#1a9ff7 35deg,#2a56f4 38deg,#3444eb 40deg,#393ce6 42deg,#3640e9 44deg,#2d4ff1 46deg,#285ff5 47deg,#1f8ef9 49deg,#0dc0eb 51deg,#04d3e5 52deg,#00dddc 53deg,#00dbcf 54deg,#00dac7 55deg,#00dac3 57deg,#00dac8 65deg,#00dcd1 67deg,#01dbe2 69deg,#0bc5ea 71deg,#1e96fa 74deg,#2a53f4 79deg,#3444eb 83deg,#3640e8 88deg,#2f4cef 93deg,#2958f4 95deg,#2187f9 98deg,#1c9cf8 99deg,#04d4e5 101deg,#00dac3 102deg,#00d395 103deg,#00c86b 104deg,#00b946 105deg,#16b525 106deg,#58c90d 107deg,#96d900 108deg,#cfe300 109deg,#ffe900 110deg,#ffb800 112deg,#ff9400 114deg,#f87800 117deg,#f56700 120deg,#0000 120deg)"></i>
<i style="inset:106.5px;background:conic-gradient(from 30deg,#54c80f 0deg,#27bb1f 7deg,#13b526 11deg,#00af2e 19deg,#00b233 21deg,#00b63e 23deg,#00c35d 26deg,#00d07c 28deg,#00d396 29deg,#00dcd3 31deg,#06cfe6 32deg,#1c9af9 34deg,#2958f4 37deg,#2e4df0 38deg,#3740e8 40deg,#393ce5 42deg,#3641e9 44deg,#2d50f2 46deg,#2861f5 47deg,#1f90f9 49deg,#0bc3ea 51deg,#03d7e4 52deg,#00ddd7 53deg,#00dbca 54deg,#00dac4 55deg,#00dac2 57deg,#00dbcb 65deg,#00dcd3 67deg,#01dbe2 69deg,#0ebced 72deg,#1f93fa 75deg,#2957f4 80deg,#3149ee 83deg,#3543ea 86deg,#3543ea 90deg,#2d50f2 94deg,#2a56f4 95deg,#2764f5 96deg,#1d98f9 99deg,#07cde7 101deg,#00dccf 102deg,#00ce79 104deg,#00b235 106deg,#2dbc1d 107deg,#68ce08 108deg,#9eda00 109deg,#ffec00 111deg,#ffbf00 113deg,#ff9b00 115deg,#fb8300 117deg,#f66e00 120deg,#0000 120deg)"></i>
<i style="inset:108.5px;background:conic-gradient(from 30deg,#46c414 0deg,#19b624 8deg,#05b02b 13deg,#00af2e 15deg,#00b235 18deg,#00b843 21deg,#00c35d 24deg,#00ce77 26deg,#00d5a3 28deg,#00dddc 30deg,#08cbe8 31deg,#1c9af9 33deg,#285df5 36deg,#2d50f2 37deg,#3542ea 39deg,#393ce6 41deg,#383ee7 43deg,#2c52f3 46deg,#2763f5 47deg,#1f8ff9 49deg,#0dbeec 51deg,#05d1e5 52deg,#00dedf 53deg,#00dcd2 54deg,#00dbca 55deg,#00dac4 57deg,#00dbcb 65deg,#00dcd3 67deg,#00dee1 69deg,#0bc4ea 72deg,#1e93fa 76deg,#2a53f4 82deg,#3443ea 87deg,#3444eb 91deg,#2b53f3 95deg,#256df6 97deg,#1f90f9 99deg,#17a7f4 100deg,#00dee1 102deg,#00d28e 104deg,#00bb4a 106deg,#06b12b 107deg,#75d203 109deg,#d6e400 111deg,#ffea00 112deg,#ffbe00 114deg,#ff9900 116deg,#fb8100 118deg,#f77200 120deg,#0000 120deg)"></i>
<i style="inset:110.5px;background:conic-gradient(from 30deg,#37bf19 0deg,#01af2c 10deg,#00b53c 16deg,#00bd4f 20deg,#00c868 23deg,#00d182 25deg,#00d7ad 27deg,#00dedf 29deg,#1aa0f7 32deg,#208bf9 33deg,#2a55f4 36deg,#3641e9 39deg,#383de7 42deg,#3444eb 44deg,#2b53f3 46deg,#208bf9 49deg,#1aa0f7 50deg,#0ac6e9 52deg,#00dee1 54deg,#00dcd0 56deg,#00dbc8 60deg,#00dbca 65deg,#00dcd0 67deg,#00dddc 69deg,#01dce2 70deg,#07cde7 72deg,#1e94fa 77deg,#2a53f4 83deg,#3247ec 86deg,#3641e9 89deg,#3542ea 91deg,#2d50f1 95deg,#2957f4 96deg,#2187f9 99deg,#1c9bf8 100deg,#06d0e6 102deg,#00dbcd 103deg,#00cf7a 105deg,#00b53b 107deg,#20b822 108deg,#57c90e 109deg,#8cd700 110deg,#ece900 112deg,#ffde00 113deg,#ff9d00 116deg,#fb8200 118deg,#f77200 120deg,#0000 120deg)"></i>
<i style="inset:112.5px;background:conic-gradient(from 30deg,#26ba1f 0deg,#00b02f 7deg,#00ba47 15deg,#00c25b 19deg,#00c86a 21deg,#00d07e 23deg,#00d5a1 25deg,#00dee1 28deg,#1e94fa 32deg,#2a54f4 36deg,#3443ea 39deg,#3740e8 41deg,#3149ed 44deg,#2959f4 46deg,#208df9 49deg,#1a9ff7 50deg,#0cc1eb 52deg,#02d8e3 54deg,#00dede 55deg,#00dbcd 58deg,#00dac7 64deg,#00dbcc 67deg,#00dddd 70deg,#01dbe2 71deg,#0cc0eb 74deg,#1f91fa 78deg,#2a56f4 83deg,#304bef 85deg,#3641e9 88deg,#3641e9 92deg,#2b52f3 96deg,#256ef6 98deg,#1f92fa 100deg,#0ac6e9 102deg,#00dddb 103deg,#00d186 105deg,#00b843 107deg,#12b426 108deg,#84d500 110deg,#ebe800 112deg,#ffdd00 113deg,#ff9800 116deg,#f97c00 118deg,#f66b00 120deg,#0000 120deg)"></i>
<i style="inset:114.5px;background:conic-gradient(from 30deg,#15b525 0deg,#00b02f 4deg,#00c057 15deg,#00ca6e 19deg,#00d07e 21deg,#00d28b 22deg,#00d6ab 24deg,#01dbe2 27deg,#1d99f9 31deg,#2a53f4 36deg,#3247ec 39deg,#3346ec 41deg,#2f4cef 43deg,#295af5 45deg,#1d98f9 49deg,#09c8e9 52deg,#00dde1 54deg,#00dcd1 56deg,#00dbc9 58deg,#00dac2 63deg,#00dac7 67deg,#00dcd1 69deg,#00dee1 71deg,#0bc4ea 74deg,#1f93fa 78deg,#2a56f4 83deg,#3543ea 87deg,#383ee7 90deg,#3543ea 93deg,#2c51f2 96deg,#256df6 98deg,#1f92fa 100deg,#0ac5ea 102deg,#00dddb 103deg,#00d186 105deg,#00b741 107deg,#1ab724 108deg,#57c90e 109deg,#93d800 110deg,#ffeb00 112deg,#ffb400 114deg,#ff9c00 115deg,#fc8900 116deg,#f66e00 118deg,#f35d00 120deg,#0000 120deg)"></i>
<i style="inset:116.5px;background:conic-gradient(from 30deg,#04b02b 0deg,#00af2e 1deg,#00c664 14deg,#00ce79 18deg,#00d497 21deg,#00d8b4 23deg,#00ddd7 25deg,#03d8e3 26deg,#1d99f9 30deg,#2958f4 35deg,#2e4df0 37deg,#304aee 40deg,#2a53f4 43deg,#285ff5 44deg,#1c9bf8 48deg,#08cbe8 51deg,#03d7e3 52deg,#00dddd 53deg,#00dbcb 55deg,#00dac1 57deg,#00d9bb 62deg,#00dac3 67deg,#00dbcd 69deg,#00dddd 71deg,#02d9e3 72deg,#0ac6e9 74deg,#1e95fa 78deg,#2959f4 83deg,#3248ed 86deg,#3740e8 90deg,#3543ea 92deg,#2c50f2 95deg,#2959f4 96deg,#208bf9 99deg,#1aa1f6 100deg,#04d5e4 102deg,#00dac5 103deg,#00cc72 105deg,#00af2e 107deg,#80d400 109deg,#f8eb00 111deg,#ffd000 112deg,#ff9600 114deg,#fb8300 115deg,#f46400 117deg,#f25800 118deg,#ec4902 120deg,#0000 120deg)"></i>
<i style="inset:118.5px;background:conic-gradient(from 30deg,#00b133 0deg,#00d07d 16deg,#00d59f 20deg,#00d8b8 22deg,#00ddd7 24deg,#02d9e3 25deg,#1c9af8 29deg,#2958f4 34deg,#2e4df0 36deg,#3149ee 38deg,#2d4ef1 41deg,#2b53f3 42deg,#285df5 43deg,#1e96fa 47deg,#09c7e9 50deg,#00dee1 52deg,#00dbcc 54deg,#00d9c1 56deg,#00d8b9 61deg,#00d9bb 64deg,#00dac2 67deg,#00dbcc 69deg,#01dce2 72deg,#0cc1eb 75deg,#1f91fa 79deg,#295cf5 84deg,#2a54f4 85deg,#2f4bef 88deg,#304bef 90deg,#2a53f4 93deg,#266af6 95deg,#1c9af8 98deg,#09cae8 100deg,#00ddda 101deg,#00d28c 103deg,#00bb4a 105deg,#09b22a 106deg,#87d600 108deg,#ffea00 110deg,#ffa900 112deg,#fd8d00 113deg,#f56600 115deg,#ed4b02 117deg,#e64205 118deg,#df3708 120deg,#0000 120deg)"></i>
<i style="inset:120.5px;background:conic-gradient(from 30deg,#00b337 0deg,#00ce79 12deg,#00d49b 18deg,#00d8b4 21deg,#00dddb 24deg,#03d6e4 25deg,#09c8e9 26deg,#1e97fa 29deg,#256df6 32deg,#2a55f4 34deg,#2f4df0 36deg,#304aee 38deg,#2e4df0 40deg,#2a56f4 42deg,#1e94fa 47deg,#12b2f0 49deg,#08cae8 51deg,#01dbe2 53deg,#00dede 54deg,#00dbcb 58deg,#00dac6 63deg,#00dbcd 68deg,#00dde1 72deg,#09c8e9 75deg,#1d98f9 80deg,#237af7 84deg,#256df6 87deg,#2570f7 90deg,#237df8 92deg,#1f92fa 94deg,#11b5ef 96deg,#00dee0 98deg,#00cf7c 101deg,#00b944 103deg,#0bb229 104deg,#7ad301 106deg,#e9e800 108deg,#ffd900 109deg,#ff9b00 111deg,#fb8400 112deg,#f35e00 114deg,#ef4e01 115deg,#e13a07 117deg,#d92d0c 120deg,#0000 120deg)"></i>
<i style="inset:122.5px;background:conic-gradient(from 30deg,#00b336 0deg,#00b73f 2deg,#00cf7c 11deg,#00d6ab 20deg,#00d9bc 22deg,#01dce2 25deg,#0cc1eb 27deg,#1f91fa 30deg,#266bf6 33deg,#2959f4 35deg,#2a54f4 36deg,#2c51f2 38deg,#2a54f4 40deg,#2860f5 42deg,#1e96fa 48deg,#12b3f0 51deg,#0cc1eb 53deg,#07cee7 56deg,#03d7e3 60deg,#00dde1 66deg,#02dae2 71deg,#07cde7 75deg,#16aaf3 82deg,#19a3f6 86deg,#16a8f4 88deg,#11b5ef 90deg,#02d8e3 93deg,#00dcd3 94deg,#00d185 97deg,#00b63e 100deg,#0eb328 101deg,#6bcf07 103deg,#99d900 104deg,#f7ea00 106deg,#ffd600 107deg,#ffa200 109deg,#fd8c00 110deg,#f25900 113deg,#ee4c01 114deg,#e13a07 116deg,#dc320a 118deg,#db300b 120deg,#0000 120deg)"></i>
<i style="inset:124.5px;background:conic-gradient(from 30deg,#03b02c 0deg,#00b53b 3deg,#00c768 9deg,#00cf7b 12deg,#00d6a9 21deg,#00d9bb 23deg,#01dde1 26deg,#1d97fa 31deg,#2183f8 33deg,#2474f7 35deg,#266bf6 38deg,#2472f7 42deg,#1f93fa 49deg,#17a7f4 54deg,#10b7ee 61deg,#09c8e9 71deg,#08cce7 81deg,#00dedf 86deg,#00dbc9 88deg,#00d6ab 90deg,#00cb72 93deg,#00b43a 96deg,#0eb328 97deg,#85d500 100deg,#fdec00 103deg,#ff9500 107deg,#f56800 110deg,#f04f00 112deg,#e43d06 114deg,#dd330a 116deg,#db310a 120deg,#0000 120deg)"></i>
<i style="inset:126.5px;background:conic-gradient(from 30deg,#21b921 0deg,#13b526 2deg,#00af2e 4deg,#00c35e 11deg,#00d081 18deg,#00d395 21deg,#00d7b0 24deg,#00dcd6 27deg,#01dbe2 28deg,#0fbbed 31deg,#1c9af9 35deg,#208ef9 39deg,#208cf9 43deg,#1f90f9 56deg,#1e96fa 62deg,#0fbbed 74deg,#00dedf 81deg,#00d9bc 84deg,#00cf7a 88deg,#00b438 92deg,#0eb328 93deg,#7cd400 96deg,#ece800 99deg,#ffe200 100deg,#ffa300 103deg,#f77200 106deg,#f25800 108deg,#e64105 110deg,#d6290d 113deg,#d12110 115deg,#cf1e11 117deg,#d02010 120deg,#0000 120deg)"></i>
<i style="inset:128.5px;background:conic-gradient(from 30deg,#3fc216 0deg,#2dbc1d 3deg,#00b02e 8deg,#00d080 22deg,#00d49c 25deg,#00dddc 31deg,#01dbe2 32deg,#09c8e9 35deg,#1e94fa 47deg,#2184f8 53deg,#237df8 57deg,#237df8 61deg,#2283f8 65deg,#1f91fa 70deg,#1a9ff7 73deg,#0fbbed 77deg,#03d7e3 80deg,#00dddb 81deg,#00dbcb 82deg,#00d6a6 84deg,#00d07c 86deg,#00b132 90deg,#1bb723 91deg,#69ce07 93deg,#90d700 94deg,#dee600 96deg,#ffe800 97deg,#ffa500 100deg,#fa8000 102deg,#f15200 105deg,#d2220f 109deg,#c71316 111deg,#c3111a 112deg,#bc0c24 116deg,#be0d22 120deg,#0000 120deg)"></i>
<i style="inset:130.5px;background:conic-gradient(from 30deg,#4bc512 0deg,#44c314 2deg,#33be1b 5deg,#00af2d 11deg,#00cf7a 24deg,#00dee1 36deg,#1e96fa 47deg,#227ff8 52deg,#256ff6 57deg,#2669f6 61deg,#266df6 66deg,#237bf8 71deg,#1f90f9 75deg,#15abf3 78deg,#06cfe6 81deg,#00dde1 82deg,#00d59e 85deg,#00ca6f 87deg,#00af2e 90deg,#7fd400 93deg,#ffeb00 96deg,#ffa200 99deg,#f97b00 101deg,#eb4803 104deg,#d72b0c 106deg,#c71316 108deg,#b80929 111deg,#b30631 113deg,#b00434 116deg,#b20531 120deg,#0000 120deg)"></i>
<i style="inset:132.5px;background:conic-gradient(from 30deg,#3dc117 0deg,#2bbc1d 5deg,#19b624 8deg,#02af2c 11deg,#00b741 15deg,#00d07f 25deg,#00dee1 36deg,#1e95fa 46deg,#2379f7 51deg,#2764f5 56deg,#2957f4 61deg,#2a54f4 65deg,#2959f4 69deg,#2766f6 73deg,#227df8 77deg,#1d97f9 80deg,#05d2e5 84deg,#00ddd9 85deg,#00d185 88deg,#00b53d 91deg,#11b427 92deg,#6ccf06 94deg,#9ad900 95deg,#f3ea00 97deg,#ffda00 98deg,#fe9100 101deg,#ed4c01 105deg,#da2f0b 107deg,#cb1813 109deg,#c1101d 111deg,#bb0b25 114deg,#bf0e20 120deg,#0000 120deg)"></i>
<i style="inset:134.5px;background:conic-gradient(from 30deg,#0cb329 0deg,#00b02e 5deg,#00b337 8deg,#00ba47 12deg,#00c461 17deg,#00d07f 22deg,#00dde1 33deg,#1e96fa 43deg,#295cf5 54deg,#2a54f4 56deg,#2d4ff1 59deg,#3149ee 68deg,#2a53f4 76deg,#266cf6 80deg,#1e94fa 84deg,#03d8e3 88deg,#00dbce 89deg,#00ce79 92deg,#00b234 95deg,#1cb723 96deg,#6fd005 98deg,#97d900 99deg,#e3e700 101deg,#ffe700 102deg,#ff9d00 106deg,#fb8400 108deg,#f77200 110deg,#f56800 112deg,#f46400 114deg,#f66a00 120deg,#0000 120deg)"></i>
<i style="inset:136.5px;background:conic-gradient(from 30deg,#00c057 0deg,#00c563 7deg,#00d07d 14deg,#00d6a6 20deg,#00dede 27deg,#1e94fa 39deg,#2a54f4 52deg,#3247ed 59deg,#3641e9 66deg,#3444ea 75deg,#2b53f3 82deg,#266af6 85deg,#1f92fa 89deg,#01dce2 94deg,#00cf7a 99deg,#00b133 104deg,#0bb229 105deg,#42c315 108deg,#66cd08 111deg,#7ad301 115deg,#84d500 120deg,#0000 120deg)"></i>
<i style="inset:138.5px;background:conic-gradient(from 30deg,#00d5a0 0deg,#00d8b5 8deg,#00dee0 17deg,#0bc4ea 23deg,#1e97fa 32deg,#2b53f3 48deg,#383ee7 62deg,#393be2 72deg,#3740e8 80deg,#2b53f3 89deg,#1d98f9 100deg,#0fb9ee 105deg,#06d0e6 110deg,#00dedf 115deg,#00dbcb 120deg,#0000 120deg)"></i>
<i style="inset:140.5px;background:conic-gradient(from 30deg,#09c9e8 0deg,#10b6ef 10deg,#1e96fa 21deg,#2a54f4 42deg,#393ce6 61deg,#3a3adc 74deg,#393ce6 86deg,#2a54f4 106deg,#2570f7 120deg,#0000 120deg)"></i>
<i style="inset:141.5px;background:#000"></i>
</div>
<svg class="ov" width="1264" height="711" viewBox="0 0 1264 711">
<circle cx="300" cy="216.5" r="86" fill="none" stroke="#000" stroke-opacity=".27" stroke-width="1.2"/>
<path d="M311.5 204 Q326 217 312 230 Q308.5 217 311.5 204z" fill="#2fba30" stroke="#0b2b0b" stroke-width="1.1"/>
<path d="M311.5 208.5 q1.5 -2 3.5 -1 M316.5 220.5 q1.5 2 -1 5" fill="none" stroke="#d8e04a" stroke-width="1.4"/>
<path d="M316.5 209.5 Q321 217.5 315.5 226" fill="none" stroke="#061806" stroke-width="1.6"/>
<circle cx="300" cy="216.5" r="6.85" fill="#f4f02a" stroke="#000" stroke-width="3.5"/>
<rect x="-3.1" y="-3.1" width="6.2" height="6.2" rx="1.6" transform="translate(385.8 216.3) rotate(45)" fill="#8ee690" stroke="#0a2a10" stroke-width="1.5"/>
<rect x="-3" y="-3" width="6" height="6" rx="1.6" transform="translate(354.8 151.6) rotate(45)" fill="#ec6660" stroke="#2a1020" stroke-width="1.4"/>
<circle cx="300" cy="531" r="86" fill="none" stroke="#000" stroke-opacity=".27" stroke-width="1.2"/>
<path d="M311 519 q9 -1 9 8 q-2 4 0 7 q0 9 -8 9 q-4 -2 -3 -12 q-1 -9 2 -12z" fill="#ff9fd8" stroke="#e0406a" stroke-width="1"/>
<ellipse cx="315" cy="532" rx="2.5" ry="7" fill="#ffd9f2"/>
<circle cx="300" cy="531" r="6.85" fill="#f4f02a" stroke="#000" stroke-width="3.5"/>
<rect x="-3.1" y="-3.1" width="6.2" height="6.2" rx="1.6" transform="translate(385.8 530.8) rotate(45)" fill="#8ee690" stroke="#0a2a10" stroke-width="1.5"/>
<rect x="-3" y="-3" width="6" height="6" rx="1.6" transform="translate(354.8 466.1) rotate(45)" fill="#ec6660" stroke="#2a1020" stroke-width="1.4"/>
<path d="M528.3 141.8 A86 86 0 0 1 528.3 290.8" fill="none" stroke="#000" stroke-opacity=".3" stroke-width="1.2"/>
<path d="M495.3 202.3 q8 0 9 12 q0 11 -7 13 q-3 -3 -3 -12 q0 -9 1 -13z" fill="#35c03a" stroke="#0a1a0a" stroke-width="1.6"/>
<path d="M496.8 205.3 q3 3 1 8" fill="none" stroke="#e6c83c" stroke-width="2"/>
<circle cx="485.3" cy="216.3" r="5.3" fill="#f2ee32"/>
<circle cx="571.1" cy="213.3" r="3.8" fill="#7fd884" stroke="#021" stroke-width="1.5"/>
<path d="M528.3 456.1 A86 86 0 0 1 528.3 605.1" fill="none" stroke="#000" stroke-opacity=".3" stroke-width="1.2"/>
<path d="M494.3 516.6 q9 1 10 12 q0 10 -7 11 q-4 -2 -4 -11 q-1 -8 1 -12z" fill="#ff9fd8" stroke="#e0406a" stroke-width="1"/>
<ellipse cx="499.3" cy="529.6" rx="2.5" ry="6" fill="#ffd9f2"/>
<circle cx="485.3" cy="530.6" r="5.3" fill="#f2ee32"/>
<circle cx="571.1" cy="527.6" r="3.8" fill="#7fd884" stroke="#021" stroke-width="1.5"/>
<defs><linearGradient id="g1" x1="0" y1="1" x2="0" y2="0"><stop offset="0.000" stop-color="#3c32aa"/><stop offset="0.020" stop-color="#3c36c8"/><stop offset="0.040" stop-color="#393ce6"/><stop offset="0.066" stop-color="#2a54f4"/><stop offset="0.100" stop-color="#1e96fa"/><stop offset="0.130" stop-color="#00dee1"/><stop offset="0.160" stop-color="#00d07d"/><stop offset="0.193" stop-color="#00af2d"/><stop offset="0.222" stop-color="#7dd400"/><stop offset="0.254" stop-color="#ffec00"/><stop offset="0.292" stop-color="#ff9600"/><stop offset="0.332" stop-color="#f05000"/><stop offset="0.367" stop-color="#c81414"/><stop offset="0.400" stop-color="#aa003c"/><stop offset="0.430" stop-color="#dc32c8"/><stop offset="0.460" stop-color="#ffa0ff"/><stop offset="0.510" stop-color="#ffffff"/><stop offset="0.770" stop-color="#808080"/><stop offset="1.000" stop-color="#000000"/></linearGradient></defs><rect x="95.3" y="119.6" width="13.1" height="194" fill="url(#g1)" stroke="#e6e6e6" stroke-width="1.3"/>
<defs><linearGradient id="g2" x1="0" y1="1" x2="0" y2="0"><stop offset="0.000" stop-color="#3c32aa"/><stop offset="0.020" stop-color="#3c36c8"/><stop offset="0.040" stop-color="#393ce6"/><stop offset="0.066" stop-color="#2a54f4"/><stop offset="0.100" stop-color="#1e96fa"/><stop offset="0.130" stop-color="#00dee1"/><stop offset="0.160" stop-color="#00d07d"/><stop offset="0.193" stop-color="#00af2d"/><stop offset="0.222" stop-color="#7dd400"/><stop offset="0.254" stop-color="#ffec00"/><stop offset="0.292" stop-color="#ff9600"/><stop offset="0.332" stop-color="#f05000"/><stop offset="0.367" stop-color="#c81414"/><stop offset="0.400" stop-color="#aa003c"/><stop offset="0.430" stop-color="#dc32c8"/><stop offset="0.460" stop-color="#ffa0ff"/><stop offset="0.510" stop-color="#ffffff"/><stop offset="0.770" stop-color="#808080"/><stop offset="1.000" stop-color="#000000"/></linearGradient></defs><rect x="95.3" y="433.2" width="13.1" height="194.4" fill="url(#g2)" stroke="#e6e6e6" stroke-width="1.3"/>
<g class="t">
<text x="115" y="126.5">60</text>
<text x="115" y="175.1">45</text>
<text x="115" y="223.6">30</text>
<text x="115" y="271.8">15</text>
<text x="115" y="320">0</text>
<text x="111.2" y="440.7">1600</text>
<text x="111.2" y="489.6">1250</text>
<text x="113.3" y="538.5">900</text>
<text x="113.3" y="587.2">550</text>
<text x="113.3" y="636.3">200</text>
</g>
<text class="t" transform="translate(87.5,313) rotate(-90)">Plasma Density (r<tspan font-size="9.5" dy="-8">2</tspan><tspan dy="8">N/cm</tspan><tspan font-size="9.5" dy="-8">3</tspan><tspan dy="8">)</tspan></text>
<text class="t" style="font-size:17.2px" transform="translate(87.6,627.6) rotate(-90)">Radial Velocity (km/s)</text>
<rect x="108.7" y="385.3" width="11.7" height="1.7" fill="#a0a0a0"/>
<rect x="693.3" y="106.9" width="485.7" height="106.7" fill="none" stroke="#c6c6c6" stroke-width="1.7"/>
<path d="M699.4 213.6v-6.5M768.9 213.6v-6.5M838.3 213.6v-6.5M907.8 213.6v-6.5M977.2 213.6v-6.5M1046.7 213.6v-6.5M1116.1 213.6v-6.5M693.3 195.7h6.5M1179.0 195.7h-6.5M693.3 177.8h6.5M1179.0 177.8h-6.5M693.3 160.0h6.5M1179.0 160.0h-6.5M693.3 142.1h6.5M1179.0 142.1h-6.5M693.3 124.2h6.5M1179.0 124.2h-6.5" stroke="#c6c6c6" stroke-width="1.6" fill="none"/>
<rect x="693.3" y="227.9" width="485.7" height="107.1" fill="none" stroke="#c6c6c6" stroke-width="1.7"/>
<path d="M699.4 335.0v-6.5M768.9 335.0v-6.5M838.3 335.0v-6.5M907.8 335.0v-6.5M977.2 335.0v-6.5M1046.7 335.0v-6.5M1116.1 335.0v-6.5M693.3 317.1h6.5M1179.0 317.1h-6.5M693.3 299.2h6.5M1179.0 299.2h-6.5M693.3 281.4h6.5M1179.0 281.4h-6.5M693.3 263.5h6.5M1179.0 263.5h-6.5M693.3 245.6h6.5M1179.0 245.6h-6.5" stroke="#c6c6c6" stroke-width="1.6" fill="none"/>
<rect x="693.3" y="419.7" width="485.7" height="106.8" fill="none" stroke="#c6c6c6" stroke-width="1.7"/>
<path d="M699.4 526.5v-6.5M768.9 526.5v-6.5M838.3 526.5v-6.5M907.8 526.5v-6.5M977.2 526.5v-6.5M1046.7 526.5v-6.5M1116.1 526.5v-6.5M693.3 447.3h6.5M1179.0 447.3h-6.5M693.3 473.9h6.5M1179.0 473.9h-6.5M693.3 500.4h6.5M1179.0 500.4h-6.5" stroke="#c6c6c6" stroke-width="1.6" fill="none"/>
<rect x="693.3" y="540.9" width="485.7" height="107.1" fill="none" stroke="#c6c6c6" stroke-width="1.7"/>
<path d="M699.4 648.0v-6.5M768.9 648.0v-6.5M838.3 648.0v-6.5M907.8 648.0v-6.5M977.2 648.0v-6.5M1046.7 648.0v-6.5M1116.1 648.0v-6.5M693.3 568.0h6.5M1179.0 568.0h-6.5M693.3 594.7h6.5M1179.0 594.7h-6.5M693.3 621.4h6.5M1179.0 621.4h-6.5" stroke="#c6c6c6" stroke-width="1.6" fill="none"/>
<polyline points="693.2,189.5 704.6,191.1 714.1,194.7 726.0,199.0 740.2,202.3 759.2,204.7 768.7,205.1 832.8,205.1 837.5,203.7 858.9,203.7 864.3,202.3 870.7,201.8 885.0,201.3 887.4,200.4 906.3,200.2 909.9,198.7 930.1,198.7 930.0,198.7 973.9,198.7 975.1,197.8 992.9,197.8 994.6,189.9 996.5,166.2 998.4,146.0 1000.0,146.7 1003.6,152.0 1006.4,152.0 1008.3,142.5 1010.7,128.2 1012.4,124.0 1014.3,124.7 1017.8,129.4 1021.4,135.4 1024.9,141.3 1028.5,144.8 1033.3,150.8 1038.0,159.1 1041.6,168.6 1046.3,180.4 1051.1,189.9 1055.8,197.1 1060.5,203.7 1066.5,208.5 1072.4,211.3 1077.2,212.5 1129.4,212.5 1134.1,211.3 1141.3,210.1 1148.4,206.6 1155.5,200.6 1161.4,194.7 1165.0,190.4 1167.4,188.8 1172.1,188.8 1175.7,186.4 1178.5,184.7" fill="none" stroke="#86c98a" stroke-width="1.5" stroke-linejoin="round"/>
<polyline points="693.2,326.8 712.9,326.8 714.1,325.4 740.2,325.4 742.6,324.0 760.4,324.0 762.7,322.5 766.3,324.0 768.7,324.4 771.1,322.5 816.2,322.5 820.9,324.4 851.8,324.4 856.5,325.6 864.3,324.4 868.4,325.6 873.1,324.4 877.9,325.9 894.5,324.4 896.9,323.0 906.3,322.5 918.2,320.9 929.6,318.0 930.0,318.5 939.5,316.1 949.0,314.9 965.6,314.9 970.4,316.1 977.5,316.8 983.4,316.8 987.0,314.0 990.5,313.5 995.3,316.4 1000.0,319.2 1010.7,319.2 1017.8,316.8 1024.9,316.6 1029.7,315.4 1036.8,316.8 1046.3,318.0 1055.8,321.6 1067.7,325.2 1081.9,328.0 1091.4,328.5 1112.8,328.0 1119.9,326.1 1131.8,325.4 1136.5,324.0 1153.1,324.0 1157.9,322.5 1178.5,322.5" fill="none" stroke="#a8405a" stroke-width="1.5" stroke-linejoin="round"/>
<polyline points="693.2,497.1 701.0,488.1 709.3,476.2 718.8,460.8 726.0,451.3 731.9,447.0 747.3,447.0 759.2,449.6 773.4,456.0 792.4,466.2 811.4,476.2 830.4,485.2 839.9,489.3 854.1,493.5 864.3,496.4 871.9,497.8 899.2,497.8 905.2,499.2 929.6,499.2 930.0,499.5 937.1,500.7 956.1,500.7 960.9,501.8 972.7,502.3 984.6,504.0 992.9,504.0 994.1,497.6 995.5,462.0 997.6,450.1 1001.2,448.4 1006.0,450.1 1011.9,454.8 1020.2,463.2 1029.7,472.6 1039.2,479.1 1051.1,484.5 1062.9,489.3 1071.2,492.1 1074.8,489.3 1078.4,481.4 1081.9,479.1 1086.7,480.0 1096.2,484.5 1110.4,489.3 1124.6,493.3 1136.5,496.6 1146.0,498.3 1153.1,497.1 1160.2,494.5 1167.4,490.9 1174.5,488.1 1178.5,485.7" fill="none" stroke="#86c98a" stroke-width="1.5" stroke-linejoin="round"/>
<polyline points="693.2,587.0 704.6,590.5 721.2,596.9 740.2,602.4 756.8,605.0 775.8,605.0 792.4,601.9 811.4,596.5 828.0,592.2 842.3,591.2 854.1,592.7 864.3,594.6 877.9,598.8 892.1,606.0 906.3,613.1 920.6,619.7 929.6,622.6 930.0,622.6 944.2,622.6 953.7,620.7 963.2,617.3 972.7,610.7 982.2,601.2 987.0,589.3 991.7,581.0 997.6,577.0 1001.2,576.3 1008.3,578.7 1020.2,583.4 1032.1,589.3 1043.9,596.5 1058.2,602.4 1072.4,606.0 1081.9,606.4 1096.2,608.3 1115.1,612.6 1134.1,615.0 1153.1,617.8 1178.5,618.3" fill="none" stroke="#a8405a" stroke-width="1.5" stroke-linejoin="round"/>
<rect x="863.1" y="105.4" width="2.4" height="109.2" fill="#ecec70"/>
<rect x="863.1" y="226.4" width="2.4" height="109.6" fill="#ecec70"/>
<rect x="863.1" y="418.2" width="2.4" height="109.3" fill="#ecec70"/>
<rect x="863.1" y="539.4" width="2.4" height="109.6" fill="#ecec70"/>
<circle cx="864.3" cy="202.3" r="2.8" fill="#e9e45a"/>
<circle cx="864.3" cy="324.5" r="2.8" fill="#e9e45a"/>
<circle cx="864.3" cy="496.5" r="2.8" fill="#e9e45a"/>
<circle cx="864.3" cy="594.5" r="2.8" fill="#e9e45a"/>
<g class="t" style="font-size:17.1px">
<text x="705.5" y="126.2">EARTH</text><text x="705.5" y="247.8">STEREO A</text><text x="705.5" y="439.7">EARTH</text><text x="705.5" y="560.7">STEREO A</text>
</g><g class="t" text-anchor="end">
<text x="681.8" y="130.4">25</text>
<text x="681.8" y="166.2">15</text>
<text x="681.8" y="201.9">5</text>
<text x="681.8" y="251.6">25</text>
<text x="681.8" y="287.3">15</text>
<text x="681.8" y="322.9">5</text>
<text x="681.8" y="453.3">600</text>
<text x="681.8" y="506.4">400</text>
<text x="681.8" y="574">600</text>
<text x="681.8" y="627.4">400</text>
</g><g class="t" text-anchor="middle">
<text x="699.1" y="354.2">05</text><text x="699.1" y="667.4">05</text>
<text x="768.6" y="354.2">06</text><text x="768.6" y="667.4">06</text>
<text x="838.0" y="354.2">07</text><text x="838.0" y="667.4">07</text>
<text x="907.5" y="354.2">08</text><text x="907.5" y="667.4">08</text>
<text x="976.9" y="354.2">09</text><text x="976.9" y="667.4">09</text>
<text x="1046.4" y="354.2">10</text><text x="1046.4" y="667.4">10</text>
<text x="1115.8" y="354.2">11</text><text x="1115.8" y="667.4">11</text>
<text x="936.5" y="97.1">Plasma Density (/cm<tspan font-size="8.5" dy="-10.5">3</tspan><tspan dy="10.5">)</tspan></text>
<text x="934.5" y="409.8">Radial Velocity (km/s)</text>
</g>
<text x="414.9" y="53.4" font-family="'Liberation Mono','DejaVu Sans Mono',monospace" font-size="42.3" fill="#dfe65a" stroke="#000" stroke-width=".15">2025-12-07 09:00Z</text>
<rect x="449.2" y="33.5" width="7.6" height="12" fill="#000"/>
<rect x="626.8" y="33.5" width="7.6" height="12" fill="#000"/>
<rect x="703.0" y="33.5" width="7.6" height="12" fill="#000"/>
<rect x="779.1" y="33.5" width="7.6" height="12" fill="#000"/>
<rect x="804.5" y="33.5" width="7.6" height="12" fill="#000"/>
<g class="t" style="font-size:17px"><text x="62.5" y="706.3">Space Weather Prediction Center</text><text x="510" y="706.3" xml:space="preserve">Run Time: 2025-12-06 22:00Z  Mode: CME</text><text x="932" y="706.3">Image Created: 2025-12-07 00:22Z</text></g>
</svg>
</body></html>
